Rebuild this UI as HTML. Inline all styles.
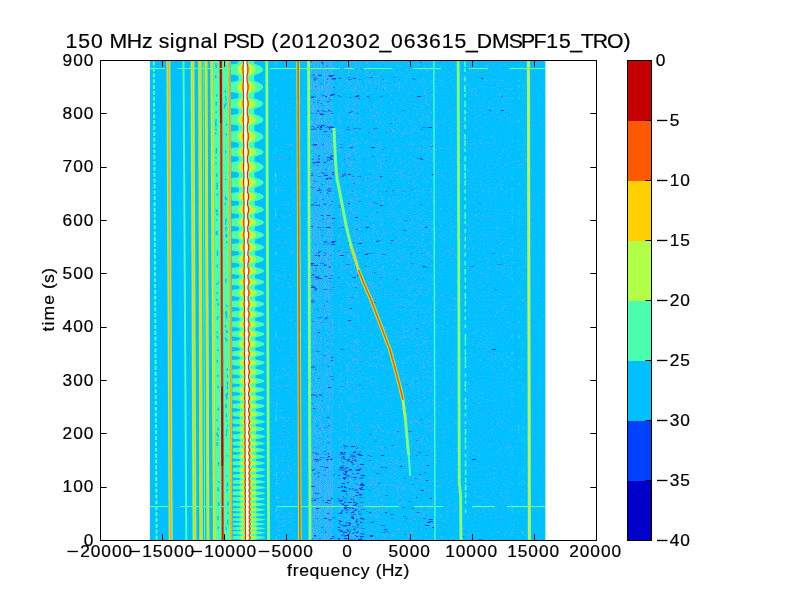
<!DOCTYPE html>
<html><head><meta charset="utf-8"><style>
html,body{margin:0;padding:0;background:#fff;}
svg{display:block;will-change:transform;}
text{font-family:"Liberation Sans",sans-serif;fill:#000;stroke:#000;stroke-width:0.22px;}
</style></head><body>
<svg width="800" height="600" viewBox="0 0 800 600">
<rect width="800" height="600" fill="#fff"/>
<defs><clipPath id="c"><rect x="150" y="61" width="395.6" height="479"/></clipPath></defs>
<g clip-path="url(#c)">
<rect x="150" y="61" width="395.6" height="479" fill="#00c0ff"/>
<path fill="#5cacf6" d="M313 61h2v1h-2zM320 61h2v1h-2zM326 61h1v1h-1zM330 61h2v1h-2zM346 61h1v1h-1zM350 61h1v1h-1zM353 61h1v1h-1zM355 61h1v1h-1zM382 61h1v1h-1zM391 61h2v1h-2zM404 61h1v1h-1zM423 61h1v1h-1zM426 61h1v1h-1zM311 62h2v1h-2zM314 62h2v1h-2zM317 62h2v1h-2zM324 62h2v1h-2zM329 62h1v1h-1zM332 62h1v1h-1zM347 62h2v1h-2zM352 62h1v1h-1zM354 62h2v1h-2zM367 62h2v1h-2zM382 62h1v1h-1zM387 62h1v1h-1zM390 62h1v1h-1zM407 62h1v1h-1zM417 62h2v1h-2zM423 62h1v1h-1zM427 62h2v1h-2zM311 63h1v1h-1zM314 63h2v1h-2zM318 63h1v1h-1zM320 63h1v1h-1zM324 63h1v1h-1zM326 63h1v1h-1zM329 63h1v1h-1zM331 63h1v1h-1zM347 63h2v1h-2zM350 63h1v1h-1zM366 63h2v1h-2zM373 63h1v1h-1zM376 63h1v1h-1zM378 63h1v1h-1zM384 63h1v1h-1zM396 63h1v1h-1zM408 63h1v1h-1zM311 64h1v1h-1zM313 64h1v1h-1zM318 64h1v1h-1zM320 64h1v1h-1zM324 64h2v1h-2zM327 64h1v1h-1zM329 64h2v1h-2zM342 64h1v1h-1zM347 64h1v1h-1zM355 64h1v1h-1zM359 64h2v1h-2zM371 64h1v1h-1zM379 64h1v1h-1zM417 64h2v1h-2zM311 65h1v1h-1zM314 65h1v1h-1zM316 65h2v1h-2zM320 65h2v1h-2zM324 65h2v1h-2zM327 65h1v1h-1zM330 65h2v1h-2zM340 65h1v1h-1zM356 65h1v1h-1zM359 65h1v1h-1zM370 65h1v1h-1zM385 65h1v1h-1zM396 65h1v1h-1zM400 65h1v1h-1zM402 65h1v1h-1zM405 65h1v1h-1zM415 65h2v1h-2zM427 65h1v1h-1zM313 66h1v1h-1zM317 66h1v1h-1zM320 66h1v1h-1zM324 66h1v1h-1zM326 66h1v1h-1zM329 66h1v1h-1zM331 66h2v1h-2zM334 66h1v1h-1zM339 66h2v1h-2zM347 66h2v1h-2zM351 66h1v1h-1zM354 66h1v1h-1zM356 66h1v1h-1zM359 66h1v1h-1zM367 66h2v1h-2zM377 66h1v1h-1zM388 66h1v1h-1zM424 66h1v1h-1zM313 67h1v1h-1zM315 67h1v1h-1zM317 67h1v1h-1zM320 67h1v1h-1zM325 67h2v1h-2zM329 67h2v1h-2zM332 67h2v1h-2zM351 67h1v1h-1zM357 67h1v1h-1zM369 67h1v1h-1zM374 67h1v1h-1zM311 68h1v1h-1zM316 68h1v1h-1zM318 68h2v1h-2zM321 68h2v1h-2zM325 68h1v1h-1zM327 68h2v1h-2zM331 68h1v1h-1zM338 68h2v1h-2zM341 68h2v1h-2zM350 68h2v1h-2zM359 68h1v1h-1zM407 68h1v1h-1zM311 69h2v1h-2zM314 69h1v1h-1zM317 69h2v1h-2zM323 69h2v1h-2zM326 69h1v1h-1zM330 69h2v1h-2zM345 69h1v1h-1zM351 69h1v1h-1zM359 69h1v1h-1zM392 69h2v1h-2zM419 69h1v1h-1zM426 69h1v1h-1zM311 70h1v1h-1zM315 70h1v1h-1zM318 70h1v1h-1zM320 70h2v1h-2zM323 70h1v1h-1zM326 70h2v1h-2zM329 70h2v1h-2zM332 70h1v1h-1zM339 70h1v1h-1zM354 70h1v1h-1zM358 70h1v1h-1zM365 70h2v1h-2zM368 70h1v1h-1zM407 70h1v1h-1zM425 70h1v1h-1zM428 70h1v1h-1zM311 71h1v1h-1zM313 71h1v1h-1zM315 71h2v1h-2zM318 71h1v1h-1zM321 71h1v1h-1zM324 71h1v1h-1zM326 71h2v1h-2zM329 71h1v1h-1zM331 71h1v1h-1zM339 71h1v1h-1zM341 71h1v1h-1zM348 71h2v1h-2zM352 71h1v1h-1zM354 71h1v1h-1zM359 71h2v1h-2zM380 71h1v1h-1zM383 71h2v1h-2zM393 71h2v1h-2zM399 71h1v1h-1zM411 71h1v1h-1zM416 71h1v1h-1zM426 71h2v1h-2zM311 72h1v1h-1zM313 72h2v1h-2zM318 72h1v1h-1zM324 72h1v1h-1zM328 72h2v1h-2zM331 72h2v1h-2zM338 72h1v1h-1zM348 72h2v1h-2zM356 72h2v1h-2zM366 72h2v1h-2zM371 72h2v1h-2zM379 72h2v1h-2zM387 72h1v1h-1zM400 72h2v1h-2zM412 72h1v1h-1zM427 72h1v1h-1zM311 73h2v1h-2zM315 73h2v1h-2zM319 73h1v1h-1zM321 73h1v1h-1zM323 73h2v1h-2zM327 73h1v1h-1zM331 73h2v1h-2zM341 73h2v1h-2zM346 73h1v1h-1zM354 73h1v1h-1zM371 73h1v1h-1zM396 73h1v1h-1zM404 73h1v1h-1zM315 74h2v1h-2zM323 74h2v1h-2zM326 74h2v1h-2zM329 74h1v1h-1zM331 74h2v1h-2zM348 74h1v1h-1zM365 74h2v1h-2zM378 74h1v1h-1zM408 74h2v1h-2zM315 75h2v1h-2zM323 75h2v1h-2zM326 75h1v1h-1zM328 75h1v1h-1zM341 75h2v1h-2zM351 75h1v1h-1zM353 75h1v1h-1zM358 75h1v1h-1zM366 75h1v1h-1zM369 75h1v1h-1zM399 75h1v1h-1zM403 75h1v1h-1zM318 76h2v1h-2zM321 76h2v1h-2zM324 76h1v1h-1zM327 76h1v1h-1zM345 76h1v1h-1zM347 76h1v1h-1zM358 76h1v1h-1zM363 76h1v1h-1zM369 76h1v1h-1zM373 76h2v1h-2zM376 76h2v1h-2zM423 76h1v1h-1zM312 77h1v1h-1zM317 77h1v1h-1zM324 77h1v1h-1zM326 77h1v1h-1zM328 77h2v1h-2zM331 77h1v1h-1zM344 77h1v1h-1zM357 77h2v1h-2zM377 77h1v1h-1zM405 77h1v1h-1zM319 78h2v1h-2zM322 78h2v1h-2zM326 78h1v1h-1zM374 78h1v1h-1zM397 78h2v1h-2zM422 78h1v1h-1zM311 79h2v1h-2zM317 79h1v1h-1zM319 79h1v1h-1zM324 79h2v1h-2zM330 79h1v1h-1zM339 79h1v1h-1zM345 79h1v1h-1zM355 79h1v1h-1zM366 79h1v1h-1zM368 79h1v1h-1zM379 79h2v1h-2zM386 79h1v1h-1zM404 79h1v1h-1zM407 79h1v1h-1zM410 79h1v1h-1zM419 79h1v1h-1zM423 79h2v1h-2zM311 80h1v1h-1zM313 80h2v1h-2zM316 80h2v1h-2zM320 80h1v1h-1zM324 80h1v1h-1zM327 80h2v1h-2zM330 80h2v1h-2zM338 80h1v1h-1zM346 80h2v1h-2zM351 80h2v1h-2zM357 80h2v1h-2zM369 80h1v1h-1zM378 80h2v1h-2zM384 80h2v1h-2zM397 80h1v1h-1zM404 80h2v1h-2zM417 80h1v1h-1zM429 80h1v1h-1zM311 81h1v1h-1zM313 81h1v1h-1zM315 81h1v1h-1zM317 81h1v1h-1zM321 81h1v1h-1zM324 81h1v1h-1zM326 81h1v1h-1zM328 81h1v1h-1zM330 81h1v1h-1zM332 81h2v1h-2zM342 81h1v1h-1zM346 81h2v1h-2zM354 81h2v1h-2zM360 81h1v1h-1zM365 81h1v1h-1zM369 81h2v1h-2zM374 81h2v1h-2zM382 81h2v1h-2zM386 81h2v1h-2zM419 81h2v1h-2zM424 81h2v1h-2zM311 82h1v1h-1zM315 82h2v1h-2zM318 82h1v1h-1zM324 82h2v1h-2zM329 82h1v1h-1zM350 82h1v1h-1zM369 82h1v1h-1zM377 82h1v1h-1zM400 82h1v1h-1zM421 82h2v1h-2zM313 83h2v1h-2zM316 83h1v1h-1zM318 83h1v1h-1zM320 83h1v1h-1zM322 83h1v1h-1zM324 83h1v1h-1zM328 83h2v1h-2zM332 83h1v1h-1zM339 83h1v1h-1zM347 83h1v1h-1zM349 83h1v1h-1zM351 83h2v1h-2zM358 83h2v1h-2zM366 83h1v1h-1zM369 83h2v1h-2zM375 83h2v1h-2zM378 83h2v1h-2zM397 83h2v1h-2zM410 83h1v1h-1zM311 84h1v1h-1zM313 84h1v1h-1zM315 84h2v1h-2zM324 84h1v1h-1zM327 84h2v1h-2zM340 84h2v1h-2zM347 84h1v1h-1zM357 84h2v1h-2zM370 84h1v1h-1zM375 84h1v1h-1zM392 84h1v1h-1zM395 84h1v1h-1zM399 84h1v1h-1zM401 84h2v1h-2zM405 84h2v1h-2zM412 84h2v1h-2zM418 84h1v1h-1zM427 84h1v1h-1zM311 85h1v1h-1zM313 85h1v1h-1zM315 85h2v1h-2zM318 85h1v1h-1zM320 85h1v1h-1zM324 85h1v1h-1zM326 85h2v1h-2zM331 85h2v1h-2zM348 85h2v1h-2zM355 85h1v1h-1zM357 85h1v1h-1zM365 85h1v1h-1zM383 85h1v1h-1zM385 85h2v1h-2zM395 85h2v1h-2zM422 85h1v1h-1zM311 86h1v1h-1zM313 86h2v1h-2zM317 86h1v1h-1zM319 86h1v1h-1zM321 86h2v1h-2zM324 86h2v1h-2zM327 86h2v1h-2zM331 86h2v1h-2zM340 86h1v1h-1zM354 86h1v1h-1zM357 86h1v1h-1zM359 86h1v1h-1zM361 86h2v1h-2zM374 86h1v1h-1zM381 86h1v1h-1zM399 86h2v1h-2zM407 86h1v1h-1zM415 86h1v1h-1zM311 87h1v1h-1zM313 87h1v1h-1zM316 87h1v1h-1zM318 87h2v1h-2zM321 87h2v1h-2zM324 87h1v1h-1zM326 87h1v1h-1zM328 87h1v1h-1zM330 87h2v1h-2zM338 87h1v1h-1zM347 87h1v1h-1zM351 87h2v1h-2zM355 87h1v1h-1zM359 87h1v1h-1zM366 87h2v1h-2zM373 87h1v1h-1zM375 87h1v1h-1zM379 87h1v1h-1zM382 87h1v1h-1zM384 87h2v1h-2zM398 87h2v1h-2zM402 87h1v1h-1zM423 87h1v1h-1zM311 88h1v1h-1zM313 88h2v1h-2zM316 88h1v1h-1zM318 88h2v1h-2zM321 88h2v1h-2zM324 88h1v1h-1zM327 88h1v1h-1zM329 88h1v1h-1zM332 88h1v1h-1zM340 88h1v1h-1zM354 88h2v1h-2zM357 88h1v1h-1zM365 88h1v1h-1zM372 88h1v1h-1zM376 88h2v1h-2zM384 88h2v1h-2zM414 88h2v1h-2zM425 88h1v1h-1zM427 88h1v1h-1zM311 89h2v1h-2zM315 89h2v1h-2zM318 89h2v1h-2zM321 89h2v1h-2zM324 89h1v1h-1zM326 89h2v1h-2zM329 89h1v1h-1zM331 89h1v1h-1zM338 89h1v1h-1zM340 89h1v1h-1zM349 89h2v1h-2zM354 89h1v1h-1zM357 89h2v1h-2zM366 89h1v1h-1zM373 89h1v1h-1zM378 89h1v1h-1zM383 89h2v1h-2zM398 89h2v1h-2zM404 89h2v1h-2zM429 89h1v1h-1zM314 90h1v1h-1zM318 90h1v1h-1zM320 90h2v1h-2zM326 90h1v1h-1zM328 90h1v1h-1zM331 90h1v1h-1zM341 90h1v1h-1zM343 90h2v1h-2zM346 90h1v1h-1zM350 90h1v1h-1zM353 90h1v1h-1zM358 90h1v1h-1zM364 90h1v1h-1zM425 90h1v1h-1zM313 91h1v1h-1zM315 91h1v1h-1zM317 91h1v1h-1zM319 91h1v1h-1zM321 91h1v1h-1zM324 91h1v1h-1zM326 91h2v1h-2zM329 91h2v1h-2zM352 91h1v1h-1zM354 91h1v1h-1zM359 91h1v1h-1zM378 91h2v1h-2zM391 91h2v1h-2zM409 91h2v1h-2zM424 91h2v1h-2zM313 92h2v1h-2zM317 92h2v1h-2zM322 92h2v1h-2zM326 92h1v1h-1zM330 92h1v1h-1zM347 92h1v1h-1zM368 92h2v1h-2zM384 92h1v1h-1zM311 93h1v1h-1zM313 93h1v1h-1zM317 93h1v1h-1zM319 93h1v1h-1zM323 93h1v1h-1zM325 93h2v1h-2zM328 93h1v1h-1zM330 93h1v1h-1zM339 93h1v1h-1zM341 93h1v1h-1zM353 93h2v1h-2zM356 93h1v1h-1zM366 93h2v1h-2zM371 93h1v1h-1zM401 93h1v1h-1zM408 93h2v1h-2zM424 93h2v1h-2zM312 94h1v1h-1zM316 94h1v1h-1zM319 94h1v1h-1zM324 94h2v1h-2zM329 94h1v1h-1zM338 94h1v1h-1zM340 94h1v1h-1zM407 94h2v1h-2zM424 94h2v1h-2zM429 94h1v1h-1zM317 95h2v1h-2zM326 95h1v1h-1zM328 95h1v1h-1zM341 95h1v1h-1zM353 95h1v1h-1zM360 95h1v1h-1zM390 95h2v1h-2zM427 95h1v1h-1zM313 96h2v1h-2zM318 96h2v1h-2zM328 96h2v1h-2zM331 96h1v1h-1zM425 96h2v1h-2zM316 97h1v1h-1zM320 97h1v1h-1zM323 97h2v1h-2zM327 97h1v1h-1zM331 97h2v1h-2zM357 97h1v1h-1zM375 97h1v1h-1zM398 97h1v1h-1zM422 97h1v1h-1zM312 98h2v1h-2zM315 98h2v1h-2zM320 98h2v1h-2zM324 98h2v1h-2zM327 98h1v1h-1zM330 98h2v1h-2zM349 98h1v1h-1zM413 98h1v1h-1zM311 99h1v1h-1zM313 99h1v1h-1zM315 99h2v1h-2zM318 99h2v1h-2zM321 99h2v1h-2zM324 99h1v1h-1zM327 99h1v1h-1zM339 99h2v1h-2zM348 99h1v1h-1zM352 99h1v1h-1zM356 99h1v1h-1zM358 99h1v1h-1zM397 99h1v1h-1zM402 99h2v1h-2zM405 99h1v1h-1zM411 99h1v1h-1zM415 99h1v1h-1zM421 99h1v1h-1zM426 99h1v1h-1zM321 100h1v1h-1zM327 100h1v1h-1zM339 100h1v1h-1zM354 100h2v1h-2zM357 100h1v1h-1zM366 100h1v1h-1zM380 100h1v1h-1zM411 100h1v1h-1zM425 100h1v1h-1zM312 101h1v1h-1zM314 101h1v1h-1zM316 101h1v1h-1zM319 101h1v1h-1zM321 101h1v1h-1zM324 101h1v1h-1zM328 101h2v1h-2zM331 101h1v1h-1zM342 101h1v1h-1zM345 101h2v1h-2zM352 101h2v1h-2zM356 101h1v1h-1zM362 101h1v1h-1zM379 101h1v1h-1zM391 101h1v1h-1zM395 101h2v1h-2zM311 102h2v1h-2zM314 102h1v1h-1zM316 102h1v1h-1zM320 102h1v1h-1zM324 102h1v1h-1zM326 102h1v1h-1zM331 102h1v1h-1zM349 102h1v1h-1zM357 102h1v1h-1zM374 102h1v1h-1zM377 102h1v1h-1zM381 102h1v1h-1zM391 102h1v1h-1zM404 102h2v1h-2zM425 102h1v1h-1zM311 103h2v1h-2zM314 103h1v1h-1zM316 103h1v1h-1zM319 103h2v1h-2zM324 103h1v1h-1zM326 103h1v1h-1zM329 103h2v1h-2zM348 103h2v1h-2zM354 103h2v1h-2zM363 103h1v1h-1zM375 103h1v1h-1zM391 103h1v1h-1zM410 103h1v1h-1zM425 103h2v1h-2zM311 104h1v1h-1zM313 104h1v1h-1zM318 104h2v1h-2zM321 104h2v1h-2zM324 104h2v1h-2zM327 104h1v1h-1zM331 104h2v1h-2zM347 104h2v1h-2zM352 104h1v1h-1zM354 104h1v1h-1zM364 104h1v1h-1zM367 104h1v1h-1zM374 104h1v1h-1zM401 104h1v1h-1zM415 104h2v1h-2zM428 104h2v1h-2zM312 105h1v1h-1zM314 105h1v1h-1zM316 105h1v1h-1zM318 105h1v1h-1zM326 105h1v1h-1zM328 105h2v1h-2zM332 105h1v1h-1zM338 105h1v1h-1zM354 105h2v1h-2zM373 105h2v1h-2zM381 105h2v1h-2zM393 105h2v1h-2zM421 105h2v1h-2zM427 105h2v1h-2zM312 106h2v1h-2zM315 106h1v1h-1zM317 106h1v1h-1zM320 106h1v1h-1zM324 106h1v1h-1zM327 106h1v1h-1zM339 106h1v1h-1zM345 106h1v1h-1zM393 106h1v1h-1zM312 107h2v1h-2zM316 107h1v1h-1zM319 107h1v1h-1zM324 107h1v1h-1zM327 107h2v1h-2zM330 107h1v1h-1zM347 107h1v1h-1zM374 107h2v1h-2zM377 107h1v1h-1zM311 108h1v1h-1zM313 108h2v1h-2zM316 108h1v1h-1zM320 108h2v1h-2zM325 108h1v1h-1zM329 108h1v1h-1zM331 108h2v1h-2zM338 108h1v1h-1zM347 108h2v1h-2zM352 108h2v1h-2zM365 108h1v1h-1zM401 108h1v1h-1zM413 108h2v1h-2zM420 108h1v1h-1zM311 109h2v1h-2zM314 109h1v1h-1zM316 109h2v1h-2zM320 109h2v1h-2zM324 109h2v1h-2zM327 109h1v1h-1zM329 109h1v1h-1zM331 109h1v1h-1zM353 109h1v1h-1zM370 109h2v1h-2zM374 109h1v1h-1zM394 109h1v1h-1zM312 110h2v1h-2zM315 110h1v1h-1zM318 110h2v1h-2zM325 110h2v1h-2zM332 110h1v1h-1zM341 110h1v1h-1zM353 110h1v1h-1zM355 110h2v1h-2zM358 110h2v1h-2zM366 110h1v1h-1zM372 110h1v1h-1zM395 110h1v1h-1zM428 110h2v1h-2zM312 111h2v1h-2zM315 111h1v1h-1zM341 111h1v1h-1zM346 111h2v1h-2zM408 111h1v1h-1zM420 111h1v1h-1zM312 112h1v1h-1zM314 112h1v1h-1zM316 112h1v1h-1zM318 112h1v1h-1zM320 112h1v1h-1zM324 112h1v1h-1zM326 112h1v1h-1zM328 112h1v1h-1zM330 112h2v1h-2zM339 112h1v1h-1zM342 112h1v1h-1zM376 112h2v1h-2zM379 112h1v1h-1zM384 112h2v1h-2zM402 112h1v1h-1zM407 112h1v1h-1zM427 112h1v1h-1zM318 113h1v1h-1zM320 113h1v1h-1zM322 113h2v1h-2zM327 113h1v1h-1zM329 113h1v1h-1zM339 113h1v1h-1zM351 113h2v1h-2zM392 113h2v1h-2zM402 113h1v1h-1zM311 114h1v1h-1zM315 114h1v1h-1zM317 114h1v1h-1zM325 114h2v1h-2zM329 114h1v1h-1zM331 114h2v1h-2zM340 114h1v1h-1zM345 114h1v1h-1zM349 114h1v1h-1zM351 114h2v1h-2zM356 114h1v1h-1zM377 114h2v1h-2zM416 114h2v1h-2zM421 114h1v1h-1zM423 114h1v1h-1zM311 115h1v1h-1zM313 115h1v1h-1zM315 115h1v1h-1zM317 115h1v1h-1zM319 115h1v1h-1zM321 115h2v1h-2zM324 115h1v1h-1zM326 115h1v1h-1zM329 115h1v1h-1zM331 115h1v1h-1zM338 115h1v1h-1zM351 115h1v1h-1zM353 115h1v1h-1zM358 115h2v1h-2zM364 115h1v1h-1zM372 115h1v1h-1zM374 115h2v1h-2zM383 115h1v1h-1zM389 115h1v1h-1zM396 115h1v1h-1zM405 115h1v1h-1zM413 115h1v1h-1zM426 115h1v1h-1zM312 116h1v1h-1zM314 116h1v1h-1zM318 116h1v1h-1zM320 116h2v1h-2zM325 116h1v1h-1zM329 116h1v1h-1zM331 116h1v1h-1zM344 116h1v1h-1zM353 116h1v1h-1zM355 116h2v1h-2zM375 116h1v1h-1zM395 116h1v1h-1zM399 116h2v1h-2zM426 116h2v1h-2zM429 116h1v1h-1zM313 117h1v1h-1zM316 117h1v1h-1zM318 117h1v1h-1zM320 117h2v1h-2zM324 117h2v1h-2zM327 117h1v1h-1zM330 117h1v1h-1zM332 117h1v1h-1zM338 117h1v1h-1zM348 117h1v1h-1zM350 117h1v1h-1zM352 117h1v1h-1zM366 117h2v1h-2zM372 117h2v1h-2zM428 117h1v1h-1zM312 118h1v1h-1zM316 118h2v1h-2zM319 118h1v1h-1zM323 118h2v1h-2zM326 118h1v1h-1zM328 118h1v1h-1zM332 118h2v1h-2zM338 118h1v1h-1zM348 118h1v1h-1zM350 118h1v1h-1zM352 118h1v1h-1zM355 118h1v1h-1zM363 118h1v1h-1zM369 118h2v1h-2zM373 118h2v1h-2zM388 118h1v1h-1zM392 118h2v1h-2zM403 118h1v1h-1zM421 118h2v1h-2zM319 119h1v1h-1zM324 119h2v1h-2zM338 119h1v1h-1zM359 119h1v1h-1zM399 119h1v1h-1zM311 120h1v1h-1zM315 120h1v1h-1zM317 120h1v1h-1zM319 120h1v1h-1zM321 120h1v1h-1zM324 120h1v1h-1zM326 120h1v1h-1zM328 120h1v1h-1zM330 120h1v1h-1zM332 120h1v1h-1zM340 120h2v1h-2zM347 120h1v1h-1zM354 120h1v1h-1zM359 120h1v1h-1zM376 120h1v1h-1zM399 120h2v1h-2zM409 120h2v1h-2zM418 120h2v1h-2zM421 120h1v1h-1zM426 120h1v1h-1zM311 121h1v1h-1zM313 121h1v1h-1zM316 121h1v1h-1zM318 121h2v1h-2zM321 121h2v1h-2zM325 121h2v1h-2zM329 121h1v1h-1zM331 121h1v1h-1zM338 121h1v1h-1zM352 121h1v1h-1zM358 121h1v1h-1zM375 121h2v1h-2zM381 121h1v1h-1zM392 121h2v1h-2zM396 121h2v1h-2zM411 121h2v1h-2zM428 121h1v1h-1zM311 122h2v1h-2zM314 122h1v1h-1zM316 122h2v1h-2zM319 122h1v1h-1zM321 122h2v1h-2zM324 122h1v1h-1zM326 122h1v1h-1zM330 122h1v1h-1zM339 122h1v1h-1zM346 122h2v1h-2zM350 122h2v1h-2zM354 122h1v1h-1zM356 122h1v1h-1zM359 122h2v1h-2zM378 122h2v1h-2zM383 122h2v1h-2zM388 122h1v1h-1zM394 122h1v1h-1zM421 122h2v1h-2zM311 123h2v1h-2zM315 123h2v1h-2zM318 123h1v1h-1zM321 123h1v1h-1zM324 123h1v1h-1zM327 123h1v1h-1zM329 123h1v1h-1zM331 123h1v1h-1zM340 123h1v1h-1zM347 123h1v1h-1zM358 123h1v1h-1zM370 123h1v1h-1zM379 123h2v1h-2zM409 123h2v1h-2zM418 123h1v1h-1zM311 124h1v1h-1zM314 124h2v1h-2zM318 124h1v1h-1zM327 124h1v1h-1zM329 124h2v1h-2zM332 124h2v1h-2zM340 124h1v1h-1zM349 124h1v1h-1zM351 124h1v1h-1zM356 124h1v1h-1zM363 124h2v1h-2zM403 124h1v1h-1zM421 124h2v1h-2zM311 125h1v1h-1zM313 125h2v1h-2zM326 125h1v1h-1zM328 125h1v1h-1zM331 125h1v1h-1zM354 125h2v1h-2zM358 125h1v1h-1zM382 125h2v1h-2zM396 125h2v1h-2zM405 125h1v1h-1zM413 125h1v1h-1zM316 126h1v1h-1zM325 126h1v1h-1zM339 126h1v1h-1zM359 126h1v1h-1zM377 126h1v1h-1zM312 127h2v1h-2zM350 127h1v1h-1zM368 127h1v1h-1zM393 127h1v1h-1zM416 127h1v1h-1zM317 128h1v1h-1zM319 128h1v1h-1zM323 128h1v1h-1zM325 128h1v1h-1zM327 128h1v1h-1zM331 128h2v1h-2zM336 128h1v1h-1zM351 128h2v1h-2zM365 128h1v1h-1zM397 128h2v1h-2zM405 128h1v1h-1zM429 128h1v1h-1zM314 129h1v1h-1zM316 129h2v1h-2zM325 129h1v1h-1zM332 129h2v1h-2zM342 129h2v1h-2zM377 129h1v1h-1zM385 129h1v1h-1zM390 129h2v1h-2zM413 129h1v1h-1zM415 129h1v1h-1zM312 130h1v1h-1zM314 130h1v1h-1zM316 130h2v1h-2zM319 130h1v1h-1zM324 130h1v1h-1zM326 130h1v1h-1zM328 130h1v1h-1zM330 130h1v1h-1zM332 130h2v1h-2zM338 130h2v1h-2zM341 130h1v1h-1zM355 130h2v1h-2zM370 130h1v1h-1zM375 130h1v1h-1zM392 130h2v1h-2zM399 130h1v1h-1zM412 130h1v1h-1zM414 130h1v1h-1zM419 130h1v1h-1zM311 131h2v1h-2zM314 131h2v1h-2zM318 131h1v1h-1zM320 131h2v1h-2zM346 131h1v1h-1zM351 131h2v1h-2zM392 131h2v1h-2zM404 131h2v1h-2zM412 131h1v1h-1zM312 132h2v1h-2zM315 132h1v1h-1zM318 132h1v1h-1zM324 132h1v1h-1zM326 132h1v1h-1zM328 132h1v1h-1zM332 132h1v1h-1zM340 132h1v1h-1zM351 132h1v1h-1zM371 132h1v1h-1zM373 132h1v1h-1zM384 132h1v1h-1zM407 132h1v1h-1zM410 132h2v1h-2zM311 133h1v1h-1zM314 133h1v1h-1zM318 133h1v1h-1zM320 133h1v1h-1zM325 133h1v1h-1zM327 133h1v1h-1zM329 133h2v1h-2zM338 133h1v1h-1zM340 133h1v1h-1zM343 133h1v1h-1zM351 133h1v1h-1zM353 133h2v1h-2zM366 133h1v1h-1zM386 133h1v1h-1zM396 133h1v1h-1zM400 133h1v1h-1zM402 133h2v1h-2zM406 133h2v1h-2zM412 133h1v1h-1zM422 133h1v1h-1zM427 133h1v1h-1zM312 134h1v1h-1zM331 134h1v1h-1zM342 134h1v1h-1zM357 134h1v1h-1zM374 134h1v1h-1zM403 134h1v1h-1zM426 134h1v1h-1zM314 135h1v1h-1zM316 135h1v1h-1zM318 135h1v1h-1zM320 135h2v1h-2zM324 135h1v1h-1zM328 135h1v1h-1zM331 135h1v1h-1zM415 135h2v1h-2zM311 136h2v1h-2zM314 136h1v1h-1zM317 136h2v1h-2zM321 136h1v1h-1zM323 136h1v1h-1zM325 136h1v1h-1zM327 136h1v1h-1zM329 136h1v1h-1zM331 136h1v1h-1zM341 136h1v1h-1zM347 136h1v1h-1zM355 136h2v1h-2zM373 136h2v1h-2zM393 136h1v1h-1zM400 136h1v1h-1zM402 136h1v1h-1zM315 137h1v1h-1zM320 137h2v1h-2zM325 137h1v1h-1zM381 137h1v1h-1zM311 138h1v1h-1zM313 138h1v1h-1zM317 138h1v1h-1zM319 138h1v1h-1zM321 138h1v1h-1zM324 138h1v1h-1zM326 138h2v1h-2zM329 138h1v1h-1zM332 138h1v1h-1zM342 138h1v1h-1zM352 138h2v1h-2zM392 138h1v1h-1zM419 138h1v1h-1zM313 139h1v1h-1zM316 139h1v1h-1zM318 139h2v1h-2zM327 139h1v1h-1zM331 139h1v1h-1zM338 139h2v1h-2zM341 139h1v1h-1zM352 139h1v1h-1zM407 139h1v1h-1zM319 140h2v1h-2zM325 140h1v1h-1zM329 140h2v1h-2zM332 140h1v1h-1zM386 140h1v1h-1zM311 141h2v1h-2zM315 141h2v1h-2zM319 141h1v1h-1zM321 141h1v1h-1zM323 141h2v1h-2zM326 141h1v1h-1zM329 141h1v1h-1zM332 141h1v1h-1zM338 141h2v1h-2zM351 141h2v1h-2zM355 141h1v1h-1zM367 141h1v1h-1zM374 141h1v1h-1zM379 141h2v1h-2zM396 141h1v1h-1zM410 141h2v1h-2zM422 141h1v1h-1zM425 141h2v1h-2zM314 142h1v1h-1zM316 142h2v1h-2zM324 142h2v1h-2zM327 142h1v1h-1zM331 142h1v1h-1zM357 142h1v1h-1zM364 142h1v1h-1zM366 142h1v1h-1zM369 142h2v1h-2zM382 142h1v1h-1zM407 142h1v1h-1zM422 142h1v1h-1zM427 142h1v1h-1zM311 143h2v1h-2zM314 143h1v1h-1zM316 143h2v1h-2zM319 143h2v1h-2zM324 143h2v1h-2zM327 143h1v1h-1zM329 143h1v1h-1zM331 143h1v1h-1zM339 143h1v1h-1zM346 143h2v1h-2zM354 143h2v1h-2zM357 143h1v1h-1zM360 143h1v1h-1zM366 143h1v1h-1zM373 143h1v1h-1zM379 143h1v1h-1zM388 143h1v1h-1zM396 143h1v1h-1zM401 143h1v1h-1zM409 143h1v1h-1zM412 143h1v1h-1zM426 143h1v1h-1zM312 144h1v1h-1zM318 144h1v1h-1zM320 144h1v1h-1zM325 144h1v1h-1zM327 144h1v1h-1zM329 144h1v1h-1zM331 144h2v1h-2zM350 144h2v1h-2zM353 144h1v1h-1zM355 144h1v1h-1zM376 144h2v1h-2zM408 144h2v1h-2zM412 144h2v1h-2zM417 144h1v1h-1zM311 145h1v1h-1zM318 145h2v1h-2zM324 145h1v1h-1zM326 145h2v1h-2zM329 145h1v1h-1zM331 145h2v1h-2zM349 145h1v1h-1zM351 145h1v1h-1zM373 145h2v1h-2zM378 145h1v1h-1zM380 145h1v1h-1zM403 145h1v1h-1zM411 145h1v1h-1zM414 145h1v1h-1zM423 145h1v1h-1zM312 146h1v1h-1zM315 146h2v1h-2zM318 146h1v1h-1zM321 146h1v1h-1zM326 146h1v1h-1zM328 146h1v1h-1zM330 146h2v1h-2zM350 146h2v1h-2zM353 146h1v1h-1zM311 147h2v1h-2zM314 147h1v1h-1zM317 147h1v1h-1zM319 147h1v1h-1zM321 147h1v1h-1zM324 147h1v1h-1zM327 147h2v1h-2zM330 147h1v1h-1zM332 147h1v1h-1zM348 147h1v1h-1zM380 147h1v1h-1zM382 147h1v1h-1zM396 147h1v1h-1zM409 147h1v1h-1zM419 147h2v1h-2zM427 147h2v1h-2zM311 148h2v1h-2zM314 148h1v1h-1zM316 148h1v1h-1zM318 148h1v1h-1zM320 148h1v1h-1zM324 148h1v1h-1zM326 148h2v1h-2zM329 148h2v1h-2zM332 148h1v1h-1zM339 148h2v1h-2zM344 148h2v1h-2zM353 148h1v1h-1zM356 148h1v1h-1zM358 148h1v1h-1zM365 148h1v1h-1zM375 148h2v1h-2zM381 148h1v1h-1zM396 148h1v1h-1zM398 148h1v1h-1zM404 148h1v1h-1zM408 148h1v1h-1zM416 148h1v1h-1zM418 148h1v1h-1zM427 148h1v1h-1zM429 148h1v1h-1zM311 149h1v1h-1zM314 149h2v1h-2zM318 149h2v1h-2zM322 149h1v1h-1zM324 149h1v1h-1zM326 149h2v1h-2zM330 149h1v1h-1zM339 149h1v1h-1zM348 149h1v1h-1zM354 149h1v1h-1zM382 149h1v1h-1zM395 149h2v1h-2zM407 149h1v1h-1zM423 149h1v1h-1zM312 150h1v1h-1zM314 150h2v1h-2zM317 150h1v1h-1zM319 150h1v1h-1zM321 150h2v1h-2zM324 150h1v1h-1zM328 150h1v1h-1zM330 150h2v1h-2zM335 150h1v1h-1zM338 150h2v1h-2zM341 150h1v1h-1zM353 150h1v1h-1zM355 150h1v1h-1zM358 150h1v1h-1zM363 150h1v1h-1zM365 150h2v1h-2zM368 150h1v1h-1zM373 150h1v1h-1zM377 150h1v1h-1zM379 150h1v1h-1zM385 150h1v1h-1zM390 150h1v1h-1zM410 150h2v1h-2zM417 150h2v1h-2zM424 150h1v1h-1zM428 150h1v1h-1zM314 151h1v1h-1zM316 151h1v1h-1zM318 151h1v1h-1zM321 151h1v1h-1zM324 151h2v1h-2zM327 151h1v1h-1zM329 151h2v1h-2zM332 151h1v1h-1zM339 151h1v1h-1zM347 151h1v1h-1zM350 151h1v1h-1zM353 151h1v1h-1zM376 151h1v1h-1zM381 151h1v1h-1zM388 151h1v1h-1zM397 151h2v1h-2zM401 151h1v1h-1zM423 151h1v1h-1zM425 151h1v1h-1zM312 152h2v1h-2zM316 152h2v1h-2zM319 152h1v1h-1zM321 152h1v1h-1zM326 152h1v1h-1zM329 152h1v1h-1zM331 152h1v1h-1zM340 152h1v1h-1zM344 152h2v1h-2zM348 152h1v1h-1zM350 152h2v1h-2zM355 152h2v1h-2zM358 152h1v1h-1zM368 152h1v1h-1zM423 152h1v1h-1zM318 153h1v1h-1zM321 153h1v1h-1zM329 153h1v1h-1zM355 153h1v1h-1zM413 153h1v1h-1zM416 153h1v1h-1zM311 154h2v1h-2zM314 154h1v1h-1zM317 154h1v1h-1zM321 154h2v1h-2zM325 154h1v1h-1zM327 154h1v1h-1zM329 154h1v1h-1zM332 154h2v1h-2zM347 154h1v1h-1zM349 154h2v1h-2zM355 154h1v1h-1zM363 154h1v1h-1zM384 154h1v1h-1zM387 154h2v1h-2zM409 154h1v1h-1zM421 154h1v1h-1zM427 154h1v1h-1zM311 155h2v1h-2zM314 155h1v1h-1zM317 155h1v1h-1zM319 155h1v1h-1zM324 155h1v1h-1zM326 155h2v1h-2zM330 155h1v1h-1zM332 155h1v1h-1zM342 155h1v1h-1zM345 155h2v1h-2zM348 155h2v1h-2zM359 155h2v1h-2zM364 155h1v1h-1zM368 155h1v1h-1zM382 155h2v1h-2zM385 155h1v1h-1zM404 155h1v1h-1zM418 155h1v1h-1zM428 155h1v1h-1zM311 156h1v1h-1zM321 156h2v1h-2zM327 156h2v1h-2zM346 156h2v1h-2zM358 156h2v1h-2zM367 156h2v1h-2zM410 156h1v1h-1zM311 157h2v1h-2zM315 157h2v1h-2zM319 157h2v1h-2zM324 157h2v1h-2zM332 157h1v1h-1zM347 157h1v1h-1zM349 157h2v1h-2zM353 157h1v1h-1zM356 157h1v1h-1zM384 157h1v1h-1zM400 157h1v1h-1zM408 157h1v1h-1zM315 158h2v1h-2zM323 158h2v1h-2zM328 158h1v1h-1zM356 158h1v1h-1zM373 158h1v1h-1zM378 158h1v1h-1zM386 158h1v1h-1zM413 158h1v1h-1zM318 159h1v1h-1zM320 159h1v1h-1zM328 159h1v1h-1zM346 159h2v1h-2zM376 159h1v1h-1zM379 159h1v1h-1zM383 159h2v1h-2zM392 159h1v1h-1zM399 159h2v1h-2zM414 159h1v1h-1zM426 159h2v1h-2zM311 160h1v1h-1zM313 160h1v1h-1zM315 160h1v1h-1zM317 160h1v1h-1zM320 160h1v1h-1zM325 160h1v1h-1zM331 160h2v1h-2zM377 160h2v1h-2zM380 160h1v1h-1zM392 160h1v1h-1zM415 160h2v1h-2zM428 160h1v1h-1zM311 161h1v1h-1zM313 161h1v1h-1zM315 161h1v1h-1zM317 161h1v1h-1zM320 161h2v1h-2zM324 161h1v1h-1zM328 161h1v1h-1zM330 161h1v1h-1zM332 161h1v1h-1zM340 161h1v1h-1zM346 161h1v1h-1zM348 161h1v1h-1zM351 161h2v1h-2zM356 161h1v1h-1zM360 161h1v1h-1zM366 161h1v1h-1zM379 161h2v1h-2zM402 161h1v1h-1zM408 161h2v1h-2zM415 161h1v1h-1zM425 161h1v1h-1zM328 162h2v1h-2zM347 162h2v1h-2zM350 162h2v1h-2zM353 162h2v1h-2zM358 162h2v1h-2zM400 162h2v1h-2zM417 162h1v1h-1zM311 163h1v1h-1zM313 163h2v1h-2zM318 163h2v1h-2zM321 163h2v1h-2zM329 163h2v1h-2zM342 163h2v1h-2zM346 163h1v1h-1zM350 163h1v1h-1zM367 163h2v1h-2zM380 163h2v1h-2zM383 163h1v1h-1zM391 163h1v1h-1zM401 163h1v1h-1zM319 164h2v1h-2zM326 164h1v1h-1zM332 164h1v1h-1zM342 164h2v1h-2zM351 164h1v1h-1zM389 164h1v1h-1zM414 164h1v1h-1zM311 165h1v1h-1zM316 165h1v1h-1zM321 165h2v1h-2zM325 165h2v1h-2zM328 165h2v1h-2zM332 165h2v1h-2zM349 165h2v1h-2zM353 165h2v1h-2zM358 165h1v1h-1zM366 165h1v1h-1zM378 165h1v1h-1zM385 165h2v1h-2zM410 165h1v1h-1zM415 165h1v1h-1zM420 165h1v1h-1zM422 165h1v1h-1zM314 166h2v1h-2zM319 166h1v1h-1zM321 166h1v1h-1zM325 166h2v1h-2zM330 166h1v1h-1zM340 166h2v1h-2zM349 166h2v1h-2zM355 166h1v1h-1zM358 166h1v1h-1zM380 166h1v1h-1zM396 166h1v1h-1zM404 166h2v1h-2zM429 166h1v1h-1zM312 167h2v1h-2zM316 167h2v1h-2zM320 167h2v1h-2zM324 167h2v1h-2zM328 167h2v1h-2zM331 167h2v1h-2zM380 167h2v1h-2zM391 167h1v1h-1zM395 167h1v1h-1zM412 167h1v1h-1zM421 167h1v1h-1zM423 167h1v1h-1zM311 168h1v1h-1zM313 168h1v1h-1zM315 168h2v1h-2zM318 168h1v1h-1zM320 168h2v1h-2zM326 168h1v1h-1zM328 168h2v1h-2zM331 168h1v1h-1zM335 168h1v1h-1zM338 168h1v1h-1zM347 168h1v1h-1zM350 168h1v1h-1zM352 168h2v1h-2zM356 168h1v1h-1zM359 168h2v1h-2zM378 168h1v1h-1zM380 168h2v1h-2zM422 168h1v1h-1zM427 168h2v1h-2zM311 169h1v1h-1zM313 169h1v1h-1zM319 169h1v1h-1zM323 169h1v1h-1zM325 169h1v1h-1zM328 169h2v1h-2zM331 169h1v1h-1zM339 169h1v1h-1zM346 169h1v1h-1zM348 169h1v1h-1zM353 169h1v1h-1zM360 169h1v1h-1zM365 169h1v1h-1zM394 169h1v1h-1zM396 169h1v1h-1zM399 169h1v1h-1zM405 169h1v1h-1zM414 169h1v1h-1zM311 170h2v1h-2zM314 170h1v1h-1zM317 170h2v1h-2zM320 170h1v1h-1zM326 170h1v1h-1zM331 170h2v1h-2zM358 170h1v1h-1zM367 170h2v1h-2zM372 170h2v1h-2zM399 170h1v1h-1zM416 170h2v1h-2zM314 171h2v1h-2zM318 171h2v1h-2zM321 171h1v1h-1zM323 171h2v1h-2zM328 171h1v1h-1zM332 171h2v1h-2zM341 171h1v1h-1zM348 171h1v1h-1zM351 171h1v1h-1zM360 171h1v1h-1zM369 171h1v1h-1zM377 171h1v1h-1zM379 171h1v1h-1zM382 171h1v1h-1zM400 171h2v1h-2zM409 171h1v1h-1zM311 172h2v1h-2zM314 172h2v1h-2zM317 172h2v1h-2zM325 172h1v1h-1zM328 172h1v1h-1zM330 172h1v1h-1zM340 172h2v1h-2zM347 172h2v1h-2zM353 172h1v1h-1zM359 172h1v1h-1zM376 172h2v1h-2zM388 172h2v1h-2zM397 172h2v1h-2zM400 172h2v1h-2zM428 172h1v1h-1zM315 173h2v1h-2zM321 173h2v1h-2zM331 173h1v1h-1zM347 173h1v1h-1zM351 173h1v1h-1zM353 173h1v1h-1zM355 173h2v1h-2zM372 173h1v1h-1zM375 173h1v1h-1zM381 173h2v1h-2zM385 173h1v1h-1zM394 173h2v1h-2zM408 173h2v1h-2zM418 173h2v1h-2zM311 174h1v1h-1zM313 174h2v1h-2zM318 174h1v1h-1zM320 174h2v1h-2zM324 174h1v1h-1zM326 174h1v1h-1zM328 174h1v1h-1zM330 174h1v1h-1zM338 174h2v1h-2zM356 174h1v1h-1zM358 174h1v1h-1zM372 174h1v1h-1zM375 174h1v1h-1zM400 174h2v1h-2zM403 174h1v1h-1zM413 174h1v1h-1zM416 174h2v1h-2zM426 174h1v1h-1zM318 175h2v1h-2zM321 175h2v1h-2zM329 175h2v1h-2zM332 175h1v1h-1zM340 175h1v1h-1zM356 175h2v1h-2zM403 175h2v1h-2zM313 176h1v1h-1zM315 176h1v1h-1zM325 176h1v1h-1zM327 176h1v1h-1zM329 176h1v1h-1zM332 176h1v1h-1zM350 176h1v1h-1zM365 176h2v1h-2zM369 176h2v1h-2zM378 176h1v1h-1zM391 176h1v1h-1zM395 176h1v1h-1zM402 176h1v1h-1zM406 176h1v1h-1zM409 176h2v1h-2zM421 176h1v1h-1zM311 177h2v1h-2zM314 177h2v1h-2zM317 177h1v1h-1zM319 177h1v1h-1zM321 177h2v1h-2zM324 177h1v1h-1zM326 177h1v1h-1zM328 177h1v1h-1zM331 177h2v1h-2zM341 177h1v1h-1zM348 177h1v1h-1zM350 177h1v1h-1zM352 177h1v1h-1zM356 177h1v1h-1zM358 177h1v1h-1zM365 177h1v1h-1zM373 177h1v1h-1zM376 177h1v1h-1zM380 177h1v1h-1zM400 177h2v1h-2zM416 177h1v1h-1zM312 178h2v1h-2zM315 178h1v1h-1zM317 178h1v1h-1zM319 178h2v1h-2zM324 178h1v1h-1zM344 178h1v1h-1zM371 178h1v1h-1zM377 178h2v1h-2zM397 178h1v1h-1zM424 178h2v1h-2zM312 179h2v1h-2zM318 179h1v1h-1zM324 179h1v1h-1zM328 179h2v1h-2zM350 179h2v1h-2zM358 179h1v1h-1zM398 179h1v1h-1zM408 179h1v1h-1zM311 180h2v1h-2zM315 180h1v1h-1zM319 180h2v1h-2zM327 180h1v1h-1zM329 180h2v1h-2zM332 180h1v1h-1zM339 180h2v1h-2zM365 180h2v1h-2zM368 180h2v1h-2zM380 180h1v1h-1zM382 180h1v1h-1zM413 180h2v1h-2zM313 181h1v1h-1zM317 181h1v1h-1zM319 181h2v1h-2zM324 181h1v1h-1zM327 181h1v1h-1zM329 181h2v1h-2zM332 181h1v1h-1zM340 181h1v1h-1zM344 181h2v1h-2zM347 181h1v1h-1zM352 181h1v1h-1zM355 181h2v1h-2zM359 181h2v1h-2zM365 181h1v1h-1zM375 181h1v1h-1zM377 181h2v1h-2zM410 181h1v1h-1zM422 181h1v1h-1zM426 181h2v1h-2zM311 182h2v1h-2zM314 182h2v1h-2zM327 182h1v1h-1zM331 182h1v1h-1zM339 182h1v1h-1zM347 182h2v1h-2zM350 182h1v1h-1zM352 182h2v1h-2zM355 182h1v1h-1zM357 182h1v1h-1zM375 182h2v1h-2zM413 182h2v1h-2zM422 182h1v1h-1zM426 182h1v1h-1zM311 183h2v1h-2zM316 183h2v1h-2zM319 183h1v1h-1zM323 183h2v1h-2zM328 183h1v1h-1zM330 183h1v1h-1zM332 183h1v1h-1zM339 183h1v1h-1zM358 183h2v1h-2zM371 183h1v1h-1zM408 183h2v1h-2zM412 183h1v1h-1zM311 184h1v1h-1zM314 184h2v1h-2zM318 184h2v1h-2zM323 184h1v1h-1zM325 184h1v1h-1zM327 184h1v1h-1zM329 184h1v1h-1zM342 184h1v1h-1zM364 184h1v1h-1zM369 184h1v1h-1zM381 184h1v1h-1zM394 184h2v1h-2zM417 184h1v1h-1zM311 185h1v1h-1zM315 185h2v1h-2zM318 185h2v1h-2zM324 185h2v1h-2zM327 185h1v1h-1zM329 185h2v1h-2zM332 185h1v1h-1zM339 185h1v1h-1zM354 185h1v1h-1zM358 185h1v1h-1zM366 185h1v1h-1zM407 185h1v1h-1zM414 185h2v1h-2zM312 186h1v1h-1zM314 186h2v1h-2zM317 186h1v1h-1zM320 186h1v1h-1zM324 186h2v1h-2zM327 186h1v1h-1zM329 186h2v1h-2zM332 186h2v1h-2zM339 186h1v1h-1zM341 186h2v1h-2zM350 186h1v1h-1zM354 186h1v1h-1zM359 186h1v1h-1zM368 186h2v1h-2zM373 186h1v1h-1zM413 186h2v1h-2zM317 187h1v1h-1zM322 187h2v1h-2zM327 187h1v1h-1zM331 187h1v1h-1zM376 187h1v1h-1zM386 187h1v1h-1zM311 188h1v1h-1zM316 188h1v1h-1zM323 188h1v1h-1zM325 188h2v1h-2zM328 188h1v1h-1zM330 188h2v1h-2zM341 188h1v1h-1zM350 188h1v1h-1zM353 188h1v1h-1zM358 188h1v1h-1zM367 188h1v1h-1zM371 188h1v1h-1zM382 188h1v1h-1zM384 188h1v1h-1zM396 188h1v1h-1zM405 188h2v1h-2zM311 189h1v1h-1zM313 189h1v1h-1zM315 189h2v1h-2zM318 189h1v1h-1zM324 189h1v1h-1zM332 189h2v1h-2zM343 189h1v1h-1zM347 189h1v1h-1zM366 189h1v1h-1zM368 189h2v1h-2zM375 189h2v1h-2zM384 189h2v1h-2zM313 190h1v1h-1zM315 190h1v1h-1zM324 190h1v1h-1zM340 190h1v1h-1zM343 190h1v1h-1zM349 190h1v1h-1zM354 190h2v1h-2zM398 190h2v1h-2zM402 190h1v1h-1zM404 190h1v1h-1zM415 190h1v1h-1zM422 190h2v1h-2zM311 191h1v1h-1zM313 191h1v1h-1zM315 191h1v1h-1zM317 191h1v1h-1zM319 191h2v1h-2zM324 191h1v1h-1zM327 191h1v1h-1zM329 191h1v1h-1zM331 191h2v1h-2zM340 191h2v1h-2zM346 191h1v1h-1zM349 191h1v1h-1zM355 191h1v1h-1zM358 191h1v1h-1zM375 191h1v1h-1zM396 191h2v1h-2zM413 191h2v1h-2zM418 191h2v1h-2zM312 192h1v1h-1zM315 192h2v1h-2zM318 192h1v1h-1zM324 192h2v1h-2zM327 192h2v1h-2zM330 192h1v1h-1zM332 192h2v1h-2zM338 192h2v1h-2zM347 192h1v1h-1zM349 192h1v1h-1zM351 192h2v1h-2zM354 192h1v1h-1zM358 192h1v1h-1zM391 192h1v1h-1zM397 192h1v1h-1zM402 192h2v1h-2zM408 192h1v1h-1zM311 193h1v1h-1zM313 193h2v1h-2zM316 193h2v1h-2zM320 193h1v1h-1zM324 193h2v1h-2zM330 193h1v1h-1zM332 193h2v1h-2zM339 193h1v1h-1zM346 193h1v1h-1zM348 193h1v1h-1zM354 193h2v1h-2zM372 193h2v1h-2zM375 193h1v1h-1zM381 193h1v1h-1zM390 193h1v1h-1zM395 193h2v1h-2zM406 193h1v1h-1zM316 194h1v1h-1zM319 194h1v1h-1zM324 194h1v1h-1zM354 194h1v1h-1zM356 194h1v1h-1zM367 194h1v1h-1zM416 194h2v1h-2zM312 195h2v1h-2zM318 195h1v1h-1zM321 195h1v1h-1zM324 195h2v1h-2zM364 195h2v1h-2zM367 195h1v1h-1zM370 195h2v1h-2zM374 195h1v1h-1zM380 195h1v1h-1zM411 195h2v1h-2zM311 196h1v1h-1zM314 196h1v1h-1zM317 196h2v1h-2zM320 196h2v1h-2zM323 196h1v1h-1zM327 196h1v1h-1zM331 196h2v1h-2zM334 196h1v1h-1zM338 196h2v1h-2zM349 196h2v1h-2zM356 196h2v1h-2zM366 196h2v1h-2zM382 196h2v1h-2zM395 196h1v1h-1zM426 196h1v1h-1zM311 197h1v1h-1zM313 197h1v1h-1zM315 197h1v1h-1zM319 197h2v1h-2zM325 197h1v1h-1zM327 197h1v1h-1zM331 197h1v1h-1zM340 197h1v1h-1zM348 197h1v1h-1zM374 197h2v1h-2zM392 197h2v1h-2zM311 198h1v1h-1zM313 198h1v1h-1zM318 198h1v1h-1zM320 198h2v1h-2zM324 198h1v1h-1zM327 198h2v1h-2zM331 198h2v1h-2zM341 198h1v1h-1zM352 198h2v1h-2zM356 198h2v1h-2zM359 198h1v1h-1zM382 198h1v1h-1zM388 198h2v1h-2zM404 198h1v1h-1zM407 198h1v1h-1zM312 199h1v1h-1zM318 199h2v1h-2zM321 199h2v1h-2zM325 199h1v1h-1zM327 199h2v1h-2zM331 199h1v1h-1zM349 199h2v1h-2zM355 199h1v1h-1zM358 199h1v1h-1zM374 199h1v1h-1zM381 199h2v1h-2zM389 199h1v1h-1zM393 199h1v1h-1zM403 199h2v1h-2zM417 199h2v1h-2zM321 200h1v1h-1zM329 200h2v1h-2zM339 200h2v1h-2zM350 200h2v1h-2zM353 200h1v1h-1zM373 200h1v1h-1zM393 200h1v1h-1zM397 200h2v1h-2zM412 200h1v1h-1zM422 200h1v1h-1zM311 201h2v1h-2zM314 201h1v1h-1zM316 201h2v1h-2zM321 201h1v1h-1zM324 201h2v1h-2zM329 201h2v1h-2zM334 201h1v1h-1zM341 201h1v1h-1zM346 201h2v1h-2zM353 201h1v1h-1zM359 201h1v1h-1zM378 201h1v1h-1zM383 201h1v1h-1zM389 201h1v1h-1zM399 201h1v1h-1zM312 202h1v1h-1zM318 202h1v1h-1zM320 202h2v1h-2zM323 202h1v1h-1zM325 202h2v1h-2zM329 202h1v1h-1zM331 202h1v1h-1zM339 202h1v1h-1zM341 202h1v1h-1zM348 202h2v1h-2zM351 202h1v1h-1zM356 202h2v1h-2zM365 202h1v1h-1zM369 202h2v1h-2zM382 202h1v1h-1zM395 202h1v1h-1zM397 202h1v1h-1zM409 202h1v1h-1zM412 202h1v1h-1zM311 203h1v1h-1zM313 203h1v1h-1zM318 203h2v1h-2zM321 203h1v1h-1zM330 203h1v1h-1zM332 203h1v1h-1zM338 203h1v1h-1zM341 203h2v1h-2zM351 203h2v1h-2zM359 203h1v1h-1zM370 203h1v1h-1zM381 203h2v1h-2zM391 203h1v1h-1zM396 203h1v1h-1zM403 203h1v1h-1zM411 203h2v1h-2zM317 204h1v1h-1zM319 204h2v1h-2zM324 204h2v1h-2zM328 204h1v1h-1zM330 204h1v1h-1zM332 204h1v1h-1zM338 204h1v1h-1zM340 204h2v1h-2zM350 204h2v1h-2zM368 204h1v1h-1zM370 204h2v1h-2zM374 204h1v1h-1zM382 204h2v1h-2zM390 204h2v1h-2zM417 204h2v1h-2zM428 204h2v1h-2zM321 205h1v1h-1zM327 205h1v1h-1zM332 205h1v1h-1zM354 205h1v1h-1zM357 205h1v1h-1zM359 205h2v1h-2zM371 205h1v1h-1zM390 205h1v1h-1zM409 205h1v1h-1zM312 206h1v1h-1zM314 206h2v1h-2zM317 206h1v1h-1zM320 206h1v1h-1zM324 206h2v1h-2zM327 206h1v1h-1zM331 206h1v1h-1zM340 206h1v1h-1zM350 206h1v1h-1zM367 206h1v1h-1zM369 206h2v1h-2zM382 206h1v1h-1zM393 206h1v1h-1zM314 207h1v1h-1zM317 207h1v1h-1zM323 207h2v1h-2zM331 207h2v1h-2zM349 207h1v1h-1zM359 207h1v1h-1zM392 207h2v1h-2zM410 207h2v1h-2zM423 207h1v1h-1zM312 208h1v1h-1zM315 208h2v1h-2zM319 208h1v1h-1zM326 208h1v1h-1zM350 208h2v1h-2zM311 209h1v1h-1zM315 209h1v1h-1zM321 209h1v1h-1zM325 209h2v1h-2zM329 209h1v1h-1zM331 209h1v1h-1zM334 209h1v1h-1zM339 209h2v1h-2zM349 209h1v1h-1zM351 209h1v1h-1zM354 209h1v1h-1zM356 209h2v1h-2zM359 209h1v1h-1zM365 209h1v1h-1zM380 209h2v1h-2zM403 209h1v1h-1zM425 209h1v1h-1zM311 210h1v1h-1zM313 210h1v1h-1zM315 210h1v1h-1zM317 210h1v1h-1zM319 210h2v1h-2zM324 210h1v1h-1zM326 210h1v1h-1zM328 210h1v1h-1zM330 210h1v1h-1zM332 210h2v1h-2zM338 210h1v1h-1zM340 210h1v1h-1zM346 210h1v1h-1zM350 210h2v1h-2zM367 210h1v1h-1zM378 210h2v1h-2zM388 210h2v1h-2zM391 210h2v1h-2zM401 210h2v1h-2zM418 210h2v1h-2zM315 211h2v1h-2zM318 211h1v1h-1zM324 211h2v1h-2zM327 211h1v1h-1zM329 211h2v1h-2zM344 211h1v1h-1zM347 211h1v1h-1zM353 211h1v1h-1zM373 211h2v1h-2zM312 212h2v1h-2zM318 212h1v1h-1zM321 212h1v1h-1zM323 212h1v1h-1zM325 212h2v1h-2zM352 212h2v1h-2zM356 212h1v1h-1zM358 212h1v1h-1zM403 212h1v1h-1zM311 213h1v1h-1zM314 213h1v1h-1zM316 213h1v1h-1zM318 213h1v1h-1zM320 213h2v1h-2zM325 213h1v1h-1zM327 213h1v1h-1zM329 213h2v1h-2zM332 213h1v1h-1zM340 213h1v1h-1zM353 213h2v1h-2zM372 213h2v1h-2zM380 213h2v1h-2zM392 213h2v1h-2zM404 213h1v1h-1zM407 213h1v1h-1zM413 213h2v1h-2zM419 213h2v1h-2zM423 213h1v1h-1zM313 214h1v1h-1zM315 214h1v1h-1zM317 214h1v1h-1zM319 214h1v1h-1zM324 214h2v1h-2zM328 214h2v1h-2zM331 214h1v1h-1zM339 214h2v1h-2zM346 214h1v1h-1zM350 214h1v1h-1zM355 214h1v1h-1zM372 214h1v1h-1zM385 214h1v1h-1zM390 214h2v1h-2zM408 214h2v1h-2zM311 215h2v1h-2zM315 215h1v1h-1zM318 215h2v1h-2zM324 215h1v1h-1zM332 215h1v1h-1zM338 215h1v1h-1zM340 215h1v1h-1zM349 215h1v1h-1zM370 215h1v1h-1zM398 215h1v1h-1zM417 215h1v1h-1zM311 216h2v1h-2zM314 216h1v1h-1zM319 216h1v1h-1zM321 216h1v1h-1zM324 216h1v1h-1zM326 216h2v1h-2zM329 216h1v1h-1zM332 216h2v1h-2zM341 216h1v1h-1zM343 216h1v1h-1zM354 216h1v1h-1zM358 216h1v1h-1zM369 216h1v1h-1zM376 216h1v1h-1zM380 216h1v1h-1zM386 216h2v1h-2zM392 216h2v1h-2zM403 216h1v1h-1zM410 216h1v1h-1zM418 216h1v1h-1zM311 217h1v1h-1zM313 217h1v1h-1zM315 217h1v1h-1zM317 217h2v1h-2zM320 217h2v1h-2zM324 217h2v1h-2zM329 217h1v1h-1zM331 217h1v1h-1zM339 217h1v1h-1zM344 217h1v1h-1zM346 217h1v1h-1zM349 217h1v1h-1zM353 217h1v1h-1zM370 217h1v1h-1zM375 217h1v1h-1zM379 217h1v1h-1zM389 217h1v1h-1zM395 217h2v1h-2zM411 217h2v1h-2zM421 217h2v1h-2zM313 218h2v1h-2zM316 218h2v1h-2zM319 218h1v1h-1zM324 218h1v1h-1zM329 218h1v1h-1zM345 218h1v1h-1zM354 218h1v1h-1zM356 218h1v1h-1zM358 218h1v1h-1zM364 218h1v1h-1zM366 218h1v1h-1zM374 218h1v1h-1zM399 218h2v1h-2zM418 218h1v1h-1zM424 218h1v1h-1zM311 219h1v1h-1zM317 219h1v1h-1zM319 219h1v1h-1zM321 219h1v1h-1zM323 219h1v1h-1zM325 219h2v1h-2zM328 219h2v1h-2zM331 219h1v1h-1zM339 219h2v1h-2zM343 219h1v1h-1zM345 219h1v1h-1zM348 219h1v1h-1zM357 219h1v1h-1zM370 219h1v1h-1zM372 219h2v1h-2zM376 219h2v1h-2zM379 219h1v1h-1zM382 219h2v1h-2zM394 219h1v1h-1zM411 219h2v1h-2zM416 219h1v1h-1zM420 219h2v1h-2zM311 220h1v1h-1zM313 220h2v1h-2zM316 220h2v1h-2zM321 220h1v1h-1zM323 220h2v1h-2zM327 220h2v1h-2zM330 220h1v1h-1zM332 220h1v1h-1zM341 220h2v1h-2zM350 220h1v1h-1zM358 220h1v1h-1zM380 220h2v1h-2zM391 220h1v1h-1zM400 220h2v1h-2zM427 220h1v1h-1zM312 221h1v1h-1zM314 221h2v1h-2zM317 221h2v1h-2zM325 221h2v1h-2zM328 221h2v1h-2zM331 221h2v1h-2zM338 221h1v1h-1zM340 221h1v1h-1zM347 221h1v1h-1zM351 221h1v1h-1zM356 221h2v1h-2zM359 221h1v1h-1zM396 221h1v1h-1zM398 221h2v1h-2zM411 221h1v1h-1zM413 221h1v1h-1zM425 221h1v1h-1zM427 221h1v1h-1zM311 222h1v1h-1zM313 222h1v1h-1zM317 222h1v1h-1zM320 222h1v1h-1zM324 222h1v1h-1zM326 222h2v1h-2zM329 222h1v1h-1zM332 222h1v1h-1zM338 222h1v1h-1zM341 222h2v1h-2zM355 222h2v1h-2zM364 222h2v1h-2zM396 222h1v1h-1zM411 222h1v1h-1zM311 223h1v1h-1zM315 223h2v1h-2zM318 223h1v1h-1zM320 223h2v1h-2zM323 223h1v1h-1zM325 223h1v1h-1zM329 223h1v1h-1zM331 223h1v1h-1zM341 223h1v1h-1zM347 223h2v1h-2zM358 223h1v1h-1zM381 223h2v1h-2zM404 223h2v1h-2zM410 223h1v1h-1zM413 223h1v1h-1zM416 223h1v1h-1zM426 223h1v1h-1zM312 224h1v1h-1zM314 224h1v1h-1zM316 224h2v1h-2zM320 224h1v1h-1zM324 224h1v1h-1zM330 224h1v1h-1zM332 224h1v1h-1zM343 224h1v1h-1zM349 224h1v1h-1zM352 224h2v1h-2zM357 224h1v1h-1zM359 224h2v1h-2zM364 224h1v1h-1zM367 224h1v1h-1zM380 224h2v1h-2zM420 224h1v1h-1zM426 224h1v1h-1zM311 225h1v1h-1zM314 225h1v1h-1zM316 225h2v1h-2zM319 225h1v1h-1zM321 225h2v1h-2zM324 225h1v1h-1zM326 225h1v1h-1zM328 225h2v1h-2zM332 225h1v1h-1zM338 225h2v1h-2zM344 225h1v1h-1zM354 225h1v1h-1zM356 225h1v1h-1zM367 225h1v1h-1zM373 225h2v1h-2zM379 225h1v1h-1zM382 225h1v1h-1zM387 225h1v1h-1zM393 225h1v1h-1zM409 225h1v1h-1zM421 225h2v1h-2zM315 226h2v1h-2zM319 226h2v1h-2zM325 226h1v1h-1zM327 226h1v1h-1zM331 226h1v1h-1zM340 226h2v1h-2zM348 226h1v1h-1zM351 226h1v1h-1zM356 226h1v1h-1zM358 226h1v1h-1zM373 226h2v1h-2zM399 226h2v1h-2zM407 226h2v1h-2zM420 226h2v1h-2zM428 226h1v1h-1zM311 227h1v1h-1zM313 227h1v1h-1zM317 227h1v1h-1zM331 227h1v1h-1zM335 227h1v1h-1zM357 227h1v1h-1zM371 227h1v1h-1zM395 227h2v1h-2zM399 227h1v1h-1zM406 227h2v1h-2zM412 227h1v1h-1zM423 227h1v1h-1zM313 228h1v1h-1zM315 228h2v1h-2zM320 228h1v1h-1zM325 228h2v1h-2zM329 228h2v1h-2zM332 228h1v1h-1zM348 228h1v1h-1zM354 228h1v1h-1zM359 228h2v1h-2zM373 228h2v1h-2zM385 228h1v1h-1zM417 228h2v1h-2zM425 228h2v1h-2zM429 228h1v1h-1zM311 229h1v1h-1zM313 229h1v1h-1zM315 229h2v1h-2zM318 229h1v1h-1zM320 229h2v1h-2zM325 229h1v1h-1zM327 229h2v1h-2zM330 229h1v1h-1zM332 229h1v1h-1zM343 229h2v1h-2zM359 229h2v1h-2zM373 229h2v1h-2zM383 229h1v1h-1zM389 229h1v1h-1zM407 229h1v1h-1zM411 229h1v1h-1zM425 229h1v1h-1zM313 230h1v1h-1zM319 230h1v1h-1zM328 230h2v1h-2zM331 230h1v1h-1zM359 230h1v1h-1zM368 230h1v1h-1zM386 230h1v1h-1zM410 230h1v1h-1zM420 230h1v1h-1zM425 230h1v1h-1zM311 231h1v1h-1zM313 231h1v1h-1zM315 231h2v1h-2zM318 231h2v1h-2zM321 231h1v1h-1zM324 231h1v1h-1zM326 231h1v1h-1zM328 231h2v1h-2zM331 231h2v1h-2zM353 231h2v1h-2zM374 231h1v1h-1zM377 231h2v1h-2zM389 231h1v1h-1zM393 231h1v1h-1zM409 231h1v1h-1zM416 231h2v1h-2zM422 231h2v1h-2zM311 232h1v1h-1zM313 232h1v1h-1zM315 232h1v1h-1zM319 232h1v1h-1zM325 232h1v1h-1zM327 232h1v1h-1zM329 232h1v1h-1zM331 232h1v1h-1zM353 232h2v1h-2zM373 232h1v1h-1zM376 232h1v1h-1zM383 232h2v1h-2zM386 232h2v1h-2zM397 232h2v1h-2zM426 232h1v1h-1zM428 232h2v1h-2zM311 233h1v1h-1zM313 233h2v1h-2zM327 233h1v1h-1zM329 233h1v1h-1zM341 233h1v1h-1zM357 233h2v1h-2zM372 233h1v1h-1zM376 233h2v1h-2zM381 233h1v1h-1zM384 233h1v1h-1zM389 233h2v1h-2zM407 233h1v1h-1zM409 233h2v1h-2zM422 233h1v1h-1zM311 234h1v1h-1zM313 234h1v1h-1zM315 234h2v1h-2zM318 234h2v1h-2zM321 234h1v1h-1zM324 234h1v1h-1zM326 234h2v1h-2zM329 234h1v1h-1zM331 234h2v1h-2zM356 234h1v1h-1zM364 234h1v1h-1zM378 234h1v1h-1zM383 234h1v1h-1zM395 234h2v1h-2zM408 234h1v1h-1zM422 234h2v1h-2zM311 235h1v1h-1zM314 235h1v1h-1zM316 235h1v1h-1zM319 235h1v1h-1zM321 235h1v1h-1zM325 235h1v1h-1zM327 235h1v1h-1zM329 235h1v1h-1zM332 235h2v1h-2zM338 235h2v1h-2zM341 235h1v1h-1zM351 235h1v1h-1zM353 235h2v1h-2zM356 235h2v1h-2zM361 235h1v1h-1zM364 235h1v1h-1zM367 235h2v1h-2zM392 235h1v1h-1zM399 235h1v1h-1zM422 235h1v1h-1zM312 236h1v1h-1zM314 236h1v1h-1zM316 236h2v1h-2zM319 236h2v1h-2zM325 236h1v1h-1zM328 236h1v1h-1zM331 236h1v1h-1zM338 236h2v1h-2zM346 236h1v1h-1zM349 236h2v1h-2zM352 236h1v1h-1zM354 236h1v1h-1zM367 236h1v1h-1zM369 236h1v1h-1zM378 236h1v1h-1zM381 236h1v1h-1zM405 236h1v1h-1zM419 236h1v1h-1zM312 237h1v1h-1zM319 237h1v1h-1zM323 237h1v1h-1zM326 237h1v1h-1zM331 237h1v1h-1zM340 237h1v1h-1zM344 237h1v1h-1zM347 237h2v1h-2zM362 237h1v1h-1zM311 238h1v1h-1zM313 238h2v1h-2zM316 238h2v1h-2zM319 238h2v1h-2zM322 238h1v1h-1zM324 238h2v1h-2zM327 238h2v1h-2zM330 238h2v1h-2zM348 238h1v1h-1zM355 238h1v1h-1zM358 238h2v1h-2zM365 238h1v1h-1zM368 238h1v1h-1zM374 238h1v1h-1zM379 238h2v1h-2zM384 238h1v1h-1zM399 238h1v1h-1zM403 238h1v1h-1zM406 238h1v1h-1zM415 238h2v1h-2zM311 239h1v1h-1zM314 239h1v1h-1zM316 239h2v1h-2zM321 239h1v1h-1zM324 239h1v1h-1zM328 239h1v1h-1zM330 239h2v1h-2zM338 239h1v1h-1zM349 239h1v1h-1zM351 239h1v1h-1zM358 239h2v1h-2zM406 239h2v1h-2zM411 239h1v1h-1zM422 239h2v1h-2zM311 240h1v1h-1zM314 240h1v1h-1zM318 240h2v1h-2zM328 240h1v1h-1zM332 240h1v1h-1zM340 240h1v1h-1zM346 240h1v1h-1zM355 240h1v1h-1zM358 240h1v1h-1zM365 240h1v1h-1zM373 240h2v1h-2zM395 240h2v1h-2zM404 240h1v1h-1zM311 241h1v1h-1zM314 241h1v1h-1zM316 241h1v1h-1zM318 241h1v1h-1zM320 241h2v1h-2zM329 241h2v1h-2zM338 241h1v1h-1zM354 241h1v1h-1zM356 241h1v1h-1zM359 241h2v1h-2zM362 241h1v1h-1zM364 241h1v1h-1zM367 241h1v1h-1zM370 241h1v1h-1zM384 241h1v1h-1zM390 241h1v1h-1zM394 241h2v1h-2zM400 241h1v1h-1zM406 241h1v1h-1zM410 241h2v1h-2zM417 241h2v1h-2zM311 242h2v1h-2zM320 242h2v1h-2zM323 242h1v1h-1zM327 242h1v1h-1zM339 242h1v1h-1zM373 242h1v1h-1zM382 242h1v1h-1zM400 242h1v1h-1zM315 243h2v1h-2zM318 243h1v1h-1zM321 243h1v1h-1zM323 243h1v1h-1zM331 243h2v1h-2zM338 243h1v1h-1zM341 243h1v1h-1zM380 243h2v1h-2zM383 243h2v1h-2zM398 243h2v1h-2zM415 243h1v1h-1zM421 243h1v1h-1zM313 244h1v1h-1zM328 244h2v1h-2zM352 244h1v1h-1zM355 244h1v1h-1zM362 244h2v1h-2zM367 244h2v1h-2zM420 244h1v1h-1zM425 244h1v1h-1zM311 245h1v1h-1zM313 245h1v1h-1zM317 245h2v1h-2zM352 245h1v1h-1zM392 245h1v1h-1zM409 245h1v1h-1zM414 245h1v1h-1zM417 245h2v1h-2zM421 245h1v1h-1zM424 245h2v1h-2zM314 246h1v1h-1zM317 246h2v1h-2zM320 246h1v1h-1zM324 246h2v1h-2zM327 246h1v1h-1zM329 246h1v1h-1zM331 246h1v1h-1zM349 246h1v1h-1zM380 246h1v1h-1zM399 246h1v1h-1zM311 247h1v1h-1zM315 247h2v1h-2zM328 247h1v1h-1zM332 247h2v1h-2zM370 247h1v1h-1zM311 248h2v1h-2zM314 248h1v1h-1zM316 248h2v1h-2zM319 248h1v1h-1zM321 248h2v1h-2zM324 248h1v1h-1zM327 248h1v1h-1zM329 248h2v1h-2zM332 248h1v1h-1zM341 248h2v1h-2zM351 248h1v1h-1zM356 248h2v1h-2zM362 248h2v1h-2zM376 248h1v1h-1zM405 248h1v1h-1zM312 249h2v1h-2zM315 249h1v1h-1zM317 249h1v1h-1zM325 249h1v1h-1zM327 249h1v1h-1zM338 249h2v1h-2zM341 249h2v1h-2zM346 249h1v1h-1zM350 249h2v1h-2zM359 249h1v1h-1zM376 249h1v1h-1zM379 249h2v1h-2zM384 249h1v1h-1zM395 249h1v1h-1zM403 249h2v1h-2zM423 249h2v1h-2zM312 250h1v1h-1zM315 250h2v1h-2zM319 250h1v1h-1zM324 250h1v1h-1zM327 250h2v1h-2zM330 250h1v1h-1zM332 250h1v1h-1zM346 250h2v1h-2zM356 250h2v1h-2zM367 250h1v1h-1zM371 250h2v1h-2zM382 250h1v1h-1zM398 250h2v1h-2zM424 250h1v1h-1zM312 251h2v1h-2zM315 251h2v1h-2zM324 251h1v1h-1zM326 251h1v1h-1zM328 251h1v1h-1zM330 251h2v1h-2zM347 251h1v1h-1zM350 251h1v1h-1zM352 251h1v1h-1zM357 251h1v1h-1zM366 251h1v1h-1zM368 251h1v1h-1zM380 251h1v1h-1zM386 251h1v1h-1zM390 251h1v1h-1zM397 251h1v1h-1zM419 251h2v1h-2zM423 251h1v1h-1zM428 251h2v1h-2zM311 252h1v1h-1zM313 252h1v1h-1zM315 252h1v1h-1zM317 252h1v1h-1zM319 252h1v1h-1zM321 252h1v1h-1zM326 252h1v1h-1zM328 252h1v1h-1zM330 252h1v1h-1zM332 252h2v1h-2zM340 252h1v1h-1zM377 252h1v1h-1zM382 252h1v1h-1zM384 252h1v1h-1zM399 252h1v1h-1zM404 252h1v1h-1zM411 252h1v1h-1zM426 252h2v1h-2zM312 253h1v1h-1zM320 253h1v1h-1zM322 253h2v1h-2zM329 253h2v1h-2zM332 253h1v1h-1zM336 253h2v1h-2zM339 253h2v1h-2zM346 253h2v1h-2zM350 253h1v1h-1zM377 253h1v1h-1zM393 253h1v1h-1zM408 253h1v1h-1zM427 253h2v1h-2zM311 254h2v1h-2zM314 254h1v1h-1zM316 254h2v1h-2zM319 254h2v1h-2zM324 254h2v1h-2zM327 254h1v1h-1zM329 254h1v1h-1zM332 254h1v1h-1zM338 254h1v1h-1zM340 254h2v1h-2zM349 254h2v1h-2zM353 254h1v1h-1zM356 254h1v1h-1zM371 254h1v1h-1zM380 254h1v1h-1zM391 254h1v1h-1zM413 254h2v1h-2zM428 254h1v1h-1zM321 255h1v1h-1zM327 255h2v1h-2zM338 255h1v1h-1zM347 255h2v1h-2zM354 255h1v1h-1zM373 255h1v1h-1zM378 255h1v1h-1zM382 255h2v1h-2zM398 255h1v1h-1zM405 255h2v1h-2zM423 255h1v1h-1zM311 256h1v1h-1zM313 256h2v1h-2zM316 256h2v1h-2zM321 256h2v1h-2zM324 256h1v1h-1zM326 256h2v1h-2zM330 256h1v1h-1zM332 256h1v1h-1zM338 256h2v1h-2zM341 256h1v1h-1zM348 256h2v1h-2zM356 256h1v1h-1zM358 256h1v1h-1zM365 256h1v1h-1zM379 256h1v1h-1zM387 256h1v1h-1zM404 256h1v1h-1zM414 256h1v1h-1zM419 256h1v1h-1zM312 257h1v1h-1zM316 257h1v1h-1zM318 257h1v1h-1zM320 257h2v1h-2zM325 257h2v1h-2zM329 257h1v1h-1zM340 257h1v1h-1zM347 257h1v1h-1zM349 257h1v1h-1zM352 257h1v1h-1zM356 257h2v1h-2zM361 257h1v1h-1zM376 257h1v1h-1zM378 257h2v1h-2zM384 257h2v1h-2zM391 257h2v1h-2zM402 257h1v1h-1zM407 257h1v1h-1zM418 257h1v1h-1zM311 258h2v1h-2zM314 258h1v1h-1zM316 258h1v1h-1zM318 258h1v1h-1zM320 258h2v1h-2zM324 258h1v1h-1zM327 258h1v1h-1zM331 258h1v1h-1zM336 258h1v1h-1zM341 258h1v1h-1zM347 258h1v1h-1zM350 258h1v1h-1zM352 258h2v1h-2zM359 258h1v1h-1zM373 258h2v1h-2zM401 258h2v1h-2zM422 258h2v1h-2zM313 259h1v1h-1zM315 259h1v1h-1zM317 259h1v1h-1zM320 259h1v1h-1zM323 259h2v1h-2zM326 259h2v1h-2zM329 259h1v1h-1zM331 259h1v1h-1zM348 259h1v1h-1zM351 259h1v1h-1zM365 259h1v1h-1zM393 259h1v1h-1zM396 259h2v1h-2zM400 259h2v1h-2zM408 259h2v1h-2zM412 259h1v1h-1zM311 260h1v1h-1zM313 260h1v1h-1zM316 260h1v1h-1zM318 260h1v1h-1zM322 260h1v1h-1zM326 260h1v1h-1zM328 260h1v1h-1zM330 260h1v1h-1zM332 260h2v1h-2zM340 260h2v1h-2zM357 260h1v1h-1zM369 260h2v1h-2zM378 260h2v1h-2zM388 260h1v1h-1zM390 260h1v1h-1zM398 260h1v1h-1zM312 261h1v1h-1zM314 261h2v1h-2zM317 261h1v1h-1zM319 261h1v1h-1zM321 261h1v1h-1zM324 261h1v1h-1zM326 261h2v1h-2zM329 261h1v1h-1zM331 261h1v1h-1zM338 261h1v1h-1zM347 261h1v1h-1zM350 261h1v1h-1zM352 261h1v1h-1zM354 261h2v1h-2zM358 261h2v1h-2zM369 261h1v1h-1zM386 261h1v1h-1zM396 261h1v1h-1zM398 261h2v1h-2zM403 261h1v1h-1zM409 261h1v1h-1zM425 261h1v1h-1zM428 261h2v1h-2zM313 262h1v1h-1zM316 262h2v1h-2zM319 262h2v1h-2zM326 262h1v1h-1zM328 262h2v1h-2zM351 262h1v1h-1zM315 263h1v1h-1zM325 263h1v1h-1zM327 263h1v1h-1zM329 263h1v1h-1zM341 263h2v1h-2zM346 263h1v1h-1zM349 263h1v1h-1zM366 263h2v1h-2zM375 263h1v1h-1zM378 263h1v1h-1zM408 263h2v1h-2zM413 263h1v1h-1zM419 263h2v1h-2zM315 264h1v1h-1zM318 264h2v1h-2zM329 264h2v1h-2zM352 264h1v1h-1zM357 264h1v1h-1zM392 264h2v1h-2zM425 264h2v1h-2zM329 265h1v1h-1zM331 265h1v1h-1zM341 265h2v1h-2zM349 265h1v1h-1zM354 265h1v1h-1zM357 265h1v1h-1zM376 265h1v1h-1zM383 265h2v1h-2zM392 265h1v1h-1zM396 265h2v1h-2zM415 265h2v1h-2zM311 266h2v1h-2zM314 266h2v1h-2zM317 266h1v1h-1zM319 266h2v1h-2zM324 266h1v1h-1zM326 266h2v1h-2zM329 266h1v1h-1zM331 266h1v1h-1zM336 266h1v1h-1zM346 266h2v1h-2zM349 266h1v1h-1zM351 266h1v1h-1zM354 266h1v1h-1zM356 266h2v1h-2zM365 266h1v1h-1zM367 266h1v1h-1zM374 266h2v1h-2zM382 266h2v1h-2zM387 266h1v1h-1zM401 266h1v1h-1zM409 266h1v1h-1zM415 266h2v1h-2zM311 267h1v1h-1zM313 267h1v1h-1zM315 267h1v1h-1zM317 267h2v1h-2zM320 267h2v1h-2zM323 267h1v1h-1zM325 267h2v1h-2zM331 267h1v1h-1zM341 267h1v1h-1zM343 267h1v1h-1zM345 267h2v1h-2zM350 267h1v1h-1zM353 267h1v1h-1zM366 267h1v1h-1zM371 267h1v1h-1zM380 267h1v1h-1zM383 267h1v1h-1zM395 267h1v1h-1zM398 267h1v1h-1zM405 267h2v1h-2zM417 267h1v1h-1zM312 268h1v1h-1zM314 268h1v1h-1zM316 268h2v1h-2zM319 268h1v1h-1zM321 268h1v1h-1zM324 268h1v1h-1zM327 268h1v1h-1zM329 268h2v1h-2zM332 268h1v1h-1zM341 268h1v1h-1zM344 268h2v1h-2zM354 268h1v1h-1zM399 268h1v1h-1zM407 268h2v1h-2zM413 268h1v1h-1zM311 269h1v1h-1zM314 269h2v1h-2zM317 269h2v1h-2zM320 269h1v1h-1zM324 269h1v1h-1zM327 269h1v1h-1zM329 269h1v1h-1zM331 269h1v1h-1zM339 269h1v1h-1zM341 269h2v1h-2zM346 269h1v1h-1zM359 269h1v1h-1zM366 269h2v1h-2zM371 269h1v1h-1zM377 269h1v1h-1zM379 269h2v1h-2zM382 269h1v1h-1zM417 269h2v1h-2zM426 269h1v1h-1zM311 270h1v1h-1zM319 270h1v1h-1zM324 270h1v1h-1zM326 270h1v1h-1zM328 270h1v1h-1zM330 270h1v1h-1zM349 270h1v1h-1zM357 270h1v1h-1zM369 270h2v1h-2zM311 271h2v1h-2zM318 271h2v1h-2zM324 271h1v1h-1zM326 271h1v1h-1zM328 271h1v1h-1zM331 271h1v1h-1zM339 271h1v1h-1zM350 271h2v1h-2zM359 271h1v1h-1zM365 271h2v1h-2zM374 271h1v1h-1zM383 271h2v1h-2zM395 271h1v1h-1zM410 271h1v1h-1zM412 271h1v1h-1zM419 271h1v1h-1zM313 272h2v1h-2zM317 272h1v1h-1zM320 272h1v1h-1zM324 272h1v1h-1zM326 272h1v1h-1zM328 272h2v1h-2zM331 272h2v1h-2zM351 272h2v1h-2zM356 272h1v1h-1zM359 272h2v1h-2zM371 272h1v1h-1zM381 272h1v1h-1zM411 272h1v1h-1zM423 272h1v1h-1zM312 273h1v1h-1zM314 273h2v1h-2zM317 273h1v1h-1zM320 273h2v1h-2zM324 273h1v1h-1zM326 273h2v1h-2zM332 273h2v1h-2zM342 273h1v1h-1zM356 273h1v1h-1zM368 273h2v1h-2zM371 273h1v1h-1zM382 273h1v1h-1zM384 273h2v1h-2zM389 273h1v1h-1zM311 274h1v1h-1zM313 274h2v1h-2zM316 274h2v1h-2zM319 274h1v1h-1zM321 274h1v1h-1zM324 274h1v1h-1zM326 274h2v1h-2zM329 274h2v1h-2zM332 274h2v1h-2zM339 274h1v1h-1zM346 274h1v1h-1zM351 274h2v1h-2zM354 274h1v1h-1zM359 274h2v1h-2zM367 274h1v1h-1zM370 274h1v1h-1zM378 274h2v1h-2zM383 274h1v1h-1zM390 274h1v1h-1zM395 274h1v1h-1zM398 274h1v1h-1zM406 274h1v1h-1zM410 274h2v1h-2zM415 274h2v1h-2zM418 274h1v1h-1zM422 274h2v1h-2zM316 275h1v1h-1zM327 275h1v1h-1zM372 275h1v1h-1zM375 275h1v1h-1zM403 275h1v1h-1zM311 276h2v1h-2zM316 276h1v1h-1zM321 276h2v1h-2zM328 276h1v1h-1zM331 276h1v1h-1zM380 276h2v1h-2zM384 276h1v1h-1zM399 276h1v1h-1zM425 276h1v1h-1zM313 277h1v1h-1zM320 277h2v1h-2zM324 277h1v1h-1zM326 277h1v1h-1zM328 277h1v1h-1zM332 277h1v1h-1zM341 277h1v1h-1zM347 277h1v1h-1zM349 277h2v1h-2zM360 277h1v1h-1zM367 277h1v1h-1zM390 277h1v1h-1zM403 277h1v1h-1zM421 277h1v1h-1zM315 278h2v1h-2zM324 278h2v1h-2zM327 278h1v1h-1zM335 278h1v1h-1zM341 278h1v1h-1zM343 278h1v1h-1zM345 278h1v1h-1zM352 278h1v1h-1zM361 278h1v1h-1zM368 278h1v1h-1zM370 278h1v1h-1zM376 278h1v1h-1zM402 278h1v1h-1zM405 278h1v1h-1zM413 278h1v1h-1zM311 279h2v1h-2zM314 279h1v1h-1zM319 279h1v1h-1zM321 279h1v1h-1zM324 279h1v1h-1zM326 279h1v1h-1zM328 279h1v1h-1zM330 279h2v1h-2zM356 279h1v1h-1zM361 279h1v1h-1zM395 279h1v1h-1zM402 279h1v1h-1zM405 279h1v1h-1zM414 279h2v1h-2zM314 280h2v1h-2zM317 280h1v1h-1zM320 280h2v1h-2zM324 280h1v1h-1zM329 280h1v1h-1zM331 280h2v1h-2zM339 280h1v1h-1zM367 280h1v1h-1zM393 280h1v1h-1zM400 280h1v1h-1zM409 280h2v1h-2zM311 281h1v1h-1zM315 281h2v1h-2zM326 281h1v1h-1zM340 281h1v1h-1zM370 281h1v1h-1zM386 281h1v1h-1zM405 281h2v1h-2zM312 282h1v1h-1zM314 282h1v1h-1zM316 282h2v1h-2zM320 282h1v1h-1zM322 282h1v1h-1zM324 282h2v1h-2zM328 282h1v1h-1zM337 282h1v1h-1zM345 282h2v1h-2zM358 282h2v1h-2zM368 282h2v1h-2zM380 282h2v1h-2zM399 282h1v1h-1zM413 282h1v1h-1zM311 283h1v1h-1zM314 283h1v1h-1zM316 283h2v1h-2zM321 283h1v1h-1zM324 283h1v1h-1zM326 283h1v1h-1zM329 283h1v1h-1zM331 283h1v1h-1zM339 283h1v1h-1zM347 283h2v1h-2zM352 283h2v1h-2zM370 283h1v1h-1zM373 283h1v1h-1zM428 283h1v1h-1zM311 284h1v1h-1zM315 284h2v1h-2zM321 284h1v1h-1zM323 284h2v1h-2zM326 284h1v1h-1zM328 284h1v1h-1zM349 284h2v1h-2zM352 284h2v1h-2zM356 284h1v1h-1zM364 284h1v1h-1zM368 284h1v1h-1zM370 284h2v1h-2zM376 284h1v1h-1zM395 284h1v1h-1zM405 284h1v1h-1zM417 284h2v1h-2zM421 284h2v1h-2zM316 285h1v1h-1zM318 285h1v1h-1zM320 285h1v1h-1zM323 285h2v1h-2zM326 285h1v1h-1zM328 285h1v1h-1zM331 285h1v1h-1zM339 285h2v1h-2zM347 285h2v1h-2zM353 285h1v1h-1zM355 285h2v1h-2zM374 285h2v1h-2zM381 285h1v1h-1zM393 285h1v1h-1zM395 285h1v1h-1zM402 285h1v1h-1zM404 285h1v1h-1zM411 285h2v1h-2zM421 285h1v1h-1zM311 286h1v1h-1zM313 286h1v1h-1zM315 286h1v1h-1zM319 286h1v1h-1zM324 286h2v1h-2zM327 286h1v1h-1zM330 286h1v1h-1zM332 286h1v1h-1zM350 286h1v1h-1zM354 286h1v1h-1zM357 286h2v1h-2zM371 286h2v1h-2zM375 286h1v1h-1zM383 286h1v1h-1zM407 286h2v1h-2zM316 287h1v1h-1zM318 287h1v1h-1zM320 287h2v1h-2zM325 287h2v1h-2zM328 287h1v1h-1zM331 287h1v1h-1zM337 287h2v1h-2zM366 287h1v1h-1zM369 287h1v1h-1zM372 287h2v1h-2zM382 287h1v1h-1zM401 287h1v1h-1zM409 287h2v1h-2zM412 287h1v1h-1zM415 287h2v1h-2zM420 287h2v1h-2zM311 288h2v1h-2zM320 288h1v1h-1zM323 288h1v1h-1zM328 288h2v1h-2zM331 288h1v1h-1zM334 288h2v1h-2zM366 288h1v1h-1zM377 288h2v1h-2zM394 288h1v1h-1zM411 288h1v1h-1zM425 288h1v1h-1zM428 288h2v1h-2zM311 289h2v1h-2zM318 289h2v1h-2zM384 289h2v1h-2zM408 289h2v1h-2zM420 289h1v1h-1zM311 290h2v1h-2zM316 290h1v1h-1zM318 290h1v1h-1zM321 290h1v1h-1zM324 290h2v1h-2zM327 290h2v1h-2zM330 290h1v1h-1zM348 290h2v1h-2zM369 290h1v1h-1zM416 290h1v1h-1zM311 291h1v1h-1zM314 291h2v1h-2zM318 291h1v1h-1zM324 291h1v1h-1zM326 291h1v1h-1zM331 291h1v1h-1zM340 291h2v1h-2zM346 291h1v1h-1zM357 291h1v1h-1zM373 291h2v1h-2zM385 291h1v1h-1zM408 291h2v1h-2zM418 291h1v1h-1zM420 291h1v1h-1zM427 291h2v1h-2zM314 292h1v1h-1zM317 292h1v1h-1zM320 292h1v1h-1zM327 292h2v1h-2zM338 292h1v1h-1zM351 292h2v1h-2zM356 292h2v1h-2zM393 292h1v1h-1zM404 292h1v1h-1zM418 292h2v1h-2zM426 292h2v1h-2zM311 293h1v1h-1zM317 293h2v1h-2zM321 293h1v1h-1zM323 293h1v1h-1zM326 293h1v1h-1zM328 293h1v1h-1zM338 293h1v1h-1zM348 293h1v1h-1zM355 293h2v1h-2zM374 293h2v1h-2zM385 293h1v1h-1zM396 293h2v1h-2zM311 294h2v1h-2zM315 294h1v1h-1zM320 294h2v1h-2zM325 294h1v1h-1zM328 294h1v1h-1zM330 294h1v1h-1zM332 294h2v1h-2zM351 294h1v1h-1zM373 294h2v1h-2zM385 294h2v1h-2zM389 294h2v1h-2zM401 294h2v1h-2zM408 294h2v1h-2zM413 294h2v1h-2zM418 294h2v1h-2zM423 294h1v1h-1zM312 295h2v1h-2zM317 295h1v1h-1zM319 295h2v1h-2zM322 295h1v1h-1zM325 295h1v1h-1zM327 295h2v1h-2zM330 295h1v1h-1zM338 295h1v1h-1zM357 295h2v1h-2zM370 295h1v1h-1zM377 295h2v1h-2zM396 295h1v1h-1zM408 295h1v1h-1zM411 295h1v1h-1zM415 295h2v1h-2zM426 295h1v1h-1zM312 296h1v1h-1zM314 296h1v1h-1zM321 296h1v1h-1zM326 296h1v1h-1zM328 296h1v1h-1zM330 296h1v1h-1zM343 296h1v1h-1zM346 296h1v1h-1zM348 296h1v1h-1zM351 296h1v1h-1zM355 296h2v1h-2zM366 296h1v1h-1zM397 296h1v1h-1zM311 297h1v1h-1zM314 297h1v1h-1zM316 297h2v1h-2zM324 297h2v1h-2zM328 297h2v1h-2zM384 297h1v1h-1zM416 297h1v1h-1zM311 298h1v1h-1zM314 298h2v1h-2zM317 298h1v1h-1zM319 298h2v1h-2zM323 298h2v1h-2zM326 298h1v1h-1zM328 298h2v1h-2zM347 298h1v1h-1zM350 298h1v1h-1zM373 298h1v1h-1zM375 298h1v1h-1zM377 298h2v1h-2zM414 298h1v1h-1zM311 299h1v1h-1zM316 299h2v1h-2zM320 299h1v1h-1zM325 299h1v1h-1zM328 299h1v1h-1zM330 299h1v1h-1zM349 299h2v1h-2zM352 299h1v1h-1zM370 299h1v1h-1zM390 299h1v1h-1zM400 299h1v1h-1zM317 300h1v1h-1zM319 300h2v1h-2zM329 300h1v1h-1zM332 300h1v1h-1zM341 300h1v1h-1zM353 300h1v1h-1zM355 300h1v1h-1zM359 300h2v1h-2zM390 300h1v1h-1zM399 300h1v1h-1zM401 300h1v1h-1zM414 300h2v1h-2zM421 300h1v1h-1zM346 301h1v1h-1zM351 301h2v1h-2zM358 301h1v1h-1zM405 301h2v1h-2zM408 301h1v1h-1zM312 302h2v1h-2zM315 302h1v1h-1zM325 302h2v1h-2zM349 302h1v1h-1zM369 302h2v1h-2zM401 302h2v1h-2zM410 302h1v1h-1zM412 302h1v1h-1zM311 303h1v1h-1zM317 303h1v1h-1zM320 303h1v1h-1zM324 303h1v1h-1zM326 303h2v1h-2zM348 303h2v1h-2zM357 303h1v1h-1zM366 303h1v1h-1zM372 303h2v1h-2zM394 303h1v1h-1zM313 304h2v1h-2zM319 304h1v1h-1zM321 304h2v1h-2zM325 304h1v1h-1zM328 304h1v1h-1zM339 304h2v1h-2zM373 304h2v1h-2zM399 304h2v1h-2zM402 304h1v1h-1zM409 304h2v1h-2zM311 305h1v1h-1zM314 305h1v1h-1zM318 305h1v1h-1zM320 305h1v1h-1zM324 305h2v1h-2zM327 305h1v1h-1zM329 305h2v1h-2zM332 305h2v1h-2zM341 305h1v1h-1zM369 305h1v1h-1zM378 305h1v1h-1zM395 305h2v1h-2zM403 305h1v1h-1zM405 305h1v1h-1zM408 305h1v1h-1zM413 305h2v1h-2zM423 305h2v1h-2zM311 306h1v1h-1zM319 306h1v1h-1zM321 306h2v1h-2zM326 306h2v1h-2zM329 306h1v1h-1zM341 306h2v1h-2zM377 306h1v1h-1zM381 306h1v1h-1zM312 307h2v1h-2zM320 307h1v1h-1zM324 307h1v1h-1zM326 307h1v1h-1zM330 307h1v1h-1zM367 307h2v1h-2zM406 307h1v1h-1zM315 308h1v1h-1zM326 308h1v1h-1zM332 308h1v1h-1zM338 308h1v1h-1zM376 308h1v1h-1zM416 308h2v1h-2zM311 309h1v1h-1zM313 309h2v1h-2zM320 309h2v1h-2zM326 309h2v1h-2zM329 309h1v1h-1zM331 309h1v1h-1zM341 309h2v1h-2zM393 309h2v1h-2zM396 309h2v1h-2zM404 309h2v1h-2zM426 309h2v1h-2zM312 310h1v1h-1zM316 310h1v1h-1zM320 310h1v1h-1zM324 310h2v1h-2zM328 310h2v1h-2zM331 310h1v1h-1zM351 310h1v1h-1zM356 310h2v1h-2zM365 310h1v1h-1zM386 310h1v1h-1zM400 310h1v1h-1zM413 310h2v1h-2zM417 310h1v1h-1zM421 310h2v1h-2zM313 311h1v1h-1zM324 311h1v1h-1zM345 311h2v1h-2zM384 311h1v1h-1zM388 311h1v1h-1zM393 311h1v1h-1zM311 312h1v1h-1zM315 312h1v1h-1zM318 312h1v1h-1zM320 312h1v1h-1zM325 312h1v1h-1zM332 312h1v1h-1zM344 312h2v1h-2zM347 312h1v1h-1zM352 312h1v1h-1zM402 312h1v1h-1zM411 312h1v1h-1zM420 312h1v1h-1zM423 312h2v1h-2zM428 312h1v1h-1zM311 313h1v1h-1zM321 313h2v1h-2zM327 313h1v1h-1zM329 313h2v1h-2zM350 313h2v1h-2zM357 313h1v1h-1zM365 313h2v1h-2zM371 313h2v1h-2zM380 313h1v1h-1zM383 313h1v1h-1zM313 314h1v1h-1zM315 314h1v1h-1zM319 314h1v1h-1zM321 314h2v1h-2zM324 314h1v1h-1zM328 314h2v1h-2zM346 314h1v1h-1zM349 314h1v1h-1zM355 314h1v1h-1zM370 314h1v1h-1zM410 314h1v1h-1zM314 315h1v1h-1zM317 315h1v1h-1zM319 315h1v1h-1zM325 315h2v1h-2zM328 315h1v1h-1zM353 315h2v1h-2zM358 315h2v1h-2zM406 315h2v1h-2zM312 316h1v1h-1zM319 316h1v1h-1zM325 316h1v1h-1zM328 316h1v1h-1zM338 316h2v1h-2zM341 316h1v1h-1zM356 316h2v1h-2zM374 316h2v1h-2zM411 316h1v1h-1zM414 316h2v1h-2zM426 316h1v1h-1zM311 317h1v1h-1zM331 317h1v1h-1zM358 317h1v1h-1zM381 317h1v1h-1zM413 317h1v1h-1zM416 317h1v1h-1zM420 317h1v1h-1zM426 317h1v1h-1zM315 318h1v1h-1zM406 318h1v1h-1zM313 319h2v1h-2zM316 319h1v1h-1zM321 319h2v1h-2zM331 319h1v1h-1zM357 319h1v1h-1zM386 319h1v1h-1zM398 319h2v1h-2zM424 319h1v1h-1zM313 320h1v1h-1zM316 320h2v1h-2zM319 320h2v1h-2zM322 320h1v1h-1zM329 320h1v1h-1zM331 320h2v1h-2zM338 320h1v1h-1zM344 320h1v1h-1zM371 320h1v1h-1zM382 320h1v1h-1zM312 321h1v1h-1zM316 321h1v1h-1zM320 321h2v1h-2zM325 321h1v1h-1zM328 321h1v1h-1zM331 321h1v1h-1zM348 321h1v1h-1zM353 321h1v1h-1zM358 321h2v1h-2zM369 321h2v1h-2zM395 321h1v1h-1zM413 321h2v1h-2zM419 321h1v1h-1zM427 321h1v1h-1zM315 322h1v1h-1zM318 322h2v1h-2zM332 322h2v1h-2zM339 322h2v1h-2zM347 322h1v1h-1zM393 322h2v1h-2zM403 322h1v1h-1zM422 322h1v1h-1zM424 322h2v1h-2zM311 323h1v1h-1zM313 323h2v1h-2zM317 323h2v1h-2zM321 323h2v1h-2zM324 323h1v1h-1zM326 323h2v1h-2zM329 323h2v1h-2zM332 323h1v1h-1zM346 323h1v1h-1zM422 323h2v1h-2zM311 324h1v1h-1zM319 324h1v1h-1zM399 324h1v1h-1zM312 325h1v1h-1zM315 325h1v1h-1zM317 325h2v1h-2zM322 325h1v1h-1zM325 325h2v1h-2zM328 325h1v1h-1zM331 325h1v1h-1zM338 325h1v1h-1zM341 325h1v1h-1zM348 325h1v1h-1zM359 325h1v1h-1zM366 325h1v1h-1zM375 325h2v1h-2zM401 325h1v1h-1zM403 325h1v1h-1zM410 325h1v1h-1zM417 325h2v1h-2zM428 325h2v1h-2zM314 326h1v1h-1zM316 326h1v1h-1zM319 326h2v1h-2zM324 326h1v1h-1zM327 326h2v1h-2zM330 326h1v1h-1zM332 326h1v1h-1zM351 326h1v1h-1zM362 326h2v1h-2zM371 326h1v1h-1zM377 326h1v1h-1zM403 326h1v1h-1zM410 326h1v1h-1zM413 326h2v1h-2zM313 327h1v1h-1zM315 327h2v1h-2zM319 327h2v1h-2zM325 327h2v1h-2zM329 327h1v1h-1zM332 327h2v1h-2zM347 327h2v1h-2zM350 327h1v1h-1zM364 327h1v1h-1zM368 327h1v1h-1zM384 327h2v1h-2zM403 327h1v1h-1zM406 327h2v1h-2zM314 328h1v1h-1zM317 328h2v1h-2zM321 328h1v1h-1zM325 328h2v1h-2zM331 328h2v1h-2zM339 328h1v1h-1zM344 328h1v1h-1zM352 328h2v1h-2zM378 328h1v1h-1zM382 328h2v1h-2zM403 328h1v1h-1zM421 328h1v1h-1zM313 329h2v1h-2zM326 329h1v1h-1zM328 329h2v1h-2zM331 329h1v1h-1zM339 329h1v1h-1zM356 329h1v1h-1zM362 329h2v1h-2zM384 329h2v1h-2zM408 329h1v1h-1zM421 329h1v1h-1zM311 330h2v1h-2zM314 330h1v1h-1zM329 330h1v1h-1zM331 330h1v1h-1zM339 330h2v1h-2zM370 330h1v1h-1zM407 330h2v1h-2zM415 330h1v1h-1zM311 331h2v1h-2zM315 331h1v1h-1zM333 331h2v1h-2zM354 331h1v1h-1zM381 331h1v1h-1zM399 331h1v1h-1zM406 331h2v1h-2zM313 332h1v1h-1zM316 332h1v1h-1zM324 332h1v1h-1zM327 332h1v1h-1zM331 332h1v1h-1zM339 332h2v1h-2zM349 332h1v1h-1zM403 332h2v1h-2zM413 332h1v1h-1zM416 332h1v1h-1zM420 332h1v1h-1zM314 333h1v1h-1zM318 333h1v1h-1zM327 333h1v1h-1zM332 333h1v1h-1zM334 333h1v1h-1zM386 333h2v1h-2zM391 333h2v1h-2zM394 333h2v1h-2zM412 333h1v1h-1zM420 333h1v1h-1zM312 334h2v1h-2zM316 334h1v1h-1zM318 334h2v1h-2zM328 334h2v1h-2zM370 334h1v1h-1zM412 334h1v1h-1zM419 334h1v1h-1zM425 334h1v1h-1zM315 335h2v1h-2zM320 335h1v1h-1zM328 335h1v1h-1zM344 335h2v1h-2zM356 335h1v1h-1zM371 335h1v1h-1zM402 335h2v1h-2zM311 336h2v1h-2zM314 336h2v1h-2zM329 336h1v1h-1zM341 336h1v1h-1zM365 336h1v1h-1zM375 336h1v1h-1zM404 336h2v1h-2zM408 336h2v1h-2zM415 336h1v1h-1zM421 336h2v1h-2zM314 337h2v1h-2zM317 337h2v1h-2zM320 337h2v1h-2zM324 337h1v1h-1zM332 337h2v1h-2zM339 337h1v1h-1zM366 337h1v1h-1zM391 337h1v1h-1zM396 337h1v1h-1zM403 337h2v1h-2zM412 337h2v1h-2zM420 337h1v1h-1zM424 337h1v1h-1zM427 337h2v1h-2zM313 338h2v1h-2zM320 338h1v1h-1zM324 338h1v1h-1zM327 338h1v1h-1zM329 338h1v1h-1zM332 338h1v1h-1zM350 338h1v1h-1zM358 338h1v1h-1zM372 338h1v1h-1zM381 338h1v1h-1zM400 338h2v1h-2zM413 338h1v1h-1zM320 339h2v1h-2zM324 339h1v1h-1zM347 339h1v1h-1zM355 339h1v1h-1zM401 339h1v1h-1zM416 339h1v1h-1zM311 340h2v1h-2zM314 340h1v1h-1zM316 340h1v1h-1zM325 340h1v1h-1zM329 340h1v1h-1zM354 340h2v1h-2zM384 340h1v1h-1zM390 340h1v1h-1zM392 340h2v1h-2zM399 340h1v1h-1zM405 340h2v1h-2zM426 340h1v1h-1zM313 341h1v1h-1zM315 341h1v1h-1zM326 341h1v1h-1zM331 341h1v1h-1zM345 341h1v1h-1zM350 341h1v1h-1zM355 341h2v1h-2zM359 341h2v1h-2zM366 341h1v1h-1zM399 341h1v1h-1zM423 341h2v1h-2zM426 341h2v1h-2zM312 342h1v1h-1zM314 342h2v1h-2zM319 342h1v1h-1zM321 342h1v1h-1zM326 342h2v1h-2zM331 342h2v1h-2zM339 342h1v1h-1zM354 342h2v1h-2zM357 342h2v1h-2zM395 342h2v1h-2zM425 342h2v1h-2zM313 343h2v1h-2zM316 343h2v1h-2zM319 343h1v1h-1zM321 343h1v1h-1zM327 343h2v1h-2zM330 343h2v1h-2zM341 343h1v1h-1zM346 343h1v1h-1zM356 343h1v1h-1zM371 343h2v1h-2zM384 343h2v1h-2zM402 343h2v1h-2zM312 344h1v1h-1zM316 344h1v1h-1zM320 344h1v1h-1zM325 344h2v1h-2zM328 344h1v1h-1zM331 344h2v1h-2zM346 344h2v1h-2zM357 344h2v1h-2zM362 344h2v1h-2zM404 344h1v1h-1zM406 344h1v1h-1zM418 344h2v1h-2zM421 344h1v1h-1zM313 345h1v1h-1zM318 345h1v1h-1zM324 345h1v1h-1zM332 345h1v1h-1zM350 345h1v1h-1zM369 345h2v1h-2zM409 345h1v1h-1zM416 345h2v1h-2zM311 346h1v1h-1zM313 346h2v1h-2zM320 346h1v1h-1zM325 346h1v1h-1zM345 346h1v1h-1zM347 346h1v1h-1zM351 346h1v1h-1zM353 346h2v1h-2zM378 346h1v1h-1zM394 346h2v1h-2zM412 346h1v1h-1zM415 346h1v1h-1zM427 346h1v1h-1zM311 347h2v1h-2zM317 347h1v1h-1zM319 347h2v1h-2zM360 347h1v1h-1zM313 348h2v1h-2zM324 348h1v1h-1zM353 348h1v1h-1zM365 348h2v1h-2zM384 348h1v1h-1zM409 348h1v1h-1zM418 348h2v1h-2zM319 349h2v1h-2zM327 349h2v1h-2zM336 349h2v1h-2zM351 349h1v1h-1zM376 349h1v1h-1zM426 349h2v1h-2zM311 350h1v1h-1zM314 350h1v1h-1zM317 350h1v1h-1zM319 350h1v1h-1zM321 350h1v1h-1zM325 350h1v1h-1zM327 350h1v1h-1zM329 350h1v1h-1zM331 350h1v1h-1zM338 350h2v1h-2zM352 350h1v1h-1zM354 350h2v1h-2zM357 350h1v1h-1zM373 350h2v1h-2zM376 350h1v1h-1zM401 350h2v1h-2zM416 350h2v1h-2zM420 350h1v1h-1zM425 350h2v1h-2zM328 351h2v1h-2zM332 351h1v1h-1zM345 351h1v1h-1zM357 351h2v1h-2zM380 351h2v1h-2zM391 351h1v1h-1zM315 352h2v1h-2zM320 352h1v1h-1zM324 352h2v1h-2zM327 352h1v1h-1zM332 352h2v1h-2zM382 352h2v1h-2zM417 352h2v1h-2zM428 352h1v1h-1zM314 353h2v1h-2zM319 353h1v1h-1zM325 353h1v1h-1zM331 353h1v1h-1zM340 353h2v1h-2zM359 353h2v1h-2zM429 353h1v1h-1zM311 354h2v1h-2zM314 354h2v1h-2zM326 354h1v1h-1zM330 354h1v1h-1zM340 354h1v1h-1zM348 354h1v1h-1zM358 354h1v1h-1zM362 354h1v1h-1zM371 354h1v1h-1zM381 354h2v1h-2zM395 354h1v1h-1zM421 354h2v1h-2zM428 354h2v1h-2zM311 355h1v1h-1zM316 355h2v1h-2zM326 355h1v1h-1zM328 355h1v1h-1zM331 355h1v1h-1zM349 355h2v1h-2zM358 355h1v1h-1zM377 355h1v1h-1zM393 355h1v1h-1zM413 355h2v1h-2zM425 355h1v1h-1zM311 356h1v1h-1zM316 356h1v1h-1zM318 356h1v1h-1zM320 356h2v1h-2zM328 356h1v1h-1zM330 356h2v1h-2zM341 356h1v1h-1zM347 356h1v1h-1zM350 356h2v1h-2zM359 356h2v1h-2zM374 356h1v1h-1zM376 356h2v1h-2zM408 356h2v1h-2zM416 356h1v1h-1zM312 357h1v1h-1zM316 357h2v1h-2zM319 357h2v1h-2zM324 357h2v1h-2zM327 357h2v1h-2zM338 357h2v1h-2zM354 357h1v1h-1zM368 357h1v1h-1zM373 357h2v1h-2zM377 357h1v1h-1zM380 357h1v1h-1zM399 357h1v1h-1zM405 357h2v1h-2zM409 357h1v1h-1zM415 357h1v1h-1zM420 357h1v1h-1zM424 357h2v1h-2zM313 358h2v1h-2zM318 358h1v1h-1zM324 358h1v1h-1zM326 358h1v1h-1zM328 358h1v1h-1zM330 358h1v1h-1zM332 358h2v1h-2zM351 358h2v1h-2zM354 358h1v1h-1zM356 358h2v1h-2zM362 358h1v1h-1zM369 358h2v1h-2zM374 358h1v1h-1zM380 358h2v1h-2zM391 358h1v1h-1zM407 358h1v1h-1zM410 358h1v1h-1zM420 358h1v1h-1zM311 359h1v1h-1zM313 359h1v1h-1zM320 359h1v1h-1zM325 359h1v1h-1zM330 359h1v1h-1zM341 359h1v1h-1zM353 359h2v1h-2zM356 359h1v1h-1zM359 359h1v1h-1zM385 359h1v1h-1zM401 359h1v1h-1zM415 359h1v1h-1zM311 360h2v1h-2zM316 360h2v1h-2zM320 360h1v1h-1zM325 360h2v1h-2zM338 360h2v1h-2zM352 360h2v1h-2zM357 360h1v1h-1zM401 360h1v1h-1zM427 360h2v1h-2zM314 361h1v1h-1zM324 361h1v1h-1zM326 361h1v1h-1zM328 361h1v1h-1zM330 361h1v1h-1zM338 361h1v1h-1zM357 361h1v1h-1zM366 361h2v1h-2zM390 361h1v1h-1zM394 361h2v1h-2zM397 361h2v1h-2zM404 361h1v1h-1zM420 361h1v1h-1zM423 361h1v1h-1zM428 361h1v1h-1zM312 362h1v1h-1zM314 362h1v1h-1zM316 362h1v1h-1zM319 362h1v1h-1zM325 362h2v1h-2zM354 362h1v1h-1zM357 362h1v1h-1zM392 362h1v1h-1zM403 362h1v1h-1zM427 362h2v1h-2zM312 363h1v1h-1zM314 363h1v1h-1zM317 363h2v1h-2zM320 363h1v1h-1zM322 363h1v1h-1zM325 363h1v1h-1zM332 363h2v1h-2zM349 363h1v1h-1zM357 363h2v1h-2zM369 363h1v1h-1zM401 363h2v1h-2zM406 363h1v1h-1zM422 363h2v1h-2zM329 364h1v1h-1zM332 364h2v1h-2zM348 364h1v1h-1zM357 364h1v1h-1zM365 364h1v1h-1zM379 364h2v1h-2zM388 364h1v1h-1zM311 365h1v1h-1zM318 365h1v1h-1zM324 365h1v1h-1zM329 365h2v1h-2zM340 365h1v1h-1zM346 365h2v1h-2zM350 365h1v1h-1zM370 365h2v1h-2zM375 365h2v1h-2zM383 365h1v1h-1zM385 365h1v1h-1zM403 365h1v1h-1zM408 365h1v1h-1zM413 365h1v1h-1zM421 365h1v1h-1zM428 365h2v1h-2zM318 366h1v1h-1zM320 366h1v1h-1zM346 366h2v1h-2zM365 366h1v1h-1zM368 366h2v1h-2zM372 366h1v1h-1zM376 366h1v1h-1zM382 366h2v1h-2zM423 366h2v1h-2zM318 367h1v1h-1zM324 367h1v1h-1zM347 367h1v1h-1zM376 367h1v1h-1zM423 367h2v1h-2zM317 368h1v1h-1zM325 368h1v1h-1zM329 368h2v1h-2zM340 368h1v1h-1zM346 368h1v1h-1zM359 368h2v1h-2zM376 368h1v1h-1zM402 368h1v1h-1zM412 368h1v1h-1zM426 368h1v1h-1zM314 369h1v1h-1zM316 369h2v1h-2zM320 369h1v1h-1zM326 369h2v1h-2zM329 369h1v1h-1zM347 369h2v1h-2zM353 369h1v1h-1zM356 369h2v1h-2zM385 369h1v1h-1zM399 369h1v1h-1zM407 369h1v1h-1zM422 369h1v1h-1zM311 370h2v1h-2zM314 370h1v1h-1zM316 370h1v1h-1zM350 370h1v1h-1zM355 370h1v1h-1zM420 370h1v1h-1zM312 371h2v1h-2zM315 371h1v1h-1zM317 371h2v1h-2zM320 371h2v1h-2zM326 371h1v1h-1zM328 371h1v1h-1zM330 371h1v1h-1zM348 371h1v1h-1zM352 371h1v1h-1zM401 371h2v1h-2zM420 371h2v1h-2zM427 371h2v1h-2zM312 372h2v1h-2zM321 372h1v1h-1zM326 372h2v1h-2zM330 372h1v1h-1zM346 372h1v1h-1zM358 372h1v1h-1zM416 372h1v1h-1zM424 372h1v1h-1zM317 373h2v1h-2zM321 373h1v1h-1zM325 373h2v1h-2zM328 373h1v1h-1zM331 373h1v1h-1zM340 373h2v1h-2zM352 373h2v1h-2zM384 373h1v1h-1zM401 373h2v1h-2zM418 373h1v1h-1zM313 374h1v1h-1zM316 374h1v1h-1zM318 374h2v1h-2zM321 374h1v1h-1zM323 374h1v1h-1zM326 374h2v1h-2zM331 374h1v1h-1zM340 374h2v1h-2zM347 374h1v1h-1zM359 374h2v1h-2zM391 374h2v1h-2zM401 374h1v1h-1zM404 374h1v1h-1zM422 374h1v1h-1zM426 374h1v1h-1zM312 375h1v1h-1zM325 375h1v1h-1zM327 375h1v1h-1zM331 375h1v1h-1zM346 375h1v1h-1zM383 375h2v1h-2zM311 376h1v1h-1zM314 376h1v1h-1zM316 376h1v1h-1zM350 376h1v1h-1zM352 376h2v1h-2zM363 376h1v1h-1zM370 376h1v1h-1zM373 376h2v1h-2zM412 376h1v1h-1zM423 376h1v1h-1zM426 376h1v1h-1zM313 377h1v1h-1zM316 377h1v1h-1zM318 377h1v1h-1zM321 377h2v1h-2zM324 377h1v1h-1zM326 377h1v1h-1zM331 377h1v1h-1zM360 377h1v1h-1zM370 377h2v1h-2zM386 377h1v1h-1zM402 377h2v1h-2zM405 377h1v1h-1zM413 377h2v1h-2zM416 377h1v1h-1zM428 377h2v1h-2zM312 378h1v1h-1zM324 378h1v1h-1zM328 378h1v1h-1zM330 378h2v1h-2zM338 378h1v1h-1zM340 378h1v1h-1zM355 378h1v1h-1zM365 378h1v1h-1zM388 378h2v1h-2zM404 378h1v1h-1zM406 378h1v1h-1zM414 378h1v1h-1zM416 378h2v1h-2zM427 378h2v1h-2zM315 379h2v1h-2zM319 379h1v1h-1zM323 379h1v1h-1zM326 379h1v1h-1zM330 379h1v1h-1zM340 379h2v1h-2zM347 379h1v1h-1zM351 379h1v1h-1zM355 379h1v1h-1zM365 379h1v1h-1zM367 379h1v1h-1zM401 379h1v1h-1zM311 380h1v1h-1zM316 380h2v1h-2zM319 380h1v1h-1zM321 380h2v1h-2zM330 380h1v1h-1zM332 380h1v1h-1zM379 380h1v1h-1zM402 380h2v1h-2zM410 380h2v1h-2zM428 380h1v1h-1zM314 381h1v1h-1zM324 381h2v1h-2zM329 381h1v1h-1zM346 381h2v1h-2zM351 381h1v1h-1zM370 381h2v1h-2zM375 381h1v1h-1zM394 381h1v1h-1zM312 382h2v1h-2zM316 382h1v1h-1zM318 382h2v1h-2zM322 382h2v1h-2zM329 382h1v1h-1zM332 382h2v1h-2zM347 382h2v1h-2zM350 382h1v1h-1zM352 382h1v1h-1zM355 382h1v1h-1zM361 382h1v1h-1zM377 382h1v1h-1zM395 382h2v1h-2zM411 382h2v1h-2zM311 383h1v1h-1zM318 383h1v1h-1zM322 383h1v1h-1zM325 383h1v1h-1zM329 383h1v1h-1zM331 383h1v1h-1zM341 383h2v1h-2zM353 383h1v1h-1zM368 383h1v1h-1zM401 383h1v1h-1zM412 383h1v1h-1zM417 383h1v1h-1zM419 383h1v1h-1zM423 383h1v1h-1zM429 383h1v1h-1zM311 384h2v1h-2zM315 384h1v1h-1zM325 384h1v1h-1zM327 384h1v1h-1zM330 384h1v1h-1zM338 384h1v1h-1zM347 384h2v1h-2zM392 384h1v1h-1zM409 384h2v1h-2zM414 384h1v1h-1zM313 385h1v1h-1zM315 385h1v1h-1zM317 385h1v1h-1zM321 385h1v1h-1zM323 385h1v1h-1zM326 385h2v1h-2zM329 385h1v1h-1zM331 385h2v1h-2zM342 385h2v1h-2zM353 385h2v1h-2zM372 385h1v1h-1zM381 385h1v1h-1zM383 385h2v1h-2zM409 385h1v1h-1zM419 385h1v1h-1zM311 386h2v1h-2zM314 386h2v1h-2zM317 386h2v1h-2zM320 386h1v1h-1zM327 386h1v1h-1zM329 386h2v1h-2zM346 386h2v1h-2zM359 386h2v1h-2zM365 386h2v1h-2zM371 386h1v1h-1zM393 386h1v1h-1zM412 386h2v1h-2zM424 386h1v1h-1zM313 387h1v1h-1zM321 387h1v1h-1zM326 387h1v1h-1zM343 387h1v1h-1zM348 387h1v1h-1zM357 387h1v1h-1zM366 387h1v1h-1zM376 387h1v1h-1zM400 387h1v1h-1zM416 387h1v1h-1zM314 388h1v1h-1zM316 388h1v1h-1zM320 388h2v1h-2zM324 388h1v1h-1zM330 388h1v1h-1zM332 388h1v1h-1zM341 388h1v1h-1zM351 388h1v1h-1zM353 388h1v1h-1zM376 388h2v1h-2zM404 388h1v1h-1zM407 388h1v1h-1zM419 388h1v1h-1zM313 389h1v1h-1zM316 389h1v1h-1zM318 389h2v1h-2zM326 389h1v1h-1zM329 389h2v1h-2zM340 389h2v1h-2zM349 389h1v1h-1zM357 389h1v1h-1zM386 389h1v1h-1zM423 389h2v1h-2zM314 390h2v1h-2zM317 390h1v1h-1zM319 390h1v1h-1zM321 390h1v1h-1zM325 390h1v1h-1zM327 390h2v1h-2zM331 390h2v1h-2zM340 390h1v1h-1zM351 390h1v1h-1zM361 390h2v1h-2zM384 390h2v1h-2zM419 390h1v1h-1zM311 391h1v1h-1zM313 391h1v1h-1zM315 391h2v1h-2zM319 391h2v1h-2zM325 391h1v1h-1zM327 391h1v1h-1zM329 391h1v1h-1zM331 391h2v1h-2zM340 391h2v1h-2zM345 391h1v1h-1zM354 391h2v1h-2zM357 391h2v1h-2zM374 391h1v1h-1zM390 391h1v1h-1zM392 391h2v1h-2zM398 391h1v1h-1zM418 391h1v1h-1zM423 391h1v1h-1zM427 391h1v1h-1zM429 391h2v1h-2zM311 392h1v1h-1zM317 392h1v1h-1zM319 392h2v1h-2zM332 392h1v1h-1zM357 392h1v1h-1zM370 392h1v1h-1zM376 392h1v1h-1zM378 392h2v1h-2zM413 392h1v1h-1zM424 392h1v1h-1zM312 393h1v1h-1zM314 393h1v1h-1zM318 393h2v1h-2zM325 393h1v1h-1zM327 393h2v1h-2zM331 393h2v1h-2zM356 393h1v1h-1zM405 393h1v1h-1zM408 393h2v1h-2zM321 394h1v1h-1zM324 394h1v1h-1zM338 394h1v1h-1zM350 394h1v1h-1zM393 394h1v1h-1zM419 394h1v1h-1zM423 394h2v1h-2zM324 395h1v1h-1zM326 395h1v1h-1zM328 395h1v1h-1zM332 395h1v1h-1zM353 395h1v1h-1zM358 395h1v1h-1zM366 395h2v1h-2zM377 395h1v1h-1zM388 395h1v1h-1zM410 395h1v1h-1zM423 395h1v1h-1zM313 396h2v1h-2zM319 396h1v1h-1zM326 396h2v1h-2zM329 396h2v1h-2zM332 396h1v1h-1zM336 396h2v1h-2zM358 396h1v1h-1zM390 396h2v1h-2zM411 396h1v1h-1zM314 397h1v1h-1zM318 397h1v1h-1zM320 397h1v1h-1zM326 397h1v1h-1zM341 397h1v1h-1zM348 397h1v1h-1zM351 397h2v1h-2zM358 397h1v1h-1zM378 397h2v1h-2zM386 397h2v1h-2zM402 397h1v1h-1zM424 397h2v1h-2zM315 398h1v1h-1zM317 398h1v1h-1zM320 398h2v1h-2zM329 398h2v1h-2zM346 398h2v1h-2zM355 398h1v1h-1zM359 398h1v1h-1zM421 398h1v1h-1zM314 399h2v1h-2zM321 399h1v1h-1zM324 399h1v1h-1zM326 399h1v1h-1zM329 399h1v1h-1zM331 399h2v1h-2zM357 399h1v1h-1zM417 399h1v1h-1zM311 400h1v1h-1zM313 400h1v1h-1zM316 400h1v1h-1zM324 400h1v1h-1zM328 400h1v1h-1zM330 400h1v1h-1zM353 400h1v1h-1zM359 400h1v1h-1zM408 400h1v1h-1zM414 400h1v1h-1zM418 400h2v1h-2zM421 400h1v1h-1zM427 400h2v1h-2zM311 401h1v1h-1zM313 401h1v1h-1zM317 401h2v1h-2zM320 401h2v1h-2zM324 401h1v1h-1zM326 401h1v1h-1zM331 401h1v1h-1zM341 401h2v1h-2zM351 401h2v1h-2zM356 401h1v1h-1zM408 401h1v1h-1zM413 401h2v1h-2zM425 401h2v1h-2zM314 402h1v1h-1zM319 402h1v1h-1zM329 402h1v1h-1zM349 402h1v1h-1zM351 402h1v1h-1zM363 402h1v1h-1zM371 402h1v1h-1zM385 402h1v1h-1zM401 402h1v1h-1zM315 403h2v1h-2zM321 403h2v1h-2zM326 403h1v1h-1zM413 403h1v1h-1zM316 404h1v1h-1zM318 404h2v1h-2zM338 404h2v1h-2zM341 404h1v1h-1zM347 404h1v1h-1zM386 404h2v1h-2zM411 404h1v1h-1zM425 404h1v1h-1zM429 404h2v1h-2zM311 405h1v1h-1zM315 405h1v1h-1zM318 405h2v1h-2zM327 405h2v1h-2zM341 405h1v1h-1zM360 405h1v1h-1zM401 405h1v1h-1zM421 405h1v1h-1zM311 406h2v1h-2zM315 406h1v1h-1zM317 406h2v1h-2zM320 406h1v1h-1zM326 406h2v1h-2zM329 406h1v1h-1zM332 406h1v1h-1zM339 406h1v1h-1zM353 406h1v1h-1zM356 406h1v1h-1zM371 406h1v1h-1zM384 406h1v1h-1zM391 406h1v1h-1zM409 406h1v1h-1zM421 406h1v1h-1zM312 407h1v1h-1zM315 407h1v1h-1zM317 407h1v1h-1zM320 407h2v1h-2zM324 407h1v1h-1zM326 407h1v1h-1zM328 407h2v1h-2zM331 407h2v1h-2zM338 407h2v1h-2zM367 407h2v1h-2zM402 407h1v1h-1zM404 407h1v1h-1zM427 407h1v1h-1zM318 408h2v1h-2zM321 408h2v1h-2zM326 408h1v1h-1zM328 408h2v1h-2zM341 408h1v1h-1zM397 408h1v1h-1zM401 408h2v1h-2zM411 408h1v1h-1zM419 408h1v1h-1zM422 408h1v1h-1zM313 409h1v1h-1zM322 409h1v1h-1zM328 409h1v1h-1zM331 409h2v1h-2zM354 409h1v1h-1zM402 409h1v1h-1zM410 409h1v1h-1zM427 409h2v1h-2zM318 410h1v1h-1zM321 410h2v1h-2zM324 410h2v1h-2zM327 410h2v1h-2zM345 410h1v1h-1zM360 410h1v1h-1zM366 410h2v1h-2zM376 410h2v1h-2zM393 410h1v1h-1zM317 411h2v1h-2zM330 411h1v1h-1zM345 411h2v1h-2zM355 411h2v1h-2zM374 411h1v1h-1zM380 411h1v1h-1zM420 411h2v1h-2zM311 412h2v1h-2zM321 412h2v1h-2zM324 412h1v1h-1zM328 412h1v1h-1zM341 412h1v1h-1zM355 412h1v1h-1zM366 412h1v1h-1zM374 412h1v1h-1zM385 412h2v1h-2zM404 412h1v1h-1zM408 412h1v1h-1zM319 413h1v1h-1zM321 413h1v1h-1zM347 413h1v1h-1zM380 413h1v1h-1zM311 414h2v1h-2zM315 414h1v1h-1zM318 414h1v1h-1zM321 414h1v1h-1zM325 414h1v1h-1zM328 414h1v1h-1zM331 414h1v1h-1zM346 414h1v1h-1zM348 414h2v1h-2zM351 414h1v1h-1zM379 414h2v1h-2zM382 414h1v1h-1zM392 414h1v1h-1zM404 414h2v1h-2zM407 414h1v1h-1zM424 414h1v1h-1zM323 415h2v1h-2zM331 415h1v1h-1zM311 416h1v1h-1zM314 416h2v1h-2zM319 416h2v1h-2zM326 416h1v1h-1zM331 416h1v1h-1zM340 416h1v1h-1zM348 416h1v1h-1zM355 416h2v1h-2zM391 416h1v1h-1zM395 416h2v1h-2zM412 416h2v1h-2zM417 416h1v1h-1zM314 417h2v1h-2zM317 417h2v1h-2zM320 417h1v1h-1zM332 417h2v1h-2zM349 417h1v1h-1zM419 417h1v1h-1zM423 417h1v1h-1zM316 418h1v1h-1zM318 418h1v1h-1zM324 418h1v1h-1zM327 418h1v1h-1zM332 418h1v1h-1zM339 418h1v1h-1zM406 418h2v1h-2zM314 419h2v1h-2zM317 419h1v1h-1zM319 419h1v1h-1zM321 419h1v1h-1zM330 419h1v1h-1zM338 419h1v1h-1zM347 419h2v1h-2zM375 419h1v1h-1zM380 419h1v1h-1zM426 419h1v1h-1zM314 420h2v1h-2zM319 420h1v1h-1zM328 420h2v1h-2zM347 420h2v1h-2zM363 420h1v1h-1zM393 420h1v1h-1zM402 420h2v1h-2zM410 420h1v1h-1zM413 420h2v1h-2zM416 420h1v1h-1zM428 420h2v1h-2zM313 421h1v1h-1zM315 421h1v1h-1zM317 421h1v1h-1zM321 421h1v1h-1zM328 421h1v1h-1zM330 421h2v1h-2zM339 421h2v1h-2zM350 421h2v1h-2zM367 421h2v1h-2zM375 421h1v1h-1zM410 421h1v1h-1zM415 421h2v1h-2zM427 421h2v1h-2zM315 422h1v1h-1zM320 422h1v1h-1zM325 422h1v1h-1zM329 422h1v1h-1zM331 422h1v1h-1zM376 422h1v1h-1zM386 422h1v1h-1zM410 422h2v1h-2zM418 422h2v1h-2zM424 422h2v1h-2zM313 423h1v1h-1zM319 423h2v1h-2zM329 423h1v1h-1zM331 423h2v1h-2zM357 423h1v1h-1zM359 423h1v1h-1zM411 423h2v1h-2zM426 423h1v1h-1zM313 424h1v1h-1zM319 424h2v1h-2zM322 424h2v1h-2zM326 424h2v1h-2zM330 424h1v1h-1zM339 424h1v1h-1zM346 424h2v1h-2zM352 424h1v1h-1zM356 424h2v1h-2zM376 424h1v1h-1zM382 424h1v1h-1zM403 424h1v1h-1zM420 424h2v1h-2zM312 425h2v1h-2zM320 425h1v1h-1zM324 425h1v1h-1zM329 425h1v1h-1zM332 425h1v1h-1zM346 425h2v1h-2zM352 425h2v1h-2zM369 425h2v1h-2zM373 425h2v1h-2zM388 425h1v1h-1zM395 425h1v1h-1zM397 425h1v1h-1zM411 425h1v1h-1zM418 425h1v1h-1zM424 425h1v1h-1zM314 426h1v1h-1zM318 426h1v1h-1zM320 426h1v1h-1zM325 426h1v1h-1zM331 426h1v1h-1zM356 426h2v1h-2zM377 426h2v1h-2zM402 426h2v1h-2zM422 426h1v1h-1zM427 426h2v1h-2zM311 427h1v1h-1zM314 427h2v1h-2zM319 427h1v1h-1zM321 427h2v1h-2zM332 427h1v1h-1zM358 427h1v1h-1zM372 427h1v1h-1zM378 427h2v1h-2zM425 427h2v1h-2zM428 427h1v1h-1zM312 428h2v1h-2zM316 428h1v1h-1zM319 428h1v1h-1zM321 428h2v1h-2zM325 428h1v1h-1zM327 428h2v1h-2zM330 428h1v1h-1zM332 428h1v1h-1zM346 428h1v1h-1zM349 428h1v1h-1zM353 428h1v1h-1zM357 428h1v1h-1zM359 428h1v1h-1zM378 428h1v1h-1zM380 428h1v1h-1zM384 428h1v1h-1zM395 428h1v1h-1zM397 428h1v1h-1zM401 428h2v1h-2zM405 428h1v1h-1zM407 428h1v1h-1zM315 429h2v1h-2zM321 429h2v1h-2zM324 429h1v1h-1zM329 429h1v1h-1zM331 429h2v1h-2zM343 429h1v1h-1zM346 429h2v1h-2zM354 429h2v1h-2zM311 430h1v1h-1zM314 430h2v1h-2zM317 430h1v1h-1zM319 430h1v1h-1zM323 430h2v1h-2zM326 430h1v1h-1zM330 430h1v1h-1zM356 430h1v1h-1zM359 430h2v1h-2zM376 430h1v1h-1zM381 430h1v1h-1zM386 430h2v1h-2zM397 430h2v1h-2zM410 430h2v1h-2zM428 430h1v1h-1zM311 431h1v1h-1zM314 431h2v1h-2zM320 431h2v1h-2zM324 431h2v1h-2zM330 431h1v1h-1zM332 431h2v1h-2zM339 431h1v1h-1zM354 431h1v1h-1zM357 431h2v1h-2zM366 431h1v1h-1zM375 431h2v1h-2zM382 431h2v1h-2zM394 431h2v1h-2zM406 431h1v1h-1zM416 431h1v1h-1zM429 431h1v1h-1zM313 432h1v1h-1zM315 432h1v1h-1zM317 432h2v1h-2zM320 432h1v1h-1zM328 432h2v1h-2zM331 432h2v1h-2zM356 432h1v1h-1zM387 432h1v1h-1zM389 432h2v1h-2zM393 432h1v1h-1zM413 432h2v1h-2zM416 432h1v1h-1zM312 433h1v1h-1zM315 433h2v1h-2zM318 433h2v1h-2zM324 433h1v1h-1zM326 433h1v1h-1zM328 433h1v1h-1zM347 433h1v1h-1zM366 433h1v1h-1zM373 433h1v1h-1zM394 433h2v1h-2zM410 433h2v1h-2zM311 434h2v1h-2zM315 434h2v1h-2zM320 434h1v1h-1zM330 434h1v1h-1zM381 434h1v1h-1zM424 434h1v1h-1zM316 435h2v1h-2zM320 435h1v1h-1zM398 435h2v1h-2zM402 435h1v1h-1zM410 435h1v1h-1zM423 435h1v1h-1zM321 436h2v1h-2zM326 436h1v1h-1zM331 436h1v1h-1zM359 436h2v1h-2zM372 436h1v1h-1zM374 436h1v1h-1zM382 436h2v1h-2zM386 436h1v1h-1zM401 436h2v1h-2zM418 436h1v1h-1zM423 436h1v1h-1zM311 437h2v1h-2zM314 437h1v1h-1zM318 437h1v1h-1zM324 437h1v1h-1zM327 437h1v1h-1zM329 437h2v1h-2zM338 437h2v1h-2zM341 437h1v1h-1zM347 437h2v1h-2zM374 437h2v1h-2zM396 437h2v1h-2zM399 437h1v1h-1zM410 437h2v1h-2zM417 437h1v1h-1zM426 437h1v1h-1zM317 438h1v1h-1zM324 438h1v1h-1zM327 438h2v1h-2zM347 438h1v1h-1zM356 438h2v1h-2zM403 438h1v1h-1zM410 438h1v1h-1zM422 438h2v1h-2zM311 439h1v1h-1zM314 439h2v1h-2zM318 439h2v1h-2zM326 439h2v1h-2zM329 439h2v1h-2zM332 439h1v1h-1zM338 439h1v1h-1zM340 439h2v1h-2zM348 439h1v1h-1zM358 439h1v1h-1zM365 439h2v1h-2zM381 439h2v1h-2zM410 439h1v1h-1zM420 439h1v1h-1zM426 439h2v1h-2zM314 440h1v1h-1zM316 440h2v1h-2zM321 440h2v1h-2zM324 440h2v1h-2zM328 440h1v1h-1zM331 440h1v1h-1zM342 440h1v1h-1zM346 440h1v1h-1zM348 440h1v1h-1zM352 440h1v1h-1zM357 440h1v1h-1zM378 440h1v1h-1zM386 440h1v1h-1zM392 440h1v1h-1zM402 440h1v1h-1zM414 440h1v1h-1zM421 440h1v1h-1zM311 441h1v1h-1zM316 441h2v1h-2zM320 441h2v1h-2zM325 441h1v1h-1zM327 441h1v1h-1zM329 441h2v1h-2zM346 441h2v1h-2zM357 441h1v1h-1zM367 441h1v1h-1zM371 441h1v1h-1zM384 441h1v1h-1zM417 441h2v1h-2zM420 441h2v1h-2zM311 442h2v1h-2zM315 442h1v1h-1zM318 442h2v1h-2zM324 442h2v1h-2zM341 442h2v1h-2zM356 442h1v1h-1zM358 442h1v1h-1zM388 442h1v1h-1zM397 442h1v1h-1zM414 442h1v1h-1zM419 442h1v1h-1zM316 443h1v1h-1zM319 443h1v1h-1zM327 443h1v1h-1zM330 443h2v1h-2zM346 443h1v1h-1zM353 443h2v1h-2zM367 443h1v1h-1zM377 443h1v1h-1zM412 443h1v1h-1zM424 443h2v1h-2zM313 444h1v1h-1zM315 444h2v1h-2zM318 444h1v1h-1zM323 444h1v1h-1zM332 444h1v1h-1zM340 444h2v1h-2zM348 444h1v1h-1zM351 444h2v1h-2zM363 444h1v1h-1zM398 444h1v1h-1zM414 444h1v1h-1zM417 444h1v1h-1zM421 444h1v1h-1zM312 445h1v1h-1zM316 445h1v1h-1zM320 445h1v1h-1zM325 445h1v1h-1zM327 445h2v1h-2zM330 445h1v1h-1zM339 445h1v1h-1zM344 445h2v1h-2zM359 445h1v1h-1zM365 445h2v1h-2zM411 445h1v1h-1zM422 445h1v1h-1zM311 446h2v1h-2zM315 446h2v1h-2zM318 446h1v1h-1zM321 446h1v1h-1zM323 446h2v1h-2zM329 446h2v1h-2zM375 446h2v1h-2zM381 446h2v1h-2zM393 446h2v1h-2zM409 446h2v1h-2zM415 446h1v1h-1zM429 446h2v1h-2zM321 447h1v1h-1zM330 447h1v1h-1zM378 447h1v1h-1zM380 447h1v1h-1zM382 447h1v1h-1zM407 447h1v1h-1zM311 448h1v1h-1zM314 448h1v1h-1zM320 448h1v1h-1zM322 448h1v1h-1zM324 448h1v1h-1zM327 448h2v1h-2zM332 448h2v1h-2zM339 448h2v1h-2zM342 448h1v1h-1zM351 448h1v1h-1zM353 448h1v1h-1zM382 448h1v1h-1zM407 448h2v1h-2zM421 448h1v1h-1zM427 448h2v1h-2zM312 449h1v1h-1zM314 449h1v1h-1zM316 449h1v1h-1zM319 449h1v1h-1zM322 449h2v1h-2zM330 449h1v1h-1zM353 449h2v1h-2zM356 449h1v1h-1zM358 449h1v1h-1zM369 449h1v1h-1zM381 449h2v1h-2zM397 449h1v1h-1zM416 449h2v1h-2zM311 450h1v1h-1zM313 450h1v1h-1zM315 450h1v1h-1zM317 450h1v1h-1zM319 450h1v1h-1zM324 450h1v1h-1zM326 450h1v1h-1zM328 450h1v1h-1zM330 450h2v1h-2zM341 450h1v1h-1zM346 450h1v1h-1zM359 450h1v1h-1zM371 450h2v1h-2zM389 450h1v1h-1zM400 450h2v1h-2zM408 450h1v1h-1zM418 450h1v1h-1zM311 451h2v1h-2zM314 451h1v1h-1zM316 451h2v1h-2zM319 451h1v1h-1zM321 451h1v1h-1zM327 451h1v1h-1zM329 451h2v1h-2zM339 451h1v1h-1zM341 451h1v1h-1zM345 451h2v1h-2zM367 451h2v1h-2zM389 451h1v1h-1zM392 451h1v1h-1zM404 451h1v1h-1zM311 452h1v1h-1zM315 452h1v1h-1zM318 452h1v1h-1zM320 452h1v1h-1zM326 452h1v1h-1zM328 452h1v1h-1zM330 452h2v1h-2zM335 452h1v1h-1zM347 452h1v1h-1zM376 452h1v1h-1zM382 452h1v1h-1zM386 452h1v1h-1zM390 452h1v1h-1zM402 452h2v1h-2zM414 452h2v1h-2zM312 453h1v1h-1zM319 453h2v1h-2zM325 453h1v1h-1zM330 453h1v1h-1zM339 453h1v1h-1zM393 453h1v1h-1zM311 454h1v1h-1zM313 454h2v1h-2zM321 454h1v1h-1zM323 454h1v1h-1zM329 454h2v1h-2zM334 454h1v1h-1zM347 454h1v1h-1zM374 454h1v1h-1zM383 454h1v1h-1zM409 454h2v1h-2zM311 455h1v1h-1zM313 455h2v1h-2zM316 455h1v1h-1zM318 455h2v1h-2zM321 455h2v1h-2zM324 455h2v1h-2zM327 455h2v1h-2zM330 455h1v1h-1zM338 455h1v1h-1zM347 455h1v1h-1zM357 455h1v1h-1zM365 455h1v1h-1zM393 455h1v1h-1zM401 455h1v1h-1zM312 456h1v1h-1zM315 456h1v1h-1zM317 456h1v1h-1zM319 456h1v1h-1zM321 456h2v1h-2zM325 456h2v1h-2zM332 456h1v1h-1zM340 456h1v1h-1zM346 456h1v1h-1zM348 456h1v1h-1zM350 456h1v1h-1zM358 456h1v1h-1zM365 456h1v1h-1zM418 456h1v1h-1zM425 456h1v1h-1zM312 457h1v1h-1zM315 457h1v1h-1zM317 457h1v1h-1zM328 457h1v1h-1zM330 457h2v1h-2zM358 457h1v1h-1zM363 457h2v1h-2zM368 457h1v1h-1zM371 457h1v1h-1zM311 458h2v1h-2zM314 458h1v1h-1zM316 458h2v1h-2zM319 458h2v1h-2zM324 458h1v1h-1zM326 458h1v1h-1zM328 458h2v1h-2zM331 458h1v1h-1zM339 458h2v1h-2zM349 458h2v1h-2zM354 458h2v1h-2zM372 458h1v1h-1zM377 458h1v1h-1zM383 458h1v1h-1zM386 458h2v1h-2zM391 458h1v1h-1zM393 458h1v1h-1zM397 458h2v1h-2zM403 458h1v1h-1zM419 458h2v1h-2zM311 459h2v1h-2zM337 459h2v1h-2zM351 459h1v1h-1zM358 459h1v1h-1zM389 459h1v1h-1zM426 459h1v1h-1zM428 459h2v1h-2zM311 460h1v1h-1zM313 460h1v1h-1zM315 460h1v1h-1zM317 460h1v1h-1zM319 460h1v1h-1zM321 460h1v1h-1zM325 460h2v1h-2zM328 460h2v1h-2zM331 460h1v1h-1zM341 460h1v1h-1zM360 460h2v1h-2zM372 460h1v1h-1zM377 460h1v1h-1zM390 460h2v1h-2zM395 460h2v1h-2zM410 460h2v1h-2zM311 461h1v1h-1zM322 461h2v1h-2zM325 461h1v1h-1zM329 461h2v1h-2zM332 461h1v1h-1zM340 461h1v1h-1zM353 461h1v1h-1zM362 461h1v1h-1zM370 461h1v1h-1zM383 461h2v1h-2zM392 461h1v1h-1zM394 461h1v1h-1zM398 461h1v1h-1zM429 461h2v1h-2zM311 462h1v1h-1zM313 462h2v1h-2zM316 462h2v1h-2zM319 462h1v1h-1zM321 462h1v1h-1zM323 462h1v1h-1zM325 462h1v1h-1zM327 462h1v1h-1zM329 462h1v1h-1zM331 462h2v1h-2zM339 462h1v1h-1zM345 462h1v1h-1zM348 462h2v1h-2zM357 462h1v1h-1zM359 462h2v1h-2zM365 462h1v1h-1zM367 462h1v1h-1zM377 462h1v1h-1zM397 462h1v1h-1zM406 462h1v1h-1zM426 462h1v1h-1zM311 463h2v1h-2zM314 463h1v1h-1zM316 463h1v1h-1zM319 463h2v1h-2zM324 463h1v1h-1zM326 463h1v1h-1zM328 463h1v1h-1zM330 463h1v1h-1zM332 463h1v1h-1zM339 463h2v1h-2zM349 463h1v1h-1zM352 463h1v1h-1zM354 463h2v1h-2zM358 463h1v1h-1zM364 463h1v1h-1zM380 463h1v1h-1zM382 463h2v1h-2zM389 463h2v1h-2zM396 463h2v1h-2zM401 463h2v1h-2zM404 463h2v1h-2zM408 463h1v1h-1zM412 463h1v1h-1zM415 463h1v1h-1zM423 463h1v1h-1zM311 464h2v1h-2zM314 464h1v1h-1zM316 464h1v1h-1zM318 464h2v1h-2zM321 464h1v1h-1zM323 464h1v1h-1zM325 464h1v1h-1zM327 464h1v1h-1zM329 464h2v1h-2zM332 464h2v1h-2zM338 464h1v1h-1zM340 464h1v1h-1zM344 464h1v1h-1zM349 464h1v1h-1zM370 464h2v1h-2zM375 464h2v1h-2zM381 464h1v1h-1zM385 464h2v1h-2zM388 464h1v1h-1zM392 464h1v1h-1zM397 464h1v1h-1zM399 464h2v1h-2zM403 464h1v1h-1zM415 464h1v1h-1zM422 464h2v1h-2zM427 464h2v1h-2zM311 465h1v1h-1zM313 465h1v1h-1zM315 465h1v1h-1zM317 465h2v1h-2zM320 465h1v1h-1zM322 465h2v1h-2zM325 465h2v1h-2zM328 465h2v1h-2zM331 465h2v1h-2zM338 465h1v1h-1zM340 465h1v1h-1zM346 465h1v1h-1zM348 465h1v1h-1zM354 465h2v1h-2zM358 465h1v1h-1zM365 465h2v1h-2zM375 465h2v1h-2zM393 465h1v1h-1zM411 465h1v1h-1zM312 466h2v1h-2zM318 466h1v1h-1zM325 466h1v1h-1zM327 466h1v1h-1zM329 466h1v1h-1zM331 466h2v1h-2zM347 466h1v1h-1zM350 466h1v1h-1zM354 466h1v1h-1zM356 466h1v1h-1zM360 466h1v1h-1zM368 466h1v1h-1zM372 466h1v1h-1zM379 466h2v1h-2zM382 466h1v1h-1zM406 466h1v1h-1zM314 467h1v1h-1zM316 467h2v1h-2zM319 467h1v1h-1zM329 467h2v1h-2zM338 467h1v1h-1zM351 467h1v1h-1zM355 467h1v1h-1zM359 467h1v1h-1zM367 467h1v1h-1zM374 467h2v1h-2zM377 467h1v1h-1zM394 467h2v1h-2zM409 467h1v1h-1zM418 467h1v1h-1zM311 468h1v1h-1zM313 468h1v1h-1zM315 468h1v1h-1zM317 468h1v1h-1zM319 468h1v1h-1zM321 468h2v1h-2zM324 468h2v1h-2zM327 468h1v1h-1zM329 468h1v1h-1zM331 468h2v1h-2zM339 468h1v1h-1zM349 468h2v1h-2zM352 468h1v1h-1zM358 468h1v1h-1zM368 468h1v1h-1zM372 468h2v1h-2zM389 468h1v1h-1zM392 468h1v1h-1zM406 468h1v1h-1zM420 468h1v1h-1zM311 469h1v1h-1zM317 469h1v1h-1zM319 469h1v1h-1zM321 469h1v1h-1zM324 469h1v1h-1zM326 469h2v1h-2zM329 469h2v1h-2zM332 469h1v1h-1zM336 469h1v1h-1zM347 469h1v1h-1zM355 469h1v1h-1zM374 469h1v1h-1zM381 469h1v1h-1zM394 469h2v1h-2zM420 469h1v1h-1zM314 470h2v1h-2zM320 470h1v1h-1zM326 470h2v1h-2zM329 470h1v1h-1zM331 470h1v1h-1zM339 470h2v1h-2zM354 470h1v1h-1zM369 470h1v1h-1zM396 470h1v1h-1zM403 470h1v1h-1zM405 470h1v1h-1zM426 470h2v1h-2zM311 471h1v1h-1zM313 471h2v1h-2zM316 471h1v1h-1zM319 471h1v1h-1zM321 471h2v1h-2zM324 471h1v1h-1zM326 471h2v1h-2zM331 471h1v1h-1zM341 471h2v1h-2zM354 471h1v1h-1zM357 471h1v1h-1zM359 471h1v1h-1zM383 471h1v1h-1zM388 471h2v1h-2zM391 471h1v1h-1zM394 471h1v1h-1zM398 471h1v1h-1zM402 471h1v1h-1zM404 471h1v1h-1zM407 471h1v1h-1zM417 471h1v1h-1zM311 472h1v1h-1zM313 472h1v1h-1zM315 472h2v1h-2zM321 472h1v1h-1zM323 472h2v1h-2zM326 472h1v1h-1zM329 472h2v1h-2zM332 472h2v1h-2zM348 472h2v1h-2zM351 472h2v1h-2zM358 472h1v1h-1zM362 472h1v1h-1zM371 472h1v1h-1zM382 472h1v1h-1zM311 473h1v1h-1zM313 473h1v1h-1zM317 473h1v1h-1zM319 473h1v1h-1zM321 473h1v1h-1zM324 473h1v1h-1zM327 473h1v1h-1zM329 473h2v1h-2zM332 473h1v1h-1zM340 473h2v1h-2zM350 473h1v1h-1zM395 473h1v1h-1zM420 473h1v1h-1zM311 474h2v1h-2zM314 474h1v1h-1zM316 474h1v1h-1zM318 474h1v1h-1zM320 474h1v1h-1zM324 474h1v1h-1zM326 474h2v1h-2zM329 474h1v1h-1zM331 474h1v1h-1zM339 474h1v1h-1zM349 474h1v1h-1zM359 474h1v1h-1zM365 474h2v1h-2zM370 474h1v1h-1zM374 474h1v1h-1zM379 474h2v1h-2zM384 474h2v1h-2zM388 474h1v1h-1zM394 474h2v1h-2zM399 474h1v1h-1zM408 474h2v1h-2zM429 474h1v1h-1zM311 475h1v1h-1zM314 475h1v1h-1zM316 475h2v1h-2zM320 475h1v1h-1zM327 475h2v1h-2zM353 475h1v1h-1zM355 475h1v1h-1zM357 475h2v1h-2zM376 475h1v1h-1zM393 475h1v1h-1zM311 476h1v1h-1zM313 476h1v1h-1zM315 476h2v1h-2zM320 476h2v1h-2zM324 476h1v1h-1zM326 476h1v1h-1zM330 476h1v1h-1zM332 476h1v1h-1zM338 476h2v1h-2zM344 476h1v1h-1zM351 476h1v1h-1zM354 476h1v1h-1zM356 476h1v1h-1zM378 476h1v1h-1zM385 476h1v1h-1zM390 476h1v1h-1zM413 476h2v1h-2zM420 476h2v1h-2zM311 477h1v1h-1zM313 477h1v1h-1zM315 477h1v1h-1zM317 477h2v1h-2zM320 477h1v1h-1zM322 477h1v1h-1zM324 477h2v1h-2zM327 477h2v1h-2zM330 477h2v1h-2zM338 477h1v1h-1zM340 477h2v1h-2zM358 477h1v1h-1zM368 477h1v1h-1zM371 477h2v1h-2zM377 477h1v1h-1zM382 477h1v1h-1zM391 477h1v1h-1zM393 477h1v1h-1zM419 477h2v1h-2zM311 478h1v1h-1zM313 478h1v1h-1zM315 478h1v1h-1zM317 478h1v1h-1zM319 478h1v1h-1zM321 478h1v1h-1zM324 478h2v1h-2zM327 478h1v1h-1zM329 478h1v1h-1zM331 478h1v1h-1zM346 478h1v1h-1zM349 478h2v1h-2zM353 478h1v1h-1zM355 478h1v1h-1zM357 478h1v1h-1zM359 478h1v1h-1zM368 478h1v1h-1zM370 478h2v1h-2zM376 478h2v1h-2zM393 478h1v1h-1zM395 478h1v1h-1zM407 478h2v1h-2zM413 478h1v1h-1zM423 478h1v1h-1zM311 479h1v1h-1zM313 479h1v1h-1zM317 479h2v1h-2zM320 479h2v1h-2zM324 479h2v1h-2zM330 479h1v1h-1zM332 479h2v1h-2zM340 479h2v1h-2zM349 479h2v1h-2zM374 479h1v1h-1zM404 479h1v1h-1zM311 480h2v1h-2zM315 480h2v1h-2zM318 480h1v1h-1zM320 480h1v1h-1zM324 480h1v1h-1zM327 480h1v1h-1zM330 480h1v1h-1zM332 480h1v1h-1zM338 480h2v1h-2zM347 480h1v1h-1zM350 480h2v1h-2zM356 480h1v1h-1zM364 480h1v1h-1zM371 480h1v1h-1zM376 480h2v1h-2zM396 480h2v1h-2zM416 480h1v1h-1zM420 480h1v1h-1zM311 481h1v1h-1zM314 481h1v1h-1zM316 481h1v1h-1zM318 481h2v1h-2zM321 481h1v1h-1zM323 481h1v1h-1zM325 481h2v1h-2zM328 481h1v1h-1zM330 481h2v1h-2zM341 481h2v1h-2zM356 481h1v1h-1zM368 481h1v1h-1zM371 481h1v1h-1zM373 481h1v1h-1zM378 481h1v1h-1zM386 481h2v1h-2zM399 481h2v1h-2zM311 482h1v1h-1zM313 482h2v1h-2zM316 482h2v1h-2zM319 482h2v1h-2zM323 482h1v1h-1zM327 482h1v1h-1zM329 482h1v1h-1zM331 482h1v1h-1zM339 482h1v1h-1zM350 482h2v1h-2zM355 482h2v1h-2zM358 482h1v1h-1zM372 482h1v1h-1zM375 482h2v1h-2zM410 482h2v1h-2zM311 483h1v1h-1zM313 483h1v1h-1zM316 483h2v1h-2zM319 483h2v1h-2zM325 483h2v1h-2zM328 483h1v1h-1zM330 483h1v1h-1zM332 483h1v1h-1zM338 483h1v1h-1zM347 483h1v1h-1zM349 483h1v1h-1zM358 483h2v1h-2zM370 483h1v1h-1zM401 483h1v1h-1zM311 484h2v1h-2zM314 484h1v1h-1zM316 484h1v1h-1zM318 484h1v1h-1zM320 484h1v1h-1zM322 484h2v1h-2zM325 484h1v1h-1zM327 484h1v1h-1zM329 484h1v1h-1zM331 484h1v1h-1zM334 484h1v1h-1zM338 484h1v1h-1zM341 484h1v1h-1zM346 484h1v1h-1zM350 484h1v1h-1zM358 484h1v1h-1zM367 484h2v1h-2zM370 484h2v1h-2zM373 484h1v1h-1zM375 484h2v1h-2zM379 484h2v1h-2zM382 484h1v1h-1zM384 484h1v1h-1zM388 484h1v1h-1zM390 484h1v1h-1zM399 484h2v1h-2zM418 484h1v1h-1zM311 485h1v1h-1zM313 485h1v1h-1zM315 485h2v1h-2zM318 485h1v1h-1zM320 485h2v1h-2zM324 485h1v1h-1zM326 485h2v1h-2zM329 485h2v1h-2zM332 485h2v1h-2zM338 485h1v1h-1zM348 485h1v1h-1zM353 485h1v1h-1zM357 485h1v1h-1zM366 485h1v1h-1zM369 485h2v1h-2zM373 485h1v1h-1zM375 485h1v1h-1zM378 485h1v1h-1zM382 485h1v1h-1zM384 485h2v1h-2zM392 485h1v1h-1zM394 485h1v1h-1zM412 485h1v1h-1zM416 485h1v1h-1zM316 486h2v1h-2zM319 486h2v1h-2zM324 486h2v1h-2zM327 486h1v1h-1zM330 486h1v1h-1zM332 486h2v1h-2zM338 486h1v1h-1zM355 486h2v1h-2zM358 486h2v1h-2zM393 486h1v1h-1zM395 486h2v1h-2zM399 486h1v1h-1zM405 486h1v1h-1zM408 486h1v1h-1zM416 486h1v1h-1zM423 486h2v1h-2zM311 487h1v1h-1zM313 487h1v1h-1zM315 487h1v1h-1zM317 487h1v1h-1zM319 487h1v1h-1zM321 487h2v1h-2zM324 487h2v1h-2zM327 487h2v1h-2zM330 487h1v1h-1zM332 487h1v1h-1zM341 487h2v1h-2zM349 487h2v1h-2zM352 487h1v1h-1zM354 487h1v1h-1zM357 487h2v1h-2zM368 487h1v1h-1zM374 487h1v1h-1zM384 487h1v1h-1zM390 487h1v1h-1zM397 487h2v1h-2zM402 487h2v1h-2zM416 487h1v1h-1zM311 488h2v1h-2zM314 488h2v1h-2zM317 488h1v1h-1zM319 488h1v1h-1zM321 488h1v1h-1zM324 488h2v1h-2zM327 488h2v1h-2zM330 488h1v1h-1zM332 488h2v1h-2zM342 488h1v1h-1zM356 488h1v1h-1zM376 488h2v1h-2zM397 488h1v1h-1zM400 488h1v1h-1zM402 488h2v1h-2zM412 488h1v1h-1zM422 488h1v1h-1zM311 489h1v1h-1zM315 489h1v1h-1zM317 489h1v1h-1zM319 489h2v1h-2zM328 489h2v1h-2zM331 489h1v1h-1zM341 489h1v1h-1zM350 489h1v1h-1zM379 489h1v1h-1zM397 489h2v1h-2zM404 489h2v1h-2zM424 489h1v1h-1zM311 490h2v1h-2zM315 490h2v1h-2zM318 490h1v1h-1zM320 490h2v1h-2zM324 490h2v1h-2zM327 490h1v1h-1zM329 490h2v1h-2zM332 490h2v1h-2zM337 490h1v1h-1zM339 490h2v1h-2zM347 490h1v1h-1zM359 490h2v1h-2zM373 490h2v1h-2zM377 490h1v1h-1zM396 490h1v1h-1zM402 490h1v1h-1zM412 490h1v1h-1zM426 490h1v1h-1zM429 490h2v1h-2zM311 491h2v1h-2zM314 491h2v1h-2zM317 491h2v1h-2zM320 491h2v1h-2zM324 491h1v1h-1zM326 491h1v1h-1zM328 491h2v1h-2zM331 491h2v1h-2zM350 491h1v1h-1zM353 491h2v1h-2zM356 491h1v1h-1zM359 491h1v1h-1zM361 491h2v1h-2zM366 491h1v1h-1zM372 491h1v1h-1zM377 491h1v1h-1zM380 491h1v1h-1zM382 491h2v1h-2zM391 491h1v1h-1zM393 491h1v1h-1zM397 491h2v1h-2zM400 491h1v1h-1zM411 491h1v1h-1zM414 491h2v1h-2zM428 491h1v1h-1zM311 492h2v1h-2zM314 492h1v1h-1zM317 492h1v1h-1zM319 492h1v1h-1zM321 492h1v1h-1zM325 492h1v1h-1zM327 492h1v1h-1zM329 492h1v1h-1zM331 492h1v1h-1zM338 492h1v1h-1zM346 492h2v1h-2zM349 492h1v1h-1zM365 492h2v1h-2zM378 492h2v1h-2zM384 492h1v1h-1zM418 492h1v1h-1zM420 492h1v1h-1zM311 493h2v1h-2zM321 493h2v1h-2zM324 493h1v1h-1zM328 493h1v1h-1zM330 493h1v1h-1zM347 493h2v1h-2zM351 493h2v1h-2zM355 493h2v1h-2zM312 494h1v1h-1zM314 494h1v1h-1zM317 494h1v1h-1zM319 494h2v1h-2zM325 494h2v1h-2zM328 494h2v1h-2zM331 494h2v1h-2zM341 494h2v1h-2zM353 494h1v1h-1zM357 494h1v1h-1zM383 494h2v1h-2zM395 494h1v1h-1zM399 494h1v1h-1zM403 494h1v1h-1zM406 494h1v1h-1zM408 494h1v1h-1zM311 495h2v1h-2zM314 495h1v1h-1zM316 495h1v1h-1zM318 495h2v1h-2zM321 495h1v1h-1zM323 495h1v1h-1zM325 495h2v1h-2zM328 495h1v1h-1zM330 495h2v1h-2zM349 495h2v1h-2zM352 495h2v1h-2zM360 495h1v1h-1zM365 495h1v1h-1zM375 495h2v1h-2zM378 495h2v1h-2zM423 495h1v1h-1zM311 496h2v1h-2zM314 496h1v1h-1zM316 496h1v1h-1zM318 496h1v1h-1zM320 496h1v1h-1zM324 496h2v1h-2zM327 496h1v1h-1zM329 496h1v1h-1zM346 496h1v1h-1zM358 496h2v1h-2zM372 496h1v1h-1zM375 496h2v1h-2zM383 496h2v1h-2zM392 496h1v1h-1zM398 496h1v1h-1zM400 496h1v1h-1zM413 496h2v1h-2zM311 497h2v1h-2zM314 497h2v1h-2zM317 497h1v1h-1zM319 497h1v1h-1zM321 497h1v1h-1zM324 497h1v1h-1zM329 497h1v1h-1zM331 497h2v1h-2zM351 497h2v1h-2zM354 497h2v1h-2zM366 497h1v1h-1zM321 498h2v1h-2zM324 498h1v1h-1zM326 498h1v1h-1zM328 498h2v1h-2zM339 498h1v1h-1zM355 498h1v1h-1zM359 498h1v1h-1zM367 498h1v1h-1zM369 498h1v1h-1zM396 498h2v1h-2zM401 498h1v1h-1zM311 499h2v1h-2zM314 499h1v1h-1zM316 499h2v1h-2zM320 499h1v1h-1zM324 499h2v1h-2zM327 499h1v1h-1zM329 499h1v1h-1zM331 499h2v1h-2zM341 499h1v1h-1zM348 499h1v1h-1zM352 499h2v1h-2zM361 499h1v1h-1zM366 499h1v1h-1zM369 499h1v1h-1zM381 499h2v1h-2zM386 499h1v1h-1zM418 499h1v1h-1zM317 500h1v1h-1zM319 500h1v1h-1zM325 500h1v1h-1zM332 500h1v1h-1zM351 500h1v1h-1zM380 500h2v1h-2zM386 500h1v1h-1zM311 501h1v1h-1zM313 501h1v1h-1zM315 501h2v1h-2zM318 501h1v1h-1zM320 501h1v1h-1zM324 501h1v1h-1zM326 501h2v1h-2zM329 501h2v1h-2zM332 501h2v1h-2zM340 501h1v1h-1zM343 501h1v1h-1zM347 501h1v1h-1zM350 501h1v1h-1zM352 501h2v1h-2zM361 501h1v1h-1zM375 501h2v1h-2zM385 501h1v1h-1zM392 501h2v1h-2zM396 501h2v1h-2zM403 501h2v1h-2zM406 501h1v1h-1zM315 502h2v1h-2zM319 502h2v1h-2zM323 502h1v1h-1zM331 502h2v1h-2zM357 502h1v1h-1zM369 502h2v1h-2zM384 502h1v1h-1zM403 502h1v1h-1zM429 502h1v1h-1zM313 503h2v1h-2zM316 503h1v1h-1zM318 503h1v1h-1zM320 503h1v1h-1zM324 503h1v1h-1zM326 503h1v1h-1zM332 503h2v1h-2zM338 503h1v1h-1zM346 503h1v1h-1zM351 503h2v1h-2zM365 503h1v1h-1zM368 503h1v1h-1zM371 503h1v1h-1zM377 503h1v1h-1zM398 503h1v1h-1zM400 503h2v1h-2zM417 503h1v1h-1zM311 504h2v1h-2zM314 504h1v1h-1zM316 504h1v1h-1zM318 504h2v1h-2zM321 504h1v1h-1zM324 504h1v1h-1zM326 504h1v1h-1zM328 504h2v1h-2zM331 504h2v1h-2zM338 504h1v1h-1zM340 504h1v1h-1zM351 504h1v1h-1zM359 504h2v1h-2zM362 504h2v1h-2zM366 504h1v1h-1zM369 504h1v1h-1zM371 504h1v1h-1zM375 504h1v1h-1zM377 504h2v1h-2zM381 504h2v1h-2zM399 504h1v1h-1zM421 504h1v1h-1zM311 505h1v1h-1zM313 505h2v1h-2zM316 505h2v1h-2zM319 505h1v1h-1zM321 505h1v1h-1zM324 505h1v1h-1zM326 505h2v1h-2zM329 505h1v1h-1zM331 505h1v1h-1zM338 505h2v1h-2zM341 505h1v1h-1zM349 505h2v1h-2zM379 505h1v1h-1zM383 505h1v1h-1zM385 505h1v1h-1zM398 505h1v1h-1zM403 505h1v1h-1zM311 506h1v1h-1zM313 506h1v1h-1zM315 506h1v1h-1zM317 506h2v1h-2zM320 506h1v1h-1zM323 506h1v1h-1zM325 506h1v1h-1zM327 506h1v1h-1zM329 506h2v1h-2zM332 506h2v1h-2zM338 506h1v1h-1zM347 506h1v1h-1zM349 506h1v1h-1zM354 506h1v1h-1zM357 506h1v1h-1zM361 506h2v1h-2zM366 506h1v1h-1zM374 506h2v1h-2zM380 506h1v1h-1zM383 506h2v1h-2zM389 506h1v1h-1zM395 506h2v1h-2zM415 506h1v1h-1zM422 506h2v1h-2zM425 506h2v1h-2zM311 507h1v1h-1zM313 507h1v1h-1zM315 507h2v1h-2zM318 507h2v1h-2zM321 507h1v1h-1zM323 507h1v1h-1zM325 507h1v1h-1zM327 507h2v1h-2zM330 507h1v1h-1zM332 507h1v1h-1zM341 507h2v1h-2zM353 507h2v1h-2zM356 507h2v1h-2zM359 507h2v1h-2zM365 507h1v1h-1zM372 507h2v1h-2zM375 507h2v1h-2zM386 507h2v1h-2zM398 507h2v1h-2zM406 507h1v1h-1zM412 507h1v1h-1zM416 507h1v1h-1zM311 508h1v1h-1zM313 508h2v1h-2zM320 508h2v1h-2zM325 508h1v1h-1zM327 508h2v1h-2zM330 508h1v1h-1zM332 508h1v1h-1zM340 508h1v1h-1zM348 508h1v1h-1zM355 508h1v1h-1zM359 508h1v1h-1zM385 508h1v1h-1zM409 508h1v1h-1zM421 508h2v1h-2zM428 508h2v1h-2zM311 509h1v1h-1zM313 509h2v1h-2zM318 509h2v1h-2zM321 509h2v1h-2zM324 509h1v1h-1zM326 509h2v1h-2zM329 509h1v1h-1zM331 509h1v1h-1zM339 509h2v1h-2zM351 509h2v1h-2zM378 509h1v1h-1zM380 509h1v1h-1zM382 509h1v1h-1zM400 509h1v1h-1zM412 509h1v1h-1zM419 509h1v1h-1zM313 510h2v1h-2zM316 510h1v1h-1zM318 510h1v1h-1zM320 510h1v1h-1zM325 510h2v1h-2zM330 510h1v1h-1zM339 510h1v1h-1zM349 510h1v1h-1zM362 510h1v1h-1zM365 510h1v1h-1zM369 510h1v1h-1zM372 510h1v1h-1zM378 510h2v1h-2zM385 510h1v1h-1zM397 510h1v1h-1zM311 511h2v1h-2zM314 511h2v1h-2zM317 511h1v1h-1zM319 511h2v1h-2zM323 511h1v1h-1zM325 511h2v1h-2zM328 511h1v1h-1zM330 511h1v1h-1zM332 511h2v1h-2zM338 511h2v1h-2zM345 511h1v1h-1zM349 511h1v1h-1zM351 511h1v1h-1zM355 511h2v1h-2zM374 511h2v1h-2zM381 511h2v1h-2zM385 511h1v1h-1zM412 511h1v1h-1zM418 511h1v1h-1zM420 511h2v1h-2zM425 511h1v1h-1zM428 511h1v1h-1zM313 512h1v1h-1zM315 512h1v1h-1zM319 512h1v1h-1zM321 512h2v1h-2zM324 512h1v1h-1zM327 512h1v1h-1zM329 512h1v1h-1zM331 512h1v1h-1zM340 512h1v1h-1zM342 512h2v1h-2zM356 512h2v1h-2zM359 512h1v1h-1zM376 512h1v1h-1zM423 512h2v1h-2zM427 512h1v1h-1zM311 513h2v1h-2zM314 513h1v1h-1zM316 513h1v1h-1zM318 513h2v1h-2zM324 513h2v1h-2zM331 513h2v1h-2zM354 513h2v1h-2zM357 513h1v1h-1zM311 514h2v1h-2zM314 514h1v1h-1zM316 514h2v1h-2zM319 514h1v1h-1zM321 514h2v1h-2zM324 514h2v1h-2zM327 514h1v1h-1zM329 514h1v1h-1zM331 514h2v1h-2zM345 514h1v1h-1zM357 514h1v1h-1zM359 514h1v1h-1zM369 514h1v1h-1zM373 514h1v1h-1zM377 514h2v1h-2zM405 514h1v1h-1zM411 514h2v1h-2zM414 514h2v1h-2zM417 514h2v1h-2zM422 514h1v1h-1zM311 515h1v1h-1zM313 515h1v1h-1zM315 515h1v1h-1zM317 515h2v1h-2zM320 515h1v1h-1zM324 515h1v1h-1zM326 515h2v1h-2zM329 515h1v1h-1zM331 515h1v1h-1zM341 515h1v1h-1zM345 515h2v1h-2zM349 515h1v1h-1zM357 515h1v1h-1zM364 515h1v1h-1zM367 515h1v1h-1zM370 515h2v1h-2zM374 515h2v1h-2zM377 515h2v1h-2zM399 515h2v1h-2zM411 515h1v1h-1zM418 515h2v1h-2zM423 515h1v1h-1zM311 516h2v1h-2zM314 516h1v1h-1zM316 516h1v1h-1zM318 516h1v1h-1zM320 516h1v1h-1zM324 516h1v1h-1zM326 516h1v1h-1zM328 516h2v1h-2zM331 516h2v1h-2zM338 516h1v1h-1zM346 516h1v1h-1zM349 516h1v1h-1zM352 516h1v1h-1zM354 516h2v1h-2zM359 516h1v1h-1zM365 516h1v1h-1zM376 516h2v1h-2zM382 516h1v1h-1zM392 516h1v1h-1zM395 516h1v1h-1zM422 516h1v1h-1zM428 516h2v1h-2zM313 517h2v1h-2zM316 517h1v1h-1zM318 517h2v1h-2zM321 517h2v1h-2zM326 517h2v1h-2zM329 517h2v1h-2zM347 517h2v1h-2zM358 517h1v1h-1zM375 517h2v1h-2zM379 517h1v1h-1zM391 517h1v1h-1zM422 517h1v1h-1zM311 518h1v1h-1zM313 518h1v1h-1zM320 518h1v1h-1zM328 518h1v1h-1zM330 518h1v1h-1zM339 518h1v1h-1zM347 518h2v1h-2zM355 518h1v1h-1zM357 518h1v1h-1zM376 518h1v1h-1zM382 518h1v1h-1zM386 518h1v1h-1zM398 518h1v1h-1zM414 518h1v1h-1zM427 518h1v1h-1zM311 519h2v1h-2zM314 519h1v1h-1zM316 519h1v1h-1zM318 519h2v1h-2zM324 519h1v1h-1zM326 519h1v1h-1zM339 519h1v1h-1zM341 519h1v1h-1zM345 519h1v1h-1zM348 519h1v1h-1zM351 519h1v1h-1zM414 519h2v1h-2zM311 520h1v1h-1zM315 520h2v1h-2zM318 520h1v1h-1zM321 520h1v1h-1zM324 520h1v1h-1zM326 520h1v1h-1zM329 520h2v1h-2zM339 520h1v1h-1zM344 520h1v1h-1zM352 520h2v1h-2zM358 520h1v1h-1zM365 520h2v1h-2zM370 520h1v1h-1zM409 520h2v1h-2zM311 521h1v1h-1zM314 521h1v1h-1zM316 521h1v1h-1zM320 521h2v1h-2zM324 521h2v1h-2zM327 521h1v1h-1zM332 521h1v1h-1zM347 521h2v1h-2zM352 521h2v1h-2zM396 521h1v1h-1zM410 521h2v1h-2zM427 521h1v1h-1zM311 522h1v1h-1zM315 522h2v1h-2zM318 522h1v1h-1zM320 522h1v1h-1zM328 522h2v1h-2zM331 522h2v1h-2zM338 522h1v1h-1zM352 522h1v1h-1zM379 522h1v1h-1zM383 522h2v1h-2zM397 522h1v1h-1zM413 522h1v1h-1zM311 523h1v1h-1zM313 523h1v1h-1zM317 523h1v1h-1zM319 523h1v1h-1zM321 523h1v1h-1zM324 523h2v1h-2zM327 523h1v1h-1zM329 523h1v1h-1zM331 523h1v1h-1zM341 523h1v1h-1zM346 523h2v1h-2zM353 523h1v1h-1zM358 523h1v1h-1zM375 523h1v1h-1zM379 523h1v1h-1zM381 523h1v1h-1zM388 523h1v1h-1zM399 523h2v1h-2zM416 523h2v1h-2zM311 524h2v1h-2zM314 524h1v1h-1zM316 524h1v1h-1zM318 524h1v1h-1zM320 524h1v1h-1zM322 524h2v1h-2zM325 524h1v1h-1zM327 524h1v1h-1zM329 524h1v1h-1zM331 524h2v1h-2zM341 524h1v1h-1zM346 524h1v1h-1zM353 524h2v1h-2zM360 524h1v1h-1zM421 524h2v1h-2zM312 525h1v1h-1zM315 525h2v1h-2zM319 525h1v1h-1zM325 525h2v1h-2zM328 525h2v1h-2zM331 525h1v1h-1zM351 525h1v1h-1zM355 525h1v1h-1zM366 525h2v1h-2zM402 525h1v1h-1zM311 526h1v1h-1zM313 526h1v1h-1zM315 526h1v1h-1zM317 526h1v1h-1zM319 526h1v1h-1zM321 526h1v1h-1zM324 526h2v1h-2zM327 526h2v1h-2zM330 526h1v1h-1zM332 526h2v1h-2zM339 526h1v1h-1zM347 526h2v1h-2zM350 526h1v1h-1zM371 526h2v1h-2zM377 526h2v1h-2zM380 526h1v1h-1zM386 526h1v1h-1zM425 526h2v1h-2zM313 527h2v1h-2zM316 527h2v1h-2zM329 527h1v1h-1zM369 527h1v1h-1zM401 527h1v1h-1zM406 527h2v1h-2zM312 528h2v1h-2zM315 528h1v1h-1zM318 528h1v1h-1zM320 528h2v1h-2zM324 528h1v1h-1zM327 528h1v1h-1zM329 528h1v1h-1zM332 528h1v1h-1zM338 528h2v1h-2zM346 528h1v1h-1zM348 528h1v1h-1zM352 528h1v1h-1zM358 528h1v1h-1zM366 528h2v1h-2zM372 528h1v1h-1zM380 528h1v1h-1zM384 528h1v1h-1zM398 528h2v1h-2zM412 528h1v1h-1zM414 528h1v1h-1zM420 528h1v1h-1zM311 529h1v1h-1zM313 529h2v1h-2zM316 529h1v1h-1zM318 529h2v1h-2zM324 529h1v1h-1zM326 529h1v1h-1zM328 529h1v1h-1zM330 529h2v1h-2zM342 529h1v1h-1zM344 529h2v1h-2zM350 529h1v1h-1zM358 529h1v1h-1zM371 529h1v1h-1zM375 529h1v1h-1zM398 529h2v1h-2zM411 529h2v1h-2zM416 529h1v1h-1zM421 529h1v1h-1zM425 529h1v1h-1zM312 530h2v1h-2zM317 530h2v1h-2zM320 530h1v1h-1zM324 530h2v1h-2zM329 530h1v1h-1zM339 530h1v1h-1zM341 530h1v1h-1zM359 530h2v1h-2zM386 530h1v1h-1zM396 530h2v1h-2zM311 531h1v1h-1zM313 531h1v1h-1zM315 531h2v1h-2zM327 531h1v1h-1zM329 531h1v1h-1zM331 531h1v1h-1zM352 531h2v1h-2zM357 531h1v1h-1zM359 531h2v1h-2zM311 532h2v1h-2zM314 532h1v1h-1zM316 532h2v1h-2zM319 532h1v1h-1zM321 532h1v1h-1zM325 532h1v1h-1zM327 532h2v1h-2zM330 532h1v1h-1zM338 532h1v1h-1zM341 532h1v1h-1zM351 532h1v1h-1zM369 532h2v1h-2zM377 532h1v1h-1zM393 532h1v1h-1zM411 532h2v1h-2zM312 533h1v1h-1zM314 533h1v1h-1zM316 533h2v1h-2zM319 533h1v1h-1zM321 533h1v1h-1zM324 533h1v1h-1zM326 533h1v1h-1zM328 533h1v1h-1zM331 533h2v1h-2zM341 533h1v1h-1zM355 533h1v1h-1zM382 533h2v1h-2zM394 533h2v1h-2zM397 533h1v1h-1zM402 533h2v1h-2zM407 533h1v1h-1zM410 533h2v1h-2zM414 533h1v1h-1zM426 533h1v1h-1zM311 534h2v1h-2zM314 534h1v1h-1zM316 534h2v1h-2zM320 534h1v1h-1zM322 534h2v1h-2zM325 534h1v1h-1zM327 534h1v1h-1zM329 534h1v1h-1zM331 534h1v1h-1zM346 534h1v1h-1zM349 534h2v1h-2zM354 534h1v1h-1zM358 534h1v1h-1zM376 534h1v1h-1zM386 534h2v1h-2zM391 534h1v1h-1zM393 534h1v1h-1zM402 534h1v1h-1zM425 534h1v1h-1zM312 535h1v1h-1zM317 535h1v1h-1zM320 535h1v1h-1zM324 535h2v1h-2zM327 535h1v1h-1zM330 535h2v1h-2zM338 535h2v1h-2zM350 535h1v1h-1zM352 535h2v1h-2zM357 535h1v1h-1zM382 535h1v1h-1zM384 535h1v1h-1zM392 535h2v1h-2zM408 535h1v1h-1zM416 535h1v1h-1zM425 535h2v1h-2zM312 536h2v1h-2zM315 536h1v1h-1zM319 536h1v1h-1zM321 536h2v1h-2zM324 536h2v1h-2zM327 536h1v1h-1zM330 536h1v1h-1zM340 536h1v1h-1zM353 536h2v1h-2zM376 536h1v1h-1zM384 536h2v1h-2zM390 536h2v1h-2zM393 536h2v1h-2zM408 536h1v1h-1zM416 536h2v1h-2zM420 536h1v1h-1zM311 537h2v1h-2zM314 537h1v1h-1zM317 537h2v1h-2zM320 537h2v1h-2zM324 537h2v1h-2zM328 537h2v1h-2zM331 537h2v1h-2zM338 537h2v1h-2zM341 537h1v1h-1zM346 537h1v1h-1zM352 537h1v1h-1zM355 537h1v1h-1zM366 537h1v1h-1zM372 537h2v1h-2zM382 537h1v1h-1zM385 537h1v1h-1zM412 537h2v1h-2zM419 537h2v1h-2zM314 538h1v1h-1zM318 538h1v1h-1zM324 538h2v1h-2zM328 538h1v1h-1zM355 538h1v1h-1zM357 538h1v1h-1zM359 538h1v1h-1zM367 538h1v1h-1zM372 538h1v1h-1zM381 538h1v1h-1zM314 539h1v1h-1zM316 539h2v1h-2zM321 539h2v1h-2zM324 539h1v1h-1zM326 539h2v1h-2zM332 539h2v1h-2zM341 539h1v1h-1zM343 539h1v1h-1zM347 539h2v1h-2zM367 539h1v1h-1zM369 539h1v1h-1zM371 539h1v1h-1zM376 539h1v1h-1zM385 539h2v1h-2zM404 539h2v1h-2zM424 539h2v1h-2zM293 65h1v1h-1zM294 77h1v1h-1zM290 84h1v1h-1zM271 87h1v1h-1zM273 88h1v1h-1zM291 94h1v1h-1zM275 98h1v1h-1zM291 101h1v1h-1zM283 104h1v1h-1zM277 106h1v1h-1zM279 106h1v1h-1zM291 120h1v1h-1zM276 123h1v1h-1zM288 124h1v1h-1zM275 125h1v1h-1zM275 126h1v1h-1zM290 139h1v1h-1zM278 144h1v1h-1zM280 150h1v1h-1zM277 168h1v1h-1zM283 169h1v1h-1zM272 176h1v1h-1zM279 178h1v1h-1zM285 182h1v1h-1zM294 190h1v1h-1zM289 196h1v1h-1zM284 202h1v1h-1zM287 204h1v1h-1zM291 209h1v1h-1zM294 209h1v1h-1zM276 217h1v1h-1zM279 226h1v1h-1zM294 226h1v1h-1zM275 229h1v1h-1zM283 230h1v1h-1zM274 231h1v1h-1zM292 234h1v1h-1zM288 235h1v1h-1zM291 235h1v1h-1zM283 242h1v1h-1zM286 242h1v1h-1zM285 244h1v1h-1zM273 245h1v1h-1zM282 247h1v1h-1zM292 247h1v1h-1zM278 249h1v1h-1zM290 252h1v1h-1zM284 256h1v1h-1zM281 262h1v1h-1zM275 268h1v1h-1zM281 270h1v1h-1zM290 274h1v1h-1zM284 275h1v1h-1zM290 276h1v1h-1zM289 279h1v1h-1zM288 283h1v1h-1zM283 287h1v1h-1zM284 291h1v1h-1zM274 301h1v1h-1zM280 303h1v1h-1zM285 305h1v1h-1zM294 309h1v1h-1zM274 311h1v1h-1zM279 314h1v1h-1zM290 318h1v1h-1zM295 323h1v1h-1zM282 326h1v1h-1zM293 328h1v1h-1zM290 329h1v1h-1zM275 333h1v1h-1zM280 336h1v1h-1zM279 339h1v1h-1zM293 341h1v1h-1zM277 347h1v1h-1zM276 348h1v1h-1zM293 353h1v1h-1zM286 357h1v1h-1zM282 359h1v1h-1zM280 362h1v1h-1zM284 364h1v1h-1zM282 367h1v1h-1zM295 375h1v1h-1zM281 377h1v1h-1zM283 379h1v1h-1zM278 391h1v1h-1zM278 397h1v1h-1zM277 398h1v1h-1zM295 399h1v1h-1zM271 401h1v1h-1zM277 403h1v1h-1zM293 403h1v1h-1zM278 404h1v1h-1zM274 405h1v1h-1zM273 406h1v1h-1zM282 417h1v1h-1zM291 417h1v1h-1zM282 418h1v1h-1zM293 421h1v1h-1zM286 425h1v1h-1zM283 435h1v1h-1zM274 437h1v1h-1zM287 444h1v1h-1zM295 446h1v1h-1zM288 450h1v1h-1zM288 456h1v1h-1zM293 457h1v1h-1zM288 469h1v1h-1zM271 471h1v1h-1zM290 471h1v1h-1zM293 474h1v1h-1zM282 475h1v1h-1zM283 477h1v1h-1zM284 484h1v1h-1zM291 501h1v1h-1zM282 507h1v1h-1zM288 513h1v1h-1zM292 536h1v1h-1zM284 537h1v1h-1zM284 78h1v1h-1zM283 78h1v1h-1zM282 79h1v1h-1zM290 76h2v1h-2zM282 110h1v1h-1zM289 111h2v1h-2zM276 128h2v1h-2zM276 126h2v1h-2zM290 145h2v1h-2zM287 144h2v1h-2zM290 144h2v1h-2zM278 158h2v1h-2zM276 159h1v1h-1zM279 159h1v1h-1zM281 159h2v1h-2zM281 159h1v1h-1zM283 158h2v1h-2zM284 175h2v1h-2zM284 176h2v1h-2zM290 174h2v1h-2zM288 174h1v1h-1zM291 174h1v1h-1zM278 189h2v1h-2zM276 188h1v1h-1zM278 190h1v1h-1zM282 189h1v1h-1zM281 190h2v1h-2zM283 189h1v1h-1zM277 203h1v1h-1zM281 204h2v1h-2zM288 204h1v1h-1zM287 202h2v1h-2zM284 216h2v1h-2zM282 215h1v1h-1zM283 217h2v1h-2zM289 215h2v1h-2zM289 214h1v1h-1zM277 228h2v1h-2zM279 227h1v1h-1zM277 229h2v1h-2zM289 227h2v1h-2zM287 228h2v1h-2zM279 241h1v1h-1zM277 242h1v1h-1zM284 241h1v1h-1zM283 242h2v1h-2zM283 242h1v1h-1zM276 252h1v1h-1zM290 254h2v1h-2zM291 252h2v1h-2zM291 254h1v1h-1zM278 264h1v1h-1zM277 265h2v1h-2zM282 266h1v1h-1zM284 266h2v1h-2zM279 275h1v1h-1zM279 276h2v1h-2zM281 277h1v1h-1zM283 276h1v1h-1zM284 276h2v1h-2zM289 275h1v1h-1zM289 275h1v1h-1zM278 287h1v1h-1zM278 286h1v1h-1zM281 285h2v1h-2zM290 287h2v1h-2zM290 287h1v1h-1zM288 286h2v1h-2zM278 299h1v1h-1zM278 298h1v1h-1zM282 299h2v1h-2zM290 298h1v1h-1zM288 299h1v1h-1zM276 309h1v1h-1zM276 309h1v1h-1zM290 308h1v1h-1zM289 309h2v1h-2zM277 320h1v1h-1zM279 319h2v1h-2zM291 319h1v1h-1zM290 320h2v1h-2zM289 319h1v1h-1zM278 338h1v1h-1zM276 337h1v1h-1zM276 337h2v1h-2zM283 339h1v1h-1zM284 338h2v1h-2zM283 339h1v1h-1zM291 337h2v1h-2zM278 349h2v1h-2zM279 349h2v1h-2zM278 350h1v1h-1zM283 349h1v1h-1zM281 358h1v1h-1zM291 356h2v1h-2zM288 359h1v1h-1zM277 366h2v1h-2zM277 368h2v1h-2zM284 368h1v1h-1zM282 368h2v1h-2zM282 368h2v1h-2zM288 367h2v1h-2zM288 365h1v1h-1zM277 377h2v1h-2zM278 376h1v1h-1zM284 375h2v1h-2zM290 377h2v1h-2zM288 377h1v1h-1zM287 375h2v1h-2zM276 385h1v1h-1zM279 386h2v1h-2zM277 385h2v1h-2zM284 385h2v1h-2zM287 386h1v1h-1zM290 384h1v1h-1zM287 385h2v1h-2zM279 394h1v1h-1zM287 393h1v1h-1zM289 394h2v1h-2zM276 401h2v1h-2zM279 410h2v1h-2zM282 410h1v1h-1zM279 416h2v1h-2zM279 418h2v1h-2zM283 417h2v1h-2zM284 417h1v1h-1zM288 418h2v1h-2zM288 417h1v1h-1zM283 426h1v1h-1zM283 423h1v1h-1zM283 425h2v1h-2zM277 432h2v1h-2zM277 432h2v1h-2zM281 433h2v1h-2zM287 431h1v1h-1zM288 432h2v1h-2zM279 441h2v1h-2zM284 440h1v1h-1zM287 439h2v1h-2zM277 446h1v1h-1zM279 447h2v1h-2zM277 446h1v1h-1zM282 446h1v1h-1zM282 447h1v1h-1zM287 446h2v1h-2zM279 453h1v1h-1zM276 452h1v1h-1zM283 452h2v1h-2zM282 454h2v1h-2zM282 454h1v1h-1zM290 453h1v1h-1zM290 454h1v1h-1zM288 453h1v1h-1zM281 460h1v1h-1zM282 460h2v1h-2zM281 458h2v1h-2zM277 467h1v1h-1zM276 465h1v1h-1zM276 467h2v1h-2zM282 466h1v1h-1zM288 465h1v1h-1zM287 466h2v1h-2zM290 467h2v1h-2zM276 472h1v1h-1zM278 472h1v1h-1zM282 472h2v1h-2zM283 473h2v1h-2zM287 472h2v1h-2zM287 473h2v1h-2zM276 480h2v1h-2zM279 478h1v1h-1zM277 478h2v1h-2zM283 479h2v1h-2zM290 477h2v1h-2zM277 483h1v1h-1zM277 484h1v1h-1zM276 483h2v1h-2zM276 490h2v1h-2zM279 491h2v1h-2zM279 491h2v1h-2zM283 489h1v1h-1zM278 497h2v1h-2zM276 497h2v1h-2zM283 497h1v1h-1zM283 495h1v1h-1zM290 496h2v1h-2zM291 495h2v1h-2zM278 502h1v1h-1zM281 502h1v1h-1zM282 503h1v1h-1zM283 501h2v1h-2zM287 502h2v1h-2zM282 506h1v1h-1zM283 506h2v1h-2zM282 506h1v1h-1zM277 513h2v1h-2zM279 510h2v1h-2zM282 512h1v1h-1zM290 513h2v1h-2zM288 512h1v1h-1zM278 515h1v1h-1zM277 517h2v1h-2zM281 517h1v1h-1zM283 516h2v1h-2zM284 518h1v1h-1zM288 516h2v1h-2zM291 516h1v1h-1zM279 522h2v1h-2zM283 523h1v1h-1zM282 521h1v1h-1zM283 520h2v1h-2zM288 521h2v1h-2zM289 522h2v1h-2zM277 526h1v1h-1zM277 526h1v1h-1zM278 527h1v1h-1zM282 525h2v1h-2zM284 525h1v1h-1zM284 526h1v1h-1zM279 530h1v1h-1zM277 529h2v1h-2zM277 531h1v1h-1zM281 531h1v1h-1zM288 529h1v1h-1zM290 529h1v1h-1zM289 530h2v1h-2zM279 535h1v1h-1zM278 535h2v1h-2zM278 534h2v1h-2zM281 534h1v1h-1zM290 536h1v1h-1zM279 540h2v1h-2zM276 539h1v1h-1z"/>
<path fill="#48b2f8" d="M435 61h2v1h-2zM444 61h1v1h-1zM464 61h1v1h-1zM471 61h1v1h-1zM475 61h1v1h-1zM503 61h1v1h-1zM505 61h1v1h-1zM454 62h1v1h-1zM444 63h2v1h-2zM491 63h2v1h-2zM495 63h1v1h-1zM500 63h1v1h-1zM506 63h1v1h-1zM433 64h1v1h-1zM464 64h1v1h-1zM487 64h1v1h-1zM493 64h2v1h-2zM500 64h2v1h-2zM504 64h2v1h-2zM433 65h2v1h-2zM438 65h1v1h-1zM440 65h1v1h-1zM442 65h2v1h-2zM460 65h1v1h-1zM485 65h2v1h-2zM488 65h1v1h-1zM431 66h2v1h-2zM455 66h2v1h-2zM464 66h1v1h-1zM473 66h1v1h-1zM485 66h2v1h-2zM509 66h1v1h-1zM451 67h1v1h-1zM469 67h1v1h-1zM457 68h1v1h-1zM472 68h1v1h-1zM487 68h1v1h-1zM499 68h1v1h-1zM437 69h1v1h-1zM453 69h2v1h-2zM464 69h1v1h-1zM486 69h1v1h-1zM490 69h1v1h-1zM499 69h1v1h-1zM507 69h1v1h-1zM509 69h1v1h-1zM526 69h1v1h-1zM433 70h1v1h-1zM470 70h2v1h-2zM477 70h1v1h-1zM479 70h1v1h-1zM490 70h1v1h-1zM502 70h1v1h-1zM434 71h1v1h-1zM445 71h1v1h-1zM448 71h1v1h-1zM463 71h2v1h-2zM475 71h2v1h-2zM478 71h1v1h-1zM434 72h2v1h-2zM442 72h2v1h-2zM448 72h2v1h-2zM467 72h1v1h-1zM471 72h2v1h-2zM489 72h2v1h-2zM438 73h1v1h-1zM467 73h1v1h-1zM510 73h2v1h-2zM518 73h1v1h-1zM526 73h2v1h-2zM441 74h1v1h-1zM433 75h2v1h-2zM444 75h1v1h-1zM452 75h1v1h-1zM463 75h1v1h-1zM474 75h1v1h-1zM502 75h1v1h-1zM508 75h1v1h-1zM524 75h1v1h-1zM439 76h1v1h-1zM497 76h1v1h-1zM472 77h2v1h-2zM487 77h1v1h-1zM499 77h1v1h-1zM517 77h1v1h-1zM465 78h2v1h-2zM484 78h2v1h-2zM509 78h1v1h-1zM530 78h1v1h-1zM435 79h2v1h-2zM443 79h1v1h-1zM446 79h1v1h-1zM461 79h2v1h-2zM466 79h1v1h-1zM502 79h1v1h-1zM506 79h1v1h-1zM432 80h1v1h-1zM439 80h2v1h-2zM457 80h2v1h-2zM473 80h1v1h-1zM484 80h1v1h-1zM486 80h2v1h-2zM490 80h1v1h-1zM494 80h1v1h-1zM498 80h1v1h-1zM500 80h1v1h-1zM503 80h1v1h-1zM526 80h1v1h-1zM442 81h2v1h-2zM484 81h2v1h-2zM501 81h1v1h-1zM503 81h1v1h-1zM431 82h1v1h-1zM464 82h2v1h-2zM431 83h2v1h-2zM439 83h1v1h-1zM442 83h1v1h-1zM451 83h2v1h-2zM498 83h1v1h-1zM502 83h1v1h-1zM504 83h2v1h-2zM434 84h1v1h-1zM466 84h1v1h-1zM469 84h2v1h-2zM508 84h1v1h-1zM543 84h1v1h-1zM441 85h1v1h-1zM450 85h1v1h-1zM452 85h1v1h-1zM467 85h2v1h-2zM479 85h1v1h-1zM481 85h1v1h-1zM515 85h1v1h-1zM434 86h1v1h-1zM447 86h1v1h-1zM453 86h1v1h-1zM469 86h1v1h-1zM481 86h2v1h-2zM485 86h2v1h-2zM499 86h1v1h-1zM510 86h1v1h-1zM444 87h1v1h-1zM453 87h1v1h-1zM465 87h1v1h-1zM477 87h2v1h-2zM490 87h2v1h-2zM493 87h2v1h-2zM455 88h1v1h-1zM465 88h1v1h-1zM471 88h2v1h-2zM474 88h2v1h-2zM504 88h2v1h-2zM507 88h2v1h-2zM511 88h2v1h-2zM524 88h1v1h-1zM527 88h2v1h-2zM536 88h1v1h-1zM431 89h1v1h-1zM440 89h2v1h-2zM490 89h1v1h-1zM497 89h2v1h-2zM510 89h2v1h-2zM447 90h1v1h-1zM457 90h2v1h-2zM460 90h1v1h-1zM472 90h1v1h-1zM437 91h2v1h-2zM443 91h1v1h-1zM448 91h1v1h-1zM470 91h2v1h-2zM475 91h2v1h-2zM501 91h1v1h-1zM443 92h1v1h-1zM492 92h1v1h-1zM521 92h1v1h-1zM544 92h1v1h-1zM440 93h1v1h-1zM470 93h1v1h-1zM499 93h2v1h-2zM513 93h2v1h-2zM527 93h1v1h-1zM479 94h1v1h-1zM483 94h1v1h-1zM498 94h2v1h-2zM432 95h1v1h-1zM471 95h2v1h-2zM475 95h2v1h-2zM500 95h1v1h-1zM430 96h1v1h-1zM443 97h1v1h-1zM507 97h1v1h-1zM431 98h1v1h-1zM436 98h1v1h-1zM438 98h1v1h-1zM471 98h1v1h-1zM478 98h2v1h-2zM484 98h2v1h-2zM495 98h2v1h-2zM502 98h1v1h-1zM504 98h2v1h-2zM469 99h1v1h-1zM474 99h1v1h-1zM501 99h2v1h-2zM433 101h1v1h-1zM444 101h2v1h-2zM458 101h1v1h-1zM481 101h2v1h-2zM489 101h2v1h-2zM494 101h1v1h-1zM499 101h1v1h-1zM502 101h2v1h-2zM441 102h1v1h-1zM467 102h1v1h-1zM483 102h1v1h-1zM488 102h1v1h-1zM453 103h2v1h-2zM489 103h1v1h-1zM503 103h2v1h-2zM508 103h1v1h-1zM510 103h2v1h-2zM432 104h1v1h-1zM473 104h2v1h-2zM480 104h1v1h-1zM513 104h1v1h-1zM530 104h1v1h-1zM476 105h1v1h-1zM479 105h1v1h-1zM433 106h2v1h-2zM468 106h1v1h-1zM472 106h1v1h-1zM481 106h2v1h-2zM436 107h2v1h-2zM446 107h1v1h-1zM449 107h1v1h-1zM488 107h2v1h-2zM499 107h1v1h-1zM453 108h1v1h-1zM474 108h1v1h-1zM492 108h2v1h-2zM503 108h1v1h-1zM508 108h1v1h-1zM452 109h2v1h-2zM474 109h2v1h-2zM481 109h2v1h-2zM503 109h1v1h-1zM448 110h2v1h-2zM459 110h1v1h-1zM470 110h2v1h-2zM449 111h1v1h-1zM484 111h1v1h-1zM504 111h2v1h-2zM514 111h1v1h-1zM430 112h2v1h-2zM464 112h1v1h-1zM466 112h2v1h-2zM484 112h2v1h-2zM492 112h1v1h-1zM496 112h2v1h-2zM511 112h2v1h-2zM522 112h1v1h-1zM448 113h1v1h-1zM520 113h1v1h-1zM440 114h1v1h-1zM451 114h1v1h-1zM469 114h1v1h-1zM491 114h1v1h-1zM438 115h1v1h-1zM444 115h1v1h-1zM465 115h1v1h-1zM479 115h2v1h-2zM504 115h1v1h-1zM525 115h1v1h-1zM458 116h1v1h-1zM478 116h1v1h-1zM493 116h2v1h-2zM507 116h1v1h-1zM515 116h1v1h-1zM521 116h1v1h-1zM448 117h2v1h-2zM475 117h2v1h-2zM497 117h1v1h-1zM502 117h1v1h-1zM507 117h1v1h-1zM509 117h2v1h-2zM441 118h1v1h-1zM474 118h1v1h-1zM484 118h2v1h-2zM488 118h1v1h-1zM506 118h2v1h-2zM443 119h2v1h-2zM458 119h2v1h-2zM495 119h1v1h-1zM510 119h1v1h-1zM445 120h1v1h-1zM469 120h1v1h-1zM474 120h1v1h-1zM476 120h2v1h-2zM500 120h1v1h-1zM517 120h2v1h-2zM432 121h1v1h-1zM438 121h1v1h-1zM440 121h1v1h-1zM497 121h1v1h-1zM510 121h1v1h-1zM515 121h2v1h-2zM524 121h1v1h-1zM443 122h1v1h-1zM453 122h2v1h-2zM460 122h2v1h-2zM463 122h1v1h-1zM485 122h2v1h-2zM499 122h1v1h-1zM501 122h1v1h-1zM433 123h2v1h-2zM443 123h1v1h-1zM464 123h2v1h-2zM507 123h1v1h-1zM538 123h2v1h-2zM432 124h2v1h-2zM436 124h2v1h-2zM444 124h1v1h-1zM450 124h1v1h-1zM477 124h1v1h-1zM486 124h1v1h-1zM498 124h1v1h-1zM507 124h1v1h-1zM515 125h1v1h-1zM532 125h2v1h-2zM459 126h2v1h-2zM502 126h1v1h-1zM434 127h2v1h-2zM480 127h1v1h-1zM483 127h1v1h-1zM448 128h2v1h-2zM456 128h1v1h-1zM459 128h1v1h-1zM475 128h1v1h-1zM491 128h1v1h-1zM434 129h1v1h-1zM476 129h2v1h-2zM442 130h2v1h-2zM460 130h1v1h-1zM469 130h1v1h-1zM494 130h2v1h-2zM502 130h1v1h-1zM450 131h1v1h-1zM482 131h1v1h-1zM489 131h1v1h-1zM437 132h1v1h-1zM462 132h2v1h-2zM487 132h1v1h-1zM495 132h1v1h-1zM439 133h1v1h-1zM430 134h2v1h-2zM443 134h1v1h-1zM464 134h2v1h-2zM493 134h1v1h-1zM503 134h2v1h-2zM436 135h1v1h-1zM467 135h2v1h-2zM497 135h1v1h-1zM433 136h1v1h-1zM442 136h1v1h-1zM462 136h1v1h-1zM479 136h1v1h-1zM483 136h1v1h-1zM491 136h2v1h-2zM505 136h1v1h-1zM501 137h1v1h-1zM526 137h1v1h-1zM461 139h2v1h-2zM465 139h1v1h-1zM464 140h1v1h-1zM470 140h1v1h-1zM479 140h2v1h-2zM494 140h2v1h-2zM499 140h1v1h-1zM432 141h1v1h-1zM443 141h1v1h-1zM463 141h2v1h-2zM466 141h2v1h-2zM495 141h1v1h-1zM527 141h2v1h-2zM434 142h2v1h-2zM479 142h2v1h-2zM486 142h1v1h-1zM432 143h1v1h-1zM435 143h1v1h-1zM466 143h2v1h-2zM472 143h2v1h-2zM480 143h2v1h-2zM484 143h1v1h-1zM488 143h1v1h-1zM493 143h1v1h-1zM500 143h1v1h-1zM430 144h2v1h-2zM461 144h1v1h-1zM471 144h1v1h-1zM481 144h1v1h-1zM504 144h1v1h-1zM526 144h1v1h-1zM430 145h2v1h-2zM457 145h1v1h-1zM466 145h1v1h-1zM477 145h1v1h-1zM489 145h2v1h-2zM493 145h1v1h-1zM490 146h1v1h-1zM509 146h2v1h-2zM515 146h1v1h-1zM432 147h2v1h-2zM447 147h2v1h-2zM462 147h2v1h-2zM470 147h1v1h-1zM477 147h2v1h-2zM432 148h2v1h-2zM439 148h2v1h-2zM442 148h2v1h-2zM449 148h1v1h-1zM453 148h2v1h-2zM475 148h1v1h-1zM484 148h1v1h-1zM491 148h1v1h-1zM435 149h2v1h-2zM447 149h1v1h-1zM473 149h2v1h-2zM483 149h2v1h-2zM501 149h2v1h-2zM529 149h1v1h-1zM431 150h1v1h-1zM435 150h1v1h-1zM470 150h1v1h-1zM477 150h1v1h-1zM496 150h1v1h-1zM439 151h1v1h-1zM458 151h1v1h-1zM467 151h1v1h-1zM475 151h1v1h-1zM490 151h1v1h-1zM502 151h2v1h-2zM511 151h1v1h-1zM431 152h1v1h-1zM434 152h1v1h-1zM483 152h1v1h-1zM491 152h1v1h-1zM507 152h1v1h-1zM456 153h1v1h-1zM478 153h1v1h-1zM540 153h1v1h-1zM433 154h2v1h-2zM507 154h1v1h-1zM509 154h1v1h-1zM520 154h1v1h-1zM524 154h2v1h-2zM438 155h1v1h-1zM441 155h1v1h-1zM474 155h2v1h-2zM508 155h1v1h-1zM528 155h2v1h-2zM453 156h2v1h-2zM475 156h1v1h-1zM495 156h2v1h-2zM431 157h2v1h-2zM451 157h2v1h-2zM465 157h1v1h-1zM482 157h1v1h-1zM499 157h2v1h-2zM434 158h1v1h-1zM466 158h1v1h-1zM474 158h1v1h-1zM485 158h1v1h-1zM498 158h2v1h-2zM456 159h2v1h-2zM510 159h1v1h-1zM525 159h2v1h-2zM431 160h2v1h-2zM438 160h1v1h-1zM475 160h1v1h-1zM490 160h2v1h-2zM517 160h1v1h-1zM519 160h1v1h-1zM432 161h1v1h-1zM443 161h2v1h-2zM452 161h1v1h-1zM463 161h2v1h-2zM471 161h2v1h-2zM497 161h1v1h-1zM506 161h2v1h-2zM512 161h1v1h-1zM517 161h2v1h-2zM523 161h1v1h-1zM526 161h1v1h-1zM456 162h1v1h-1zM466 162h2v1h-2zM479 162h2v1h-2zM506 163h2v1h-2zM522 163h2v1h-2zM449 164h1v1h-1zM463 164h1v1h-1zM483 164h1v1h-1zM520 164h2v1h-2zM437 165h1v1h-1zM440 165h1v1h-1zM452 165h2v1h-2zM463 165h2v1h-2zM486 165h2v1h-2zM492 165h1v1h-1zM504 165h2v1h-2zM507 165h1v1h-1zM435 166h1v1h-1zM444 166h1v1h-1zM449 166h1v1h-1zM473 166h1v1h-1zM479 166h1v1h-1zM487 166h1v1h-1zM433 167h2v1h-2zM481 167h1v1h-1zM494 167h1v1h-1zM501 167h2v1h-2zM517 167h1v1h-1zM434 168h1v1h-1zM455 168h1v1h-1zM483 168h1v1h-1zM486 168h1v1h-1zM446 169h1v1h-1zM451 169h2v1h-2zM464 169h1v1h-1zM467 169h1v1h-1zM476 169h1v1h-1zM500 169h1v1h-1zM466 170h2v1h-2zM482 170h2v1h-2zM430 171h1v1h-1zM437 171h2v1h-2zM452 171h1v1h-1zM490 171h1v1h-1zM506 171h2v1h-2zM437 172h1v1h-1zM460 172h1v1h-1zM469 172h1v1h-1zM485 172h2v1h-2zM488 172h1v1h-1zM503 172h1v1h-1zM437 173h1v1h-1zM461 173h1v1h-1zM501 173h1v1h-1zM442 174h1v1h-1zM449 174h2v1h-2zM461 174h1v1h-1zM470 174h2v1h-2zM480 174h1v1h-1zM534 174h1v1h-1zM434 175h2v1h-2zM441 175h2v1h-2zM489 175h2v1h-2zM433 176h1v1h-1zM441 176h1v1h-1zM455 176h2v1h-2zM472 176h2v1h-2zM499 176h1v1h-1zM431 177h2v1h-2zM438 177h1v1h-1zM444 177h1v1h-1zM469 177h2v1h-2zM485 177h1v1h-1zM487 177h2v1h-2zM496 177h1v1h-1zM498 177h1v1h-1zM511 177h2v1h-2zM444 178h1v1h-1zM505 179h1v1h-1zM447 180h2v1h-2zM460 180h2v1h-2zM472 180h1v1h-1zM489 180h1v1h-1zM494 180h1v1h-1zM501 180h2v1h-2zM467 181h1v1h-1zM480 181h2v1h-2zM495 181h1v1h-1zM500 181h1v1h-1zM523 181h1v1h-1zM441 182h1v1h-1zM455 182h1v1h-1zM480 182h1v1h-1zM499 182h2v1h-2zM469 183h2v1h-2zM467 184h2v1h-2zM472 184h1v1h-1zM476 184h1v1h-1zM480 184h1v1h-1zM493 184h1v1h-1zM499 184h2v1h-2zM502 184h2v1h-2zM516 184h1v1h-1zM519 184h2v1h-2zM447 185h1v1h-1zM481 185h1v1h-1zM485 185h2v1h-2zM499 185h2v1h-2zM506 185h1v1h-1zM519 185h1v1h-1zM437 186h2v1h-2zM443 186h1v1h-1zM445 186h1v1h-1zM458 186h1v1h-1zM482 186h1v1h-1zM496 186h2v1h-2zM504 186h1v1h-1zM470 187h2v1h-2zM430 188h2v1h-2zM488 188h2v1h-2zM501 188h2v1h-2zM437 189h2v1h-2zM453 189h1v1h-1zM470 189h2v1h-2zM476 189h2v1h-2zM497 189h1v1h-1zM501 189h2v1h-2zM447 190h2v1h-2zM456 190h1v1h-1zM483 190h1v1h-1zM521 190h1v1h-1zM431 191h1v1h-1zM445 191h1v1h-1zM457 191h2v1h-2zM463 191h2v1h-2zM474 191h2v1h-2zM482 191h2v1h-2zM488 191h2v1h-2zM493 191h1v1h-1zM495 191h1v1h-1zM505 191h2v1h-2zM517 191h1v1h-1zM430 192h1v1h-1zM432 192h2v1h-2zM444 192h1v1h-1zM448 192h2v1h-2zM497 192h1v1h-1zM503 192h1v1h-1zM506 192h1v1h-1zM526 192h2v1h-2zM430 193h1v1h-1zM440 193h2v1h-2zM446 193h2v1h-2zM488 193h1v1h-1zM494 193h2v1h-2zM504 193h1v1h-1zM476 194h1v1h-1zM474 195h2v1h-2zM487 195h2v1h-2zM431 197h2v1h-2zM484 197h1v1h-1zM492 197h1v1h-1zM496 197h1v1h-1zM537 197h2v1h-2zM439 198h1v1h-1zM441 198h1v1h-1zM472 198h1v1h-1zM474 198h1v1h-1zM479 198h1v1h-1zM487 198h1v1h-1zM492 198h1v1h-1zM495 198h1v1h-1zM503 198h1v1h-1zM506 198h1v1h-1zM467 199h2v1h-2zM481 199h1v1h-1zM502 199h1v1h-1zM511 199h1v1h-1zM430 200h1v1h-1zM442 200h1v1h-1zM481 200h1v1h-1zM510 200h1v1h-1zM526 200h1v1h-1zM432 201h2v1h-2zM472 201h1v1h-1zM524 201h1v1h-1zM534 201h2v1h-2zM448 202h1v1h-1zM466 202h2v1h-2zM475 202h1v1h-1zM495 202h1v1h-1zM440 203h1v1h-1zM469 203h2v1h-2zM473 203h1v1h-1zM484 203h2v1h-2zM443 204h1v1h-1zM465 204h2v1h-2zM515 204h1v1h-1zM485 206h1v1h-1zM495 206h1v1h-1zM517 206h1v1h-1zM533 206h2v1h-2zM482 207h1v1h-1zM440 208h1v1h-1zM451 208h1v1h-1zM455 208h1v1h-1zM484 208h2v1h-2zM431 209h1v1h-1zM440 209h2v1h-2zM454 209h1v1h-1zM475 209h2v1h-2zM489 209h1v1h-1zM495 209h1v1h-1zM512 209h1v1h-1zM478 210h1v1h-1zM488 210h1v1h-1zM499 210h1v1h-1zM503 210h1v1h-1zM510 210h1v1h-1zM514 210h2v1h-2zM518 210h2v1h-2zM430 211h2v1h-2zM507 211h1v1h-1zM434 212h1v1h-1zM443 213h1v1h-1zM448 213h2v1h-2zM471 213h1v1h-1zM479 213h1v1h-1zM495 213h1v1h-1zM431 214h1v1h-1zM436 214h1v1h-1zM450 214h2v1h-2zM468 214h1v1h-1zM475 214h2v1h-2zM505 214h2v1h-2zM439 215h1v1h-1zM451 215h1v1h-1zM461 215h2v1h-2zM467 215h1v1h-1zM472 215h1v1h-1zM475 215h2v1h-2zM482 215h2v1h-2zM510 215h1v1h-1zM435 216h1v1h-1zM438 216h1v1h-1zM468 216h1v1h-1zM483 216h2v1h-2zM486 216h1v1h-1zM489 216h2v1h-2zM497 216h1v1h-1zM512 216h1v1h-1zM516 216h1v1h-1zM529 216h2v1h-2zM439 217h1v1h-1zM476 217h2v1h-2zM493 217h1v1h-1zM531 217h2v1h-2zM470 218h1v1h-1zM482 218h1v1h-1zM495 218h2v1h-2zM521 218h1v1h-1zM445 219h1v1h-1zM450 219h2v1h-2zM455 219h1v1h-1zM457 219h1v1h-1zM480 219h2v1h-2zM492 219h2v1h-2zM507 219h2v1h-2zM525 219h1v1h-1zM430 220h1v1h-1zM456 220h1v1h-1zM469 220h2v1h-2zM473 220h1v1h-1zM499 220h1v1h-1zM431 221h2v1h-2zM443 221h2v1h-2zM473 221h1v1h-1zM521 221h1v1h-1zM439 222h2v1h-2zM465 222h1v1h-1zM475 222h1v1h-1zM496 222h1v1h-1zM432 223h1v1h-1zM450 223h2v1h-2zM479 223h1v1h-1zM510 223h1v1h-1zM530 223h1v1h-1zM431 224h1v1h-1zM448 224h1v1h-1zM467 224h2v1h-2zM479 224h1v1h-1zM483 224h2v1h-2zM506 224h1v1h-1zM521 224h1v1h-1zM440 225h2v1h-2zM451 225h2v1h-2zM465 225h2v1h-2zM468 225h2v1h-2zM482 225h1v1h-1zM515 225h1v1h-1zM440 226h2v1h-2zM449 226h1v1h-1zM454 226h1v1h-1zM472 226h1v1h-1zM475 226h1v1h-1zM453 227h1v1h-1zM487 227h1v1h-1zM489 227h1v1h-1zM497 227h2v1h-2zM504 227h1v1h-1zM508 227h1v1h-1zM431 228h2v1h-2zM478 228h1v1h-1zM496 228h2v1h-2zM524 228h1v1h-1zM431 229h2v1h-2zM463 229h2v1h-2zM497 229h1v1h-1zM499 229h1v1h-1zM504 229h2v1h-2zM473 230h1v1h-1zM489 230h1v1h-1zM431 231h1v1h-1zM452 231h2v1h-2zM468 231h1v1h-1zM481 231h1v1h-1zM490 231h2v1h-2zM502 231h1v1h-1zM541 231h1v1h-1zM435 232h1v1h-1zM432 233h1v1h-1zM441 233h1v1h-1zM481 233h1v1h-1zM496 233h1v1h-1zM430 234h1v1h-1zM434 234h2v1h-2zM438 234h1v1h-1zM462 234h1v1h-1zM464 234h2v1h-2zM470 234h1v1h-1zM474 234h2v1h-2zM483 234h2v1h-2zM493 234h1v1h-1zM526 234h1v1h-1zM440 235h1v1h-1zM443 235h2v1h-2zM446 235h1v1h-1zM456 235h1v1h-1zM486 235h1v1h-1zM497 235h1v1h-1zM535 235h1v1h-1zM445 236h1v1h-1zM477 236h1v1h-1zM481 236h1v1h-1zM527 236h2v1h-2zM440 237h2v1h-2zM469 237h1v1h-1zM495 237h2v1h-2zM435 238h1v1h-1zM453 238h1v1h-1zM469 238h1v1h-1zM471 238h2v1h-2zM489 238h2v1h-2zM499 238h2v1h-2zM506 238h1v1h-1zM509 238h1v1h-1zM511 238h2v1h-2zM518 238h1v1h-1zM520 238h2v1h-2zM435 239h1v1h-1zM441 239h1v1h-1zM443 239h1v1h-1zM455 239h1v1h-1zM465 239h1v1h-1zM470 239h1v1h-1zM475 239h1v1h-1zM480 239h2v1h-2zM493 239h1v1h-1zM430 240h1v1h-1zM434 240h2v1h-2zM440 240h1v1h-1zM494 240h1v1h-1zM499 240h2v1h-2zM518 240h1v1h-1zM443 241h1v1h-1zM447 241h1v1h-1zM467 241h1v1h-1zM493 241h1v1h-1zM503 241h1v1h-1zM518 241h2v1h-2zM465 242h2v1h-2zM501 242h2v1h-2zM505 242h1v1h-1zM430 243h1v1h-1zM467 243h1v1h-1zM480 243h1v1h-1zM484 243h1v1h-1zM511 243h1v1h-1zM442 244h1v1h-1zM446 244h1v1h-1zM483 244h2v1h-2zM500 244h2v1h-2zM508 244h2v1h-2zM520 244h1v1h-1zM523 244h1v1h-1zM481 245h1v1h-1zM446 246h1v1h-1zM449 246h2v1h-2zM476 246h1v1h-1zM489 246h1v1h-1zM500 246h1v1h-1zM433 247h1v1h-1zM450 247h1v1h-1zM473 247h1v1h-1zM452 248h2v1h-2zM467 248h1v1h-1zM469 248h1v1h-1zM472 248h2v1h-2zM478 248h2v1h-2zM492 248h1v1h-1zM507 248h1v1h-1zM510 248h1v1h-1zM467 249h2v1h-2zM473 249h1v1h-1zM496 249h1v1h-1zM444 250h1v1h-1zM448 250h2v1h-2zM492 250h2v1h-2zM439 251h1v1h-1zM445 251h2v1h-2zM449 251h2v1h-2zM465 251h2v1h-2zM484 251h1v1h-1zM501 251h1v1h-1zM509 251h1v1h-1zM439 252h1v1h-1zM444 252h1v1h-1zM476 252h1v1h-1zM503 252h1v1h-1zM443 253h1v1h-1zM450 253h2v1h-2zM463 253h1v1h-1zM479 253h1v1h-1zM503 253h1v1h-1zM512 253h1v1h-1zM519 253h1v1h-1zM526 253h1v1h-1zM434 254h2v1h-2zM438 254h1v1h-1zM443 254h1v1h-1zM455 254h1v1h-1zM496 254h1v1h-1zM507 254h1v1h-1zM516 254h1v1h-1zM430 255h2v1h-2zM448 255h1v1h-1zM465 255h1v1h-1zM502 255h1v1h-1zM505 255h1v1h-1zM507 255h2v1h-2zM510 255h1v1h-1zM519 255h1v1h-1zM535 255h1v1h-1zM430 256h1v1h-1zM432 256h1v1h-1zM440 256h2v1h-2zM459 256h1v1h-1zM464 256h1v1h-1zM485 256h1v1h-1zM502 256h2v1h-2zM537 256h1v1h-1zM431 257h1v1h-1zM438 257h1v1h-1zM448 257h1v1h-1zM453 257h1v1h-1zM458 257h1v1h-1zM479 257h1v1h-1zM499 257h1v1h-1zM525 257h2v1h-2zM431 258h2v1h-2zM453 258h2v1h-2zM468 258h1v1h-1zM485 258h1v1h-1zM496 258h1v1h-1zM509 258h1v1h-1zM443 259h1v1h-1zM476 259h1v1h-1zM479 259h2v1h-2zM487 259h2v1h-2zM525 259h1v1h-1zM451 260h2v1h-2zM488 260h1v1h-1zM498 260h2v1h-2zM505 260h1v1h-1zM437 261h2v1h-2zM449 261h1v1h-1zM489 261h1v1h-1zM505 261h1v1h-1zM511 261h1v1h-1zM471 262h1v1h-1zM473 262h2v1h-2zM486 262h2v1h-2zM506 262h1v1h-1zM515 262h2v1h-2zM522 262h1v1h-1zM482 263h1v1h-1zM439 264h1v1h-1zM442 264h2v1h-2zM504 264h2v1h-2zM430 265h2v1h-2zM440 265h2v1h-2zM463 265h1v1h-1zM471 265h2v1h-2zM489 265h2v1h-2zM499 265h2v1h-2zM524 265h2v1h-2zM439 266h1v1h-1zM477 266h2v1h-2zM492 266h1v1h-1zM496 266h2v1h-2zM500 266h2v1h-2zM504 266h1v1h-1zM525 266h1v1h-1zM443 267h2v1h-2zM461 267h1v1h-1zM487 267h2v1h-2zM507 267h1v1h-1zM511 267h1v1h-1zM518 267h1v1h-1zM434 268h2v1h-2zM442 268h2v1h-2zM468 268h1v1h-1zM473 268h2v1h-2zM481 268h2v1h-2zM489 268h1v1h-1zM498 268h1v1h-1zM521 268h1v1h-1zM473 269h1v1h-1zM489 269h2v1h-2zM496 269h1v1h-1zM498 269h1v1h-1zM501 269h1v1h-1zM510 269h1v1h-1zM444 271h1v1h-1zM449 271h1v1h-1zM495 271h1v1h-1zM501 271h1v1h-1zM511 271h2v1h-2zM450 272h1v1h-1zM480 272h2v1h-2zM503 272h2v1h-2zM434 273h1v1h-1zM437 273h2v1h-2zM440 273h1v1h-1zM469 273h1v1h-1zM483 273h1v1h-1zM486 273h1v1h-1zM501 273h2v1h-2zM522 273h1v1h-1zM431 274h1v1h-1zM441 274h2v1h-2zM459 274h2v1h-2zM474 274h1v1h-1zM480 274h2v1h-2zM519 274h1v1h-1zM471 275h2v1h-2zM487 275h2v1h-2zM505 275h2v1h-2zM509 275h1v1h-1zM481 276h1v1h-1zM486 276h2v1h-2zM500 276h1v1h-1zM508 276h1v1h-1zM518 276h2v1h-2zM430 277h2v1h-2zM453 277h1v1h-1zM462 277h1v1h-1zM515 277h1v1h-1zM449 278h1v1h-1zM452 278h1v1h-1zM464 278h1v1h-1zM468 278h2v1h-2zM471 278h1v1h-1zM493 278h1v1h-1zM508 278h2v1h-2zM432 279h1v1h-1zM434 279h1v1h-1zM470 279h2v1h-2zM482 279h1v1h-1zM504 279h1v1h-1zM512 279h1v1h-1zM431 280h2v1h-2zM448 280h1v1h-1zM455 281h2v1h-2zM478 281h2v1h-2zM487 281h2v1h-2zM503 281h1v1h-1zM450 282h2v1h-2zM458 282h1v1h-1zM479 282h2v1h-2zM432 283h2v1h-2zM471 283h1v1h-1zM498 283h1v1h-1zM504 283h1v1h-1zM430 284h1v1h-1zM434 284h2v1h-2zM442 284h1v1h-1zM475 284h2v1h-2zM483 284h1v1h-1zM461 285h1v1h-1zM467 285h2v1h-2zM472 285h1v1h-1zM493 285h2v1h-2zM451 286h1v1h-1zM478 286h1v1h-1zM481 286h1v1h-1zM490 286h1v1h-1zM502 286h1v1h-1zM506 286h1v1h-1zM516 286h1v1h-1zM434 287h1v1h-1zM436 287h1v1h-1zM463 287h1v1h-1zM466 287h1v1h-1zM469 287h1v1h-1zM479 287h1v1h-1zM440 288h1v1h-1zM469 288h1v1h-1zM473 288h2v1h-2zM487 288h1v1h-1zM489 288h1v1h-1zM496 288h2v1h-2zM489 289h1v1h-1zM474 290h1v1h-1zM508 290h1v1h-1zM520 290h1v1h-1zM524 290h1v1h-1zM441 291h1v1h-1zM488 291h1v1h-1zM485 292h1v1h-1zM435 293h1v1h-1zM447 293h2v1h-2zM479 293h1v1h-1zM488 293h2v1h-2zM496 293h1v1h-1zM500 293h1v1h-1zM504 293h1v1h-1zM513 293h1v1h-1zM441 294h2v1h-2zM451 294h1v1h-1zM471 294h1v1h-1zM483 294h1v1h-1zM493 294h1v1h-1zM499 294h2v1h-2zM507 294h1v1h-1zM516 294h2v1h-2zM544 294h2v1h-2zM435 295h2v1h-2zM441 295h2v1h-2zM452 295h1v1h-1zM463 295h1v1h-1zM470 295h1v1h-1zM481 295h1v1h-1zM495 295h1v1h-1zM501 295h1v1h-1zM509 295h1v1h-1zM523 295h1v1h-1zM433 296h2v1h-2zM440 296h2v1h-2zM457 296h1v1h-1zM465 296h1v1h-1zM472 296h1v1h-1zM478 296h1v1h-1zM485 296h1v1h-1zM512 296h1v1h-1zM436 297h1v1h-1zM443 297h1v1h-1zM450 297h1v1h-1zM465 297h2v1h-2zM474 297h1v1h-1zM478 297h2v1h-2zM489 297h1v1h-1zM515 297h1v1h-1zM524 297h1v1h-1zM432 298h2v1h-2zM439 298h1v1h-1zM450 298h1v1h-1zM454 298h2v1h-2zM474 298h1v1h-1zM504 298h1v1h-1zM508 298h1v1h-1zM523 298h2v1h-2zM444 299h1v1h-1zM453 299h2v1h-2zM489 299h2v1h-2zM494 299h2v1h-2zM509 299h1v1h-1zM520 299h1v1h-1zM538 299h2v1h-2zM432 300h1v1h-1zM434 300h2v1h-2zM457 300h2v1h-2zM461 300h2v1h-2zM476 300h1v1h-1zM482 300h1v1h-1zM489 300h1v1h-1zM510 300h2v1h-2zM522 300h2v1h-2zM526 300h1v1h-1zM457 301h1v1h-1zM451 302h2v1h-2zM525 302h2v1h-2zM436 303h2v1h-2zM443 303h2v1h-2zM479 303h1v1h-1zM502 303h1v1h-1zM505 303h2v1h-2zM431 304h1v1h-1zM438 304h1v1h-1zM450 304h2v1h-2zM488 304h2v1h-2zM435 305h1v1h-1zM443 305h1v1h-1zM446 305h1v1h-1zM448 305h1v1h-1zM463 305h1v1h-1zM476 305h1v1h-1zM480 305h1v1h-1zM492 305h1v1h-1zM505 305h2v1h-2zM511 305h1v1h-1zM516 305h2v1h-2zM523 305h2v1h-2zM454 306h1v1h-1zM469 306h2v1h-2zM487 306h2v1h-2zM492 306h1v1h-1zM497 306h1v1h-1zM503 306h2v1h-2zM506 306h1v1h-1zM430 307h2v1h-2zM473 307h1v1h-1zM526 307h1v1h-1zM430 308h1v1h-1zM448 308h1v1h-1zM502 308h2v1h-2zM431 309h1v1h-1zM435 309h2v1h-2zM440 309h1v1h-1zM446 309h2v1h-2zM450 309h2v1h-2zM454 309h2v1h-2zM468 309h2v1h-2zM476 309h1v1h-1zM496 309h1v1h-1zM503 309h1v1h-1zM443 310h2v1h-2zM497 310h1v1h-1zM452 311h1v1h-1zM529 311h1v1h-1zM430 312h1v1h-1zM450 312h1v1h-1zM458 312h1v1h-1zM489 312h1v1h-1zM496 312h2v1h-2zM440 313h1v1h-1zM496 313h1v1h-1zM500 313h1v1h-1zM512 313h2v1h-2zM432 314h1v1h-1zM442 314h1v1h-1zM445 314h2v1h-2zM448 314h1v1h-1zM465 314h1v1h-1zM468 314h2v1h-2zM435 315h1v1h-1zM447 315h2v1h-2zM476 315h2v1h-2zM484 315h1v1h-1zM489 315h2v1h-2zM495 315h1v1h-1zM506 315h1v1h-1zM512 315h1v1h-1zM520 315h1v1h-1zM525 315h1v1h-1zM457 316h1v1h-1zM474 316h2v1h-2zM486 316h1v1h-1zM494 316h2v1h-2zM498 316h2v1h-2zM505 316h1v1h-1zM542 316h2v1h-2zM430 317h1v1h-1zM470 317h1v1h-1zM508 318h1v1h-1zM430 320h1v1h-1zM501 320h1v1h-1zM431 321h2v1h-2zM454 321h2v1h-2zM478 321h1v1h-1zM483 321h2v1h-2zM486 321h1v1h-1zM500 321h1v1h-1zM509 321h2v1h-2zM518 321h2v1h-2zM526 321h1v1h-1zM448 322h1v1h-1zM465 322h1v1h-1zM494 322h1v1h-1zM502 322h1v1h-1zM507 322h2v1h-2zM514 322h2v1h-2zM430 323h1v1h-1zM446 323h2v1h-2zM452 323h1v1h-1zM483 323h1v1h-1zM511 323h1v1h-1zM485 324h1v1h-1zM436 325h2v1h-2zM458 325h1v1h-1zM461 325h2v1h-2zM493 325h1v1h-1zM499 325h1v1h-1zM533 325h2v1h-2zM442 326h2v1h-2zM451 326h1v1h-1zM475 326h2v1h-2zM497 326h1v1h-1zM502 326h1v1h-1zM507 326h1v1h-1zM509 326h1v1h-1zM521 326h1v1h-1zM435 327h1v1h-1zM439 327h1v1h-1zM453 327h2v1h-2zM467 327h1v1h-1zM489 327h1v1h-1zM500 327h1v1h-1zM507 327h1v1h-1zM509 327h1v1h-1zM515 327h1v1h-1zM540 327h1v1h-1zM431 328h1v1h-1zM443 328h1v1h-1zM460 328h1v1h-1zM463 328h1v1h-1zM466 328h1v1h-1zM471 328h1v1h-1zM484 328h1v1h-1zM491 328h1v1h-1zM509 328h2v1h-2zM476 329h2v1h-2zM483 329h1v1h-1zM495 329h2v1h-2zM431 330h1v1h-1zM442 330h2v1h-2zM450 330h1v1h-1zM469 330h1v1h-1zM486 330h2v1h-2zM446 331h2v1h-2zM475 331h2v1h-2zM463 332h1v1h-1zM472 332h2v1h-2zM482 332h2v1h-2zM490 332h2v1h-2zM498 332h2v1h-2zM504 332h2v1h-2zM517 332h1v1h-1zM526 332h2v1h-2zM470 333h1v1h-1zM484 333h1v1h-1zM491 333h1v1h-1zM494 333h2v1h-2zM511 333h2v1h-2zM524 333h2v1h-2zM476 334h1v1h-1zM501 334h1v1h-1zM437 335h2v1h-2zM453 335h1v1h-1zM499 335h1v1h-1zM480 336h2v1h-2zM437 337h1v1h-1zM440 337h1v1h-1zM457 337h1v1h-1zM468 337h1v1h-1zM494 337h1v1h-1zM503 337h1v1h-1zM511 337h2v1h-2zM439 338h1v1h-1zM443 338h1v1h-1zM449 338h1v1h-1zM467 338h1v1h-1zM470 338h1v1h-1zM485 338h2v1h-2zM497 338h1v1h-1zM510 338h1v1h-1zM473 339h1v1h-1zM433 340h1v1h-1zM466 340h1v1h-1zM487 340h1v1h-1zM496 340h1v1h-1zM437 341h1v1h-1zM446 341h2v1h-2zM458 341h2v1h-2zM472 341h2v1h-2zM489 341h2v1h-2zM497 341h1v1h-1zM530 341h2v1h-2zM430 342h1v1h-1zM455 342h1v1h-1zM457 342h2v1h-2zM478 342h2v1h-2zM481 342h1v1h-1zM484 342h2v1h-2zM432 343h1v1h-1zM469 343h1v1h-1zM507 343h1v1h-1zM472 344h1v1h-1zM484 344h2v1h-2zM488 344h2v1h-2zM496 344h1v1h-1zM500 344h1v1h-1zM441 345h1v1h-1zM478 345h2v1h-2zM483 345h1v1h-1zM502 345h2v1h-2zM454 346h2v1h-2zM477 346h1v1h-1zM486 346h2v1h-2zM490 346h1v1h-1zM517 346h1v1h-1zM447 347h1v1h-1zM508 347h1v1h-1zM442 348h1v1h-1zM456 349h2v1h-2zM471 349h1v1h-1zM524 349h1v1h-1zM437 350h1v1h-1zM447 350h1v1h-1zM470 350h1v1h-1zM481 350h1v1h-1zM485 350h2v1h-2zM470 352h1v1h-1zM485 352h2v1h-2zM495 352h1v1h-1zM438 353h1v1h-1zM443 353h2v1h-2zM468 353h1v1h-1zM500 353h1v1h-1zM506 353h1v1h-1zM511 353h1v1h-1zM513 353h1v1h-1zM434 354h1v1h-1zM438 354h1v1h-1zM452 354h2v1h-2zM465 354h1v1h-1zM473 354h1v1h-1zM488 354h1v1h-1zM498 354h2v1h-2zM502 354h2v1h-2zM474 355h2v1h-2zM491 355h2v1h-2zM439 356h2v1h-2zM471 356h1v1h-1zM494 356h2v1h-2zM501 356h1v1h-1zM430 357h2v1h-2zM434 357h1v1h-1zM455 357h2v1h-2zM466 357h1v1h-1zM490 357h2v1h-2zM507 357h2v1h-2zM514 357h2v1h-2zM437 358h1v1h-1zM453 358h1v1h-1zM488 358h2v1h-2zM495 358h1v1h-1zM500 358h1v1h-1zM510 358h1v1h-1zM430 359h1v1h-1zM456 359h1v1h-1zM461 359h1v1h-1zM487 359h1v1h-1zM494 359h1v1h-1zM501 359h1v1h-1zM503 359h1v1h-1zM512 359h1v1h-1zM514 359h2v1h-2zM433 360h1v1h-1zM452 360h1v1h-1zM462 360h1v1h-1zM477 360h1v1h-1zM480 360h2v1h-2zM492 360h1v1h-1zM498 360h1v1h-1zM433 361h1v1h-1zM451 361h1v1h-1zM469 361h2v1h-2zM490 361h1v1h-1zM498 361h2v1h-2zM533 361h1v1h-1zM489 362h1v1h-1zM505 362h1v1h-1zM445 363h2v1h-2zM459 363h1v1h-1zM479 363h1v1h-1zM504 363h1v1h-1zM457 364h1v1h-1zM475 364h1v1h-1zM438 365h2v1h-2zM442 365h2v1h-2zM452 365h1v1h-1zM462 365h2v1h-2zM487 365h1v1h-1zM503 365h2v1h-2zM506 365h1v1h-1zM431 366h1v1h-1zM434 366h2v1h-2zM450 366h1v1h-1zM453 366h1v1h-1zM458 366h1v1h-1zM465 366h1v1h-1zM468 366h2v1h-2zM497 366h2v1h-2zM505 366h2v1h-2zM452 367h2v1h-2zM459 367h1v1h-1zM483 367h2v1h-2zM446 368h1v1h-1zM459 368h1v1h-1zM486 368h1v1h-1zM494 368h1v1h-1zM432 369h2v1h-2zM453 369h2v1h-2zM457 369h2v1h-2zM480 369h1v1h-1zM492 369h1v1h-1zM512 369h1v1h-1zM437 370h1v1h-1zM464 370h1v1h-1zM494 370h2v1h-2zM528 370h1v1h-1zM446 371h1v1h-1zM461 371h1v1h-1zM466 371h1v1h-1zM515 372h2v1h-2zM463 373h1v1h-1zM470 373h1v1h-1zM503 373h1v1h-1zM513 373h1v1h-1zM520 373h1v1h-1zM446 374h1v1h-1zM454 374h1v1h-1zM457 374h1v1h-1zM459 374h2v1h-2zM483 374h1v1h-1zM499 374h1v1h-1zM502 374h2v1h-2zM507 374h2v1h-2zM472 375h1v1h-1zM439 376h1v1h-1zM442 376h1v1h-1zM463 376h2v1h-2zM477 376h2v1h-2zM482 376h1v1h-1zM494 376h1v1h-1zM520 376h2v1h-2zM431 377h2v1h-2zM453 377h2v1h-2zM476 377h1v1h-1zM490 377h1v1h-1zM492 377h1v1h-1zM506 377h1v1h-1zM511 377h2v1h-2zM540 377h1v1h-1zM431 378h1v1h-1zM451 378h1v1h-1zM465 378h2v1h-2zM472 378h2v1h-2zM494 378h1v1h-1zM497 378h1v1h-1zM502 378h1v1h-1zM517 378h1v1h-1zM482 379h1v1h-1zM508 379h1v1h-1zM486 380h2v1h-2zM453 382h2v1h-2zM467 382h2v1h-2zM511 382h1v1h-1zM530 382h1v1h-1zM444 383h2v1h-2zM475 383h2v1h-2zM495 383h1v1h-1zM506 383h2v1h-2zM439 384h1v1h-1zM453 384h1v1h-1zM464 384h1v1h-1zM469 384h2v1h-2zM479 384h2v1h-2zM489 384h2v1h-2zM433 385h2v1h-2zM437 385h1v1h-1zM449 385h2v1h-2zM461 385h1v1h-1zM464 385h1v1h-1zM507 385h1v1h-1zM512 385h1v1h-1zM535 385h1v1h-1zM537 385h2v1h-2zM464 386h1v1h-1zM496 386h1v1h-1zM507 386h2v1h-2zM510 386h2v1h-2zM514 386h2v1h-2zM504 387h1v1h-1zM431 388h1v1h-1zM438 388h1v1h-1zM451 388h2v1h-2zM469 388h1v1h-1zM476 388h2v1h-2zM484 388h1v1h-1zM488 388h1v1h-1zM491 388h2v1h-2zM468 389h2v1h-2zM522 389h2v1h-2zM539 389h1v1h-1zM431 390h2v1h-2zM436 390h1v1h-1zM450 390h1v1h-1zM454 390h2v1h-2zM470 390h2v1h-2zM476 390h1v1h-1zM443 391h1v1h-1zM449 391h2v1h-2zM466 391h2v1h-2zM507 391h1v1h-1zM537 391h2v1h-2zM445 392h1v1h-1zM450 392h2v1h-2zM468 392h1v1h-1zM471 392h2v1h-2zM482 392h1v1h-1zM502 392h1v1h-1zM509 392h1v1h-1zM511 392h2v1h-2zM435 393h1v1h-1zM452 393h1v1h-1zM480 393h2v1h-2zM484 393h1v1h-1zM492 393h1v1h-1zM495 393h1v1h-1zM432 394h1v1h-1zM435 394h2v1h-2zM464 395h1v1h-1zM477 395h1v1h-1zM479 395h1v1h-1zM492 395h1v1h-1zM494 395h1v1h-1zM505 395h1v1h-1zM513 395h1v1h-1zM538 395h1v1h-1zM468 396h2v1h-2zM472 396h2v1h-2zM530 396h2v1h-2zM479 397h1v1h-1zM464 398h2v1h-2zM483 398h1v1h-1zM495 398h2v1h-2zM509 398h1v1h-1zM446 399h2v1h-2zM467 399h2v1h-2zM474 399h1v1h-1zM482 399h2v1h-2zM486 399h2v1h-2zM502 399h1v1h-1zM504 399h2v1h-2zM432 400h2v1h-2zM455 400h1v1h-1zM463 400h1v1h-1zM469 400h1v1h-1zM476 400h1v1h-1zM480 400h1v1h-1zM490 400h1v1h-1zM493 400h2v1h-2zM454 401h1v1h-1zM501 401h2v1h-2zM433 402h1v1h-1zM436 402h1v1h-1zM441 402h2v1h-2zM479 402h2v1h-2zM505 402h1v1h-1zM478 403h2v1h-2zM486 403h1v1h-1zM497 403h1v1h-1zM511 403h2v1h-2zM520 403h1v1h-1zM432 404h2v1h-2zM465 404h1v1h-1zM467 404h1v1h-1zM501 404h1v1h-1zM525 404h1v1h-1zM438 405h2v1h-2zM466 405h1v1h-1zM474 405h1v1h-1zM511 405h2v1h-2zM436 406h2v1h-2zM451 406h1v1h-1zM476 406h2v1h-2zM481 406h2v1h-2zM486 406h1v1h-1zM489 406h1v1h-1zM495 406h1v1h-1zM507 406h2v1h-2zM513 406h2v1h-2zM502 407h1v1h-1zM511 407h1v1h-1zM443 408h1v1h-1zM475 408h2v1h-2zM478 408h1v1h-1zM494 408h1v1h-1zM445 409h2v1h-2zM456 409h1v1h-1zM469 409h1v1h-1zM494 409h1v1h-1zM489 410h2v1h-2zM511 410h1v1h-1zM475 411h1v1h-1zM503 411h2v1h-2zM435 412h1v1h-1zM439 412h1v1h-1zM446 412h1v1h-1zM454 412h1v1h-1zM458 412h1v1h-1zM471 412h1v1h-1zM476 412h2v1h-2zM481 412h2v1h-2zM487 412h1v1h-1zM494 412h1v1h-1zM498 412h2v1h-2zM508 412h2v1h-2zM513 412h1v1h-1zM485 413h1v1h-1zM433 414h1v1h-1zM477 414h1v1h-1zM481 414h2v1h-2zM432 415h1v1h-1zM463 415h1v1h-1zM493 415h1v1h-1zM430 416h2v1h-2zM470 416h1v1h-1zM479 416h1v1h-1zM509 416h2v1h-2zM526 416h1v1h-1zM467 417h1v1h-1zM441 418h2v1h-2zM505 418h1v1h-1zM476 419h1v1h-1zM481 419h1v1h-1zM499 419h2v1h-2zM431 420h2v1h-2zM441 420h1v1h-1zM454 420h1v1h-1zM469 420h1v1h-1zM457 421h2v1h-2zM462 421h1v1h-1zM465 421h1v1h-1zM477 421h1v1h-1zM492 421h2v1h-2zM502 421h2v1h-2zM508 421h2v1h-2zM445 422h1v1h-1zM456 422h2v1h-2zM472 422h2v1h-2zM500 422h2v1h-2zM435 423h2v1h-2zM454 423h2v1h-2zM477 423h1v1h-1zM491 423h1v1h-1zM497 423h2v1h-2zM504 423h1v1h-1zM538 423h1v1h-1zM432 424h2v1h-2zM469 424h1v1h-1zM496 424h1v1h-1zM431 425h1v1h-1zM447 425h2v1h-2zM452 425h2v1h-2zM463 425h2v1h-2zM471 425h1v1h-1zM498 425h2v1h-2zM509 425h1v1h-1zM516 425h2v1h-2zM464 426h2v1h-2zM477 426h1v1h-1zM499 426h1v1h-1zM435 427h1v1h-1zM446 427h1v1h-1zM449 427h1v1h-1zM479 427h1v1h-1zM507 427h1v1h-1zM524 427h1v1h-1zM432 428h1v1h-1zM483 428h2v1h-2zM486 428h1v1h-1zM501 428h1v1h-1zM503 428h2v1h-2zM432 429h1v1h-1zM448 429h1v1h-1zM453 429h1v1h-1zM466 429h1v1h-1zM490 429h2v1h-2zM493 429h1v1h-1zM516 429h2v1h-2zM430 430h2v1h-2zM445 430h1v1h-1zM457 430h2v1h-2zM479 430h2v1h-2zM490 430h1v1h-1zM508 430h1v1h-1zM515 430h1v1h-1zM518 430h1v1h-1zM431 431h2v1h-2zM434 431h1v1h-1zM442 431h2v1h-2zM468 431h2v1h-2zM490 431h1v1h-1zM509 431h1v1h-1zM440 432h1v1h-1zM444 432h1v1h-1zM480 432h1v1h-1zM492 432h1v1h-1zM518 432h2v1h-2zM442 433h1v1h-1zM444 433h1v1h-1zM490 433h1v1h-1zM495 433h1v1h-1zM534 433h1v1h-1zM439 434h1v1h-1zM488 434h1v1h-1zM491 434h2v1h-2zM448 435h1v1h-1zM484 435h2v1h-2zM431 436h1v1h-1zM441 436h1v1h-1zM444 436h2v1h-2zM472 436h1v1h-1zM507 436h2v1h-2zM513 436h1v1h-1zM434 437h2v1h-2zM477 437h1v1h-1zM436 438h1v1h-1zM443 438h1v1h-1zM463 438h2v1h-2zM487 438h1v1h-1zM433 439h1v1h-1zM439 439h1v1h-1zM441 439h2v1h-2zM473 439h1v1h-1zM478 439h2v1h-2zM481 439h1v1h-1zM527 439h1v1h-1zM475 440h1v1h-1zM480 440h1v1h-1zM486 440h1v1h-1zM496 440h1v1h-1zM501 440h2v1h-2zM431 441h1v1h-1zM439 441h1v1h-1zM453 441h2v1h-2zM463 441h1v1h-1zM502 441h1v1h-1zM515 441h1v1h-1zM470 442h2v1h-2zM478 442h1v1h-1zM484 442h2v1h-2zM465 443h1v1h-1zM488 443h1v1h-1zM495 443h1v1h-1zM452 444h1v1h-1zM465 444h1v1h-1zM478 444h1v1h-1zM481 444h1v1h-1zM490 444h2v1h-2zM500 444h1v1h-1zM506 444h2v1h-2zM443 445h2v1h-2zM467 445h2v1h-2zM476 445h1v1h-1zM484 445h1v1h-1zM488 445h1v1h-1zM491 445h1v1h-1zM515 445h2v1h-2zM436 446h2v1h-2zM441 446h1v1h-1zM469 446h1v1h-1zM497 446h1v1h-1zM508 446h2v1h-2zM511 446h1v1h-1zM516 446h2v1h-2zM534 446h1v1h-1zM432 447h1v1h-1zM469 447h1v1h-1zM506 447h2v1h-2zM509 447h2v1h-2zM431 448h1v1h-1zM453 448h1v1h-1zM456 448h1v1h-1zM462 448h1v1h-1zM468 448h1v1h-1zM486 448h1v1h-1zM501 448h1v1h-1zM508 448h1v1h-1zM524 448h1v1h-1zM534 448h2v1h-2zM430 449h1v1h-1zM463 449h1v1h-1zM485 449h1v1h-1zM498 449h1v1h-1zM501 449h1v1h-1zM510 449h1v1h-1zM512 449h2v1h-2zM432 450h1v1h-1zM469 450h1v1h-1zM477 450h1v1h-1zM498 450h2v1h-2zM430 451h2v1h-2zM449 451h2v1h-2zM457 451h1v1h-1zM460 451h2v1h-2zM467 451h2v1h-2zM470 451h1v1h-1zM494 451h1v1h-1zM447 452h1v1h-1zM468 452h1v1h-1zM473 452h2v1h-2zM488 452h1v1h-1zM508 452h1v1h-1zM511 452h1v1h-1zM524 452h1v1h-1zM472 453h2v1h-2zM478 453h1v1h-1zM496 453h1v1h-1zM500 453h1v1h-1zM522 453h1v1h-1zM463 454h1v1h-1zM487 454h2v1h-2zM508 454h1v1h-1zM435 455h1v1h-1zM446 455h1v1h-1zM459 455h2v1h-2zM478 455h2v1h-2zM490 455h1v1h-1zM499 455h1v1h-1zM506 455h1v1h-1zM510 455h1v1h-1zM512 455h1v1h-1zM444 456h2v1h-2zM533 456h1v1h-1zM431 458h1v1h-1zM442 458h1v1h-1zM455 458h1v1h-1zM466 458h2v1h-2zM483 458h2v1h-2zM486 458h1v1h-1zM499 458h1v1h-1zM501 458h1v1h-1zM507 458h1v1h-1zM524 458h2v1h-2zM540 458h1v1h-1zM437 459h1v1h-1zM452 459h1v1h-1zM493 459h1v1h-1zM511 459h1v1h-1zM434 460h2v1h-2zM470 460h1v1h-1zM509 460h1v1h-1zM544 460h1v1h-1zM482 461h1v1h-1zM433 462h1v1h-1zM435 462h2v1h-2zM449 462h2v1h-2zM460 462h2v1h-2zM474 462h1v1h-1zM502 462h2v1h-2zM508 462h1v1h-1zM516 462h1v1h-1zM526 462h2v1h-2zM437 463h1v1h-1zM442 463h1v1h-1zM447 463h1v1h-1zM475 463h1v1h-1zM477 463h1v1h-1zM480 463h1v1h-1zM501 463h1v1h-1zM510 463h1v1h-1zM456 464h1v1h-1zM463 464h2v1h-2zM468 464h1v1h-1zM476 464h1v1h-1zM491 464h1v1h-1zM494 464h1v1h-1zM498 464h2v1h-2zM510 464h1v1h-1zM514 464h1v1h-1zM525 464h1v1h-1zM431 465h1v1h-1zM435 465h1v1h-1zM461 465h1v1h-1zM469 465h2v1h-2zM488 465h2v1h-2zM500 465h1v1h-1zM521 465h1v1h-1zM433 466h2v1h-2zM439 466h1v1h-1zM471 466h2v1h-2zM478 466h2v1h-2zM489 466h1v1h-1zM505 466h2v1h-2zM493 467h2v1h-2zM499 467h1v1h-1zM503 467h2v1h-2zM442 468h1v1h-1zM448 468h1v1h-1zM454 468h2v1h-2zM467 468h2v1h-2zM477 468h1v1h-1zM481 468h1v1h-1zM493 468h1v1h-1zM495 468h2v1h-2zM504 468h1v1h-1zM533 468h1v1h-1zM442 469h1v1h-1zM447 469h1v1h-1zM456 469h1v1h-1zM471 469h1v1h-1zM478 469h1v1h-1zM485 469h1v1h-1zM502 469h1v1h-1zM518 469h1v1h-1zM540 469h1v1h-1zM476 470h1v1h-1zM497 470h1v1h-1zM541 470h1v1h-1zM444 471h1v1h-1zM462 471h1v1h-1zM525 471h1v1h-1zM435 472h1v1h-1zM452 472h1v1h-1zM466 472h2v1h-2zM493 472h1v1h-1zM503 472h1v1h-1zM506 472h1v1h-1zM445 473h2v1h-2zM494 473h1v1h-1zM509 473h1v1h-1zM440 474h1v1h-1zM447 474h1v1h-1zM465 474h2v1h-2zM474 474h2v1h-2zM482 474h1v1h-1zM487 474h2v1h-2zM494 474h1v1h-1zM496 474h1v1h-1zM503 474h1v1h-1zM441 475h1v1h-1zM486 475h2v1h-2zM501 475h1v1h-1zM452 476h1v1h-1zM461 476h1v1h-1zM504 476h1v1h-1zM446 477h1v1h-1zM450 477h1v1h-1zM457 477h2v1h-2zM465 477h1v1h-1zM487 477h1v1h-1zM493 477h1v1h-1zM518 477h2v1h-2zM431 478h1v1h-1zM446 478h1v1h-1zM458 478h2v1h-2zM471 478h1v1h-1zM490 478h1v1h-1zM494 478h2v1h-2zM506 478h2v1h-2zM511 478h1v1h-1zM514 478h1v1h-1zM432 480h1v1h-1zM451 480h1v1h-1zM453 480h1v1h-1zM506 480h1v1h-1zM534 480h1v1h-1zM431 481h1v1h-1zM437 481h2v1h-2zM450 481h1v1h-1zM452 481h1v1h-1zM470 481h1v1h-1zM479 481h1v1h-1zM484 481h1v1h-1zM496 481h1v1h-1zM530 481h1v1h-1zM442 482h2v1h-2zM448 482h2v1h-2zM463 482h1v1h-1zM466 482h1v1h-1zM477 482h1v1h-1zM484 482h2v1h-2zM489 482h1v1h-1zM491 482h1v1h-1zM525 482h1v1h-1zM431 483h1v1h-1zM456 483h2v1h-2zM473 483h2v1h-2zM494 483h1v1h-1zM503 483h2v1h-2zM519 483h2v1h-2zM430 484h1v1h-1zM465 484h1v1h-1zM514 484h1v1h-1zM522 484h1v1h-1zM527 484h1v1h-1zM433 485h1v1h-1zM438 485h2v1h-2zM456 485h1v1h-1zM478 485h1v1h-1zM491 485h2v1h-2zM506 485h2v1h-2zM437 486h2v1h-2zM441 486h1v1h-1zM467 486h1v1h-1zM476 486h1v1h-1zM496 486h1v1h-1zM466 487h1v1h-1zM508 487h2v1h-2zM453 488h2v1h-2zM464 488h2v1h-2zM473 488h2v1h-2zM483 488h1v1h-1zM496 488h1v1h-1zM518 488h1v1h-1zM454 490h1v1h-1zM466 490h1v1h-1zM471 490h1v1h-1zM493 490h1v1h-1zM524 490h2v1h-2zM453 491h2v1h-2zM456 491h2v1h-2zM474 491h2v1h-2zM481 491h1v1h-1zM507 491h2v1h-2zM526 491h1v1h-1zM474 492h1v1h-1zM500 492h2v1h-2zM509 492h1v1h-1zM523 492h1v1h-1zM544 492h1v1h-1zM459 493h2v1h-2zM493 493h2v1h-2zM503 493h2v1h-2zM432 494h2v1h-2zM449 494h1v1h-1zM466 494h1v1h-1zM475 494h1v1h-1zM482 494h1v1h-1zM434 495h1v1h-1zM465 495h1v1h-1zM467 495h2v1h-2zM484 495h2v1h-2zM490 495h2v1h-2zM500 495h2v1h-2zM506 495h2v1h-2zM517 495h1v1h-1zM524 495h1v1h-1zM444 496h1v1h-1zM446 496h2v1h-2zM451 496h1v1h-1zM464 496h1v1h-1zM477 496h2v1h-2zM482 496h1v1h-1zM501 496h1v1h-1zM503 496h2v1h-2zM435 497h2v1h-2zM475 497h1v1h-1zM479 497h2v1h-2zM507 497h1v1h-1zM433 498h2v1h-2zM455 498h1v1h-1zM478 498h1v1h-1zM494 498h2v1h-2zM508 498h1v1h-1zM431 499h2v1h-2zM438 499h2v1h-2zM484 499h2v1h-2zM506 499h2v1h-2zM435 500h1v1h-1zM440 500h1v1h-1zM465 500h2v1h-2zM496 500h1v1h-1zM510 500h1v1h-1zM432 501h1v1h-1zM448 501h2v1h-2zM485 501h1v1h-1zM505 501h2v1h-2zM457 502h1v1h-1zM469 502h1v1h-1zM471 502h1v1h-1zM486 502h2v1h-2zM495 502h1v1h-1zM505 502h1v1h-1zM513 502h2v1h-2zM432 503h1v1h-1zM461 503h1v1h-1zM467 503h1v1h-1zM471 503h1v1h-1zM488 503h1v1h-1zM499 503h1v1h-1zM524 503h1v1h-1zM441 504h1v1h-1zM448 504h2v1h-2zM454 504h1v1h-1zM460 504h2v1h-2zM508 504h2v1h-2zM517 504h1v1h-1zM452 505h2v1h-2zM466 505h1v1h-1zM476 505h1v1h-1zM478 505h1v1h-1zM511 505h2v1h-2zM431 506h1v1h-1zM439 506h1v1h-1zM441 506h1v1h-1zM449 506h1v1h-1zM480 506h2v1h-2zM489 506h1v1h-1zM497 506h2v1h-2zM502 506h1v1h-1zM526 506h1v1h-1zM446 507h2v1h-2zM449 507h1v1h-1zM456 507h2v1h-2zM462 507h1v1h-1zM472 507h2v1h-2zM481 507h1v1h-1zM493 507h2v1h-2zM511 507h1v1h-1zM513 507h1v1h-1zM524 507h2v1h-2zM431 508h1v1h-1zM455 508h2v1h-2zM461 508h2v1h-2zM471 508h1v1h-1zM482 508h2v1h-2zM495 508h2v1h-2zM508 508h1v1h-1zM440 509h1v1h-1zM446 509h1v1h-1zM454 509h1v1h-1zM456 509h1v1h-1zM493 509h1v1h-1zM496 509h1v1h-1zM478 510h2v1h-2zM502 510h1v1h-1zM537 510h2v1h-2zM440 511h1v1h-1zM446 511h2v1h-2zM454 511h2v1h-2zM482 511h2v1h-2zM447 512h2v1h-2zM466 512h1v1h-1zM470 512h1v1h-1zM480 512h1v1h-1zM501 512h1v1h-1zM518 512h1v1h-1zM460 513h1v1h-1zM476 513h1v1h-1zM490 513h2v1h-2zM434 514h1v1h-1zM439 514h2v1h-2zM446 514h2v1h-2zM458 514h1v1h-1zM475 514h1v1h-1zM485 514h2v1h-2zM495 514h2v1h-2zM521 514h1v1h-1zM525 514h1v1h-1zM437 515h1v1h-1zM441 515h1v1h-1zM459 515h1v1h-1zM461 515h1v1h-1zM466 515h1v1h-1zM469 515h1v1h-1zM474 515h2v1h-2zM500 515h1v1h-1zM510 515h1v1h-1zM439 516h2v1h-2zM467 516h2v1h-2zM496 516h1v1h-1zM499 516h1v1h-1zM463 517h1v1h-1zM501 517h2v1h-2zM433 518h1v1h-1zM439 518h2v1h-2zM445 518h1v1h-1zM474 518h1v1h-1zM494 518h1v1h-1zM500 518h1v1h-1zM502 518h1v1h-1zM507 518h1v1h-1zM449 519h1v1h-1zM462 519h1v1h-1zM475 519h1v1h-1zM497 519h1v1h-1zM514 519h1v1h-1zM433 520h2v1h-2zM442 520h2v1h-2zM503 520h1v1h-1zM513 520h2v1h-2zM527 520h1v1h-1zM443 522h1v1h-1zM470 522h1v1h-1zM503 522h1v1h-1zM524 522h1v1h-1zM495 523h2v1h-2zM499 523h1v1h-1zM431 524h2v1h-2zM437 524h2v1h-2zM476 524h1v1h-1zM513 524h2v1h-2zM432 525h2v1h-2zM438 525h1v1h-1zM441 525h1v1h-1zM479 525h1v1h-1zM431 526h1v1h-1zM442 526h1v1h-1zM449 526h1v1h-1zM470 526h1v1h-1zM472 526h2v1h-2zM508 526h1v1h-1zM451 527h1v1h-1zM434 528h1v1h-1zM439 528h2v1h-2zM462 528h2v1h-2zM477 528h1v1h-1zM483 528h1v1h-1zM479 529h1v1h-1zM512 529h2v1h-2zM439 530h1v1h-1zM459 530h2v1h-2zM486 530h1v1h-1zM525 530h1v1h-1zM467 531h2v1h-2zM496 531h1v1h-1zM498 531h1v1h-1zM505 531h1v1h-1zM527 531h2v1h-2zM449 532h1v1h-1zM498 532h2v1h-2zM505 532h2v1h-2zM520 532h2v1h-2zM433 533h1v1h-1zM491 533h2v1h-2zM509 533h2v1h-2zM440 534h1v1h-1zM451 534h1v1h-1zM463 534h2v1h-2zM468 534h2v1h-2zM504 534h2v1h-2zM538 534h1v1h-1zM433 535h2v1h-2zM442 535h1v1h-1zM461 535h1v1h-1zM469 535h1v1h-1zM505 535h1v1h-1zM525 535h1v1h-1zM433 536h2v1h-2zM441 536h2v1h-2zM445 536h1v1h-1zM452 536h2v1h-2zM478 536h1v1h-1zM481 536h1v1h-1zM488 536h2v1h-2zM497 536h1v1h-1zM440 537h2v1h-2zM451 537h2v1h-2zM454 537h1v1h-1zM485 537h1v1h-1zM501 537h1v1h-1zM450 538h1v1h-1zM454 538h1v1h-1zM482 538h1v1h-1zM431 539h2v1h-2zM446 539h1v1h-1z"/>
<path fill="#2e74f4" d="M310 62h1v1h-1zM338 61h1v1h-1zM322 63h2v1h-2zM420 62h2v1h-2zM312 75h2v1h-2zM313 74h2v1h-2zM328 75h3v1h-3zM314 77h2v1h-2zM348 77h2v1h-2zM369 77h4v1h-4zM393 77h2v1h-2zM314 78h4v1h-4zM313 79h4v1h-4zM332 79h4v1h-4zM346 78h1v1h-1zM412 78h2v1h-2zM348 79h4v1h-4zM359 79h2v1h-2zM382 79h2v1h-2zM330 95h4v1h-4zM322 95h3v1h-3zM339 96h3v1h-3zM380 96h3v1h-3zM501 96h2v1h-2zM311 96h3v1h-3zM329 99h2v1h-2zM321 110h3v1h-3zM402 110h3v1h-3zM317 111h3v1h-3zM316 110h3v1h-3zM323 111h4v1h-4zM351 111h2v1h-2zM311 113h2v1h-2zM315 113h2v1h-2zM331 113h2v1h-2zM356 113h2v1h-2zM319 113h4v1h-4zM317 125h3v1h-3zM311 126h3v1h-3zM329 126h4v1h-4zM328 127h4v1h-4zM319 128h2v1h-2zM325 127h2v1h-2zM347 127h2v1h-2zM422 127h4v1h-4zM313 128h3v1h-3zM314 129h3v1h-3zM329 129h1v1h-1zM355 128h2v1h-2zM358 128h3v1h-3zM374 128h4v1h-4zM346 129h4v1h-4zM374 129h1v1h-1zM421 129h2v1h-2zM330 131h4v1h-4zM322 144h2v1h-2zM340 144h2v1h-2zM313 145h4v1h-4zM312 144h4v1h-4zM431 146h2v1h-2zM340 147h3v1h-3zM318 156h2v1h-2zM318 155h2v1h-2zM332 155h2v1h-2zM318 158h2v1h-2zM318 159h2v1h-2zM348 158h2v1h-2zM417 158h2v1h-2zM344 159h1v1h-1zM354 159h1v1h-1zM420 159h4v1h-4zM327 160h3v1h-3zM327 159h3v1h-3zM386 160h1v1h-1zM326 161h1v1h-1zM313 163h2v1h-2zM316 161h4v1h-4zM321 172h3v1h-3zM322 173h3v1h-3zM311 173h3v1h-3zM324 173h2v1h-2zM342 174h4v1h-4zM370 174h1v1h-1zM342 175h4v1h-4zM318 176h3v1h-3zM341 176h3v1h-3zM352 176h2v1h-2zM358 176h3v1h-3zM325 179h3v1h-3zM329 177h2v1h-2zM311 187h3v1h-3zM319 189h1v1h-1zM327 189h3v1h-3zM328 188h3v1h-3zM412 189h1v1h-1zM327 190h4v1h-4zM328 191h4v1h-4zM352 191h1v1h-1zM327 193h2v1h-2zM314 202h2v1h-2zM373 202h2v1h-2zM324 203h2v1h-2zM324 204h2v1h-2zM375 203h3v1h-3zM479 203h2v1h-2zM311 204h4v1h-4zM420 204h2v1h-2zM311 205h3v1h-3zM319 204h1v1h-1zM330 205h1v1h-1zM331 204h1v1h-1zM338 205h4v1h-4zM366 216h1v1h-1zM319 227h2v1h-2zM323 227h1v1h-1zM341 227h3v1h-3zM339 228h1v1h-1zM356 229h2v1h-2zM321 230h1v1h-1zM320 229h1v1h-1zM403 230h4v1h-4zM378 240h2v1h-2zM324 241h4v1h-4zM323 242h4v1h-4zM353 242h2v1h-2zM327 243h3v1h-3zM390 243h2v1h-2zM315 244h1v1h-1zM324 244h1v1h-1zM318 251h4v1h-4zM324 252h1v1h-1zM359 252h1v1h-1zM317 253h2v1h-2zM318 252h2v1h-2zM353 253h2v1h-2zM357 253h1v1h-1zM367 253h3v1h-3zM371 253h2v1h-2zM422 253h1v1h-1zM492 253h3v1h-3zM382 254h4v1h-4zM318 256h2v1h-2zM330 255h1v1h-1zM320 263h4v1h-4zM311 264h2v1h-2zM311 263h2v1h-2zM324 264h2v1h-2zM346 264h4v1h-4zM498 264h4v1h-4zM470 266h4v1h-4zM328 267h2v1h-2zM329 266h2v1h-2zM355 267h2v1h-2zM423 267h1v1h-1zM425 267h3v1h-3zM311 275h3v1h-3zM312 274h3v1h-3zM331 275h2v1h-2zM311 277h1v1h-1zM315 276h4v1h-4zM338 277h2v1h-2zM380 277h2v1h-2zM313 278h1v1h-1zM329 278h3v1h-3zM423 278h1v1h-1zM316 279h2v1h-2zM311 285h2v1h-2zM339 286h1v1h-1zM312 286h4v1h-4zM355 287h2v1h-2zM314 289h3v1h-3zM314 290h3v1h-3zM323 289h4v1h-4zM329 289h2v1h-2zM495 289h2v1h-2zM351 297h2v1h-2zM311 300h4v1h-4zM311 301h3v1h-3zM311 302h3v1h-3zM326 301h2v1h-2zM318 317h4v1h-4zM326 317h2v1h-2zM416 328h2v1h-2zM340 349h4v1h-4zM316 351h4v1h-4zM311 367h4v1h-4zM311 366h4v1h-4zM330 376h4v1h-4zM318 378h2v1h-2zM406 384h2v1h-2zM359 385h2v1h-2zM341 386h2v1h-2zM311 394h4v1h-4zM310 395h4v1h-4zM314 395h3v1h-3zM319 395h3v1h-3zM319 394h3v1h-3zM316 396h2v1h-2zM312 403h1v1h-1zM421 419h1v1h-1zM325 427h2v1h-2zM397 431h2v1h-2zM408 431h4v1h-4zM319 438h1v1h-1zM405 439h3v1h-3zM416 440h2v1h-2zM374 441h3v1h-3zM327 442h3v1h-3zM344 446h4v1h-4zM343 445h4v1h-4zM314 447h1v1h-1zM384 447h1v1h-1zM344 448h1v1h-1zM344 447h1v1h-1zM357 447h1v1h-1zM324 451h2v1h-2zM354 451h2v1h-2zM359 451h2v1h-2zM313 453h1v1h-1zM418 452h3v1h-3zM315 453h1v1h-1zM315 452h1v1h-1zM328 454h1v1h-1zM358 453h1v1h-1zM359 452h1v1h-1zM316 454h3v1h-3zM315 453h3v1h-3zM325 454h2v1h-2zM339 454h3v1h-3zM350 454h3v1h-3zM351 455h4v1h-4zM350 456h4v1h-4zM368 455h2v1h-2zM416 455h2v1h-2zM425 455h3v1h-3zM327 457h2v1h-2zM320 457h4v1h-4zM338 457h1v1h-1zM341 457h3v1h-3zM342 456h3v1h-3zM350 457h1v1h-1zM342 457h2v1h-2zM331 458h2v1h-2zM344 459h3v1h-3zM354 459h2v1h-2zM400 459h1v1h-1zM348 461h2v1h-2zM315 461h3v1h-3zM316 460h3v1h-3zM327 461h1v1h-1zM327 460h1v1h-1zM348 461h4v1h-4zM356 461h1v1h-1zM342 462h2v1h-2zM352 464h2v1h-2zM352 463h2v1h-2zM342 465h2v1h-2zM320 466h3v1h-3zM358 466h1v1h-1zM339 468h4v1h-4zM344 468h4v1h-4zM345 467h4v1h-4zM312 470h2v1h-2zM338 469h2v1h-2zM341 469h4v1h-4zM340 470h4v1h-4zM359 468h3v1h-3zM311 469h1v1h-1zM324 470h1v1h-1zM325 469h1v1h-1zM345 470h4v1h-4zM344 471h4v1h-4zM355 469h4v1h-4zM318 472h2v1h-2zM317 473h2v1h-2zM424 472h2v1h-2zM314 474h1v1h-1zM344 474h1v1h-1zM376 473h4v1h-4zM343 473h3v1h-3zM355 474h1v1h-1zM324 475h2v1h-2zM317 477h1v1h-1zM346 476h4v1h-4zM346 475h4v1h-4zM344 478h3v1h-3zM351 477h1v1h-1zM360 477h4v1h-4zM359 478h4v1h-4zM415 478h2v1h-2zM354 479h2v1h-2zM357 484h1v1h-1zM378 483h2v1h-2zM359 485h4v1h-4zM468 484h2v1h-2zM341 487h2v1h-2zM430 486h1v1h-1zM360 488h2v1h-2zM346 488h1v1h-1zM346 487h1v1h-1zM349 488h2v1h-2zM349 489h2v1h-2zM353 489h1v1h-1zM341 491h3v1h-3zM354 490h4v1h-4zM353 489h4v1h-4zM369 490h1v1h-1zM315 492h1v1h-1zM347 493h1v1h-1zM359 495h3v1h-3zM385 495h3v1h-3zM353 496h2v1h-2zM359 497h4v1h-4zM311 498h2v1h-2zM315 498h4v1h-4zM343 498h4v1h-4zM351 498h2v1h-2zM350 499h2v1h-2zM338 499h2v1h-2zM337 498h2v1h-2zM314 499h2v1h-2zM338 501h4v1h-4zM353 499h1v1h-1zM408 501h3v1h-3zM360 502h4v1h-4zM328 503h2v1h-2zM340 503h4v1h-4zM344 506h1v1h-1zM347 506h3v1h-3zM402 507h3v1h-3zM351 507h2v1h-2zM411 508h3v1h-3zM345 509h4v1h-4zM345 510h4v1h-4zM361 509h4v1h-4zM341 511h2v1h-2zM341 512h2v1h-2zM358 512h1v1h-1zM366 511h2v1h-2zM352 511h3v1h-3zM416 512h4v1h-4zM340 512h2v1h-2zM359 513h2v1h-2zM359 514h2v1h-2zM351 514h1v1h-1zM352 515h1v1h-1zM390 514h4v1h-4zM403 516h3v1h-3zM332 517h4v1h-4zM351 516h3v1h-3zM360 517h1v1h-1zM316 518h2v1h-2zM352 517h2v1h-2zM361 519h4v1h-4zM391 518h3v1h-3zM423 518h3v1h-3zM328 519h4v1h-4zM357 519h1v1h-1zM356 519h1v1h-1zM330 521h1v1h-1zM329 520h1v1h-1zM338 520h3v1h-3zM373 521h1v1h-1zM346 522h4v1h-4zM346 523h4v1h-4zM355 522h2v1h-2zM370 522h4v1h-4zM349 524h2v1h-2zM340 525h2v1h-2zM341 524h2v1h-2zM343 526h4v1h-4zM357 525h2v1h-2zM381 525h4v1h-4zM352 526h2v1h-2zM321 527h2v1h-2zM355 527h1v1h-1zM355 526h1v1h-1zM358 527h1v1h-1zM357 526h1v1h-1zM361 528h4v1h-4zM426 528h1v1h-1zM338 529h3v1h-3zM338 530h3v1h-3zM348 530h1v1h-1zM354 528h2v1h-2zM346 530h3v1h-3zM350 530h1v1h-1zM349 529h1v1h-1zM325 531h1v1h-1zM325 532h1v1h-1zM340 530h3v1h-3zM347 531h4v1h-4zM377 531h1v1h-1zM385 531h4v1h-4zM465 531h1v1h-1zM353 532h2v1h-2zM357 531h2v1h-2zM382 532h3v1h-3zM349 532h1v1h-1zM352 533h2v1h-2zM342 534h2v1h-2zM361 534h4v1h-4zM360 533h4v1h-4zM314 536h2v1h-2zM333 537h2v1h-2zM344 536h2v1h-2zM344 535h2v1h-2zM463 536h2v1h-2zM360 537h2v1h-2zM312 538h1v1h-1zM311 539h1v1h-1zM338 539h2v1h-2zM361 537h1v1h-1zM350 539h3v1h-3zM354 539h2v1h-2zM479 539h4v1h-4zM368 132h2v1h-2zM328 425h2v1h-2zM390 130h1v1h-1zM412 484h2v1h-2zM327 340h1v1h-1zM313 127h1v1h-1zM319 539h2v1h-2zM353 183h2v1h-2zM314 80h2v1h-2zM370 72h1v1h-1zM369 98h1v1h-1zM317 227h2v1h-2zM383 89h1v1h-1zM399 79h1v1h-1zM314 96h2v1h-2zM320 83h2v1h-2zM315 270h1v1h-1zM359 201h2v1h-2zM422 68h1v1h-1zM318 276h1v1h-1zM404 414h2v1h-2zM314 525h1v1h-1zM313 180h1v1h-1zM327 65h1v1h-1zM333 474h2v1h-2zM374 302h2v1h-2zM317 102h2v1h-2zM324 410h1v1h-1zM396 279h2v1h-2zM321 322h1v1h-1zM387 187h1v1h-1zM338 250h2v1h-2zM376 88h1v1h-1zM392 140h1v1h-1zM325 222h1v1h-1zM358 98h2v1h-2zM327 70h1v1h-1zM323 64h1v1h-1zM324 305h1v1h-1zM311 475h1v1h-1zM371 147h1v1h-1zM421 146h1v1h-1zM373 351h1v1h-1zM315 268h2v1h-2zM353 128h2v1h-2zM316 334h1v1h-1zM344 173h2v1h-2zM393 235h1v1h-1zM392 445h2v1h-2zM386 132h1v1h-1zM322 199h2v1h-2zM392 190h2v1h-2zM326 82h1v1h-1zM404 534h2v1h-2zM326 101h2v1h-2zM319 428h2v1h-2zM332 287h2v1h-2zM391 181h1v1h-1zM358 89h1v1h-1zM322 219h2v1h-2zM322 400h1v1h-1zM314 309h1v1h-1zM328 278h2v1h-2zM376 212h1v1h-1zM372 156h2v1h-2zM357 267h2v1h-2zM319 278h1v1h-1zM325 169h2v1h-2zM322 235h1v1h-1zM390 123h2v1h-2zM339 207h2v1h-2zM326 66h1v1h-1zM330 155h2v1h-2zM320 497h2v1h-2zM403 191h1v1h-1zM328 259h1v1h-1zM320 103h2v1h-2zM350 275h1v1h-1zM328 136h1v1h-1zM330 281h1v1h-1zM369 460h2v1h-2zM317 165h2v1h-2zM327 192h1v1h-1zM374 272h2v1h-2zM405 220h2v1h-2zM333 87h2v1h-2zM320 268h1v1h-1zM327 436h1v1h-1zM332 223h1v1h-1zM311 218h1v1h-1zM312 263h1v1h-1zM314 181h2v1h-2zM330 111h2v1h-2zM361 231h1v1h-1zM328 101h2v1h-2zM322 94h1v1h-1zM311 275h1v1h-1zM315 86h2v1h-2zM331 201h2v1h-2zM384 147h1v1h-1zM318 100h2v1h-2zM312 321h2v1h-2zM369 101h1v1h-1zM411 263h2v1h-2zM321 113h2v1h-2zM322 105h1v1h-1zM357 221h1v1h-1zM330 267h1v1h-1zM315 369h2v1h-2zM318 148h1v1h-1zM322 184h2v1h-2zM314 123h1v1h-1zM329 86h1v1h-1zM313 102h2v1h-2zM331 188h1v1h-1zM365 266h2v1h-2zM395 194h1v1h-1zM370 456h2v1h-2zM382 149h2v1h-2zM330 228h1v1h-1zM277 158h1v1h-1zM282 158h1v1h-1zM289 158h1v1h-1zM278 216h1v1h-1zM283 241h1v1h-1zM288 276h1v1h-1z"/>
<path fill="#1238ec" d="M311 61h1v1h-1zM321 62h2v1h-2zM318 75h4v1h-4zM330 75h4v1h-4zM329 76h3v1h-3zM332 78h4v1h-4zM339 78h2v1h-2zM353 78h3v1h-3zM481 78h2v1h-2zM327 79h1v1h-1zM414 79h1v1h-1zM331 94h4v1h-4zM330 95h2v1h-2zM338 95h1v1h-1zM357 95h2v1h-2zM325 96h2v1h-2zM355 96h4v1h-4zM367 96h2v1h-2zM417 96h4v1h-4zM311 97h3v1h-3zM350 97h1v1h-1zM328 110h2v1h-2zM489 110h2v1h-2zM501 110h3v1h-3zM349 112h2v1h-2zM320 114h4v1h-4zM321 125h4v1h-4zM320 126h2v1h-2zM327 126h1v1h-1zM317 127h2v1h-2zM320 127h2v1h-2zM328 127h1v1h-1zM330 127h4v1h-4zM428 127h4v1h-4zM329 128h1v1h-1zM311 129h2v1h-2zM320 129h2v1h-2zM324 131h3v1h-3zM314 144h3v1h-3zM350 147h3v1h-3zM371 147h4v1h-4zM331 156h2v1h-2zM327 157h4v1h-4zM330 158h2v1h-2zM420 158h2v1h-2zM312 159h1v1h-1zM331 159h2v1h-2zM313 162h2v1h-2zM316 162h4v1h-4zM324 162h2v1h-2zM332 172h2v1h-2zM332 174h2v1h-2zM348 174h3v1h-3zM432 174h3v1h-3zM311 175h2v1h-2zM324 175h4v1h-4zM380 176h2v1h-2zM326 178h3v1h-3zM330 178h2v1h-2zM319 188h1v1h-1zM317 190h4v1h-4zM386 191h1v1h-1zM320 192h1v1h-1zM348 203h2v1h-2zM316 205h2v1h-2zM319 205h1v1h-1zM380 205h3v1h-3zM321 215h2v1h-2zM327 215h3v1h-3zM355 217h3v1h-3zM332 218h3v1h-3zM311 226h2v1h-2zM326 227h4v1h-4zM366 227h3v1h-3zM425 227h2v1h-2zM391 240h2v1h-2zM332 241h4v1h-4zM376 241h2v1h-2zM331 242h3v1h-3zM348 243h4v1h-4zM358 243h4v1h-4zM331 244h4v1h-4zM347 252h1v1h-1zM325 253h1v1h-1zM411 253h1v1h-1zM365 254h3v1h-3zM315 255h2v1h-2zM318 255h2v1h-2zM324 255h1v1h-1zM340 255h4v1h-4zM311 263h3v1h-3zM311 265h2v1h-2zM314 265h4v1h-4zM324 265h2v1h-2zM423 266h2v1h-2zM357 275h4v1h-4zM325 276h2v1h-2zM315 277h4v1h-4zM352 277h4v1h-4zM318 278h4v1h-4zM311 287h4v1h-4zM315 288h2v1h-2zM365 289h2v1h-2zM350 308h2v1h-2zM317 309h1v1h-1zM325 318h2v1h-2zM348 320h3v1h-3zM318 332h2v1h-2zM492 349h4v1h-4zM324 355h1v1h-1zM331 357h2v1h-2zM331 360h2v1h-2zM328 366h1v1h-1zM332 379h1v1h-1zM328 387h3v1h-3zM313 408h2v1h-2zM327 417h2v1h-2zM317 425h1v1h-1zM370 434h1v1h-1zM351 446h4v1h-4zM356 448h1v1h-1zM313 452h1v1h-1zM340 452h3v1h-3zM344 452h2v1h-2zM353 452h3v1h-3zM328 453h1v1h-1zM341 453h2v1h-2zM343 454h2v1h-2zM357 454h4v1h-4zM359 455h4v1h-4zM381 455h3v1h-3zM328 456h2v1h-2zM343 456h1v1h-1zM353 456h2v1h-2zM355 457h1v1h-1zM343 458h2v1h-2zM352 458h1v1h-1zM314 459h4v1h-4zM319 459h2v1h-2zM326 459h3v1h-3zM330 459h2v1h-2zM341 459h1v1h-1zM348 459h2v1h-2zM472 459h4v1h-4zM347 460h2v1h-2zM352 460h1v1h-1zM354 460h2v1h-2zM351 462h2v1h-2zM360 464h4v1h-4zM427 465h2v1h-2zM341 466h1v1h-1zM400 466h2v1h-2zM325 467h3v1h-3zM340 467h4v1h-4zM381 467h2v1h-2zM385 467h2v1h-2zM313 469h2v1h-2zM349 469h3v1h-3zM358 469h3v1h-3zM312 470h1v1h-1zM350 470h1v1h-1zM356 470h4v1h-4zM345 471h2v1h-2zM345 472h2v1h-2zM315 473h1v1h-1zM343 473h1v1h-1zM352 473h1v1h-1zM357 473h2v1h-2zM344 474h3v1h-3zM419 474h2v1h-2zM338 475h2v1h-2zM361 475h4v1h-4zM318 476h1v1h-1zM343 477h3v1h-3zM353 477h4v1h-4zM339 478h1v1h-1zM343 478h2v1h-2zM404 478h1v1h-1zM344 479h1v1h-1zM426 480h2v1h-2zM347 482h2v1h-2zM342 483h3v1h-3zM356 483h1v1h-1zM361 483h2v1h-2zM360 484h4v1h-4zM361 485h4v1h-4zM311 486h4v1h-4zM341 486h2v1h-2zM344 486h1v1h-1zM338 487h2v1h-2zM344 487h2v1h-2zM361 487h2v1h-2zM352 488h1v1h-1zM359 488h2v1h-2zM360 489h4v1h-4zM342 490h3v1h-3zM421 490h3v1h-3zM344 491h3v1h-3zM356 492h3v1h-3zM315 493h1v1h-1zM317 493h2v1h-2zM346 494h1v1h-1zM359 494h3v1h-3zM356 495h2v1h-2zM343 496h1v1h-1zM416 497h1v1h-1zM331 498h2v1h-2zM430 498h2v1h-2zM311 500h2v1h-2zM314 500h2v1h-2zM323 500h1v1h-1zM327 500h4v1h-4zM339 500h4v1h-4zM353 500h1v1h-1zM325 502h3v1h-3zM344 502h2v1h-2zM348 502h4v1h-4zM353 502h3v1h-3zM356 503h2v1h-2zM342 504h2v1h-2zM355 504h2v1h-2zM344 505h4v1h-4zM353 505h3v1h-3zM352 506h1v1h-1zM344 507h2v1h-2zM347 507h3v1h-3zM316 508h3v1h-3zM344 508h3v1h-3zM350 508h1v1h-1zM352 508h2v1h-2zM355 509h2v1h-2zM342 510h1v1h-1zM354 510h2v1h-2zM358 511h1v1h-1zM346 512h1v1h-1zM351 512h3v1h-3zM369 512h2v1h-2zM385 512h2v1h-2zM327 513h2v1h-2zM338 513h1v1h-1zM340 513h2v1h-2zM353 514h1v1h-1zM355 514h1v1h-1zM351 517h3v1h-3zM324 518h3v1h-3zM352 518h2v1h-2zM360 518h4v1h-4zM406 518h1v1h-1zM429 519h4v1h-4zM356 520h1v1h-1zM339 521h3v1h-3zM356 521h2v1h-2zM429 521h4v1h-4zM360 522h2v1h-2zM427 522h3v1h-3zM339 523h1v1h-1zM349 523h2v1h-2zM357 524h2v1h-2zM343 525h4v1h-4zM348 525h2v1h-2zM425 525h4v1h-4zM338 527h2v1h-2zM432 527h2v1h-2zM347 529h1v1h-1zM353 529h2v1h-2zM384 529h3v1h-3zM340 531h3v1h-3zM343 532h4v1h-4zM356 532h2v1h-2zM349 533h1v1h-1zM314 535h2v1h-2zM342 535h1v1h-1zM345 535h4v1h-4zM355 535h1v1h-1zM370 535h3v1h-3zM332 536h2v1h-2zM356 536h2v1h-2zM360 536h4v1h-4zM370 536h3v1h-3zM330 538h3v1h-3zM338 538h2v1h-2zM344 538h4v1h-4zM361 538h1v1h-1zM358 539h4v1h-4z"/>
<rect x="152.80" y="61.50" width="2.0" height="4.3" rx="0.8" fill="#49ffad"/>
<rect x="153.35" y="62.30" width="0.9" height="2.7" fill="#b1ff46" opacity="0.5"/>
<rect x="152.84" y="67.35" width="2.0" height="4.3" rx="0.8" fill="#49ffad"/>
<rect x="153.39" y="68.15" width="0.9" height="2.7" fill="#b1ff46" opacity="0.5"/>
<rect x="152.87" y="73.20" width="2.0" height="4.3" rx="0.8" fill="#49ffad"/>
<rect x="153.42" y="74.00" width="0.9" height="2.7" fill="#b1ff46" opacity="0.5"/>
<rect x="152.91" y="79.05" width="2.0" height="4.3" rx="0.8" fill="#49ffad"/>
<rect x="153.46" y="79.85" width="0.9" height="2.7" fill="#b1ff46" opacity="0.5"/>
<rect x="152.94" y="84.90" width="2.0" height="4.3" rx="0.8" fill="#49ffad"/>
<rect x="153.49" y="85.70" width="0.9" height="2.7" fill="#b1ff46" opacity="0.5"/>
<rect x="152.97" y="90.75" width="2.0" height="4.3" rx="0.8" fill="#49ffad"/>
<rect x="153.52" y="91.55" width="0.9" height="2.7" fill="#b1ff46" opacity="0.5"/>
<rect x="153.01" y="96.60" width="2.0" height="4.3" rx="0.8" fill="#49ffad"/>
<rect x="153.56" y="97.40" width="0.9" height="2.7" fill="#b1ff46" opacity="0.5"/>
<rect x="153.04" y="102.45" width="2.0" height="4.3" rx="0.8" fill="#49ffad"/>
<rect x="153.59" y="103.25" width="0.9" height="2.7" fill="#b1ff46" opacity="0.5"/>
<rect x="153.08" y="108.30" width="2.0" height="4.3" rx="0.8" fill="#49ffad"/>
<rect x="153.63" y="109.10" width="0.9" height="2.7" fill="#b1ff46" opacity="0.5"/>
<rect x="153.11" y="114.15" width="2.0" height="4.3" rx="0.8" fill="#49ffad"/>
<rect x="153.66" y="114.95" width="0.9" height="2.7" fill="#b1ff46" opacity="0.5"/>
<rect x="153.14" y="120.00" width="2.0" height="4.3" rx="0.8" fill="#49ffad"/>
<rect x="153.69" y="120.80" width="0.9" height="2.7" fill="#b1ff46" opacity="0.5"/>
<rect x="153.18" y="125.85" width="2.0" height="4.3" rx="0.8" fill="#49ffad"/>
<rect x="153.73" y="126.65" width="0.9" height="2.7" fill="#b1ff46" opacity="0.5"/>
<rect x="153.21" y="131.70" width="2.0" height="4.3" rx="0.8" fill="#49ffad"/>
<rect x="153.76" y="132.50" width="0.9" height="2.7" fill="#b1ff46" opacity="0.5"/>
<rect x="153.25" y="137.55" width="2.0" height="4.3" rx="0.8" fill="#49ffad"/>
<rect x="153.80" y="138.35" width="0.9" height="2.7" fill="#b1ff46" opacity="0.5"/>
<rect x="153.28" y="143.40" width="2.0" height="4.3" rx="0.8" fill="#49ffad"/>
<rect x="153.83" y="144.20" width="0.9" height="2.7" fill="#b1ff46" opacity="0.5"/>
<rect x="153.32" y="149.25" width="2.0" height="4.3" rx="0.8" fill="#49ffad"/>
<rect x="153.87" y="150.05" width="0.9" height="2.7" fill="#b1ff46" opacity="0.5"/>
<rect x="153.35" y="155.10" width="2.0" height="4.3" rx="0.8" fill="#49ffad"/>
<rect x="153.90" y="155.90" width="0.9" height="2.7" fill="#b1ff46" opacity="0.5"/>
<rect x="153.38" y="160.95" width="2.0" height="4.3" rx="0.8" fill="#49ffad"/>
<rect x="153.93" y="161.75" width="0.9" height="2.7" fill="#b1ff46" opacity="0.5"/>
<rect x="153.42" y="166.80" width="2.0" height="4.3" rx="0.8" fill="#49ffad"/>
<rect x="153.97" y="167.60" width="0.9" height="2.7" fill="#b1ff46" opacity="0.5"/>
<rect x="153.45" y="172.65" width="2.0" height="4.3" rx="0.8" fill="#49ffad"/>
<rect x="154.00" y="173.45" width="0.9" height="2.7" fill="#b1ff46" opacity="0.5"/>
<rect x="153.49" y="178.50" width="2.0" height="4.3" rx="0.8" fill="#49ffad"/>
<rect x="154.04" y="179.30" width="0.9" height="2.7" fill="#b1ff46" opacity="0.5"/>
<rect x="153.52" y="184.35" width="2.0" height="4.3" rx="0.8" fill="#49ffad"/>
<rect x="154.07" y="185.15" width="0.9" height="2.7" fill="#b1ff46" opacity="0.5"/>
<rect x="153.56" y="190.20" width="2.0" height="4.3" rx="0.8" fill="#49ffad"/>
<rect x="154.11" y="191.00" width="0.9" height="2.7" fill="#b1ff46" opacity="0.5"/>
<rect x="153.59" y="196.05" width="2.0" height="4.3" rx="0.8" fill="#49ffad"/>
<rect x="154.14" y="196.85" width="0.9" height="2.7" fill="#b1ff46" opacity="0.5"/>
<rect x="153.62" y="201.90" width="2.0" height="4.3" rx="0.8" fill="#49ffad"/>
<rect x="154.17" y="202.70" width="0.9" height="2.7" fill="#b1ff46" opacity="0.5"/>
<rect x="153.66" y="207.75" width="2.0" height="4.3" rx="0.8" fill="#49ffad"/>
<rect x="154.21" y="208.55" width="0.9" height="2.7" fill="#b1ff46" opacity="0.5"/>
<rect x="153.69" y="213.60" width="2.0" height="4.3" rx="0.8" fill="#49ffad"/>
<rect x="154.24" y="214.40" width="0.9" height="2.7" fill="#b1ff46" opacity="0.5"/>
<rect x="153.73" y="219.45" width="2.0" height="4.3" rx="0.8" fill="#49ffad"/>
<rect x="154.28" y="220.25" width="0.9" height="2.7" fill="#b1ff46" opacity="0.5"/>
<rect x="153.76" y="225.30" width="2.0" height="4.3" rx="0.8" fill="#49ffad"/>
<rect x="154.31" y="226.10" width="0.9" height="2.7" fill="#b1ff46" opacity="0.5"/>
<rect x="153.79" y="231.15" width="2.0" height="4.3" rx="0.8" fill="#49ffad"/>
<rect x="154.34" y="231.95" width="0.9" height="2.7" fill="#b1ff46" opacity="0.5"/>
<rect x="153.83" y="237.00" width="2.0" height="4.3" rx="0.8" fill="#49ffad"/>
<rect x="154.38" y="237.80" width="0.9" height="2.7" fill="#b1ff46" opacity="0.5"/>
<rect x="153.86" y="242.85" width="2.0" height="4.3" rx="0.8" fill="#49ffad"/>
<rect x="154.41" y="243.65" width="0.9" height="2.7" fill="#b1ff46" opacity="0.5"/>
<rect x="153.90" y="248.70" width="2.0" height="4.3" rx="0.8" fill="#49ffad"/>
<rect x="154.45" y="249.50" width="0.9" height="2.7" fill="#b1ff46" opacity="0.5"/>
<rect x="153.93" y="254.55" width="2.0" height="4.3" rx="0.8" fill="#49ffad"/>
<rect x="154.48" y="255.35" width="0.9" height="2.7" fill="#b1ff46" opacity="0.5"/>
<rect x="153.97" y="260.40" width="2.0" height="4.3" rx="0.8" fill="#49ffad"/>
<rect x="154.52" y="261.20" width="0.9" height="2.7" fill="#b1ff46" opacity="0.5"/>
<rect x="154.00" y="266.25" width="2.0" height="4.3" rx="0.8" fill="#49ffad"/>
<rect x="154.55" y="267.05" width="0.9" height="2.7" fill="#b1ff46" opacity="0.5"/>
<rect x="154.03" y="272.10" width="2.0" height="4.3" rx="0.8" fill="#49ffad"/>
<rect x="154.58" y="272.90" width="0.9" height="2.7" fill="#b1ff46" opacity="0.5"/>
<rect x="154.07" y="277.95" width="2.0" height="4.3" rx="0.8" fill="#49ffad"/>
<rect x="154.62" y="278.75" width="0.9" height="2.7" fill="#b1ff46" opacity="0.5"/>
<rect x="154.10" y="283.80" width="2.0" height="4.3" rx="0.8" fill="#49ffad"/>
<rect x="154.65" y="284.60" width="0.9" height="2.7" fill="#b1ff46" opacity="0.5"/>
<rect x="154.14" y="289.65" width="2.0" height="4.3" rx="0.8" fill="#49ffad"/>
<rect x="154.69" y="290.45" width="0.9" height="2.7" fill="#b1ff46" opacity="0.5"/>
<rect x="154.17" y="295.50" width="2.0" height="4.3" rx="0.8" fill="#49ffad"/>
<rect x="154.72" y="296.30" width="0.9" height="2.7" fill="#b1ff46" opacity="0.5"/>
<rect x="154.20" y="301.35" width="2.0" height="4.3" rx="0.8" fill="#49ffad"/>
<rect x="154.75" y="302.15" width="0.9" height="2.7" fill="#b1ff46" opacity="0.5"/>
<rect x="154.24" y="307.20" width="2.0" height="4.3" rx="0.8" fill="#49ffad"/>
<rect x="154.79" y="308.00" width="0.9" height="2.7" fill="#b1ff46" opacity="0.5"/>
<rect x="154.27" y="313.05" width="2.0" height="4.3" rx="0.8" fill="#49ffad"/>
<rect x="154.82" y="313.85" width="0.9" height="2.7" fill="#b1ff46" opacity="0.5"/>
<rect x="154.31" y="318.90" width="2.0" height="4.3" rx="0.8" fill="#49ffad"/>
<rect x="154.86" y="319.70" width="0.9" height="2.7" fill="#b1ff46" opacity="0.5"/>
<rect x="154.34" y="324.75" width="2.0" height="4.3" rx="0.8" fill="#49ffad"/>
<rect x="154.89" y="325.55" width="0.9" height="2.7" fill="#b1ff46" opacity="0.5"/>
<rect x="154.38" y="330.60" width="2.0" height="4.3" rx="0.8" fill="#49ffad"/>
<rect x="154.93" y="331.40" width="0.9" height="2.7" fill="#b1ff46" opacity="0.5"/>
<rect x="154.41" y="336.45" width="2.0" height="4.3" rx="0.8" fill="#49ffad"/>
<rect x="154.96" y="337.25" width="0.9" height="2.7" fill="#b1ff46" opacity="0.5"/>
<rect x="154.44" y="342.30" width="2.0" height="4.3" rx="0.8" fill="#49ffad"/>
<rect x="154.99" y="343.10" width="0.9" height="2.7" fill="#b1ff46" opacity="0.5"/>
<rect x="154.48" y="348.15" width="2.0" height="4.3" rx="0.8" fill="#49ffad"/>
<rect x="155.03" y="348.95" width="0.9" height="2.7" fill="#b1ff46" opacity="0.5"/>
<rect x="154.51" y="354.00" width="2.0" height="4.3" rx="0.8" fill="#49ffad"/>
<rect x="155.06" y="354.80" width="0.9" height="2.7" fill="#b1ff46" opacity="0.5"/>
<rect x="154.55" y="359.85" width="2.0" height="4.3" rx="0.8" fill="#49ffad"/>
<rect x="155.10" y="360.65" width="0.9" height="2.7" fill="#b1ff46" opacity="0.5"/>
<rect x="154.58" y="365.70" width="2.0" height="4.3" rx="0.8" fill="#49ffad"/>
<rect x="155.13" y="366.50" width="0.9" height="2.7" fill="#b1ff46" opacity="0.5"/>
<rect x="154.62" y="371.55" width="2.0" height="4.3" rx="0.8" fill="#49ffad"/>
<rect x="155.17" y="372.35" width="0.9" height="2.7" fill="#b1ff46" opacity="0.5"/>
<rect x="154.65" y="377.40" width="2.0" height="4.3" rx="0.8" fill="#49ffad"/>
<rect x="155.20" y="378.20" width="0.9" height="2.7" fill="#b1ff46" opacity="0.5"/>
<rect x="154.68" y="383.25" width="2.0" height="4.3" rx="0.8" fill="#49ffad"/>
<rect x="155.23" y="384.05" width="0.9" height="2.7" fill="#b1ff46" opacity="0.5"/>
<rect x="154.72" y="389.10" width="2.0" height="4.3" rx="0.8" fill="#49ffad"/>
<rect x="155.27" y="389.90" width="0.9" height="2.7" fill="#b1ff46" opacity="0.5"/>
<rect x="154.75" y="394.95" width="2.0" height="4.3" rx="0.8" fill="#49ffad"/>
<rect x="155.30" y="395.75" width="0.9" height="2.7" fill="#b1ff46" opacity="0.5"/>
<rect x="154.79" y="400.80" width="2.0" height="4.3" rx="0.8" fill="#49ffad"/>
<rect x="155.34" y="401.60" width="0.9" height="2.7" fill="#b1ff46" opacity="0.5"/>
<rect x="154.82" y="406.65" width="2.0" height="4.3" rx="0.8" fill="#49ffad"/>
<rect x="155.37" y="407.45" width="0.9" height="2.7" fill="#b1ff46" opacity="0.5"/>
<rect x="154.85" y="412.50" width="2.0" height="4.3" rx="0.8" fill="#49ffad"/>
<rect x="155.40" y="413.30" width="0.9" height="2.7" fill="#b1ff46" opacity="0.5"/>
<rect x="154.89" y="418.35" width="2.0" height="4.3" rx="0.8" fill="#49ffad"/>
<rect x="155.44" y="419.15" width="0.9" height="2.7" fill="#b1ff46" opacity="0.5"/>
<rect x="154.92" y="424.20" width="2.0" height="4.3" rx="0.8" fill="#49ffad"/>
<rect x="155.47" y="425.00" width="0.9" height="2.7" fill="#b1ff46" opacity="0.5"/>
<rect x="154.96" y="430.05" width="2.0" height="4.3" rx="0.8" fill="#49ffad"/>
<rect x="155.51" y="430.85" width="0.9" height="2.7" fill="#b1ff46" opacity="0.5"/>
<rect x="154.99" y="435.90" width="2.0" height="4.3" rx="0.8" fill="#49ffad"/>
<rect x="155.54" y="436.70" width="0.9" height="2.7" fill="#b1ff46" opacity="0.5"/>
<rect x="155.03" y="441.75" width="2.0" height="4.3" rx="0.8" fill="#49ffad"/>
<rect x="155.58" y="442.55" width="0.9" height="2.7" fill="#b1ff46" opacity="0.5"/>
<rect x="155.06" y="447.60" width="2.0" height="4.3" rx="0.8" fill="#49ffad"/>
<rect x="155.61" y="448.40" width="0.9" height="2.7" fill="#b1ff46" opacity="0.5"/>
<rect x="155.09" y="453.45" width="2.0" height="4.3" rx="0.8" fill="#49ffad"/>
<rect x="155.64" y="454.25" width="0.9" height="2.7" fill="#b1ff46" opacity="0.5"/>
<rect x="155.13" y="459.30" width="2.0" height="4.3" rx="0.8" fill="#49ffad"/>
<rect x="155.68" y="460.10" width="0.9" height="2.7" fill="#b1ff46" opacity="0.5"/>
<rect x="155.16" y="465.15" width="2.0" height="4.3" rx="0.8" fill="#49ffad"/>
<rect x="155.71" y="465.95" width="0.9" height="2.7" fill="#b1ff46" opacity="0.5"/>
<rect x="155.20" y="471.00" width="2.0" height="4.3" rx="0.8" fill="#49ffad"/>
<rect x="155.75" y="471.80" width="0.9" height="2.7" fill="#b1ff46" opacity="0.5"/>
<rect x="155.23" y="476.85" width="2.0" height="4.3" rx="0.8" fill="#49ffad"/>
<rect x="155.78" y="477.65" width="0.9" height="2.7" fill="#b1ff46" opacity="0.5"/>
<rect x="155.27" y="482.70" width="2.0" height="4.3" rx="0.8" fill="#49ffad"/>
<rect x="155.82" y="483.50" width="0.9" height="2.7" fill="#b1ff46" opacity="0.5"/>
<rect x="155.30" y="488.55" width="2.0" height="4.3" rx="0.8" fill="#49ffad"/>
<rect x="155.85" y="489.35" width="0.9" height="2.7" fill="#b1ff46" opacity="0.5"/>
<rect x="155.33" y="494.40" width="2.0" height="4.3" rx="0.8" fill="#49ffad"/>
<rect x="155.88" y="495.20" width="0.9" height="2.7" fill="#b1ff46" opacity="0.5"/>
<rect x="155.37" y="500.25" width="2.0" height="4.3" rx="0.8" fill="#49ffad"/>
<rect x="155.92" y="501.05" width="0.9" height="2.7" fill="#b1ff46" opacity="0.5"/>
<rect x="155.40" y="506.10" width="2.0" height="4.3" rx="0.8" fill="#49ffad"/>
<rect x="155.95" y="506.90" width="0.9" height="2.7" fill="#b1ff46" opacity="0.5"/>
<rect x="155.44" y="511.95" width="2.0" height="4.3" rx="0.8" fill="#49ffad"/>
<rect x="155.99" y="512.75" width="0.9" height="2.7" fill="#b1ff46" opacity="0.5"/>
<rect x="155.47" y="517.80" width="2.0" height="4.3" rx="0.8" fill="#49ffad"/>
<rect x="156.02" y="518.60" width="0.9" height="2.7" fill="#b1ff46" opacity="0.5"/>
<rect x="155.50" y="523.65" width="2.0" height="4.3" rx="0.8" fill="#49ffad"/>
<rect x="156.05" y="524.45" width="0.9" height="2.7" fill="#b1ff46" opacity="0.5"/>
<rect x="155.54" y="529.50" width="2.0" height="4.3" rx="0.8" fill="#49ffad"/>
<rect x="156.09" y="530.30" width="0.9" height="2.7" fill="#b1ff46" opacity="0.5"/>
<rect x="155.57" y="535.35" width="2.0" height="4.3" rx="0.8" fill="#49ffad"/>
<rect x="156.12" y="536.15" width="0.9" height="2.7" fill="#b1ff46" opacity="0.5"/>
<rect x="155.61" y="541.20" width="2.0" height="4.3" rx="0.8" fill="#49ffad"/>
<rect x="156.16" y="542.00" width="0.9" height="2.7" fill="#b1ff46" opacity="0.5"/>
<rect x="155.64" y="547.05" width="2.0" height="4.3" rx="0.8" fill="#49ffad"/>
<rect x="156.19" y="547.85" width="0.9" height="2.7" fill="#b1ff46" opacity="0.5"/>
<polygon points="166.30,61 170.50,61 172.80,540 168.60,540" fill="#49ffad"/>
<polygon points="166.85,61 169.95,61 172.25,540 169.15,540" fill="#b1ff46"/>
<polygon points="167.40,61 169.40,61 171.70,540 169.70,540" fill="#ffa828"/>
<polygon points="182.50,61 184.50,61 187.30,540 185.30,540" fill="#49ffad"/>
<polygon points="190.50,61 194.50,61 196.50,540 192.50,540" fill="#49ffad"/>
<polygon points="191.12,61 193.88,61 195.88,540 193.12,540" fill="#b1ff46"/>
<polygon points="191.75,61 193.25,61 195.25,540 193.75,540" fill="#ffc400"/>
<polygon points="198.20,61 201.60,61 202.80,540 199.40,540" fill="#49ffad"/>
<polygon points="198.53,61 201.28,61 202.47,540 199.72,540" fill="#b1ff46"/>
<polygon points="198.85,61 200.95,61 202.15,540 200.05,540" fill="#ffd000"/>
<polygon points="202.70,61 203.70,61 205.10,540 204.10,540" fill="#49ffad"/>
<polygon points="204.50,61 207.50,61 209.50,540 206.50,540" fill="#49ffad"/>
<polygon points="204.82,61 207.18,61 209.18,540 206.82,540" fill="#b1ff46"/>
<polygon points="205.15,61 206.85,61 208.85,540 207.15,540" fill="#ffd000"/>
<polygon points="210.30,61 213.50,61 216.10,540 212.90,540" fill="#49ffad"/>
<polygon points="210.70,61 213.10,61 215.70,540 213.30,540" fill="#b1ff46"/>
<polygon points="211.10,61 212.70,61 215.30,540 213.70,540" fill="#ffd000"/>
<polygon points="213.6,61 219.8,61 221.7,540 215.8,540" fill="#49ffad"/>
<polygon points="222.0,61 228.6,61 230.6,540 224.0,540" fill="#49ffad"/>
<rect x="216.6" y="264.5" width="1.3" height="3.0" fill="#00c0ff"/>
<rect x="225.0" y="178.6" width="1.3" height="1.6" fill="#00c0ff"/>
<rect x="215.6" y="111.1" width="1.3" height="2.0" fill="#00c0ff"/>
<rect x="225.8" y="330.1" width="1.3" height="2.7" fill="#00c0ff"/>
<rect x="215.4" y="162.3" width="1.3" height="2.0" fill="#00c0ff"/>
<rect x="225.1" y="405.8" width="1.3" height="2.2" fill="#00c0ff"/>
<rect x="216.2" y="298.7" width="1.3" height="2.3" fill="#00c0ff"/>
<rect x="226.5" y="330.3" width="1.3" height="2.7" fill="#00c0ff"/>
<rect x="215.6" y="101.8" width="1.3" height="3.9" fill="#00c0ff"/>
<rect x="226.8" y="382.5" width="1.3" height="1.8" fill="#00c0ff"/>
<rect x="216.4" y="212.6" width="1.3" height="3.2" fill="#00c0ff"/>
<rect x="225.9" y="394.8" width="1.3" height="3.4" fill="#00c0ff"/>
<rect x="216.5" y="442.2" width="1.3" height="3.9" fill="#00c0ff"/>
<rect x="226.2" y="419.8" width="1.3" height="1.6" fill="#00c0ff"/>
<rect x="215.6" y="150.5" width="1.3" height="3.4" fill="#00c0ff"/>
<rect x="225.2" y="311.4" width="1.3" height="3.3" fill="#00c0ff"/>
<rect x="216.7" y="317.6" width="1.3" height="2.2" fill="#00c0ff"/>
<rect x="225.6" y="314.9" width="1.3" height="1.7" fill="#00c0ff"/>
<rect x="217.6" y="385.5" width="1.3" height="3.3" fill="#00c0ff"/>
<rect x="225.8" y="123.5" width="1.3" height="2.3" fill="#00c0ff"/>
<rect x="216.6" y="193.2" width="1.3" height="2.7" fill="#00c0ff"/>
<rect x="225.0" y="337.3" width="1.3" height="3.0" fill="#00c0ff"/>
<rect x="215.6" y="209.7" width="1.3" height="2.4" fill="#00c0ff"/>
<rect x="226.8" y="374.5" width="1.3" height="3.0" fill="#00c0ff"/>
<rect x="215.3" y="63.0" width="1.3" height="3.8" fill="#00c0ff"/>
<rect x="225.9" y="315.4" width="1.3" height="3.3" fill="#00c0ff"/>
<rect x="215.9" y="148.0" width="1.3" height="3.2" fill="#00c0ff"/>
<rect x="226.8" y="455.1" width="1.3" height="1.5" fill="#00c0ff"/>
<rect x="215.8" y="232.2" width="1.3" height="3.1" fill="#00c0ff"/>
<rect x="227.2" y="522.1" width="1.3" height="2.7" fill="#00c0ff"/>
<rect x="215.4" y="128.6" width="1.3" height="2.0" fill="#00c0ff"/>
<rect x="225.5" y="403.8" width="1.3" height="3.1" fill="#00c0ff"/>
<rect x="217.4" y="434.2" width="1.3" height="3.1" fill="#00c0ff"/>
<rect x="227.2" y="519.4" width="1.3" height="2.7" fill="#00c0ff"/>
<rect x="218.0" y="461.9" width="1.3" height="3.5" fill="#00c0ff"/>
<rect x="226.8" y="392.2" width="1.3" height="3.2" fill="#00c0ff"/>
<rect x="217.3" y="281.5" width="1.3" height="2.3" fill="#00c0ff"/>
<rect x="226.2" y="474.9" width="1.3" height="1.7" fill="#00c0ff"/>
<rect x="216.8" y="253.1" width="1.3" height="3.0" fill="#00c0ff"/>
<rect x="226.2" y="304.9" width="1.3" height="2.3" fill="#00c0ff"/>
<rect x="216.1" y="173.2" width="1.3" height="3.7" fill="#00c0ff"/>
<rect x="226.6" y="489.0" width="1.3" height="2.5" fill="#00c0ff"/>
<rect x="217.6" y="526.5" width="1.3" height="2.4" fill="#00c0ff"/>
<rect x="226.6" y="386.2" width="1.3" height="3.2" fill="#00c0ff"/>
<rect x="216.2" y="94.2" width="1.3" height="2.5" fill="#00c0ff"/>
<rect x="224.8" y="196.0" width="1.3" height="3.6" fill="#00c0ff"/>
<rect x="216.3" y="283.5" width="1.3" height="1.8" fill="#00c0ff"/>
<rect x="226.8" y="381.6" width="1.3" height="3.7" fill="#00c0ff"/>
<rect x="217.1" y="439.1" width="1.3" height="1.5" fill="#00c0ff"/>
<rect x="226.6" y="368.3" width="1.3" height="2.4" fill="#00c0ff"/>
<rect x="216.7" y="335.7" width="1.3" height="3.2" fill="#00c0ff"/>
<rect x="225.6" y="527.1" width="1.3" height="3.1" fill="#00c0ff"/>
<rect x="217.1" y="374.7" width="1.3" height="2.1" fill="#00c0ff"/>
<rect x="227.4" y="501.2" width="1.3" height="3.4" fill="#00c0ff"/>
<rect x="217.4" y="349.0" width="1.3" height="2.4" fill="#00c0ff"/>
<rect x="225.1" y="227.8" width="1.3" height="2.9" fill="#00c0ff"/>
<rect x="215.2" y="120.7" width="1.3" height="3.7" fill="#00c0ff"/>
<rect x="224.9" y="325.1" width="1.3" height="2.4" fill="#00c0ff"/>
<rect x="216.5" y="182.1" width="1.3" height="3.6" fill="#00c0ff"/>
<rect x="225.7" y="226.7" width="1.3" height="1.6" fill="#00c0ff"/>
<rect x="216.6" y="331.5" width="1.3" height="1.9" fill="#00c0ff"/>
<rect x="225.4" y="219.6" width="1.3" height="2.2" fill="#00c0ff"/>
<rect x="215.8" y="219.2" width="1.3" height="1.7" fill="#00c0ff"/>
<rect x="225.2" y="150.4" width="1.3" height="2.8" fill="#00c0ff"/>
<rect x="215.5" y="119.0" width="1.3" height="2.2" fill="#00c0ff"/>
<rect x="226.2" y="234.5" width="1.3" height="2.6" fill="#00c0ff"/>
<rect x="216.5" y="185.3" width="1.3" height="2.4" fill="#00c0ff"/>
<rect x="225.6" y="98.8" width="1.3" height="2.0" fill="#00c0ff"/>
<rect x="215.7" y="65.6" width="1.3" height="2.8" fill="#00c0ff"/>
<rect x="225.0" y="221.6" width="1.3" height="3.2" fill="#00c0ff"/>
<rect x="218.0" y="502.7" width="1.3" height="3.3" fill="#00c0ff"/>
<rect x="223.9" y="104.5" width="1.3" height="3.9" fill="#00c0ff"/>
<rect x="217.9" y="407.4" width="1.3" height="3.2" fill="#00c0ff"/>
<rect x="226.3" y="339.2" width="1.3" height="2.3" fill="#00c0ff"/>
<rect x="216.7" y="433.5" width="1.3" height="2.0" fill="#00c0ff"/>
<rect x="226.1" y="395.9" width="1.3" height="3.8" fill="#00c0ff"/>
<rect x="217.4" y="487.1" width="1.3" height="3.5" fill="#00c0ff"/>
<rect x="226.7" y="482.4" width="1.3" height="2.4" fill="#00c0ff"/>
<rect x="216.5" y="291.9" width="1.3" height="2.4" fill="#00c0ff"/>
<rect x="225.6" y="133.3" width="1.3" height="2.3" fill="#00c0ff"/>
<rect x="217.6" y="427.5" width="1.3" height="3.4" fill="#00c0ff"/>
<rect x="226.2" y="428.8" width="1.3" height="3.9" fill="#00c0ff"/>
<rect x="216.7" y="359.9" width="1.3" height="2.7" fill="#00c0ff"/>
<rect x="225.7" y="433.3" width="1.3" height="2.8" fill="#00c0ff"/>
<rect x="215.1" y="75.0" width="1.3" height="3.2" fill="#00c0ff"/>
<rect x="226.0" y="198.2" width="1.3" height="2.3" fill="#00c0ff"/>
<rect x="216.8" y="250.3" width="1.3" height="3.9" fill="#00c0ff"/>
<rect x="226.9" y="483.6" width="1.3" height="3.3" fill="#00c0ff"/>
<rect x="217.6" y="488.7" width="1.3" height="2.5" fill="#00c0ff"/>
<rect x="226.1" y="241.2" width="1.3" height="2.4" fill="#00c0ff"/>
<rect x="215.2" y="132.2" width="1.3" height="2.3" fill="#00c0ff"/>
<rect x="224.6" y="202.6" width="1.3" height="2.5" fill="#00c0ff"/>
<rect x="217.5" y="409.1" width="1.3" height="1.7" fill="#00c0ff"/>
<rect x="225.2" y="278.8" width="1.3" height="3.7" fill="#00c0ff"/>
<rect x="215.8" y="231.0" width="1.3" height="3.4" fill="#00c0ff"/>
<rect x="227.3" y="503.4" width="1.3" height="3.0" fill="#00c0ff"/>
<rect x="215.4" y="156.9" width="1.3" height="1.8" fill="#00c0ff"/>
<rect x="225.6" y="233.9" width="1.3" height="3.6" fill="#00c0ff"/>
<rect x="217.4" y="302.9" width="1.3" height="3.1" fill="#00c0ff"/>
<rect x="227.4" y="511.6" width="1.3" height="2.7" fill="#00c0ff"/>
<rect x="217.9" y="501.9" width="1.3" height="3.6" fill="#00c0ff"/>
<rect x="224.8" y="90.0" width="1.3" height="2.8" fill="#00c0ff"/>
<rect x="218.1" y="481.3" width="1.3" height="1.7" fill="#00c0ff"/>
<rect x="225.0" y="96.1" width="1.3" height="2.5" fill="#00c0ff"/>
<rect x="216.5" y="419.1" width="1.3" height="2.1" fill="#00c0ff"/>
<rect x="225.9" y="311.1" width="1.3" height="3.6" fill="#00c0ff"/>
<rect x="216.7" y="432.3" width="1.3" height="3.1" fill="#00c0ff"/>
<rect x="227.1" y="424.6" width="1.3" height="2.2" fill="#00c0ff"/>
<rect x="216.2" y="187.7" width="1.3" height="1.8" fill="#00c0ff"/>
<rect x="225.0" y="102.2" width="1.3" height="3.5" fill="#00c0ff"/>
<rect x="217.3" y="515.9" width="1.3" height="3.9" fill="#00c0ff"/>
<rect x="224.1" y="62.6" width="1.3" height="3.9" fill="#00c0ff"/>
<rect x="216.4" y="231.0" width="1.3" height="3.9" fill="#00c0ff"/>
<rect x="225.8" y="234.5" width="1.3" height="2.5" fill="#00c0ff"/>
<rect x="216.6" y="209.5" width="1.3" height="2.4" fill="#00c0ff"/>
<rect x="225.8" y="414.0" width="1.3" height="3.1" fill="#00c0ff"/>
<rect x="215.2" y="123.2" width="1.3" height="3.9" fill="#00c0ff"/>
<rect x="225.7" y="218.2" width="1.3" height="1.7" fill="#00c0ff"/>
<rect x="217.2" y="316.1" width="1.3" height="2.1" fill="#00c0ff"/>
<rect x="225.3" y="393.5" width="1.3" height="2.7" fill="#00c0ff"/>
<polygon points="219.70,61 222.10,61 223.90,540 221.50,540" fill="#ff5900"/>
<polygon points="220.30,61 221.50,61 223.30,540 222.10,540" fill="#d81808"/>
<polygon points="219.75,61 221.65,61 221.91,123 220.01,123" fill="#c40000"/>
<polygon points="221.22,386 223.02,386 223.32,466 221.52,466" fill="#c40000"/>
<polygon points="228.30,61 230.30,61 232.30,540 230.30,540" fill="#ffd000"/>
<polygon points="228.75,61 229.85,61 231.85,540 230.75,540" fill="#ff9a1c"/>
<rect x="150" y="68" width="15" height="1.1" fill="#49ffad"/>
<rect x="151" y="68.3" width="13" height="0.5" fill="#b1ff46" opacity="0.5"/>
<rect x="177.5" y="68" width="54.099999999999994" height="1.1" fill="#49ffad"/>
<rect x="178.5" y="68.3" width="52.099999999999994" height="0.5" fill="#b1ff46" opacity="0.5"/>
<rect x="269.7" y="68" width="70.30000000000001" height="1.1" fill="#49ffad"/>
<rect x="270.7" y="68.3" width="68.30000000000001" height="0.5" fill="#b1ff46" opacity="0.5"/>
<rect x="344" y="68" width="10.5" height="1.1" fill="#49ffad"/>
<rect x="345" y="68.3" width="8.5" height="0.5" fill="#b1ff46" opacity="0.5"/>
<rect x="363.5" y="68" width="28.5" height="1.1" fill="#49ffad"/>
<rect x="364.5" y="68.3" width="26.5" height="0.5" fill="#b1ff46" opacity="0.5"/>
<rect x="413" y="68" width="28" height="1.1" fill="#49ffad"/>
<rect x="414" y="68.3" width="26" height="0.5" fill="#b1ff46" opacity="0.5"/>
<rect x="468.8" y="68" width="19.19999999999999" height="1.1" fill="#49ffad"/>
<rect x="469.8" y="68.3" width="17.19999999999999" height="0.5" fill="#b1ff46" opacity="0.5"/>
<rect x="509.4" y="68" width="36.60000000000002" height="1.1" fill="#49ffad"/>
<rect x="510.4" y="68.3" width="34.60000000000002" height="0.5" fill="#b1ff46" opacity="0.5"/>
<rect x="150" y="506" width="18" height="1.1" fill="#49ffad"/>
<rect x="151" y="506.3" width="16" height="0.5" fill="#b1ff46" opacity="0.5"/>
<rect x="180.5" y="506" width="51.5" height="1.1" fill="#49ffad"/>
<rect x="181.5" y="506.3" width="49.5" height="0.5" fill="#b1ff46" opacity="0.5"/>
<rect x="277" y="506" width="67.80000000000001" height="1.1" fill="#49ffad"/>
<rect x="278" y="506.3" width="65.80000000000001" height="0.5" fill="#b1ff46" opacity="0.5"/>
<rect x="347" y="506" width="8.699999999999989" height="1.1" fill="#49ffad"/>
<rect x="348" y="506.3" width="6.699999999999989" height="0.5" fill="#b1ff46" opacity="0.5"/>
<rect x="363.5" y="506" width="35.30000000000001" height="1.1" fill="#49ffad"/>
<rect x="364.5" y="506.3" width="33.30000000000001" height="0.5" fill="#b1ff46" opacity="0.5"/>
<rect x="414" y="506" width="29" height="1.1" fill="#49ffad"/>
<rect x="415" y="506.3" width="27" height="0.5" fill="#b1ff46" opacity="0.5"/>
<rect x="472" y="506" width="23" height="1.1" fill="#49ffad"/>
<rect x="473" y="506.3" width="21" height="0.5" fill="#b1ff46" opacity="0.5"/>
<rect x="507" y="506" width="39" height="1.1" fill="#49ffad"/>
<rect x="508" y="506.3" width="37" height="0.5" fill="#b1ff46" opacity="0.5"/>
<polygon fill="#49ffad" points="238.4,61.0 238.4,61.5 238.3,62.0 238.2,62.5 237.9,63.0 237.2,63.5 236.0,64.0 230.8,64.5 230.8,65.0 230.8,65.5 230.8,66.0 230.8,66.5 230.8,67.0 230.8,67.5 230.8,68.0 230.8,68.5 230.8,69.0 230.8,69.5 230.8,70.0 230.8,70.5 230.8,71.0 230.9,71.5 230.9,72.0 230.9,72.5 230.9,73.0 230.9,73.5 230.9,74.0 230.9,74.5 236.0,75.0 237.3,75.5 237.9,76.0 238.3,76.5 238.4,77.0 238.5,77.5 238.5,78.0 238.5,78.5 238.4,79.0 238.3,79.5 238.0,80.0 237.5,80.5 236.6,81.0 234.2,81.5 230.9,82.0 230.9,82.5 230.9,83.0 230.9,83.5 230.9,84.0 230.9,84.5 230.9,85.0 230.9,85.5 230.9,86.0 230.9,86.5 230.9,87.0 230.9,87.5 230.9,88.0 230.9,88.5 230.9,89.0 230.9,89.5 230.9,90.0 230.9,90.5 230.9,91.0 230.9,91.5 230.9,92.0 234.2,92.5 236.7,93.0 237.6,93.5 238.1,94.0 238.4,94.5 238.5,95.0 238.6,95.5 238.6,96.0 238.6,96.5 238.5,97.0 238.3,97.5 237.8,98.0 236.8,98.5 233.9,99.0 231.0,99.5 231.0,100.0 231.0,100.5 231.0,101.0 231.0,101.5 231.0,102.0 231.0,102.5 231.0,103.0 231.0,103.5 231.0,104.0 231.0,104.5 231.0,105.0 231.0,105.5 231.0,106.0 231.0,106.5 231.0,107.0 231.0,107.5 231.0,108.0 235.7,108.5 237.4,109.0 238.1,109.5 238.4,110.0 238.6,110.5 238.6,111.0 238.6,111.5 238.6,112.0 238.5,112.5 238.3,113.0 237.8,113.5 237.0,114.0 234.8,114.5 231.1,115.0 231.1,115.5 231.1,116.0 231.1,116.5 231.1,117.0 231.1,117.5 231.1,118.0 231.1,118.5 231.1,119.0 231.1,119.5 231.1,120.0 231.1,120.5 231.1,121.0 231.1,121.5 231.1,122.0 231.1,122.5 231.1,123.0 231.1,123.5 231.1,124.0 231.1,124.5 236.1,125.0 237.5,125.5 238.1,126.0 238.5,126.5 238.6,127.0 238.7,127.5 238.7,128.0 238.7,128.5 238.7,129.0 238.5,129.5 238.2,130.0 237.6,130.5 236.5,131.0 231.1,131.5 231.1,132.0 231.1,132.5 231.1,133.0 231.1,133.5 231.2,134.0 231.2,134.5 231.2,135.0 231.2,135.5 231.2,136.0 231.2,136.5 231.2,137.0 231.2,137.5 231.2,138.0 231.2,138.5 231.2,139.0 231.2,139.5 231.2,140.0 231.2,140.5 231.2,141.0 231.2,141.5 235.1,142.0 237.1,142.5 238.0,143.0 238.4,143.5 238.7,144.0 238.8,144.5 238.8,145.0 238.8,145.5 238.8,146.0 238.6,146.5 238.1,147.0 237.1,147.5 231.2,148.0 231.2,148.5 231.2,149.0 231.2,149.5 231.2,150.0 231.2,150.5 231.2,151.0 231.2,151.5 231.2,152.0 231.2,152.5 231.2,153.0 231.2,153.5 231.2,154.0 231.2,154.5 231.3,155.0 231.3,155.5 231.3,156.0 236.8,156.5 238.0,157.0 238.6,157.5 238.8,158.0 238.9,158.5 238.9,159.0 238.8,159.5 238.7,160.0 238.5,160.5 238.0,161.0 237.0,161.5 233.8,162.0 231.3,162.5 231.3,163.0 231.3,163.5 231.3,164.0 231.3,164.5 231.3,165.0 231.3,165.5 231.3,166.0 231.3,166.5 231.3,167.0 231.3,167.5 231.3,168.0 231.3,168.5 231.3,169.0 231.3,169.5 231.3,170.0 231.3,170.5 231.3,171.0 231.3,171.5 235.8,172.0 237.5,172.5 238.3,173.0 238.7,173.5 238.9,174.0 238.9,174.5 238.9,175.0 238.9,175.5 238.9,176.0 238.6,176.5 238.1,177.0 237.1,177.5 231.4,178.0 231.4,178.5 231.4,179.0 231.4,179.5 231.4,180.0 231.4,180.5 231.4,181.0 231.4,181.5 231.4,182.0 231.4,182.5 231.4,183.0 231.4,183.5 231.4,184.0 231.4,184.5 231.4,185.0 231.4,185.5 231.4,186.0 231.4,186.5 231.4,187.0 237.1,187.5 238.2,188.0 238.7,188.5 238.9,189.0 239.0,189.5 239.0,190.0 239.0,190.5 238.9,191.0 238.5,191.5 237.7,192.0 235.6,192.5 231.4,193.0 231.4,193.5 231.4,194.0 231.4,194.5 231.4,195.0 231.4,195.5 231.4,196.0 231.5,196.5 231.5,197.0 231.5,197.5 231.5,198.0 231.5,198.5 231.5,199.0 231.5,199.5 231.5,200.0 231.5,200.5 236.8,201.0 238.2,201.5 238.8,202.0 239.0,202.5 239.1,203.0 239.1,203.5 239.0,204.0 238.8,204.5 238.2,205.0 236.9,205.5 231.5,206.0 231.5,206.5 231.5,207.0 231.5,207.5 231.5,208.0 231.5,208.5 231.5,209.0 231.5,209.5 231.5,210.0 231.5,210.5 231.5,211.0 231.5,211.5 231.5,212.0 231.5,212.5 231.5,213.0 234.3,213.5 237.6,214.0 238.6,214.5 239.0,215.0 239.1,215.5 239.1,216.0 239.1,216.5 239.0,217.0 238.6,217.5 237.6,218.0 234.3,218.5 231.6,219.0 231.6,219.5 231.6,220.0 231.6,220.5 231.6,221.0 231.6,221.5 231.6,222.0 231.6,222.5 231.6,223.0 231.6,223.5 231.6,224.0 231.6,224.5 231.6,225.0 231.6,225.5 231.6,226.0 237.0,226.5 238.3,227.0 238.9,227.5 239.1,228.0 239.2,228.5 239.2,229.0 239.1,229.5 238.8,230.0 238.1,230.5 236.3,231.0 231.6,231.5 231.6,232.0 231.6,232.5 231.6,233.0 231.6,233.5 231.6,234.0 231.6,234.5 231.6,235.0 231.6,235.5 231.6,236.0 231.6,236.5 231.6,237.0 231.6,237.5 231.6,238.0 231.7,238.5 236.4,239.0 238.2,239.5 238.9,240.0 239.2,240.5 239.3,241.0 239.3,241.5 239.2,242.0 238.9,242.5 238.2,243.0 236.3,243.5 231.7,244.0 231.7,244.5 231.7,245.0 231.7,245.5 231.7,246.0 231.7,246.5 231.7,247.0 231.7,247.5 231.7,248.0 231.7,248.5 231.7,249.0 231.7,249.5 231.7,250.0 231.7,250.5 235.5,251.0 238.0,251.5 238.9,252.0 239.2,252.5 239.3,253.0 239.3,253.5 239.3,254.0 239.0,254.5 238.3,255.0 236.4,255.5 231.7,256.0 231.7,256.5 231.7,257.0 231.7,257.5 231.7,258.0 231.7,258.5 231.8,259.0 231.8,259.5 231.8,260.0 231.8,260.5 231.8,261.0 231.8,261.5 231.8,262.0 231.8,262.5 235.5,263.0 238.1,263.5 238.9,264.0 239.3,264.5 239.4,265.0 239.4,265.5 239.3,266.0 239.0,266.5 238.1,267.0 235.3,267.5 231.8,268.0 231.8,268.5 231.8,269.0 231.8,269.5 231.8,270.0 231.8,270.5 231.8,271.0 231.8,271.5 231.8,272.0 231.8,272.5 231.8,273.0 231.8,273.5 231.8,274.0 235.4,274.5 238.2,275.0 239.0,275.5 239.4,276.0 239.4,276.5 239.4,277.0 239.3,277.5 238.8,278.0 237.4,278.5 231.8,279.0 231.8,279.5 231.9,280.0 231.9,280.5 231.9,281.0 231.9,281.5 231.9,282.0 231.9,282.5 231.9,283.0 231.9,283.5 231.9,284.0 231.9,284.5 231.9,285.0 237.4,285.5 238.8,286.0 239.3,286.5 239.5,287.0 239.5,287.5 239.4,288.0 239.1,288.5 238.3,289.0 235.4,289.5 231.9,290.0 231.9,290.5 231.9,291.0 231.9,291.5 231.9,292.0 231.9,292.5 231.9,293.0 231.9,293.5 231.9,294.0 231.9,294.5 231.9,295.0 231.9,295.5 231.9,296.0 235.5,296.5 238.3,297.0 239.1,297.5 239.5,298.0 239.5,298.5 239.5,299.0 239.4,299.5 238.9,300.0 237.5,300.5 232.0,301.0 232.0,301.5 232.0,302.0 232.0,302.5 232.0,303.0 232.0,303.5 232.0,304.0 232.0,304.5 232.0,305.0 232.0,305.5 232.0,306.0 232.0,306.5 232.0,307.0 237.5,307.5 239.0,308.0 239.4,308.5 239.6,309.0 239.6,309.5 239.5,310.0 239.0,310.5 237.5,311.0 232.0,311.5 232.0,312.0 232.0,312.5 232.0,313.0 232.0,313.5 232.0,314.0 232.0,314.5 232.0,315.0 232.0,315.5 232.0,316.0 232.0,316.5 232.0,317.0 236.9,317.5 238.9,318.0 239.5,318.5 239.6,319.0 239.6,319.5 239.5,320.0 239.1,320.5 237.6,321.0 232.1,321.5 232.1,322.0 232.1,322.5 232.1,323.0 232.1,323.5 232.1,324.0 232.1,324.5 232.1,325.0 232.1,325.5 232.1,326.0 232.1,326.5 232.1,327.0 237.0,327.5 238.9,328.0 239.5,328.5 239.7,329.0 239.7,329.5 239.6,330.0 239.0,330.5 237.0,331.0 232.1,331.5 232.1,332.0 232.1,332.5 232.1,333.0 232.1,333.5 232.1,334.0 232.1,334.5 232.1,335.0 232.1,335.5 232.1,336.0 232.1,336.5 237.0,337.0 239.0,337.5 239.6,338.0 239.7,338.5 239.7,339.0 239.6,339.5 239.1,340.0 237.7,340.5 232.1,341.0 232.1,341.5 232.1,342.0 232.2,342.5 232.2,343.0 232.2,343.5 232.2,344.0 232.2,344.5 232.2,345.0 232.2,345.5 232.2,346.0 232.2,346.5 232.2,347.0 237.7,347.5 239.1,348.0 239.6,348.5 239.8,349.0 239.8,349.5 239.6,350.0 238.8,350.5 235.3,351.0 232.2,351.5 232.2,352.0 232.2,352.5 232.2,353.0 232.2,353.5 232.2,354.0 232.2,354.5 232.2,355.0 232.2,355.5 232.2,356.0 237.6,356.5 239.3,357.0 239.8,357.5 239.8,358.0 239.8,358.5 239.4,359.0 238.2,359.5 232.2,360.0 232.2,360.5 232.2,361.0 232.2,361.5 232.2,362.0 232.2,362.5 232.3,363.0 232.3,363.5 232.3,364.0 232.3,364.5 232.3,365.0 235.7,365.5 238.9,366.0 239.7,366.5 239.9,367.0 239.9,367.5 239.7,368.0 239.2,368.5 237.1,369.0 232.3,369.5 232.3,370.0 232.3,370.5 232.3,371.0 232.3,371.5 232.3,372.0 232.3,372.5 232.3,373.0 232.3,373.5 232.3,374.0 232.3,374.5 237.2,375.0 239.2,375.5 239.8,376.0 239.9,376.5 239.9,377.0 239.7,377.5 238.6,378.0 232.3,378.5 232.3,379.0 232.3,379.5 232.3,380.0 232.3,380.5 232.3,381.0 232.3,381.5 232.3,382.0 232.3,382.5 232.3,383.0 232.3,383.5 238.6,384.0 239.7,384.5 239.9,385.0 240.0,385.5 239.8,386.0 239.0,386.5 235.5,387.0 232.4,387.5 232.4,388.0 232.4,388.5 232.4,389.0 232.4,389.5 232.4,390.0 232.4,390.5 232.4,391.0 232.4,391.5 232.4,392.0 237.8,392.5 239.5,393.0 239.9,393.5 240.0,394.0 239.9,394.5 239.3,395.0 236.7,395.5 232.4,396.0 232.4,396.5 232.4,397.0 232.4,397.5 232.4,398.0 232.4,398.5 232.4,399.0 232.4,399.5 232.4,400.0 236.7,400.5 239.4,401.0 240.0,401.5 240.0,402.0 240.0,402.5 239.4,403.0 236.7,403.5 232.4,404.0 232.4,404.5 232.5,405.0 232.5,405.5 232.5,406.0 232.5,406.5 232.5,407.0 232.5,407.5 232.5,408.0 236.7,408.5 239.4,409.0 240.0,409.5 240.1,410.0 240.0,410.5 239.4,411.0 236.7,411.5 232.5,412.0 232.5,412.5 232.5,413.0 232.5,413.5 232.5,414.0 232.5,414.5 232.5,415.0 232.5,415.5 232.5,416.0 236.8,416.5 239.4,417.0 240.0,417.5 240.1,418.0 240.0,418.5 239.2,419.0 232.5,419.5 232.5,420.0 232.5,420.5 232.5,421.0 232.5,421.5 232.5,422.0 232.5,422.5 232.5,423.0 232.5,423.5 237.6,424.0 239.7,424.5 240.1,425.0 240.1,425.5 239.9,426.0 238.5,426.5 232.6,427.0 232.6,427.5 232.6,428.0 232.6,428.5 232.6,429.0 232.6,429.5 232.6,430.0 232.6,430.5 232.6,431.0 238.5,431.5 239.9,432.0 240.2,432.5 240.2,433.0 239.8,433.5 238.1,434.0 232.6,434.5 232.6,435.0 232.6,435.5 232.6,436.0 232.6,436.5 232.6,437.0 232.6,437.5 232.6,438.0 232.6,438.5 238.1,439.0 239.8,439.5 240.2,440.0 240.2,440.5 239.8,441.0 236.9,441.5 232.6,442.0 232.6,442.5 232.6,443.0 232.6,443.5 232.6,444.0 232.6,444.5 232.6,445.0 236.9,445.5 239.8,446.0 240.2,446.5 240.2,447.0 239.6,447.5 235.4,448.0 232.7,448.5 232.7,449.0 232.7,449.5 232.7,450.0 232.7,450.5 232.7,451.0 232.7,451.5 235.4,452.0 239.7,452.5 240.3,453.0 240.3,453.5 239.9,454.0 237.7,454.5 232.7,455.0 232.7,455.5 232.7,456.0 232.7,456.5 232.7,457.0 232.7,457.5 232.7,458.0 232.7,458.5 239.1,459.0 240.2,459.5 240.3,460.0 240.2,460.5 238.8,461.0 232.7,461.5 232.7,462.0 232.7,462.5 232.7,463.0 232.7,463.5 232.7,464.0 232.7,464.5 232.7,465.0 239.6,465.5 240.3,466.0 240.3,466.5 240.0,467.0 237.7,467.5 232.8,468.0 232.8,468.5 232.8,469.0 232.8,469.5 232.8,470.0 232.8,470.5 232.8,471.0 232.8,471.5 239.1,472.0 240.2,472.5 240.4,473.0 240.2,473.5 238.5,474.0 232.8,474.5 232.8,475.0 232.8,475.5 232.8,476.0 232.8,476.5 232.8,477.0 232.8,477.5 238.5,478.0 240.2,478.5 240.4,479.0 240.2,479.5 238.0,480.0 232.8,480.5 232.8,481.0 232.8,481.5 232.8,482.0 232.8,482.5 232.8,483.0 232.8,483.5 239.8,484.0 240.4,484.5 240.4,485.0 239.4,485.5 232.8,486.0 232.8,486.5 232.8,487.0 232.8,487.5 232.9,488.0 232.9,488.5 232.9,489.0 239.4,489.5 240.4,490.0 240.5,490.5 239.9,491.0 232.9,491.5 232.9,492.0 232.9,492.5 232.9,493.0 232.9,493.5 232.9,494.0 232.9,494.5 232.9,495.0 239.6,495.5 240.4,496.0 240.5,496.5 239.7,497.0 232.9,497.5 232.9,498.0 232.9,498.5 232.9,499.0 232.9,499.5 232.9,500.0 232.9,500.5 239.7,501.0 240.5,501.5 240.5,502.0 239.4,502.5 232.9,503.0 232.9,503.5 232.9,504.0 232.9,504.5 232.9,505.0 232.9,505.5 232.9,506.0 239.8,506.5 240.5,507.0 240.5,507.5 238.9,508.0 232.9,508.5 233.0,509.0 233.0,509.5 233.0,510.0 233.0,510.5 233.0,511.0 239.6,511.5 240.5,512.0 240.5,512.5 239.1,513.0 233.0,513.5 233.0,514.0 233.0,514.5 233.0,515.0 233.0,515.5 233.0,516.0 239.1,516.5 240.5,517.0 240.6,517.5 239.1,518.0 233.0,518.5 233.0,519.0 233.0,519.5 233.0,520.0 233.0,520.5 238.1,521.0 240.5,521.5 240.6,522.0 239.2,522.5 233.0,523.0 233.0,523.5 233.0,524.0 233.0,524.5 233.0,525.0 238.1,525.5 240.5,526.0 240.6,526.5 238.7,527.0 233.0,527.5 233.0,528.0 233.0,528.5 233.0,529.0 233.0,529.5 240.1,530.0 240.7,530.5 240.2,531.0 233.1,531.5 233.1,532.0 233.1,532.5 233.1,533.0 233.1,533.5 233.1,534.0 240.2,534.5 240.7,535.0 240.3,535.5 233.1,536.0 233.1,536.5 233.1,537.0 233.1,537.5 233.1,538.0 233.1,538.5 233.1,539.0 240.4,539.5 240.7,540.0 256.3,540.0 256.3,539.5 258.5,539.0 262.3,538.5 264.5,538.0 265.3,537.5 264.5,537.0 262.3,536.5 258.5,536.0 256.3,535.5 256.3,535.0 256.3,534.5 259.4,534.0 263.2,533.5 265.0,533.0 265.0,532.5 263.2,532.0 259.4,531.5 256.3,531.0 256.3,530.5 256.3,530.0 260.1,529.5 263.7,529.0 265.2,528.5 264.6,528.0 261.8,527.5 256.8,527.0 256.2,526.5 256.2,526.0 257.4,525.5 261.9,525.0 264.5,524.5 265.2,524.0 264.1,523.5 261.1,523.0 256.2,522.5 256.2,522.0 256.2,521.5 257.4,521.0 261.8,520.5 264.4,520.0 265.2,519.5 264.1,519.0 261.1,518.5 256.2,518.0 256.2,517.5 256.2,517.0 256.3,516.5 260.6,516.0 263.5,515.5 265.0,515.0 265.0,514.5 263.5,514.0 260.6,513.5 256.3,513.0 256.2,512.5 256.2,512.0 256.2,511.5 260.0,511.0 263.2,510.5 264.9,510.0 265.0,509.5 263.7,509.0 260.8,508.5 256.4,508.0 256.1,507.5 256.1,507.0 256.1,506.5 259.1,506.0 262.4,505.5 264.4,505.0 265.1,504.5 264.6,504.0 262.9,503.5 259.9,503.0 256.1,502.5 256.1,502.0 256.1,501.5 256.1,501.0 259.3,500.5 262.5,500.0 264.5,499.5 265.1,499.0 264.5,498.5 262.5,498.0 259.3,497.5 256.1,497.0 256.1,496.5 256.1,496.0 256.1,495.5 259.0,495.0 262.1,494.5 264.0,494.0 265.0,493.5 264.9,493.0 263.7,492.5 261.5,492.0 258.3,491.5 256.1,491.0 256.1,490.5 256.1,490.0 256.1,489.5 259.6,489.0 262.6,488.5 264.4,488.0 265.0,487.5 264.4,487.0 262.6,486.5 259.6,486.0 256.0,485.5 256.0,485.0 256.0,484.5 256.0,484.0 258.7,483.5 261.9,483.0 264.0,482.5 265.0,482.0 264.7,481.5 263.3,481.0 260.8,480.5 257.0,480.0 256.0,479.5 256.0,479.0 256.0,478.5 256.6,478.0 260.3,477.5 262.9,477.0 264.5,476.5 265.0,476.0 264.5,475.5 262.9,475.0 260.3,474.5 256.6,474.0 256.0,473.5 256.0,473.0 256.0,472.5 256.0,472.0 259.2,471.5 261.9,471.0 263.7,470.5 264.8,470.0 264.9,469.5 264.2,469.0 262.7,468.5 260.4,468.0 257.2,467.5 255.9,467.0 255.9,466.5 255.9,466.0 255.9,465.5 258.4,465.0 261.5,464.5 263.6,464.0 264.7,463.5 264.9,463.0 264.1,462.5 262.4,462.0 259.7,461.5 256.1,461.0 255.9,460.5 255.9,460.0 255.9,459.5 255.9,459.0 259.1,458.5 261.8,458.0 263.7,457.5 264.7,457.0 264.9,456.5 264.2,456.0 262.7,455.5 260.3,455.0 257.1,454.5 255.9,454.0 255.9,453.5 255.9,453.0 255.9,452.5 257.9,452.0 261.0,451.5 263.1,451.0 264.4,450.5 264.9,450.0 264.4,449.5 263.1,449.0 261.0,448.5 257.9,448.0 255.9,447.5 255.9,447.0 255.9,446.5 255.8,446.0 257.5,445.5 260.7,445.0 263.0,444.5 264.4,444.0 264.8,443.5 264.4,443.0 263.0,442.5 260.7,442.0 257.4,441.5 255.8,441.0 255.8,440.5 255.8,440.0 255.8,439.5 256.6,439.0 259.6,438.5 261.9,438.0 263.5,437.5 264.5,437.0 264.8,436.5 264.5,436.0 263.5,435.5 261.9,435.0 259.6,434.5 256.6,434.0 255.8,433.5 255.8,433.0 255.8,432.5 255.8,432.0 256.1,431.5 259.3,431.0 261.7,430.5 263.4,430.0 264.4,429.5 264.8,429.0 264.4,428.5 263.4,428.0 261.7,427.5 259.2,427.0 256.1,426.5 255.8,426.0 255.8,425.5 255.7,425.0 255.7,424.5 256.9,424.0 259.9,423.5 262.2,423.0 263.7,422.5 264.6,422.0 264.7,421.5 264.1,421.0 262.8,420.5 260.9,420.0 258.2,419.5 255.7,419.0 255.7,418.5 255.7,418.0 255.7,417.5 255.7,417.0 257.3,416.5 260.0,416.0 262.0,415.5 263.5,415.0 264.4,414.5 264.7,414.0 264.4,413.5 263.5,413.0 262.0,412.5 260.0,412.0 257.3,411.5 255.7,411.0 255.7,410.5 255.7,410.0 255.7,409.5 255.7,409.0 257.3,408.5 259.9,408.0 262.0,407.5 263.5,407.0 264.4,406.5 264.7,406.0 264.4,405.5 263.5,405.0 262.0,404.5 259.9,404.0 257.3,403.5 255.6,403.0 255.6,402.5 255.6,402.0 255.6,401.5 255.6,401.0 257.2,400.5 259.9,400.0 262.0,399.5 263.4,399.0 264.3,398.5 264.6,398.0 264.3,397.5 263.4,397.0 262.0,396.5 259.9,396.0 257.2,395.5 255.6,395.0 255.6,394.5 255.6,394.0 255.6,393.5 255.6,393.0 256.5,392.5 259.1,392.0 261.2,391.5 262.8,391.0 263.9,390.5 264.5,390.0 264.6,389.5 264.2,389.0 263.3,388.5 261.9,388.0 259.9,387.5 257.5,387.0 255.6,386.5 255.6,386.0 255.6,385.5 255.6,385.0 255.6,384.5 255.6,384.0 258.2,383.5 260.5,383.0 262.2,382.5 263.5,382.0 264.3,381.5 264.5,381.0 264.3,380.5 263.5,380.0 262.2,379.5 260.4,379.0 258.1,378.5 255.5,378.0 255.5,377.5 255.5,377.0 255.5,376.5 255.5,376.0 255.5,375.5 256.8,375.0 259.2,374.5 261.1,374.0 262.6,373.5 263.6,373.0 264.3,372.5 264.5,372.0 264.3,371.5 263.6,371.0 262.6,370.5 261.1,370.0 259.1,369.5 256.8,369.0 255.5,368.5 255.5,368.0 255.5,367.5 255.5,367.0 255.5,366.5 255.5,366.0 257.4,365.5 259.6,365.0 261.5,364.5 262.9,364.0 263.8,363.5 264.3,363.0 264.4,362.5 264.1,362.0 263.3,361.5 262.1,361.0 260.4,360.5 258.3,360.0 255.8,359.5 255.4,359.0 255.4,358.5 255.4,358.0 255.4,357.5 255.4,357.0 256.3,356.5 258.9,356.0 261.0,355.5 262.6,355.0 263.7,354.5 264.3,354.0 264.4,353.5 264.0,353.0 263.1,352.5 261.7,352.0 259.8,351.5 257.4,351.0 255.4,350.5 255.4,350.0 255.4,349.5 255.4,349.0 255.4,348.5 255.4,348.0 256.1,347.5 258.3,347.0 260.2,346.5 261.7,346.0 262.9,345.5 263.7,345.0 264.2,344.5 264.4,344.0 264.2,343.5 263.7,343.0 262.8,342.5 261.7,342.0 260.1,341.5 258.3,341.0 256.1,340.5 255.3,340.0 255.3,339.5 255.3,339.0 255.3,338.5 255.3,338.0 255.3,337.5 256.6,337.0 259.0,336.5 260.9,336.0 262.4,335.5 263.5,335.0 264.1,334.5 264.3,334.0 264.1,333.5 263.5,333.0 262.4,332.5 260.9,332.0 259.0,331.5 256.6,331.0 255.3,330.5 255.3,330.0 255.3,329.5 255.3,329.0 255.3,328.5 255.3,328.0 256.5,327.5 258.8,327.0 260.6,326.5 262.1,326.0 263.2,325.5 263.9,325.0 264.2,324.5 264.2,324.0 263.8,323.5 263.0,323.0 261.8,322.5 260.3,322.0 258.3,321.5 256.0,321.0 255.2,320.5 255.2,320.0 255.2,319.5 255.2,319.0 255.2,318.5 255.2,318.0 256.5,317.5 258.7,317.0 260.6,316.5 262.0,316.0 263.1,315.5 263.8,315.0 264.2,314.5 264.1,314.0 263.7,313.5 262.9,313.0 261.8,312.5 260.2,312.0 258.3,311.5 256.0,311.0 255.2,310.5 255.2,310.0 255.2,309.5 255.2,309.0 255.2,308.5 255.2,308.0 255.9,307.5 258.1,307.0 260.0,306.5 261.5,306.0 262.7,305.5 263.5,305.0 264.0,304.5 264.2,304.0 264.0,303.5 263.5,303.0 262.6,302.5 261.5,302.0 259.9,301.5 258.1,301.0 255.9,300.5 255.1,300.0 255.1,299.5 255.1,299.0 255.1,298.5 255.1,298.0 255.1,297.5 255.1,297.0 257.0,296.5 258.9,296.0 260.5,295.5 261.8,295.0 262.8,294.5 263.5,294.0 264.0,293.5 264.1,293.0 264.0,292.5 263.5,292.0 262.8,291.5 261.8,291.0 260.5,290.5 258.9,290.0 257.0,289.5 255.1,289.0 255.1,288.5 255.1,288.0 255.1,287.5 255.1,287.0 255.1,286.5 255.1,286.0 255.8,285.5 258.0,285.0 259.9,284.5 261.4,284.0 262.6,283.5 263.4,283.0 263.9,282.5 264.1,282.0 263.9,281.5 263.4,281.0 262.5,280.5 261.4,280.0 259.8,279.5 258.0,279.0 255.8,278.5 255.0,278.0 255.0,277.5 255.0,277.0 255.0,276.5 255.0,276.0 255.0,275.5 255.0,275.0 256.9,274.5 258.8,274.0 260.4,273.5 261.7,273.0 262.7,272.5 263.4,272.0 263.9,271.5 264.0,271.0 263.9,270.5 263.4,270.0 262.7,269.5 261.7,269.0 260.4,268.5 258.8,268.0 256.9,267.5 255.0,267.0 255.0,266.5 255.0,266.0 255.0,265.5 255.0,265.0 255.0,264.5 255.0,264.0 255.0,263.5 256.8,263.0 258.6,262.5 260.1,262.0 261.4,261.5 262.4,261.0 263.2,260.5 263.7,260.0 263.9,259.5 263.9,259.0 263.6,258.5 263.1,258.0 262.2,257.5 261.2,257.0 259.8,256.5 258.2,256.0 256.4,255.5 254.9,255.0 254.9,254.5 254.9,254.0 254.9,253.5 254.9,253.0 254.9,252.5 254.9,252.0 254.9,251.5 256.7,251.0 258.5,250.5 260.1,250.0 261.4,249.5 262.4,249.0 263.1,248.5 263.6,248.0 263.9,247.5 263.8,247.0 263.6,246.5 263.0,246.0 262.2,245.5 261.1,245.0 259.8,244.5 258.2,244.0 256.3,243.5 254.9,243.0 254.9,242.5 254.9,242.0 254.9,241.5 254.9,241.0 254.9,240.5 254.9,240.0 254.9,239.5 256.2,239.0 258.0,238.5 259.6,238.0 260.9,237.5 261.9,237.0 262.8,236.5 263.4,236.0 263.7,235.5 263.8,235.0 263.7,234.5 263.4,234.0 262.8,233.5 261.9,233.0 260.8,232.5 259.5,232.0 258.0,231.5 256.2,231.0 254.8,230.5 254.8,230.0 254.8,229.5 254.8,229.0 254.8,228.5 254.8,228.0 254.8,227.5 254.8,227.0 255.7,226.5 257.5,226.0 259.1,225.5 260.5,225.0 261.6,224.5 262.5,224.0 263.2,223.5 263.6,223.0 263.8,222.5 263.7,222.0 263.4,221.5 262.9,221.0 262.2,220.5 261.2,220.0 260.0,219.5 258.5,219.0 256.8,218.5 254.9,218.0 254.8,217.5 254.7,217.0 254.7,216.5 254.7,216.0 254.7,215.5 254.7,215.0 254.7,214.5 254.9,214.0 256.8,213.5 258.5,213.0 259.9,212.5 261.1,212.0 262.1,211.5 262.9,211.0 263.4,210.5 263.7,210.0 263.7,209.5 263.5,209.0 263.1,208.5 262.4,208.0 261.5,207.5 260.4,207.0 259.0,206.5 257.5,206.0 255.6,205.5 254.7,205.0 254.7,204.5 254.7,204.0 254.7,203.5 254.7,203.0 254.7,202.5 254.7,202.0 254.7,201.5 255.6,201.0 257.3,200.5 258.9,200.0 260.2,199.5 261.3,199.0 262.2,198.5 262.9,198.0 263.3,197.5 263.6,197.0 263.6,196.5 263.5,196.0 263.1,195.5 262.5,195.0 261.7,194.5 260.6,194.0 259.4,193.5 257.9,193.0 256.3,192.5 254.6,192.0 254.6,191.5 254.6,191.0 254.6,190.5 254.6,190.0 254.6,189.5 254.6,189.0 254.6,188.5 254.6,188.0 255.2,187.5 256.8,187.0 258.2,186.5 259.5,186.0 260.6,185.5 261.5,185.0 262.2,184.5 262.8,184.0 263.3,183.5 263.5,183.0 263.6,182.5 263.5,182.0 263.2,181.5 262.8,181.0 262.2,180.5 261.5,180.0 260.5,179.5 259.4,179.0 258.2,178.5 256.8,178.0 255.2,177.5 254.6,177.0 254.6,176.5 254.6,176.0 254.5,175.5 254.5,175.0 254.5,174.5 254.5,174.0 254.5,173.5 254.5,173.0 254.5,172.5 256.0,172.0 257.4,171.5 258.7,171.0 259.8,170.5 260.8,170.0 261.6,169.5 262.2,169.0 262.8,168.5 263.2,168.0 263.4,167.5 263.5,167.0 263.5,166.5 263.3,166.0 262.9,165.5 262.5,165.0 261.8,164.5 261.1,164.0 260.2,163.5 259.1,163.0 257.9,162.5 256.6,162.0 255.1,161.5 254.5,161.0 254.5,160.5 254.5,160.0 254.5,159.5 254.5,159.0 254.5,158.5 254.5,158.0 254.5,157.5 254.5,157.0 255.2,156.5 257.0,156.0 258.5,155.5 259.8,155.0 261.0,154.5 261.9,154.0 262.6,153.5 263.1,153.0 263.4,152.5 263.4,152.0 263.3,151.5 263.0,151.0 262.4,150.5 261.7,150.0 260.7,149.5 259.6,149.0 258.2,148.5 256.6,148.0 254.8,147.5 254.4,147.0 254.4,146.5 254.4,146.0 254.4,145.5 254.4,145.0 254.4,144.5 254.4,144.0 254.4,143.5 254.4,143.0 254.7,142.5 256.2,142.0 257.4,141.5 258.6,141.0 259.6,140.5 260.5,140.0 261.3,139.5 262.0,139.0 262.5,138.5 262.9,138.0 263.2,137.5 263.3,137.0 263.4,136.5 263.3,136.0 263.0,135.5 262.7,135.0 262.2,134.5 261.6,134.0 260.8,133.5 260.0,133.0 259.0,132.5 257.9,132.0 256.6,131.5 255.3,131.0 254.3,130.5 254.3,130.0 254.3,129.5 254.3,129.0 254.3,128.5 254.3,128.0 254.3,127.5 254.3,127.0 254.3,126.5 254.3,126.0 254.3,125.5 255.5,125.0 256.9,124.5 258.2,124.0 259.3,123.5 260.3,123.0 261.1,122.5 261.8,122.0 262.4,121.5 262.8,121.0 263.1,120.5 263.3,120.0 263.3,119.5 263.2,119.0 262.9,118.5 262.5,118.0 262.0,117.5 261.4,117.0 260.6,116.5 259.7,116.0 258.6,115.5 257.4,115.0 256.1,114.5 254.6,114.0 254.3,113.5 254.2,113.0 254.2,112.5 254.2,112.0 254.2,111.5 254.2,111.0 254.2,110.5 254.2,110.0 254.2,109.5 254.2,109.0 255.6,108.5 257.1,108.0 258.4,107.5 259.6,107.0 260.6,106.5 261.4,106.0 262.1,105.5 262.6,105.0 263.0,104.5 263.2,104.0 263.2,103.5 263.1,103.0 262.8,102.5 262.3,102.0 261.7,101.5 260.9,101.0 260.0,100.5 258.9,100.0 257.6,99.5 256.2,99.0 254.6,98.5 254.2,98.0 254.2,97.5 254.2,97.0 254.2,96.5 254.2,96.0 254.2,95.5 254.2,95.0 254.2,94.5 254.2,94.0 254.2,93.5 254.8,93.0 256.1,92.5 257.3,92.0 258.4,91.5 259.4,91.0 260.3,90.5 261.0,90.0 261.7,89.5 262.2,89.0 262.6,88.5 262.9,88.0 263.1,87.5 263.1,87.0 263.1,86.5 262.9,86.0 262.6,85.5 262.2,85.0 261.7,84.5 261.0,84.0 260.2,83.5 259.4,83.0 258.4,82.5 257.3,82.0 256.0,81.5 254.7,81.0 254.1,80.5 254.1,80.0 254.1,79.5 254.1,79.0 254.1,78.5 254.1,78.0 254.1,77.5 254.1,77.0 254.1,76.5 254.1,76.0 254.1,75.5 255.2,75.0 256.5,74.5 257.8,74.0 258.9,73.5 259.9,73.0 260.7,72.5 261.4,72.0 262.0,71.5 262.5,71.0 262.8,70.5 263.0,70.0 263.0,69.5 263.0,69.0 262.8,68.5 262.4,68.0 262.0,67.5 261.4,67.0 260.7,66.5 259.8,66.0 258.8,65.5 257.7,65.0 256.5,64.5 255.1,64.0 254.0,63.5 254.0,63.0 254.0,62.5 254.0,62.0 254.0,61.5 254.0,61.0"/>
<polygon fill="#b1ff46" points="242.4,61.0 242.4,61.5 242.4,62.0 242.4,62.5 242.4,63.0 242.4,63.5 241.4,64.0 240.1,64.5 239.4,65.0 238.9,65.5 238.5,66.0 238.2,66.5 238.0,67.0 237.8,67.5 237.6,68.0 237.5,68.5 237.5,69.0 237.4,69.5 237.5,70.0 237.5,70.5 237.6,71.0 237.8,71.5 238.0,72.0 238.2,72.5 238.6,73.0 239.0,73.5 239.5,74.0 240.2,74.5 241.5,75.0 242.5,75.5 242.5,76.0 242.5,76.5 242.5,77.0 242.5,77.5 242.5,78.0 242.5,78.5 242.5,79.0 242.5,79.5 242.5,80.0 242.5,80.5 242.5,81.0 240.6,81.5 239.8,82.0 239.2,82.5 238.8,83.0 238.5,83.5 238.2,84.0 238.0,84.5 237.8,85.0 237.7,85.5 237.6,86.0 237.5,86.5 237.5,87.0 237.5,87.5 237.6,88.0 237.7,88.5 237.8,89.0 238.0,89.5 238.2,90.0 238.5,90.5 238.8,91.0 239.3,91.5 239.8,92.0 240.7,92.5 242.6,93.0 242.6,93.5 242.6,94.0 242.6,94.5 242.6,95.0 242.6,95.5 242.6,96.0 242.6,96.5 242.6,97.0 242.6,97.5 242.6,98.0 242.6,98.5 240.6,99.0 239.7,99.5 239.1,100.0 238.7,100.5 238.3,101.0 238.1,101.5 237.9,102.0 237.7,102.5 237.6,103.0 237.6,103.5 237.6,104.0 237.7,104.5 237.8,105.0 238.0,105.5 238.2,106.0 238.5,106.5 238.9,107.0 239.4,107.5 240.1,108.0 241.2,108.5 242.6,109.0 242.6,109.5 242.6,110.0 242.6,110.5 242.6,111.0 242.6,111.5 242.6,112.0 242.6,112.5 242.6,113.0 242.7,113.5 242.7,114.0 240.9,114.5 240.0,115.0 239.4,115.5 238.9,116.0 238.6,116.5 238.3,117.0 238.1,117.5 237.9,118.0 237.8,118.5 237.7,119.0 237.7,119.5 237.7,120.0 237.7,120.5 237.8,121.0 238.0,121.5 238.2,122.0 238.4,122.5 238.7,123.0 239.1,123.5 239.6,124.0 240.3,124.5 241.5,125.0 242.7,125.5 242.7,126.0 242.7,126.5 242.7,127.0 242.7,127.5 242.7,128.0 242.7,128.5 242.7,129.0 242.7,129.5 242.7,130.0 242.7,130.5 242.0,131.0 240.6,131.5 239.8,132.0 239.3,132.5 238.9,133.0 238.6,133.5 238.3,134.0 238.1,134.5 238.0,135.0 237.9,135.5 237.8,136.0 237.8,136.5 237.8,137.0 237.8,137.5 237.9,138.0 238.0,138.5 238.2,139.0 238.4,139.5 238.7,140.0 239.1,140.5 239.5,141.0 240.1,141.5 241.0,142.0 242.8,142.5 242.8,143.0 242.8,143.5 242.8,144.0 242.8,144.5 242.8,145.0 242.8,145.5 242.8,146.0 242.8,146.5 242.8,147.0 242.8,147.5 240.7,148.0 239.8,148.5 239.2,149.0 238.7,149.5 238.4,150.0 238.1,150.5 238.0,151.0 237.9,151.5 237.8,152.0 237.9,152.5 238.0,153.0 238.1,153.5 238.4,154.0 238.7,154.5 239.1,155.0 239.7,155.5 240.5,156.0 242.6,156.5 242.9,157.0 242.9,157.5 242.9,158.0 242.9,158.5 242.9,159.0 242.9,159.5 242.9,160.0 242.9,160.5 242.9,161.0 242.9,161.5 240.9,162.0 240.0,162.5 239.5,163.0 239.0,163.5 238.7,164.0 238.4,164.5 238.2,165.0 238.1,165.5 238.0,166.0 237.9,166.5 237.9,167.0 237.9,167.5 238.0,168.0 238.1,168.5 238.3,169.0 238.6,169.5 238.8,170.0 239.2,170.5 239.7,171.0 240.4,171.5 241.4,172.0 242.9,172.5 242.9,173.0 242.9,173.5 242.9,174.0 242.9,174.5 242.9,175.0 242.9,175.5 243.0,176.0 243.0,176.5 243.0,177.0 243.0,177.5 240.9,178.0 240.0,178.5 239.4,179.0 239.0,179.5 238.7,180.0 238.4,180.5 238.2,181.0 238.1,181.5 238.0,182.0 238.0,182.5 238.0,183.0 238.1,183.5 238.2,184.0 238.4,184.5 238.7,185.0 239.0,185.5 239.5,186.0 240.1,186.5 240.9,187.0 243.0,187.5 243.0,188.0 243.0,188.5 243.0,189.0 243.0,189.5 243.0,190.0 243.0,190.5 243.0,191.0 243.0,191.5 243.0,192.0 241.4,192.5 240.3,193.0 239.6,193.5 239.1,194.0 238.7,194.5 238.4,195.0 238.2,195.5 238.1,196.0 238.1,196.5 238.1,197.0 238.2,197.5 238.3,198.0 238.5,198.5 238.8,199.0 239.3,199.5 239.8,200.0 240.7,200.5 242.4,201.0 243.1,201.5 243.1,202.0 243.1,202.5 243.1,203.0 243.1,203.5 243.1,204.0 243.1,204.5 243.1,205.0 242.4,205.5 240.6,206.0 239.8,206.5 239.2,207.0 238.8,207.5 238.5,208.0 238.3,208.5 238.2,209.0 238.1,209.5 238.1,210.0 238.2,210.5 238.4,211.0 238.6,211.5 239.0,212.0 239.5,212.5 240.1,213.0 241.2,213.5 243.1,214.0 243.1,214.5 243.1,215.0 243.1,215.5 243.1,216.0 243.1,216.5 243.1,217.0 243.2,217.5 243.2,218.0 241.2,218.5 240.2,219.0 239.5,219.5 239.0,220.0 238.7,220.5 238.4,221.0 238.3,221.5 238.2,222.0 238.2,222.5 238.2,223.0 238.4,223.5 238.6,224.0 238.9,224.5 239.3,225.0 239.9,225.5 240.7,226.0 242.5,226.5 243.2,227.0 243.2,227.5 243.2,228.0 243.2,228.5 243.2,229.0 243.2,229.5 243.2,230.0 243.2,230.5 241.9,231.0 240.5,231.5 239.8,232.0 239.2,232.5 238.8,233.0 238.6,233.5 238.4,234.0 238.3,234.5 238.2,235.0 238.3,235.5 238.4,236.0 238.6,236.5 238.9,237.0 239.3,237.5 239.8,238.0 240.6,238.5 241.9,239.0 243.3,239.5 243.3,240.0 243.3,240.5 243.3,241.0 243.3,241.5 243.3,242.0 243.3,242.5 243.3,243.0 241.9,243.5 240.5,244.0 239.7,244.5 239.2,245.0 238.8,245.5 238.6,246.0 238.4,246.5 238.3,247.0 238.3,247.5 238.4,248.0 238.5,248.5 238.8,249.0 239.1,249.5 239.6,250.0 240.4,250.5 241.5,251.0 243.3,251.5 243.3,252.0 243.3,252.5 243.3,253.0 243.3,253.5 243.3,254.0 243.3,254.5 243.3,255.0 241.9,255.5 240.6,256.0 239.8,256.5 239.3,257.0 238.9,257.5 238.6,258.0 238.5,258.5 238.4,259.0 238.4,259.5 238.4,260.0 238.6,260.5 238.8,261.0 239.2,261.5 239.7,262.0 240.4,262.5 241.6,263.0 243.4,263.5 243.4,264.0 243.4,264.5 243.4,265.0 243.4,265.5 243.4,266.0 243.4,266.5 243.4,267.0 241.6,267.5 240.4,268.0 239.7,268.5 239.2,269.0 238.8,269.5 238.6,270.0 238.5,270.5 238.4,271.0 238.5,271.5 238.6,272.0 238.8,272.5 239.2,273.0 239.7,273.5 240.4,274.0 241.6,274.5 243.4,275.0 243.4,275.5 243.4,276.0 243.4,276.5 243.4,277.0 243.4,277.5 243.4,278.0 243.4,278.5 240.9,279.0 240.0,279.5 239.3,280.0 238.9,280.5 238.7,281.0 238.5,281.5 238.5,282.0 238.5,282.5 238.7,283.0 239.0,283.5 239.4,284.0 240.0,284.5 240.9,285.0 243.5,285.5 243.5,286.0 243.5,286.5 243.5,287.0 243.5,287.5 243.5,288.0 243.5,288.5 243.5,289.0 241.7,289.5 240.5,290.0 239.8,290.5 239.3,291.0 238.9,291.5 238.7,292.0 238.6,292.5 238.5,293.0 238.6,293.5 238.7,294.0 238.9,294.5 239.3,295.0 239.8,295.5 240.5,296.0 241.7,296.5 243.5,297.0 243.5,297.5 243.5,298.0 243.5,298.5 243.5,299.0 243.5,299.5 243.5,300.0 243.6,300.5 241.0,301.0 240.1,301.5 239.5,302.0 239.0,302.5 238.8,303.0 238.6,303.5 238.6,304.0 238.6,304.5 238.8,305.0 239.1,305.5 239.5,306.0 240.1,306.5 241.0,307.0 243.6,307.5 243.6,308.0 243.6,308.5 243.6,309.0 243.6,309.5 243.6,310.0 243.6,310.5 243.6,311.0 241.0,311.5 240.0,312.0 239.4,312.5 239.0,313.0 238.8,313.5 238.6,314.0 238.6,314.5 238.7,315.0 239.0,315.5 239.3,316.0 239.9,316.5 240.8,317.0 242.4,317.5 243.6,318.0 243.6,318.5 243.6,319.0 243.6,319.5 243.6,320.0 243.6,320.5 243.6,321.0 241.0,321.5 240.1,322.0 239.5,322.5 239.1,323.0 238.8,323.5 238.7,324.0 238.7,324.5 238.8,325.0 239.0,325.5 239.4,326.0 239.9,326.5 240.8,327.0 242.5,327.5 243.7,328.0 243.7,328.5 243.7,329.0 243.7,329.5 243.7,330.0 243.7,330.5 242.4,331.0 240.7,331.5 239.9,332.0 239.3,332.5 239.0,333.0 238.8,333.5 238.7,334.0 238.8,334.5 239.0,335.0 239.3,335.5 239.9,336.0 240.8,336.5 242.5,337.0 243.7,337.5 243.7,338.0 243.7,338.5 243.7,339.0 243.7,339.5 243.7,340.0 243.7,340.5 241.2,341.0 240.2,341.5 239.6,342.0 239.2,342.5 239.0,343.0 238.8,343.5 238.8,344.0 238.8,344.5 239.0,345.0 239.2,345.5 239.7,346.0 240.3,346.5 241.2,347.0 243.8,347.5 243.8,348.0 243.8,348.5 243.8,349.0 243.8,349.5 243.8,350.0 243.8,350.5 241.9,351.0 240.5,351.5 239.7,352.0 239.2,352.5 238.9,353.0 238.8,353.5 238.8,354.0 239.0,354.5 239.4,355.0 240.0,355.5 240.9,356.0 243.2,356.5 243.8,357.0 243.8,357.5 243.8,358.0 243.8,358.5 243.8,359.0 243.8,359.5 241.3,360.0 240.3,360.5 239.6,361.0 239.2,361.5 239.0,362.0 238.9,362.5 238.9,363.0 239.0,363.5 239.4,364.0 239.9,364.5 240.6,365.0 242.0,365.5 243.9,366.0 243.9,366.5 243.9,367.0 243.9,367.5 243.9,368.0 243.9,368.5 242.6,369.0 240.9,369.5 240.1,370.0 239.5,370.5 239.2,371.0 239.0,371.5 238.9,372.0 239.0,372.5 239.2,373.0 239.5,373.5 240.1,374.0 240.9,374.5 242.6,375.0 243.9,375.5 243.9,376.0 243.9,376.5 243.9,377.0 243.9,377.5 243.9,378.0 241.6,378.5 240.4,379.0 239.7,379.5 239.3,380.0 239.0,380.5 238.9,381.0 239.0,381.5 239.3,382.0 239.7,382.5 240.4,383.0 241.6,383.5 244.0,384.0 244.0,384.5 244.0,385.0 244.0,385.5 244.0,386.0 244.0,386.5 242.0,387.0 240.7,387.5 239.9,388.0 239.4,388.5 239.1,389.0 239.0,389.5 239.0,390.0 239.2,390.5 239.6,391.0 240.2,391.5 241.1,392.0 243.4,392.5 244.0,393.0 244.0,393.5 244.0,394.0 244.0,394.5 244.0,395.0 242.4,395.5 240.7,396.0 239.9,396.5 239.4,397.0 239.1,397.5 239.0,398.0 239.1,398.5 239.4,399.0 239.9,399.5 240.8,400.0 242.4,400.5 244.0,401.0 244.0,401.5 244.0,402.0 244.0,402.5 244.0,403.0 242.4,403.5 240.8,404.0 239.9,404.5 239.4,405.0 239.1,405.5 239.1,406.0 239.1,406.5 239.4,407.0 239.9,407.5 240.8,408.0 242.5,408.5 244.1,409.0 244.1,409.5 244.1,410.0 244.1,410.5 244.1,411.0 242.5,411.5 240.8,412.0 240.0,412.5 239.5,413.0 239.2,413.5 239.1,414.0 239.2,414.5 239.5,415.0 240.0,415.5 240.8,416.0 242.5,416.5 244.1,417.0 244.1,417.5 244.1,418.0 244.1,418.5 244.1,419.0 241.9,419.5 240.5,420.0 239.7,420.5 239.3,421.0 239.1,421.5 239.2,422.0 239.5,422.5 240.0,423.0 240.9,423.5 243.0,424.0 244.1,424.5 244.1,425.0 244.2,425.5 244.2,426.0 244.2,426.5 241.3,427.0 240.2,427.5 239.6,428.0 239.3,428.5 239.2,429.0 239.3,429.5 239.6,430.0 240.2,430.5 241.3,431.0 244.2,431.5 244.2,432.0 244.2,432.5 244.2,433.0 244.2,433.5 243.8,434.0 241.2,434.5 240.2,435.0 239.6,435.5 239.3,436.0 239.2,436.5 239.3,437.0 239.6,437.5 240.2,438.0 241.2,438.5 243.8,439.0 244.2,439.5 244.2,440.0 244.2,440.5 244.2,441.0 242.6,441.5 240.7,442.0 239.8,442.5 239.4,443.0 239.2,443.5 239.4,444.0 239.8,444.5 240.7,445.0 242.6,445.5 244.2,446.0 244.3,446.5 244.3,447.0 244.3,447.5 242.3,448.0 240.6,448.5 239.8,449.0 239.4,449.5 239.3,450.0 239.4,450.5 239.8,451.0 240.6,451.5 242.3,452.0 244.3,452.5 244.3,453.0 244.3,453.5 244.3,454.0 243.1,454.5 241.0,455.0 240.0,455.5 239.5,456.0 239.3,456.5 239.4,457.0 239.7,457.5 240.3,458.0 241.6,458.5 244.3,459.0 244.3,459.5 244.3,460.0 244.3,460.5 244.3,461.0 241.3,461.5 240.2,462.0 239.6,462.5 239.3,463.0 239.4,463.5 239.8,464.0 240.5,464.5 242.1,465.0 244.3,465.5 244.3,466.0 244.3,466.5 244.3,467.0 243.2,467.5 241.0,468.0 240.1,468.5 239.6,469.0 239.4,469.5 239.4,470.0 239.8,470.5 240.4,471.0 241.6,471.5 244.4,472.0 244.4,472.5 244.4,473.0 244.4,473.5 244.4,474.0 241.1,474.5 240.1,475.0 239.6,475.5 239.4,476.0 239.6,476.5 240.1,477.0 241.1,477.5 244.4,478.0 244.4,478.5 244.4,479.0 244.4,479.5 243.5,480.0 240.9,480.5 240.0,481.0 239.5,481.5 239.4,482.0 239.7,482.5 240.5,483.0 242.0,483.5 244.4,484.0 244.4,484.5 244.4,485.0 244.4,485.5 241.5,486.0 240.2,486.5 239.6,487.0 239.4,487.5 239.6,488.0 240.2,488.5 241.5,489.0 244.5,489.5 244.5,490.0 244.5,490.5 244.5,491.0 242.4,491.5 240.7,492.0 239.9,492.5 239.5,493.0 239.5,493.5 239.8,494.0 240.5,494.5 241.9,495.0 244.5,495.5 244.5,496.0 244.5,496.5 244.5,497.0 241.8,497.5 240.4,498.0 239.7,498.5 239.5,499.0 239.7,499.5 240.4,500.0 241.8,500.5 244.5,501.0 244.5,501.5 244.5,502.0 244.5,502.5 241.5,503.0 240.3,503.5 239.7,504.0 239.5,504.5 239.8,505.0 240.5,505.5 241.9,506.0 244.5,506.5 244.5,507.0 244.5,507.5 244.5,508.0 241.1,508.5 240.0,509.0 239.6,509.5 239.6,510.0 240.2,510.5 241.5,511.0 244.6,511.5 244.6,512.0 244.6,512.5 244.6,513.0 241.2,513.5 240.1,514.0 239.6,514.5 239.6,515.0 240.1,515.5 241.2,516.0 244.6,516.5 244.6,517.0 244.6,517.5 244.6,518.0 241.1,518.5 240.0,519.0 239.6,519.5 239.8,520.0 240.8,520.5 243.5,521.0 244.6,521.5 244.6,522.0 244.6,522.5 241.1,523.0 240.0,523.5 239.6,524.0 239.9,524.5 240.8,525.0 243.6,525.5 244.6,526.0 244.6,526.5 244.6,527.0 240.8,527.5 239.9,528.0 239.7,528.5 240.1,529.0 241.6,529.5 244.7,530.0 244.7,530.5 244.7,531.0 242.0,531.5 240.3,532.0 239.7,532.5 239.7,533.0 240.4,533.5 242.0,534.0 244.7,534.5 244.7,535.0 244.7,535.5 242.6,536.0 240.7,536.5 239.9,537.0 239.7,537.5 239.9,538.0 240.7,538.5 242.6,539.0 244.7,539.5 244.7,540.0 250.3,540.0 250.3,539.5 253.3,539.0 256.0,538.5 257.2,538.0 257.5,537.5 257.1,537.0 256.0,536.5 253.3,536.0 250.3,535.5 250.3,535.0 250.3,534.5 254.2,534.0 256.5,533.5 257.4,533.0 257.4,532.5 256.5,532.0 254.1,531.5 250.3,531.0 250.3,530.5 250.3,530.0 254.6,529.5 256.7,529.0 257.4,528.5 257.1,528.0 255.7,527.5 250.2,527.0 250.2,526.5 250.2,526.0 251.8,525.5 255.8,525.0 257.1,524.5 257.4,524.0 256.9,523.5 255.3,523.0 250.2,522.5 250.2,522.0 250.2,521.5 251.8,521.0 255.7,520.5 257.1,520.0 257.4,519.5 256.9,519.0 255.3,518.5 250.2,518.0 250.2,517.5 250.2,517.0 250.2,516.5 255.0,516.0 256.6,515.5 257.3,515.0 257.3,514.5 256.6,514.0 255.0,513.5 250.2,513.0 250.2,512.5 250.2,512.0 250.2,511.5 254.6,511.0 256.5,510.5 257.2,510.0 257.3,509.5 256.7,509.0 255.1,508.5 250.1,508.0 250.1,507.5 250.1,507.0 250.1,506.5 253.9,506.0 256.0,505.5 257.0,505.0 257.3,504.5 257.1,504.0 256.3,503.5 254.5,503.0 250.1,502.5 250.1,502.0 250.1,501.5 250.1,501.0 254.0,500.5 256.1,500.0 257.0,499.5 257.3,499.0 257.0,498.5 256.1,498.0 254.0,497.5 250.1,497.0 250.1,496.5 250.1,496.0 250.1,495.5 253.8,495.0 255.8,494.5 256.8,494.0 257.2,493.5 257.2,493.0 256.7,492.5 255.5,492.0 253.1,491.5 250.1,491.0 250.1,490.5 250.1,490.0 250.1,489.5 254.3,489.0 256.1,488.5 257.0,488.0 257.2,487.5 257.0,487.0 256.1,486.5 254.2,486.0 250.0,485.5 250.0,485.0 250.0,484.5 250.0,484.0 253.5,483.5 255.7,483.0 256.8,482.5 257.2,482.0 257.1,481.5 256.4,481.0 255.0,480.5 251.3,480.0 250.0,479.5 250.0,479.0 250.0,478.5 250.0,478.0 254.7,477.5 256.2,477.0 257.0,476.5 257.2,476.0 257.0,475.5 256.2,475.0 254.7,474.5 250.0,474.0 250.0,473.5 250.0,473.0 250.0,472.5 250.0,472.0 253.9,471.5 255.7,471.0 256.6,470.5 257.1,470.0 257.1,469.5 256.8,469.0 256.1,468.5 254.7,468.0 251.6,467.5 249.9,467.0 249.9,466.5 249.9,466.0 249.9,465.5 253.2,465.0 255.4,464.5 256.5,464.0 257.0,463.5 257.1,463.0 256.8,462.5 255.9,462.0 254.3,461.5 249.9,461.0 249.9,460.5 249.9,460.0 249.9,459.5 249.9,459.0 253.9,458.5 255.6,458.0 256.6,457.5 257.0,457.0 257.1,456.5 256.8,456.0 256.0,455.5 254.7,455.0 251.6,454.5 249.9,454.0 249.9,453.5 249.9,453.0 249.9,452.5 252.7,452.0 255.1,451.5 256.3,451.0 256.9,450.5 257.1,450.0 256.9,449.5 256.3,449.0 255.1,448.5 252.7,448.0 249.9,447.5 249.9,447.0 249.9,446.5 249.8,446.0 252.2,445.5 254.9,445.0 256.2,444.5 256.8,444.0 257.0,443.5 256.8,443.0 256.2,442.5 254.9,442.0 252.1,441.5 249.8,441.0 249.8,440.5 249.8,440.0 249.8,439.5 250.4,439.0 254.2,438.5 255.6,438.0 256.4,437.5 256.9,437.0 257.0,436.5 256.9,436.0 256.4,435.5 255.6,435.0 254.1,434.5 250.4,434.0 249.8,433.5 249.8,433.0 249.8,432.5 249.8,432.0 249.8,431.5 253.9,431.0 255.5,430.5 256.3,430.0 256.8,429.5 257.0,429.0 256.8,428.5 256.3,428.0 255.4,427.5 253.9,427.0 249.8,426.5 249.8,426.0 249.8,425.5 249.7,425.0 249.7,424.5 251.3,424.0 254.4,423.5 255.7,423.0 256.5,422.5 256.9,422.0 256.9,421.5 256.7,421.0 256.1,420.5 255.0,420.0 253.0,419.5 249.7,419.0 249.7,418.5 249.7,418.0 249.7,417.5 249.7,417.0 252.0,416.5 254.4,416.0 255.6,415.5 256.4,415.0 256.8,414.5 256.9,414.0 256.8,413.5 256.4,413.0 255.6,412.5 254.4,412.0 252.0,411.5 249.7,411.0 249.7,410.5 249.7,410.0 249.7,409.5 249.7,409.0 252.0,408.5 254.4,408.0 255.6,407.5 256.3,407.0 256.7,406.5 256.9,406.0 256.7,405.5 256.3,405.0 255.6,404.5 254.3,404.0 252.0,403.5 249.6,403.0 249.6,402.5 249.6,402.0 249.6,401.5 249.6,401.0 251.9,400.5 254.3,400.0 255.6,399.5 256.3,399.0 256.7,398.5 256.8,398.0 256.7,397.5 256.3,397.0 255.5,396.5 254.3,396.0 251.9,395.5 249.6,395.0 249.6,394.5 249.6,394.0 249.6,393.5 249.6,393.0 250.5,392.5 253.7,392.0 255.1,391.5 255.9,391.0 256.5,390.5 256.7,390.0 256.8,389.5 256.6,389.0 256.2,388.5 255.5,388.0 254.3,387.5 252.3,387.0 249.6,386.5 249.6,386.0 249.6,385.5 249.6,385.0 249.6,384.5 249.6,384.0 253.0,383.5 254.7,383.0 255.7,382.5 256.3,382.0 256.6,381.5 256.7,381.0 256.6,380.5 256.3,380.0 255.6,379.5 254.6,379.0 252.9,378.5 249.5,378.0 249.5,377.5 249.5,377.0 249.5,376.5 249.5,376.0 249.5,375.5 251.3,375.0 253.8,374.5 255.0,374.0 255.8,373.5 256.3,373.0 256.6,372.5 256.7,372.0 256.6,371.5 256.3,371.0 255.8,370.5 255.0,370.0 253.7,369.5 251.3,369.0 249.5,368.5 249.5,368.0 249.5,367.5 249.5,367.0 249.5,366.5 249.5,366.0 252.1,365.5 254.1,365.0 255.2,364.5 255.9,364.0 256.4,363.5 256.6,363.0 256.6,362.5 256.5,362.0 256.1,361.5 255.5,361.0 254.6,360.5 253.1,360.0 249.4,359.5 249.4,359.0 249.4,358.5 249.4,358.0 249.4,357.5 249.4,357.0 250.3,356.5 253.6,356.0 254.9,355.5 255.8,355.0 256.3,354.5 256.6,354.0 256.6,353.5 256.4,353.0 256.0,352.5 255.3,352.0 254.2,351.5 252.2,351.0 249.4,350.5 249.4,350.0 249.4,349.5 249.4,349.0 249.4,348.5 249.4,348.0 249.4,347.5 253.1,347.0 254.4,346.5 255.3,346.0 255.9,345.5 256.3,345.0 256.5,344.5 256.6,344.0 256.5,343.5 256.3,343.0 255.9,342.5 255.3,342.0 254.4,341.5 253.0,341.0 249.3,340.5 249.3,340.0 249.3,339.5 249.3,339.0 249.3,338.5 249.3,338.0 249.3,337.5 251.2,337.0 253.6,336.5 254.8,336.0 255.6,335.5 256.1,335.0 256.4,334.5 256.5,334.0 256.4,333.5 256.1,333.0 255.6,332.5 254.8,332.0 253.6,331.5 251.1,331.0 249.3,330.5 249.3,330.0 249.3,329.5 249.3,329.0 249.3,328.5 249.3,328.0 251.0,327.5 253.4,327.0 254.6,326.5 255.4,326.0 256.0,325.5 256.3,325.0 256.5,324.5 256.4,324.0 256.2,323.5 255.9,323.0 255.3,322.5 254.4,322.0 253.1,321.5 249.2,321.0 249.2,320.5 249.2,320.0 249.2,319.5 249.2,319.0 249.2,318.5 249.2,318.0 251.0,317.5 253.4,317.0 254.6,316.5 255.4,316.0 255.9,315.5 256.3,315.0 256.4,314.5 256.4,314.0 256.2,313.5 255.8,313.0 255.2,312.5 254.4,312.0 253.0,311.5 249.2,311.0 249.2,310.5 249.2,310.0 249.2,309.5 249.2,309.0 249.2,308.5 249.2,308.0 249.2,307.5 252.9,307.0 254.2,306.5 255.1,306.0 255.7,305.5 256.1,305.0 256.3,304.5 256.4,304.0 256.3,303.5 256.1,303.0 255.7,302.5 255.1,302.0 254.2,301.5 252.9,301.0 249.2,300.5 249.1,300.0 249.1,299.5 249.1,299.0 249.1,298.5 249.1,298.0 249.1,297.5 249.1,297.0 251.8,296.5 253.5,296.0 254.5,295.5 255.2,295.0 255.7,294.5 256.1,294.0 256.3,293.5 256.3,293.0 256.2,292.5 256.1,292.0 255.7,291.5 255.2,291.0 254.5,290.5 253.4,290.0 251.7,289.5 249.1,289.0 249.1,288.5 249.1,288.0 249.1,287.5 249.1,287.0 249.1,286.5 249.1,286.0 249.1,285.5 252.8,285.0 254.1,284.5 255.0,284.0 255.6,283.5 256.0,283.0 256.2,282.5 256.3,282.0 256.2,281.5 256.0,281.0 255.6,280.5 255.0,280.0 254.1,279.5 252.7,279.0 249.0,278.5 249.0,278.0 249.0,277.5 249.0,277.0 249.0,276.5 249.0,276.0 249.0,275.5 249.0,275.0 251.7,274.5 253.4,274.0 254.4,273.5 255.1,273.0 255.6,272.5 256.0,272.0 256.1,271.5 256.2,271.0 256.1,270.5 255.9,270.0 255.6,269.5 255.1,269.0 254.4,268.5 253.3,268.0 251.6,267.5 249.0,267.0 249.0,266.5 249.0,266.0 249.0,265.5 249.0,265.0 249.0,264.5 249.0,264.0 249.0,263.5 251.5,263.0 253.2,262.5 254.2,262.0 254.9,261.5 255.5,261.0 255.8,260.5 256.0,260.0 256.1,259.5 256.1,259.0 256.0,258.5 255.7,258.0 255.4,257.5 254.8,257.0 254.0,256.5 252.9,256.0 251.0,255.5 248.9,255.0 248.9,254.5 248.9,254.0 248.9,253.5 248.9,253.0 248.9,252.5 248.9,252.0 248.9,251.5 251.5,251.0 253.2,250.5 254.2,250.0 254.9,249.5 255.4,249.0 255.8,248.5 256.0,248.0 256.1,247.5 256.1,247.0 255.9,246.5 255.7,246.0 255.3,245.5 254.7,245.0 254.0,244.5 252.9,244.0 250.9,243.5 248.9,243.0 248.9,242.5 248.9,242.0 248.9,241.5 248.9,241.0 248.9,240.5 248.9,240.0 248.9,239.5 250.8,239.0 252.7,238.5 253.8,238.0 254.6,237.5 255.2,237.0 255.6,236.5 255.8,236.0 256.0,235.5 256.0,235.0 256.0,234.5 255.8,234.0 255.5,233.5 255.1,233.0 254.6,232.5 253.8,232.0 252.7,231.5 250.8,231.0 248.8,230.5 248.8,230.0 248.8,229.5 248.8,229.0 248.8,228.5 248.8,228.0 248.8,227.5 248.8,227.0 249.8,226.5 252.3,226.0 253.5,225.5 254.4,225.0 255.0,224.5 255.4,224.0 255.7,223.5 255.9,223.0 256.0,222.5 255.9,222.0 255.8,221.5 255.6,221.0 255.2,220.5 254.7,220.0 254.0,219.5 253.1,219.0 251.6,218.5 248.8,218.0 248.8,217.5 248.7,217.0 248.7,216.5 248.7,216.0 248.7,215.5 248.7,215.0 248.7,214.5 248.7,214.0 251.6,213.5 253.1,213.0 254.0,212.5 254.7,212.0 255.2,211.5 255.5,211.0 255.8,210.5 255.9,210.0 255.9,209.5 255.8,209.0 255.6,208.5 255.3,208.0 254.9,207.5 254.3,207.0 253.4,206.5 252.2,206.0 249.7,205.5 248.7,205.0 248.7,204.5 248.7,204.0 248.7,203.5 248.7,203.0 248.7,202.5 248.7,202.0 248.7,201.5 249.6,201.0 252.1,200.5 253.3,200.0 254.1,199.5 254.7,199.0 255.2,198.5 255.5,198.0 255.7,197.5 255.8,197.0 255.8,196.5 255.8,196.0 255.6,195.5 255.3,195.0 254.9,194.5 254.4,194.0 253.6,193.5 252.6,193.0 251.0,192.5 248.6,192.0 248.6,191.5 248.6,191.0 248.6,190.5 248.6,190.0 248.6,189.5 248.6,189.0 248.6,188.5 248.6,188.0 248.6,187.5 251.6,187.0 252.8,186.5 253.7,186.0 254.3,185.5 254.8,185.0 255.2,184.5 255.5,184.0 255.6,183.5 255.7,183.0 255.8,182.5 255.7,182.0 255.6,181.5 255.4,181.0 255.2,180.5 254.8,180.0 254.3,179.5 253.7,179.0 252.8,178.5 251.6,178.0 248.6,177.5 248.6,177.0 248.6,176.5 248.6,176.0 248.5,175.5 248.5,175.0 248.5,174.5 248.5,174.0 248.5,173.5 248.5,173.0 248.5,172.5 250.7,172.0 252.2,171.5 253.1,171.0 253.8,170.5 254.4,170.0 254.8,169.5 255.1,169.0 255.4,168.5 255.6,168.0 255.7,167.5 255.7,167.0 255.7,166.5 255.6,166.0 255.5,165.5 255.2,165.0 254.9,164.5 254.5,164.0 254.0,163.5 253.4,163.0 252.6,162.5 251.4,162.0 248.5,161.5 248.5,161.0 248.5,160.5 248.5,160.0 248.5,159.5 248.5,159.0 248.5,158.5 248.5,158.0 248.5,157.5 248.5,157.0 248.8,156.5 251.8,156.0 253.0,155.5 253.8,155.0 254.5,154.5 254.9,154.0 255.3,153.5 255.5,153.0 255.6,152.5 255.6,152.0 255.6,151.5 255.4,151.0 255.2,150.5 254.8,150.0 254.3,149.5 253.7,149.0 252.8,148.5 251.4,148.0 248.4,147.5 248.4,147.0 248.4,146.5 248.4,146.0 248.4,145.5 248.4,145.0 248.4,144.5 248.4,144.0 248.4,143.5 248.4,143.0 248.4,142.5 250.9,142.0 252.2,141.5 253.0,141.0 253.7,140.5 254.2,140.0 254.6,139.5 254.9,139.0 255.2,138.5 255.4,138.0 255.5,137.5 255.6,137.0 255.6,136.5 255.5,136.0 255.4,135.5 255.2,135.0 255.0,134.5 254.7,134.0 254.4,133.5 253.9,133.0 253.3,132.5 252.5,132.0 251.4,131.5 249.4,131.0 248.3,130.5 248.3,130.0 248.3,129.5 248.3,129.0 248.3,128.5 248.3,128.0 248.3,127.5 248.3,127.0 248.3,126.5 248.3,126.0 248.3,125.5 250.0,125.0 251.7,124.5 252.7,124.0 253.5,123.5 254.0,123.0 254.5,122.5 254.8,122.0 255.1,121.5 255.3,121.0 255.4,120.5 255.5,120.0 255.5,119.5 255.4,119.0 255.3,118.5 255.1,118.0 254.9,117.5 254.6,117.0 254.2,116.5 253.7,116.0 253.0,115.5 252.1,115.0 250.8,114.5 248.3,114.0 248.3,113.5 248.2,113.0 248.2,112.5 248.2,112.0 248.2,111.5 248.2,111.0 248.2,110.5 248.2,110.0 248.2,109.5 248.2,109.0 250.2,108.5 251.9,108.0 252.9,107.5 253.6,107.0 254.2,106.5 254.6,106.0 254.9,105.5 255.1,105.0 255.3,104.5 255.4,104.0 255.4,103.5 255.3,103.0 255.2,102.5 255.0,102.0 254.7,101.5 254.3,101.0 253.8,100.5 253.2,100.0 252.3,99.5 251.0,99.0 248.2,98.5 248.2,98.0 248.2,97.5 248.2,97.0 248.2,96.5 248.2,96.0 248.2,95.5 248.2,95.0 248.2,94.5 248.2,94.0 248.2,93.5 248.2,93.0 250.9,92.5 252.0,92.0 252.8,91.5 253.5,91.0 254.0,90.5 254.4,90.0 254.7,89.5 254.9,89.0 255.1,88.5 255.2,88.0 255.3,87.5 255.3,87.0 255.3,86.5 255.2,86.0 255.1,85.5 254.9,85.0 254.6,84.5 254.3,84.0 253.9,83.5 253.4,83.0 252.8,82.5 252.0,82.0 250.8,81.5 248.1,81.0 248.1,80.5 248.1,80.0 248.1,79.5 248.1,79.0 248.1,78.5 248.1,78.0 248.1,77.5 248.1,77.0 248.1,76.5 248.1,76.0 248.1,75.5 249.5,75.0 251.3,74.5 252.4,74.0 253.1,73.5 253.7,73.0 254.1,72.5 254.5,72.0 254.8,71.5 255.0,71.0 255.1,70.5 255.2,70.0 255.2,69.5 255.2,69.0 255.1,68.5 255.0,68.0 254.8,67.5 254.5,67.0 254.1,66.5 253.7,66.0 253.1,65.5 252.3,65.0 251.3,64.5 249.4,64.0 248.0,63.5 248.0,63.0 248.0,62.5 248.0,62.0 248.0,61.5 248.0,61.0"/>
<polygon fill="#ffd000" points="243.4,61.0 243.4,61.5 243.4,62.0 243.4,62.5 243.4,63.0 243.4,63.5 243.4,64.0 243.4,64.5 243.4,65.0 242.4,65.5 242.0,66.0 241.7,66.5 241.4,67.0 241.3,67.5 241.2,68.0 241.1,68.5 241.1,69.0 241.0,69.5 241.1,70.0 241.1,70.5 241.2,71.0 241.3,71.5 241.5,72.0 241.7,72.5 242.0,73.0 242.4,73.5 243.5,74.0 243.5,74.5 243.5,75.0 243.5,75.5 243.5,76.0 243.5,76.5 243.5,77.0 243.5,77.5 243.5,78.0 243.5,78.5 243.5,79.0 243.5,79.5 243.5,80.0 243.5,80.5 243.5,81.0 243.5,81.5 243.5,82.0 242.8,82.5 242.3,83.0 241.9,83.5 241.7,84.0 241.5,84.5 241.3,85.0 241.2,85.5 241.2,86.0 241.1,86.5 241.1,87.0 241.1,87.5 241.2,88.0 241.3,88.5 241.4,89.0 241.5,89.5 241.7,90.0 241.9,90.5 242.3,91.0 242.9,91.5 243.5,92.0 243.6,92.5 243.6,93.0 243.6,93.5 243.6,94.0 243.6,94.5 243.6,95.0 243.6,95.5 243.6,96.0 243.6,96.5 243.6,97.0 243.6,97.5 243.6,98.0 243.6,98.5 243.6,99.0 243.6,99.5 242.6,100.0 242.1,100.5 241.8,101.0 241.6,101.5 241.4,102.0 241.3,102.5 241.2,103.0 241.2,103.5 241.2,104.0 241.3,104.5 241.4,105.0 241.5,105.5 241.7,106.0 241.9,106.5 242.3,107.0 243.0,107.5 243.6,108.0 243.6,108.5 243.6,109.0 243.6,109.5 243.6,110.0 243.6,110.5 243.6,111.0 243.6,111.5 243.6,112.0 243.6,112.5 243.6,113.0 243.7,113.5 243.7,114.0 243.7,114.5 243.7,115.0 243.0,115.5 242.4,116.0 242.0,116.5 241.8,117.0 241.6,117.5 241.5,118.0 241.4,118.5 241.3,119.0 241.3,119.5 241.3,120.0 241.3,120.5 241.4,121.0 241.5,121.5 241.7,122.0 241.9,122.5 242.2,123.0 242.6,123.5 243.7,124.0 243.7,124.5 243.7,125.0 243.7,125.5 243.7,126.0 243.7,126.5 243.7,127.0 243.7,127.5 243.7,128.0 243.7,128.5 243.7,129.0 243.7,129.5 243.7,130.0 243.7,130.5 243.7,131.0 243.7,131.5 243.7,132.0 242.8,132.5 242.3,133.0 242.0,133.5 241.8,134.0 241.6,134.5 241.5,135.0 241.4,135.5 241.4,136.0 241.4,136.5 241.4,137.0 241.4,137.5 241.5,138.0 241.6,138.5 241.7,139.0 241.9,139.5 242.2,140.0 242.5,140.5 243.2,141.0 243.8,141.5 243.8,142.0 243.8,142.5 243.8,143.0 243.8,143.5 243.8,144.0 243.8,144.5 243.8,145.0 243.8,145.5 243.8,146.0 243.8,146.5 243.8,147.0 243.8,147.5 243.8,148.0 243.8,148.5 242.6,149.0 242.2,149.5 241.9,150.0 241.7,150.5 241.5,151.0 241.5,151.5 241.4,152.0 241.5,152.5 241.5,153.0 241.7,153.5 241.9,154.0 242.1,154.5 242.6,155.0 243.4,155.5 243.9,156.0 243.9,156.5 243.9,157.0 243.9,157.5 243.9,158.0 243.9,158.5 243.9,159.0 243.9,159.5 243.9,160.0 243.9,160.5 243.9,161.0 243.9,161.5 243.9,162.0 243.9,162.5 243.0,163.0 242.5,163.5 242.2,164.0 241.9,164.5 241.8,165.0 241.6,165.5 241.6,166.0 241.5,166.5 241.5,167.0 241.5,167.5 241.6,168.0 241.7,168.5 241.8,169.0 242.0,169.5 242.3,170.0 242.7,170.5 243.4,171.0 243.9,171.5 243.9,172.0 243.9,172.5 243.9,173.0 243.9,173.5 243.9,174.0 243.9,174.5 243.9,175.0 243.9,175.5 244.0,176.0 244.0,176.5 244.0,177.0 244.0,177.5 244.0,178.0 244.0,178.5 242.9,179.0 242.4,179.5 242.1,180.0 241.9,180.5 241.8,181.0 241.7,181.5 241.6,182.0 241.6,182.5 241.6,183.0 241.7,183.5 241.8,184.0 241.9,184.5 242.2,185.0 242.5,185.5 242.9,186.0 244.0,186.5 244.0,187.0 244.0,187.5 244.0,188.0 244.0,188.5 244.0,189.0 244.0,189.5 244.0,190.0 244.0,190.5 244.0,191.0 244.0,191.5 244.0,192.0 244.0,192.5 244.0,193.0 243.0,193.5 242.5,194.0 242.2,194.5 241.9,195.0 241.8,195.5 241.7,196.0 241.7,196.5 241.7,197.0 241.7,197.5 241.8,198.0 242.0,198.5 242.3,199.0 242.7,199.5 243.5,200.0 244.1,200.5 244.1,201.0 244.1,201.5 244.1,202.0 244.1,202.5 244.1,203.0 244.1,203.5 244.1,204.0 244.1,204.5 244.1,205.0 244.1,205.5 244.1,206.0 243.4,206.5 242.7,207.0 242.3,207.5 242.0,208.0 241.9,208.5 241.8,209.0 241.7,209.5 241.7,210.0 241.8,210.5 241.9,211.0 242.1,211.5 242.4,212.0 242.9,212.5 244.1,213.0 244.1,213.5 244.1,214.0 244.1,214.5 244.1,215.0 244.1,215.5 244.1,216.0 244.1,216.5 244.1,217.0 244.2,217.5 244.2,218.0 244.2,218.5 244.2,219.0 242.9,219.5 242.5,220.0 242.2,220.5 242.0,221.0 241.9,221.5 241.8,222.0 241.8,222.5 241.8,223.0 241.9,223.5 242.1,224.0 242.4,224.5 242.8,225.0 243.5,225.5 244.2,226.0 244.2,226.5 244.2,227.0 244.2,227.5 244.2,228.0 244.2,228.5 244.2,229.0 244.2,229.5 244.2,230.0 244.2,230.5 244.2,231.0 244.2,231.5 243.3,232.0 242.7,232.5 242.3,233.0 242.1,233.5 241.9,234.0 241.9,234.5 241.8,235.0 241.9,235.5 242.0,236.0 242.1,236.5 242.3,237.0 242.7,237.5 243.3,238.0 244.3,238.5 244.3,239.0 244.3,239.5 244.3,240.0 244.3,240.5 244.3,241.0 244.3,241.5 244.3,242.0 244.3,242.5 244.3,243.0 244.3,243.5 244.3,244.0 243.2,244.5 242.7,245.0 242.3,245.5 242.1,246.0 242.0,246.5 241.9,247.0 241.9,247.5 242.0,248.0 242.1,248.5 242.3,249.0 242.6,249.5 243.1,250.0 244.3,250.5 244.3,251.0 244.3,251.5 244.3,252.0 244.3,252.5 244.3,253.0 244.3,253.5 244.3,254.0 244.3,254.5 244.3,255.0 244.3,255.5 244.3,256.0 243.3,256.5 242.7,257.0 242.4,257.5 242.2,258.0 242.0,258.5 242.0,259.0 242.0,259.5 242.0,260.0 242.1,260.5 242.3,261.0 242.7,261.5 243.2,262.0 244.4,262.5 244.4,263.0 244.4,263.5 244.4,264.0 244.4,264.5 244.4,265.0 244.4,265.5 244.4,266.0 244.4,266.5 244.4,267.0 244.4,267.5 244.4,268.0 243.1,268.5 242.6,269.0 242.3,269.5 242.1,270.0 242.0,270.5 242.0,271.0 242.0,271.5 242.2,272.0 242.3,272.5 242.6,273.0 243.1,273.5 244.4,274.0 244.4,274.5 244.4,275.0 244.4,275.5 244.4,276.0 244.4,276.5 244.4,277.0 244.4,277.5 244.4,278.0 244.4,278.5 244.4,279.0 243.4,279.5 242.8,280.0 242.4,280.5 242.2,281.0 242.1,281.5 242.1,282.0 242.1,282.5 242.2,283.0 242.5,283.5 242.8,284.0 243.5,284.5 244.5,285.0 244.5,285.5 244.5,286.0 244.5,286.5 244.5,287.0 244.5,287.5 244.5,288.0 244.5,288.5 244.5,289.0 244.5,289.5 244.5,290.0 243.2,290.5 242.7,291.0 242.4,291.5 242.2,292.0 242.1,292.5 242.1,293.0 242.2,293.5 242.3,294.0 242.5,294.5 242.8,295.0 243.2,295.5 244.5,296.0 244.5,296.5 244.5,297.0 244.5,297.5 244.5,298.0 244.5,298.5 244.5,299.0 244.5,299.5 244.5,300.0 244.6,300.5 244.6,301.0 243.5,301.5 242.9,302.0 242.5,302.5 242.3,303.0 242.2,303.5 242.2,304.0 242.2,304.5 242.3,305.0 242.6,305.5 242.9,306.0 243.6,306.5 244.6,307.0 244.6,307.5 244.6,308.0 244.6,308.5 244.6,309.0 244.6,309.5 244.6,310.0 244.6,310.5 244.6,311.0 244.6,311.5 243.5,312.0 242.9,312.5 242.5,313.0 242.3,313.5 242.2,314.0 242.2,314.5 242.3,315.0 242.5,315.5 242.8,316.0 243.3,316.5 244.6,317.0 244.6,317.5 244.6,318.0 244.6,318.5 244.6,319.0 244.6,319.5 244.6,320.0 244.6,320.5 244.6,321.0 244.7,321.5 243.5,322.0 242.9,322.5 242.6,323.0 242.4,323.5 242.3,324.0 242.3,324.5 242.4,325.0 242.5,325.5 242.9,326.0 243.4,326.5 244.7,327.0 244.7,327.5 244.7,328.0 244.7,328.5 244.7,329.0 244.7,329.5 244.7,330.0 244.7,330.5 244.7,331.0 244.7,331.5 243.3,332.0 242.8,332.5 242.5,333.0 242.4,333.5 242.3,334.0 242.4,334.5 242.5,335.0 242.8,335.5 243.3,336.0 244.7,336.5 244.7,337.0 244.7,337.5 244.7,338.0 244.7,338.5 244.7,339.0 244.7,339.5 244.7,340.0 244.7,340.5 244.7,341.0 243.7,341.5 243.1,342.0 242.7,342.5 242.5,343.0 242.4,343.5 242.4,344.0 242.4,344.5 242.5,345.0 242.8,345.5 243.1,346.0 243.8,346.5 244.8,347.0 244.8,347.5 244.8,348.0 244.8,348.5 244.8,349.0 244.8,349.5 244.8,350.0 244.8,350.5 244.8,351.0 244.0,351.5 243.2,352.0 242.7,352.5 242.5,353.0 242.4,353.5 242.4,354.0 242.6,354.5 242.9,355.0 243.4,355.5 244.8,356.0 244.8,356.5 244.8,357.0 244.8,357.5 244.8,358.0 244.8,358.5 244.8,359.0 244.8,359.5 244.8,360.0 243.7,360.5 243.1,361.0 242.7,361.5 242.5,362.0 242.5,362.5 242.5,363.0 242.6,363.5 242.9,364.0 243.3,364.5 244.3,365.0 244.9,365.5 244.9,366.0 244.9,366.5 244.9,367.0 244.9,367.5 244.9,368.0 244.9,368.5 244.9,369.0 244.9,369.5 243.5,370.0 243.0,370.5 242.7,371.0 242.5,371.5 242.5,372.0 242.5,372.5 242.7,373.0 243.0,373.5 243.5,374.0 244.9,374.5 244.9,375.0 244.9,375.5 244.9,376.0 244.9,376.5 244.9,377.0 244.9,377.5 244.9,378.0 244.9,378.5 243.9,379.0 243.1,379.5 242.8,380.0 242.6,380.5 242.5,381.0 242.6,381.5 242.8,382.0 243.2,382.5 243.9,383.0 244.9,383.5 245.0,384.0 245.0,384.5 245.0,385.0 245.0,385.5 245.0,386.0 245.0,386.5 245.0,387.0 244.2,387.5 243.3,388.0 242.9,388.5 242.7,389.0 242.6,389.5 242.6,390.0 242.8,390.5 243.1,391.0 243.6,391.5 245.0,392.0 245.0,392.5 245.0,393.0 245.0,393.5 245.0,394.0 245.0,394.5 245.0,395.0 245.0,395.5 244.3,396.0 243.3,396.5 242.9,397.0 242.7,397.5 242.6,398.0 242.7,398.5 242.9,399.0 243.4,399.5 244.4,400.0 245.0,400.5 245.0,401.0 245.0,401.5 245.0,402.0 245.0,402.5 245.0,403.0 245.0,403.5 244.4,404.0 243.4,404.5 242.9,405.0 242.7,405.5 242.7,406.0 242.7,406.5 243.0,407.0 243.4,407.5 244.4,408.0 245.1,408.5 245.1,409.0 245.1,409.5 245.1,410.0 245.1,410.5 245.1,411.0 245.1,411.5 244.4,412.0 243.4,412.5 243.0,413.0 242.8,413.5 242.7,414.0 242.8,414.5 243.0,415.0 243.4,415.5 244.4,416.0 245.1,416.5 245.1,417.0 245.1,417.5 245.1,418.0 245.1,418.5 245.1,419.0 245.1,419.5 243.9,420.0 243.2,420.5 242.9,421.0 242.7,421.5 242.8,422.0 243.0,422.5 243.5,423.0 244.6,423.5 245.1,424.0 245.1,424.5 245.1,425.0 245.2,425.5 245.2,426.0 245.2,426.5 245.2,427.0 243.7,427.5 243.1,428.0 242.8,428.5 242.8,429.0 242.9,429.5 243.1,430.0 243.7,430.5 245.2,431.0 245.2,431.5 245.2,432.0 245.2,432.5 245.2,433.0 245.2,433.5 245.2,434.0 245.2,434.5 243.6,435.0 243.1,435.5 242.9,436.0 242.8,436.5 242.9,437.0 243.1,437.5 243.6,438.0 245.2,438.5 245.2,439.0 245.2,439.5 245.2,440.0 245.2,440.5 245.2,441.0 245.2,441.5 244.2,442.0 243.3,442.5 242.9,443.0 242.8,443.5 242.9,444.0 243.3,444.5 244.2,445.0 245.2,445.5 245.2,446.0 245.3,446.5 245.3,447.0 245.3,447.5 245.3,448.0 244.1,448.5 243.3,449.0 243.0,449.5 242.9,450.0 243.0,450.5 243.3,451.0 244.1,451.5 245.3,452.0 245.3,452.5 245.3,453.0 245.3,453.5 245.3,454.0 245.3,454.5 244.5,455.0 243.5,455.5 243.1,456.0 242.9,456.5 243.0,457.0 243.2,457.5 243.8,458.0 245.3,458.5 245.3,459.0 245.3,459.5 245.3,460.0 245.3,460.5 245.3,461.0 245.3,461.5 243.6,462.0 243.1,462.5 242.9,463.0 243.0,463.5 243.3,464.0 244.0,464.5 245.3,465.0 245.3,465.5 245.3,466.0 245.3,466.5 245.3,467.0 245.4,467.5 244.6,468.0 243.6,468.5 243.1,469.0 243.0,469.5 243.0,470.0 243.3,470.5 243.9,471.0 245.4,471.5 245.4,472.0 245.4,472.5 245.4,473.0 245.4,473.5 245.4,474.0 244.7,474.5 243.5,475.0 243.1,475.5 243.0,476.0 243.1,476.5 243.6,477.0 244.7,477.5 245.4,478.0 245.4,478.5 245.4,479.0 245.4,479.5 245.4,480.0 244.4,480.5 243.5,481.0 243.1,481.5 243.0,482.0 243.3,482.5 243.9,483.0 245.4,483.5 245.4,484.0 245.4,484.5 245.4,485.0 245.4,485.5 245.4,486.0 243.7,486.5 243.2,487.0 243.0,487.5 243.2,488.0 243.7,488.5 245.5,489.0 245.5,489.5 245.5,490.0 245.5,490.5 245.5,491.0 245.5,491.5 244.1,492.0 243.4,492.5 243.1,493.0 243.1,493.5 243.3,494.0 243.9,494.5 245.5,495.0 245.5,495.5 245.5,496.0 245.5,496.5 245.5,497.0 245.5,497.5 243.8,498.0 243.3,498.5 243.1,499.0 243.3,499.5 243.8,500.0 245.5,500.5 245.5,501.0 245.5,501.5 245.5,502.0 245.5,502.5 245.5,503.0 243.7,503.5 243.2,504.0 243.1,504.5 243.3,505.0 243.9,505.5 245.5,506.0 245.5,506.5 245.5,507.0 245.5,507.5 245.5,508.0 244.6,508.5 243.5,509.0 243.2,509.5 243.2,510.0 243.7,510.5 245.6,511.0 245.6,511.5 245.6,512.0 245.6,512.5 245.6,513.0 244.8,513.5 243.6,514.0 243.2,514.5 243.2,515.0 243.6,515.5 244.8,516.0 245.6,516.5 245.6,517.0 245.6,517.5 245.6,518.0 244.5,518.5 243.5,519.0 243.2,519.5 243.4,520.0 244.2,520.5 245.6,521.0 245.6,521.5 245.6,522.0 245.6,522.5 244.6,523.0 243.5,523.5 243.2,524.0 243.4,524.5 244.2,525.0 245.6,525.5 245.6,526.0 245.6,526.5 245.6,527.0 244.3,527.5 243.4,528.0 243.3,528.5 243.6,529.0 245.6,529.5 245.7,530.0 245.7,530.5 245.7,531.0 245.7,531.5 243.8,532.0 243.3,532.5 243.3,533.0 243.8,533.5 245.7,534.0 245.7,534.5 245.7,535.0 245.7,535.5 245.7,536.0 244.1,536.5 243.5,537.0 243.3,537.5 243.5,538.0 244.2,538.5 245.7,539.0 245.7,539.5 245.7,540.0 249.6,540.0 249.6,539.5 249.6,539.0 251.3,538.5 252.0,538.0 252.2,537.5 252.0,537.0 251.2,536.5 249.6,536.0 249.6,535.5 249.6,535.0 249.6,534.5 249.6,534.0 251.6,533.5 252.1,533.0 252.1,532.5 251.6,532.0 249.6,531.5 249.6,531.0 249.6,530.5 249.6,530.0 249.5,529.5 251.7,529.0 252.1,528.5 252.0,528.0 251.0,527.5 249.5,527.0 249.5,526.5 249.5,526.0 249.5,525.5 251.0,525.0 251.9,524.5 252.1,524.0 251.8,523.5 250.7,523.0 249.5,522.5 249.5,522.0 249.5,521.5 249.5,521.0 251.0,520.5 251.9,520.0 252.1,519.5 251.8,519.0 250.6,518.5 249.5,518.0 249.5,517.5 249.5,517.0 249.5,516.5 250.4,516.0 251.6,515.5 252.0,515.0 252.0,514.5 251.6,514.0 250.3,513.5 249.5,513.0 249.5,512.5 249.5,512.0 249.5,511.5 249.5,511.0 251.5,510.5 252.0,510.0 252.0,509.5 251.6,509.0 250.4,508.5 249.4,508.0 249.4,507.5 249.4,507.0 249.4,506.5 249.4,506.0 251.2,505.5 251.8,505.0 252.0,504.5 251.9,504.0 251.4,503.5 249.4,503.0 249.4,502.5 249.4,502.0 249.4,501.5 249.4,501.0 249.4,500.5 251.2,500.0 251.8,499.5 252.0,499.0 251.8,498.5 251.2,498.0 249.4,497.5 249.4,497.0 249.4,496.5 249.4,496.0 249.4,495.5 249.4,495.0 251.0,494.5 251.7,494.0 252.0,493.5 251.9,493.0 251.6,492.5 250.8,492.0 249.4,491.5 249.4,491.0 249.4,490.5 249.4,490.0 249.4,489.5 249.4,489.0 251.2,488.5 251.8,488.0 251.9,487.5 251.8,487.0 251.2,486.5 249.3,486.0 249.3,485.5 249.3,485.0 249.3,484.5 249.3,484.0 249.3,483.5 251.0,483.0 251.7,482.5 251.9,482.0 251.8,481.5 251.4,481.0 250.4,480.5 249.3,480.0 249.3,479.5 249.3,479.0 249.3,478.5 249.3,478.0 250.0,477.5 251.3,477.0 251.8,476.5 251.9,476.0 251.8,475.5 251.3,475.0 250.0,474.5 249.3,474.0 249.3,473.5 249.3,473.0 249.3,472.5 249.3,472.0 249.3,471.5 250.9,471.0 251.5,470.5 251.8,470.0 251.9,469.5 251.7,469.0 251.2,468.5 250.1,468.0 249.3,467.5 249.2,467.0 249.2,466.5 249.2,466.0 249.2,465.5 249.2,465.0 250.7,464.5 251.5,464.0 251.8,463.5 251.8,463.0 251.6,462.5 251.1,462.0 249.2,461.5 249.2,461.0 249.2,460.5 249.2,460.0 249.2,459.5 249.2,459.0 249.2,458.5 250.8,458.0 251.5,457.5 251.7,457.0 251.8,456.5 251.6,456.0 251.1,455.5 250.0,455.0 249.2,454.5 249.2,454.0 249.2,453.5 249.2,453.0 249.2,452.5 249.2,452.0 250.4,451.5 251.3,451.0 251.7,450.5 251.8,450.0 251.7,449.5 251.3,449.0 250.4,448.5 249.2,448.0 249.2,447.5 249.2,447.0 249.2,446.5 249.1,446.0 249.1,445.5 250.3,445.0 251.2,444.5 251.6,444.0 251.7,443.5 251.6,443.0 251.2,442.5 250.3,442.0 249.1,441.5 249.1,441.0 249.1,440.5 249.1,440.0 249.1,439.5 249.1,439.0 249.1,438.5 250.8,438.0 251.4,437.5 251.6,437.0 251.7,436.5 251.6,436.0 251.3,435.5 250.8,435.0 249.1,434.5 249.1,434.0 249.1,433.5 249.1,433.0 249.1,432.5 249.1,432.0 249.1,431.5 249.1,431.0 250.7,430.5 251.3,430.0 251.6,429.5 251.7,429.0 251.6,428.5 251.3,428.0 250.7,427.5 249.1,427.0 249.1,426.5 249.1,426.0 249.1,425.5 249.0,425.0 249.0,424.5 249.0,424.0 249.6,423.5 250.9,423.0 251.4,422.5 251.6,422.0 251.6,421.5 251.5,421.0 251.1,420.5 250.3,420.0 249.0,419.5 249.0,419.0 249.0,418.5 249.0,418.0 249.0,417.5 249.0,417.0 249.0,416.5 249.7,416.0 250.8,415.5 251.3,415.0 251.5,414.5 251.6,414.0 251.5,413.5 251.3,413.0 250.8,412.5 249.7,412.0 249.0,411.5 249.0,411.0 249.0,410.5 249.0,410.0 249.0,409.5 249.0,409.0 249.0,408.5 249.7,408.0 250.8,407.5 251.2,407.0 251.5,406.5 251.6,406.0 251.5,405.5 251.2,405.0 250.8,404.5 249.7,404.0 248.9,403.5 248.9,403.0 248.9,402.5 248.9,402.0 248.9,401.5 248.9,401.0 248.9,400.5 249.6,400.0 250.7,399.5 251.2,399.0 251.4,398.5 251.5,398.0 251.4,397.5 251.2,397.0 250.7,396.5 249.6,396.0 248.9,395.5 248.9,395.0 248.9,394.5 248.9,394.0 248.9,393.5 248.9,393.0 248.9,392.5 248.9,392.0 250.4,391.5 251.0,391.0 251.3,390.5 251.4,390.0 251.5,389.5 251.4,389.0 251.1,388.5 250.6,388.0 249.7,387.5 248.9,387.0 248.9,386.5 248.9,386.0 248.9,385.5 248.9,385.0 248.9,384.5 248.9,384.0 248.8,383.5 250.0,383.0 250.8,382.5 251.2,382.0 251.4,381.5 251.4,381.0 251.4,380.5 251.2,380.0 250.8,379.5 250.0,379.0 248.8,378.5 248.8,378.0 248.8,377.5 248.8,377.0 248.8,376.5 248.8,376.0 248.8,375.5 248.8,375.0 248.8,374.5 250.3,374.0 250.9,373.5 251.2,373.0 251.3,372.5 251.4,372.0 251.3,371.5 251.2,371.0 250.8,370.5 250.3,370.0 248.8,369.5 248.8,369.0 248.8,368.5 248.8,368.0 248.8,367.5 248.8,367.0 248.8,366.5 248.8,366.0 248.8,365.5 249.4,365.0 250.4,364.5 250.9,364.0 251.2,363.5 251.3,363.0 251.3,362.5 251.2,362.0 251.0,361.5 250.6,361.0 249.9,360.5 248.7,360.0 248.7,359.5 248.7,359.0 248.7,358.5 248.7,358.0 248.7,357.5 248.7,357.0 248.7,356.5 248.7,356.0 250.2,355.5 250.8,355.0 251.1,354.5 251.3,354.0 251.3,353.5 251.2,353.0 250.9,352.5 250.5,352.0 249.5,351.5 248.7,351.0 248.7,350.5 248.7,350.0 248.7,349.5 248.7,349.0 248.7,348.5 248.7,348.0 248.7,347.5 248.7,347.0 249.8,346.5 250.5,346.0 250.8,345.5 251.1,345.0 251.2,344.5 251.3,344.0 251.2,343.5 251.1,343.0 250.8,342.5 250.4,342.0 249.7,341.5 248.6,341.0 248.6,340.5 248.6,340.0 248.6,339.5 248.6,339.0 248.6,338.5 248.6,338.0 248.6,337.5 248.6,337.0 248.6,336.5 250.1,336.0 250.7,335.5 251.0,335.0 251.2,334.5 251.2,334.0 251.2,333.5 251.0,333.0 250.7,332.5 250.1,332.0 248.6,331.5 248.6,331.0 248.6,330.5 248.6,330.0 248.6,329.5 248.6,329.0 248.6,328.5 248.6,328.0 248.6,327.5 248.6,327.0 250.0,326.5 250.5,326.0 250.9,325.5 251.1,325.0 251.2,324.5 251.1,324.0 251.0,323.5 250.8,323.0 250.4,322.5 249.8,322.0 248.6,321.5 248.5,321.0 248.5,320.5 248.5,320.0 248.5,319.5 248.5,319.0 248.5,318.5 248.5,318.0 248.5,317.5 248.5,317.0 249.9,316.5 250.5,316.0 250.8,315.5 251.0,315.0 251.1,314.5 251.1,314.0 251.0,313.5 250.8,313.0 250.4,312.5 249.7,312.0 248.5,311.5 248.5,311.0 248.5,310.5 248.5,310.0 248.5,309.5 248.5,309.0 248.5,308.5 248.5,308.0 248.5,307.5 248.5,307.0 249.6,306.5 250.3,306.0 250.7,305.5 250.9,305.0 251.0,304.5 251.1,304.0 251.0,303.5 250.9,303.0 250.6,302.5 250.2,302.0 249.5,301.5 248.5,301.0 248.5,300.5 248.4,300.0 248.4,299.5 248.4,299.0 248.4,298.5 248.4,298.0 248.4,297.5 248.4,297.0 248.4,296.5 248.4,296.0 249.8,295.5 250.3,295.0 250.7,294.5 250.9,294.0 251.0,293.5 251.0,293.0 251.0,292.5 250.9,292.0 250.6,291.5 250.3,291.0 249.8,290.5 248.4,290.0 248.4,289.5 248.4,289.0 248.4,288.5 248.4,288.0 248.4,287.5 248.4,287.0 248.4,286.5 248.4,286.0 248.4,285.5 248.4,285.0 249.5,284.5 250.2,284.0 250.5,283.5 250.8,283.0 250.9,282.5 251.0,282.0 250.9,281.5 250.8,281.0 250.5,280.5 250.1,280.0 249.4,279.5 248.3,279.0 248.3,278.5 248.3,278.0 248.3,277.5 248.3,277.0 248.3,276.5 248.3,276.0 248.3,275.5 248.3,275.0 248.3,274.5 248.3,274.0 249.7,273.5 250.2,273.0 250.6,272.5 250.8,272.0 250.9,271.5 250.9,271.0 250.9,270.5 250.8,270.0 250.5,269.5 250.2,269.0 249.7,268.5 248.3,268.0 248.3,267.5 248.3,267.0 248.3,266.5 248.3,266.0 248.3,265.5 248.3,265.0 248.3,264.5 248.3,264.0 248.3,263.5 248.3,263.0 248.3,262.5 249.6,262.0 250.1,261.5 250.4,261.0 250.7,260.5 250.8,260.0 250.8,259.5 250.8,259.0 250.8,258.5 250.6,258.0 250.4,257.5 250.0,257.0 249.4,256.5 248.2,256.0 248.2,255.5 248.2,255.0 248.2,254.5 248.2,254.0 248.2,253.5 248.2,253.0 248.2,252.5 248.2,252.0 248.2,251.5 248.2,251.0 248.2,250.5 249.5,250.0 250.0,249.5 250.4,249.0 250.6,248.5 250.7,248.0 250.8,247.5 250.8,247.0 250.7,246.5 250.6,246.0 250.3,245.5 249.9,245.0 249.3,244.5 248.2,244.0 248.2,243.5 248.2,243.0 248.2,242.5 248.2,242.0 248.2,241.5 248.2,241.0 248.2,240.5 248.2,240.0 248.2,239.5 248.2,239.0 248.2,238.5 249.2,238.0 249.8,237.5 250.2,237.0 250.5,236.5 250.6,236.0 250.7,235.5 250.7,235.0 250.7,234.5 250.6,234.0 250.4,233.5 250.2,233.0 249.8,232.5 249.2,232.0 248.1,231.5 248.1,231.0 248.1,230.5 248.1,230.0 248.1,229.5 248.1,229.0 248.1,228.5 248.1,228.0 248.1,227.5 248.1,227.0 248.1,226.5 248.1,226.0 248.9,225.5 249.6,225.0 250.1,224.5 250.3,224.0 250.5,223.5 250.6,223.0 250.7,222.5 250.7,222.0 250.6,221.5 250.4,221.0 250.2,220.5 249.9,220.0 249.4,219.5 248.1,219.0 248.1,218.5 248.1,218.0 248.1,217.5 248.0,217.0 248.0,216.5 248.0,216.0 248.0,215.5 248.0,215.0 248.0,214.5 248.0,214.0 248.0,213.5 248.0,213.0 249.3,212.5 249.9,212.0 250.2,211.5 250.4,211.0 250.5,210.5 250.6,210.0 250.6,209.5 250.6,209.0 250.4,208.5 250.3,208.0 250.0,207.5 249.6,207.0 248.8,206.5 248.0,206.0 248.0,205.5 248.0,205.0 248.0,204.5 248.0,204.0 248.0,203.5 248.0,203.0 248.0,202.5 248.0,202.0 248.0,201.5 248.0,201.0 248.0,200.5 248.6,200.0 249.4,199.5 249.9,199.0 250.2,198.5 250.4,198.0 250.5,197.5 250.5,197.0 250.5,196.5 250.5,196.0 250.4,195.5 250.2,195.0 250.0,194.5 249.6,194.0 249.0,193.5 247.9,193.0 247.9,192.5 247.9,192.0 247.9,191.5 247.9,191.0 247.9,190.5 247.9,190.0 247.9,189.5 247.9,189.0 247.9,188.5 247.9,188.0 247.9,187.5 247.9,187.0 247.9,186.5 249.0,186.0 249.6,185.5 249.9,185.0 250.1,184.5 250.3,184.0 250.4,183.5 250.5,183.0 250.5,182.5 250.5,182.0 250.4,181.5 250.3,181.0 250.1,180.5 249.9,180.0 249.5,179.5 249.0,179.0 247.9,178.5 247.9,178.0 247.9,177.5 247.9,177.0 247.9,176.5 247.9,176.0 247.8,175.5 247.8,175.0 247.8,174.5 247.8,174.0 247.8,173.5 247.8,173.0 247.8,172.5 247.8,172.0 247.8,171.5 248.4,171.0 249.2,170.5 249.6,170.0 249.9,169.5 250.1,169.0 250.2,168.5 250.3,168.0 250.4,167.5 250.4,167.0 250.4,166.5 250.3,166.0 250.3,165.5 250.1,165.0 249.9,164.5 249.7,164.0 249.3,163.5 248.8,163.0 247.8,162.5 247.8,162.0 247.8,161.5 247.8,161.0 247.8,160.5 247.8,160.0 247.8,159.5 247.8,159.0 247.8,158.5 247.8,158.0 247.8,157.5 247.8,157.0 247.8,156.5 247.8,156.0 248.2,155.5 249.2,155.0 249.6,154.5 249.9,154.0 250.1,153.5 250.2,153.0 250.3,152.5 250.3,152.0 250.3,151.5 250.2,151.0 250.1,150.5 249.8,150.0 249.5,149.5 249.0,149.0 247.7,148.5 247.7,148.0 247.7,147.5 247.7,147.0 247.7,146.5 247.7,146.0 247.7,145.5 247.7,145.0 247.7,144.5 247.7,144.0 247.7,143.5 247.7,143.0 247.7,142.5 247.7,142.0 247.7,141.5 248.3,141.0 249.0,140.5 249.4,140.0 249.7,139.5 249.9,139.0 250.0,138.5 250.1,138.0 250.2,137.5 250.3,137.0 250.3,136.5 250.2,136.0 250.2,135.5 250.1,135.0 249.9,134.5 249.8,134.0 249.5,133.5 249.2,133.0 248.6,132.5 247.6,132.0 247.6,131.5 247.6,131.0 247.6,130.5 247.6,130.0 247.6,129.5 247.6,129.0 247.6,128.5 247.6,128.0 247.6,127.5 247.6,127.0 247.6,126.5 247.6,126.0 247.6,125.5 247.6,125.0 247.6,124.5 247.6,124.0 248.8,123.5 249.3,123.0 249.6,122.5 249.8,122.0 249.9,121.5 250.1,121.0 250.1,120.5 250.2,120.0 250.2,119.5 250.1,119.0 250.1,118.5 250.0,118.0 249.8,117.5 249.6,117.0 249.4,116.5 249.0,116.0 248.3,115.5 247.6,115.0 247.6,114.5 247.6,114.0 247.6,113.5 247.5,113.0 247.5,112.5 247.5,112.0 247.5,111.5 247.5,111.0 247.5,110.5 247.5,110.0 247.5,109.5 247.5,109.0 247.5,108.5 247.5,108.0 248.2,107.5 248.9,107.0 249.3,106.5 249.6,106.0 249.8,105.5 250.0,105.0 250.0,104.5 250.1,104.0 250.1,103.5 250.1,103.0 250.0,102.5 249.9,102.0 249.7,101.5 249.4,101.0 249.1,100.5 248.5,100.0 247.5,99.5 247.5,99.0 247.5,98.5 247.5,98.0 247.5,97.5 247.5,97.0 247.5,96.5 247.5,96.0 247.5,95.5 247.5,95.0 247.5,94.5 247.5,94.0 247.5,93.5 247.5,93.0 247.5,92.5 247.4,92.0 248.2,91.5 248.8,91.0 249.2,90.5 249.4,90.0 249.6,89.5 249.8,89.0 249.9,88.5 250.0,88.0 250.0,87.5 250.0,87.0 250.0,86.5 250.0,86.0 249.9,85.5 249.8,85.0 249.6,84.5 249.4,84.0 249.1,83.5 248.8,83.0 248.1,82.5 247.4,82.0 247.4,81.5 247.4,81.0 247.4,80.5 247.4,80.0 247.4,79.5 247.4,79.0 247.4,78.5 247.4,78.0 247.4,77.5 247.4,77.0 247.4,76.5 247.4,76.0 247.4,75.5 247.4,75.0 247.4,74.5 247.4,74.0 248.5,73.5 248.9,73.0 249.3,72.5 249.5,72.0 249.7,71.5 249.8,71.0 249.9,70.5 249.9,70.0 249.9,69.5 249.9,69.0 249.9,68.5 249.8,68.0 249.6,67.5 249.5,67.0 249.2,66.5 248.9,66.0 248.4,65.5 247.3,65.0 247.3,64.5 247.3,64.0 247.3,63.5 247.3,63.0 247.3,62.5 247.3,62.0 247.3,61.5 247.3,61.0"/>
<polygon fill="#ffffff" points="243.8,61.0 243.8,61.5 243.8,62.0 243.8,62.5 243.8,63.0 243.8,63.5 243.8,64.0 243.8,64.5 243.8,65.0 243.8,65.5 243.8,66.0 243.8,66.5 243.8,67.0 243.8,67.5 243.8,68.0 243.8,68.5 243.8,69.0 243.8,69.5 243.8,70.0 243.8,70.5 243.8,71.0 243.9,71.5 243.9,72.0 243.9,72.5 243.9,73.0 243.9,73.5 243.9,74.0 243.9,74.5 243.9,75.0 243.9,75.5 243.9,76.0 243.9,76.5 243.9,77.0 243.9,77.5 243.9,78.0 243.9,78.5 243.9,79.0 243.9,79.5 243.9,80.0 243.9,80.5 243.9,81.0 243.9,81.5 243.9,82.0 243.9,82.5 243.9,83.0 243.9,83.5 243.9,84.0 243.9,84.5 243.9,85.0 243.9,85.5 243.9,86.0 243.9,86.5 243.9,87.0 243.9,87.5 243.9,88.0 243.9,88.5 243.9,89.0 243.9,89.5 243.9,90.0 243.9,90.5 243.9,91.0 243.9,91.5 243.9,92.0 244.0,92.5 244.0,93.0 244.0,93.5 244.0,94.0 244.0,94.5 244.0,95.0 244.0,95.5 244.0,96.0 244.0,96.5 244.0,97.0 244.0,97.5 244.0,98.0 244.0,98.5 244.0,99.0 244.0,99.5 244.0,100.0 244.0,100.5 244.0,101.0 244.0,101.5 244.0,102.0 244.0,102.5 244.0,103.0 244.0,103.5 244.0,104.0 244.0,104.5 244.0,105.0 244.0,105.5 244.0,106.0 244.0,106.5 244.0,107.0 244.0,107.5 244.0,108.0 244.0,108.5 244.0,109.0 244.0,109.5 244.0,110.0 244.0,110.5 244.0,111.0 244.0,111.5 244.0,112.0 244.0,112.5 244.0,113.0 244.1,113.5 244.1,114.0 244.1,114.5 244.1,115.0 244.1,115.5 244.1,116.0 244.1,116.5 244.1,117.0 244.1,117.5 244.1,118.0 244.1,118.5 244.1,119.0 244.1,119.5 244.1,120.0 244.1,120.5 244.1,121.0 244.1,121.5 244.1,122.0 244.1,122.5 244.1,123.0 244.1,123.5 244.1,124.0 244.1,124.5 244.1,125.0 244.1,125.5 244.1,126.0 244.1,126.5 244.1,127.0 244.1,127.5 244.1,128.0 244.1,128.5 244.1,129.0 244.1,129.5 244.1,130.0 244.1,130.5 244.1,131.0 244.1,131.5 244.1,132.0 244.1,132.5 244.1,133.0 244.1,133.5 244.2,134.0 244.2,134.5 244.2,135.0 244.2,135.5 244.2,136.0 244.2,136.5 244.2,137.0 244.2,137.5 244.2,138.0 244.2,138.5 244.2,139.0 244.2,139.5 244.2,140.0 244.2,140.5 244.2,141.0 244.2,141.5 244.2,142.0 244.2,142.5 244.2,143.0 244.2,143.5 244.2,144.0 244.2,144.5 244.2,145.0 244.2,145.5 244.2,146.0 244.2,146.5 244.2,147.0 244.2,147.5 244.2,148.0 244.2,148.5 244.2,149.0 244.2,149.5 244.2,150.0 244.2,150.5 244.2,151.0 244.2,151.5 244.2,152.0 244.2,152.5 244.2,153.0 244.2,153.5 244.2,154.0 244.2,154.5 244.3,155.0 244.3,155.5 244.3,156.0 244.3,156.5 244.3,157.0 244.3,157.5 244.3,158.0 244.3,158.5 244.3,159.0 244.3,159.5 244.3,160.0 244.3,160.5 244.3,161.0 244.3,161.5 244.3,162.0 244.3,162.5 244.3,163.0 244.3,163.5 244.3,164.0 244.3,164.5 244.3,165.0 244.3,165.5 244.3,166.0 244.3,166.5 244.3,167.0 244.3,167.5 244.3,168.0 244.3,168.5 244.3,169.0 244.3,169.5 244.3,170.0 244.3,170.5 244.3,171.0 244.3,171.5 244.3,172.0 244.3,172.5 244.3,173.0 244.3,173.5 244.3,174.0 244.3,174.5 244.3,175.0 244.3,175.5 244.4,176.0 244.4,176.5 244.4,177.0 244.4,177.5 244.4,178.0 244.4,178.5 244.4,179.0 244.4,179.5 244.4,180.0 244.4,180.5 244.4,181.0 244.4,181.5 244.4,182.0 244.4,182.5 244.4,183.0 244.4,183.5 244.4,184.0 244.4,184.5 244.4,185.0 244.4,185.5 244.4,186.0 244.4,186.5 244.4,187.0 244.4,187.5 244.4,188.0 244.4,188.5 244.4,189.0 244.4,189.5 244.4,190.0 244.4,190.5 244.4,191.0 244.4,191.5 244.4,192.0 244.4,192.5 244.4,193.0 244.4,193.5 244.4,194.0 244.4,194.5 244.4,195.0 244.4,195.5 244.4,196.0 244.5,196.5 244.5,197.0 244.5,197.5 244.5,198.0 244.5,198.5 244.5,199.0 244.5,199.5 244.5,200.0 244.5,200.5 244.5,201.0 244.5,201.5 244.5,202.0 244.5,202.5 244.5,203.0 244.5,203.5 244.5,204.0 244.5,204.5 244.5,205.0 244.5,205.5 244.5,206.0 244.5,206.5 244.5,207.0 244.5,207.5 244.5,208.0 244.5,208.5 244.5,209.0 244.5,209.5 244.5,210.0 244.5,210.5 244.5,211.0 244.5,211.5 244.5,212.0 244.5,212.5 244.5,213.0 244.5,213.5 244.5,214.0 244.5,214.5 244.5,215.0 244.5,215.5 244.5,216.0 244.5,216.5 244.5,217.0 244.6,217.5 244.6,218.0 244.6,218.5 244.6,219.0 244.6,219.5 244.6,220.0 244.6,220.5 244.6,221.0 244.6,221.5 244.6,222.0 244.6,222.5 244.6,223.0 244.6,223.5 244.6,224.0 244.6,224.5 244.6,225.0 244.6,225.5 244.6,226.0 244.6,226.5 244.6,227.0 244.6,227.5 244.6,228.0 244.6,228.5 244.6,229.0 244.6,229.5 244.6,230.0 244.6,230.5 244.6,231.0 244.6,231.5 244.6,232.0 244.6,232.5 244.6,233.0 244.6,233.5 244.6,234.0 244.6,234.5 244.6,235.0 244.6,235.5 244.6,236.0 244.6,236.5 244.6,237.0 244.6,237.5 244.6,238.0 244.7,238.5 244.7,239.0 244.7,239.5 244.7,240.0 244.7,240.5 244.7,241.0 244.7,241.5 244.7,242.0 244.7,242.5 244.7,243.0 244.7,243.5 244.7,244.0 244.7,244.5 244.7,245.0 244.7,245.5 244.7,246.0 244.7,246.5 244.7,247.0 244.7,247.5 244.7,248.0 244.7,248.5 244.7,249.0 244.7,249.5 244.7,250.0 244.7,250.5 244.7,251.0 244.7,251.5 244.7,252.0 244.7,252.5 244.7,253.0 244.7,253.5 244.7,254.0 244.7,254.5 244.7,255.0 244.7,255.5 244.7,256.0 244.7,256.5 244.7,257.0 244.7,257.5 244.7,258.0 244.7,258.5 244.8,259.0 244.8,259.5 244.8,260.0 244.8,260.5 244.8,261.0 244.8,261.5 244.8,262.0 244.8,262.5 244.8,263.0 244.8,263.5 244.8,264.0 244.8,264.5 244.8,265.0 244.8,265.5 244.8,266.0 244.8,266.5 244.8,267.0 244.8,267.5 244.8,268.0 244.8,268.5 244.8,269.0 244.8,269.5 244.8,270.0 244.8,270.5 244.8,271.0 244.8,271.5 244.8,272.0 244.8,272.5 244.8,273.0 244.8,273.5 244.8,274.0 244.8,274.5 244.8,275.0 244.8,275.5 244.8,276.0 244.8,276.5 244.8,277.0 244.8,277.5 244.8,278.0 244.8,278.5 244.8,279.0 244.8,279.5 244.9,280.0 244.9,280.5 244.9,281.0 244.9,281.5 244.9,282.0 244.9,282.5 244.9,283.0 244.9,283.5 244.9,284.0 244.9,284.5 244.9,285.0 244.9,285.5 244.9,286.0 244.9,286.5 244.9,287.0 244.9,287.5 244.9,288.0 244.9,288.5 244.9,289.0 244.9,289.5 244.9,290.0 244.9,290.5 244.9,291.0 244.9,291.5 244.9,292.0 244.9,292.5 244.9,293.0 244.9,293.5 244.9,294.0 244.9,294.5 244.9,295.0 244.9,295.5 244.9,296.0 244.9,296.5 244.9,297.0 244.9,297.5 244.9,298.0 244.9,298.5 244.9,299.0 244.9,299.5 244.9,300.0 245.0,300.5 245.0,301.0 245.0,301.5 245.0,302.0 245.0,302.5 245.0,303.0 245.0,303.5 245.0,304.0 245.0,304.5 245.0,305.0 245.0,305.5 245.0,306.0 245.0,306.5 245.0,307.0 245.0,307.5 245.0,308.0 245.0,308.5 245.0,309.0 245.0,309.5 245.0,310.0 245.0,310.5 245.0,311.0 245.0,311.5 245.0,312.0 245.0,312.5 245.0,313.0 245.0,313.5 245.0,314.0 245.0,314.5 245.0,315.0 245.0,315.5 245.0,316.0 245.0,316.5 245.0,317.0 245.0,317.5 245.0,318.0 245.0,318.5 245.0,319.0 245.0,319.5 245.0,320.0 245.0,320.5 245.0,321.0 245.1,321.5 245.1,322.0 245.1,322.5 245.1,323.0 245.1,323.5 245.1,324.0 245.1,324.5 245.1,325.0 245.1,325.5 245.1,326.0 245.1,326.5 245.1,327.0 245.1,327.5 245.1,328.0 245.1,328.5 245.1,329.0 245.1,329.5 245.1,330.0 245.1,330.5 245.1,331.0 245.1,331.5 245.1,332.0 245.1,332.5 245.1,333.0 245.1,333.5 245.1,334.0 245.1,334.5 245.1,335.0 245.1,335.5 245.1,336.0 245.1,336.5 245.1,337.0 245.1,337.5 245.1,338.0 245.1,338.5 245.1,339.0 245.1,339.5 245.1,340.0 245.1,340.5 245.1,341.0 245.1,341.5 245.1,342.0 245.2,342.5 245.2,343.0 245.2,343.5 245.2,344.0 245.2,344.5 245.2,345.0 245.2,345.5 245.2,346.0 245.2,346.5 245.2,347.0 245.2,347.5 245.2,348.0 245.2,348.5 245.2,349.0 245.2,349.5 245.2,350.0 245.2,350.5 245.2,351.0 245.2,351.5 245.2,352.0 245.2,352.5 245.2,353.0 245.2,353.5 245.2,354.0 245.2,354.5 245.2,355.0 245.2,355.5 245.2,356.0 245.2,356.5 245.2,357.0 245.2,357.5 245.2,358.0 245.2,358.5 245.2,359.0 245.2,359.5 245.2,360.0 245.2,360.5 245.2,361.0 245.2,361.5 245.2,362.0 245.2,362.5 245.3,363.0 245.3,363.5 245.3,364.0 245.3,364.5 245.3,365.0 245.3,365.5 245.3,366.0 245.3,366.5 245.3,367.0 245.3,367.5 245.3,368.0 245.3,368.5 245.3,369.0 245.3,369.5 245.3,370.0 245.3,370.5 245.3,371.0 245.3,371.5 245.3,372.0 245.3,372.5 245.3,373.0 245.3,373.5 245.3,374.0 245.3,374.5 245.3,375.0 245.3,375.5 245.3,376.0 245.3,376.5 245.3,377.0 245.3,377.5 245.3,378.0 245.3,378.5 245.3,379.0 245.3,379.5 245.3,380.0 245.3,380.5 245.3,381.0 245.3,381.5 245.3,382.0 245.3,382.5 245.3,383.0 245.3,383.5 245.4,384.0 245.4,384.5 245.4,385.0 245.4,385.5 245.4,386.0 245.4,386.5 245.4,387.0 245.4,387.5 245.4,388.0 245.4,388.5 245.4,389.0 245.4,389.5 245.4,390.0 245.4,390.5 245.4,391.0 245.4,391.5 245.4,392.0 245.4,392.5 245.4,393.0 245.4,393.5 245.4,394.0 245.4,394.5 245.4,395.0 245.4,395.5 245.4,396.0 245.4,396.5 245.4,397.0 245.4,397.5 245.4,398.0 245.4,398.5 245.4,399.0 245.4,399.5 245.4,400.0 245.4,400.5 245.4,401.0 245.4,401.5 245.4,402.0 245.4,402.5 245.4,403.0 245.4,403.5 245.4,404.0 245.4,404.5 245.5,405.0 245.5,405.5 245.5,406.0 245.5,406.5 245.5,407.0 245.5,407.5 245.5,408.0 245.5,408.5 245.5,409.0 245.5,409.5 245.5,410.0 245.5,410.5 245.5,411.0 245.5,411.5 245.5,412.0 245.5,412.5 245.5,413.0 245.5,413.5 245.5,414.0 245.5,414.5 245.5,415.0 245.5,415.5 245.5,416.0 245.5,416.5 245.5,417.0 245.5,417.5 245.5,418.0 245.5,418.5 245.5,419.0 245.5,419.5 245.5,420.0 245.5,420.5 245.5,421.0 245.5,421.5 245.5,422.0 245.5,422.5 245.5,423.0 245.5,423.5 245.5,424.0 245.5,424.5 245.5,425.0 245.6,425.5 245.6,426.0 245.6,426.5 245.6,427.0 245.6,427.5 245.6,428.0 245.6,428.5 245.6,429.0 245.6,429.5 245.6,430.0 245.6,430.5 245.6,431.0 245.6,431.5 245.6,432.0 245.6,432.5 245.6,433.0 245.6,433.5 245.6,434.0 245.6,434.5 245.6,435.0 245.6,435.5 245.6,436.0 245.6,436.5 245.6,437.0 245.6,437.5 245.6,438.0 245.6,438.5 245.6,439.0 245.6,439.5 245.6,440.0 245.6,440.5 245.6,441.0 245.6,441.5 245.6,442.0 245.6,442.5 245.6,443.0 245.6,443.5 245.6,444.0 245.6,444.5 245.6,445.0 245.6,445.5 245.6,446.0 245.7,446.5 245.7,447.0 245.7,447.5 245.7,448.0 245.7,448.5 245.7,449.0 245.7,449.5 245.7,450.0 245.7,450.5 245.7,451.0 245.7,451.5 245.7,452.0 245.7,452.5 245.7,453.0 245.7,453.5 245.7,454.0 245.7,454.5 245.7,455.0 245.7,455.5 245.7,456.0 245.7,456.5 245.7,457.0 245.7,457.5 245.7,458.0 245.7,458.5 245.7,459.0 245.7,459.5 245.7,460.0 245.7,460.5 245.7,461.0 245.7,461.5 245.7,462.0 245.7,462.5 245.7,463.0 245.7,463.5 245.7,464.0 245.7,464.5 245.7,465.0 245.7,465.5 245.7,466.0 245.7,466.5 245.7,467.0 245.8,467.5 245.8,468.0 245.8,468.5 245.8,469.0 245.8,469.5 245.8,470.0 245.8,470.5 245.8,471.0 245.8,471.5 245.8,472.0 245.8,472.5 245.8,473.0 245.8,473.5 245.8,474.0 245.8,474.5 245.8,475.0 245.8,475.5 245.8,476.0 245.8,476.5 245.8,477.0 245.8,477.5 245.8,478.0 245.8,478.5 245.8,479.0 245.8,479.5 245.8,480.0 245.8,480.5 245.8,481.0 245.8,481.5 245.8,482.0 245.8,482.5 245.8,483.0 245.8,483.5 245.8,484.0 245.8,484.5 245.8,485.0 245.8,485.5 245.8,486.0 245.8,486.5 245.8,487.0 245.8,487.5 245.9,488.0 245.9,488.5 245.9,489.0 245.9,489.5 245.9,490.0 245.9,490.5 245.9,491.0 245.9,491.5 245.9,492.0 245.9,492.5 245.9,493.0 245.9,493.5 245.9,494.0 245.9,494.5 245.9,495.0 245.9,495.5 245.9,496.0 245.9,496.5 245.9,497.0 245.9,497.5 245.9,498.0 245.9,498.5 245.9,499.0 245.9,499.5 245.9,500.0 245.9,500.5 245.9,501.0 245.9,501.5 245.9,502.0 245.9,502.5 245.9,503.0 245.9,503.5 245.9,504.0 245.9,504.5 245.9,505.0 245.9,505.5 245.9,506.0 245.9,506.5 245.9,507.0 245.9,507.5 245.9,508.0 245.9,508.5 246.0,509.0 246.0,509.5 246.0,510.0 246.0,510.5 246.0,511.0 246.0,511.5 246.0,512.0 246.0,512.5 246.0,513.0 246.0,513.5 246.0,514.0 246.0,514.5 246.0,515.0 246.0,515.5 246.0,516.0 246.0,516.5 246.0,517.0 246.0,517.5 246.0,518.0 246.0,518.5 246.0,519.0 246.0,519.5 246.0,520.0 246.0,520.5 246.0,521.0 246.0,521.5 246.0,522.0 246.0,522.5 246.0,523.0 246.0,523.5 246.0,524.0 246.0,524.5 246.0,525.0 246.0,525.5 246.0,526.0 246.0,526.5 246.0,527.0 246.0,527.5 246.0,528.0 246.0,528.5 246.0,529.0 246.0,529.5 246.1,530.0 246.1,530.5 246.1,531.0 246.1,531.5 246.1,532.0 246.1,532.5 246.1,533.0 246.1,533.5 246.1,534.0 246.1,534.5 246.1,535.0 246.1,535.5 246.1,536.0 246.1,536.5 246.1,537.0 246.1,537.5 246.1,538.0 246.1,538.5 246.1,539.0 246.1,539.5 246.1,540.0 249.1,540.0 249.1,539.5 249.1,539.0 249.1,538.5 249.1,538.0 249.1,537.5 249.1,537.0 249.1,536.5 249.1,536.0 249.1,535.5 249.1,535.0 249.1,534.5 249.1,534.0 249.1,533.5 249.1,533.0 249.1,532.5 249.1,532.0 249.1,531.5 249.1,531.0 249.1,530.5 249.1,530.0 249.1,529.5 249.1,529.0 249.1,528.5 249.1,528.0 249.1,527.5 249.1,527.0 249.1,526.5 249.1,526.0 249.1,525.5 249.1,525.0 249.1,524.5 249.1,524.0 249.1,523.5 249.1,523.0 249.1,522.5 249.1,522.0 249.1,521.5 249.1,521.0 249.1,520.5 249.1,520.0 249.1,519.5 249.0,519.0 249.0,518.5 249.0,518.0 249.0,517.5 249.0,517.0 249.0,516.5 249.0,516.0 249.0,515.5 249.0,515.0 249.0,514.5 249.0,514.0 249.0,513.5 249.0,513.0 249.0,512.5 249.0,512.0 249.0,511.5 249.0,511.0 249.0,510.5 249.0,510.0 249.0,509.5 249.0,509.0 249.0,508.5 249.0,508.0 249.0,507.5 249.0,507.0 249.0,506.5 249.0,506.0 249.0,505.5 249.0,505.0 249.0,504.5 249.0,504.0 249.0,503.5 249.0,503.0 249.0,502.5 249.0,502.0 249.0,501.5 249.0,501.0 249.0,500.5 249.0,500.0 249.0,499.5 249.0,499.0 249.0,498.5 248.9,498.0 248.9,497.5 248.9,497.0 248.9,496.5 248.9,496.0 248.9,495.5 248.9,495.0 248.9,494.5 248.9,494.0 248.9,493.5 248.9,493.0 248.9,492.5 248.9,492.0 248.9,491.5 248.9,491.0 248.9,490.5 248.9,490.0 248.9,489.5 248.9,489.0 248.9,488.5 248.9,488.0 248.9,487.5 248.9,487.0 248.9,486.5 248.9,486.0 248.9,485.5 248.9,485.0 248.9,484.5 248.9,484.0 248.9,483.5 248.9,483.0 248.9,482.5 248.9,482.0 248.9,481.5 248.9,481.0 248.9,480.5 248.9,480.0 248.9,479.5 248.9,479.0 248.9,478.5 248.9,478.0 248.8,477.5 248.8,477.0 248.8,476.5 248.8,476.0 248.8,475.5 248.8,475.0 248.8,474.5 248.8,474.0 248.8,473.5 248.8,473.0 248.8,472.5 248.8,472.0 248.8,471.5 248.8,471.0 248.8,470.5 248.8,470.0 248.8,469.5 248.8,469.0 248.8,468.5 248.8,468.0 248.8,467.5 248.8,467.0 248.8,466.5 248.8,466.0 248.8,465.5 248.8,465.0 248.8,464.5 248.8,464.0 248.8,463.5 248.8,463.0 248.8,462.5 248.8,462.0 248.8,461.5 248.8,461.0 248.8,460.5 248.8,460.0 248.8,459.5 248.8,459.0 248.8,458.5 248.8,458.0 248.8,457.5 248.8,457.0 248.7,456.5 248.7,456.0 248.7,455.5 248.7,455.0 248.7,454.5 248.7,454.0 248.7,453.5 248.7,453.0 248.7,452.5 248.7,452.0 248.7,451.5 248.7,451.0 248.7,450.5 248.7,450.0 248.7,449.5 248.7,449.0 248.7,448.5 248.7,448.0 248.7,447.5 248.7,447.0 248.7,446.5 248.7,446.0 248.7,445.5 248.7,445.0 248.7,444.5 248.7,444.0 248.7,443.5 248.7,443.0 248.7,442.5 248.7,442.0 248.7,441.5 248.7,441.0 248.7,440.5 248.7,440.0 248.7,439.5 248.7,439.0 248.7,438.5 248.7,438.0 248.7,437.5 248.7,437.0 248.7,436.5 248.7,436.0 248.6,435.5 248.6,435.0 248.6,434.5 248.6,434.0 248.6,433.5 248.6,433.0 248.6,432.5 248.6,432.0 248.6,431.5 248.6,431.0 248.6,430.5 248.6,430.0 248.6,429.5 248.6,429.0 248.6,428.5 248.6,428.0 248.6,427.5 248.6,427.0 248.6,426.5 248.6,426.0 248.6,425.5 248.6,425.0 248.6,424.5 248.6,424.0 248.6,423.5 248.6,423.0 248.6,422.5 248.6,422.0 248.6,421.5 248.6,421.0 248.6,420.5 248.6,420.0 248.6,419.5 248.6,419.0 248.6,418.5 248.6,418.0 248.6,417.5 248.6,417.0 248.6,416.5 248.6,416.0 248.6,415.5 248.5,415.0 248.5,414.5 248.5,414.0 248.5,413.5 248.5,413.0 248.5,412.5 248.5,412.0 248.5,411.5 248.5,411.0 248.5,410.5 248.5,410.0 248.5,409.5 248.5,409.0 248.5,408.5 248.5,408.0 248.5,407.5 248.5,407.0 248.5,406.5 248.5,406.0 248.5,405.5 248.5,405.0 248.5,404.5 248.5,404.0 248.5,403.5 248.5,403.0 248.5,402.5 248.5,402.0 248.5,401.5 248.5,401.0 248.5,400.5 248.5,400.0 248.5,399.5 248.5,399.0 248.5,398.5 248.5,398.0 248.5,397.5 248.5,397.0 248.5,396.5 248.5,396.0 248.5,395.5 248.5,395.0 248.5,394.5 248.4,394.0 248.4,393.5 248.4,393.0 248.4,392.5 248.4,392.0 248.4,391.5 248.4,391.0 248.4,390.5 248.4,390.0 248.4,389.5 248.4,389.0 248.4,388.5 248.4,388.0 248.4,387.5 248.4,387.0 248.4,386.5 248.4,386.0 248.4,385.5 248.4,385.0 248.4,384.5 248.4,384.0 248.4,383.5 248.4,383.0 248.4,382.5 248.4,382.0 248.4,381.5 248.4,381.0 248.4,380.5 248.4,380.0 248.4,379.5 248.4,379.0 248.4,378.5 248.4,378.0 248.4,377.5 248.4,377.0 248.4,376.5 248.4,376.0 248.4,375.5 248.4,375.0 248.4,374.5 248.4,374.0 248.4,373.5 248.3,373.0 248.3,372.5 248.3,372.0 248.3,371.5 248.3,371.0 248.3,370.5 248.3,370.0 248.3,369.5 248.3,369.0 248.3,368.5 248.3,368.0 248.3,367.5 248.3,367.0 248.3,366.5 248.3,366.0 248.3,365.5 248.3,365.0 248.3,364.5 248.3,364.0 248.3,363.5 248.3,363.0 248.3,362.5 248.3,362.0 248.3,361.5 248.3,361.0 248.3,360.5 248.3,360.0 248.3,359.5 248.3,359.0 248.3,358.5 248.3,358.0 248.3,357.5 248.3,357.0 248.3,356.5 248.3,356.0 248.3,355.5 248.3,355.0 248.3,354.5 248.3,354.0 248.3,353.5 248.3,353.0 248.2,352.5 248.2,352.0 248.2,351.5 248.2,351.0 248.2,350.5 248.2,350.0 248.2,349.5 248.2,349.0 248.2,348.5 248.2,348.0 248.2,347.5 248.2,347.0 248.2,346.5 248.2,346.0 248.2,345.5 248.2,345.0 248.2,344.5 248.2,344.0 248.2,343.5 248.2,343.0 248.2,342.5 248.2,342.0 248.2,341.5 248.2,341.0 248.2,340.5 248.2,340.0 248.2,339.5 248.2,339.0 248.2,338.5 248.2,338.0 248.2,337.5 248.2,337.0 248.2,336.5 248.2,336.0 248.2,335.5 248.2,335.0 248.2,334.5 248.2,334.0 248.2,333.5 248.2,333.0 248.2,332.5 248.2,332.0 248.1,331.5 248.1,331.0 248.1,330.5 248.1,330.0 248.1,329.5 248.1,329.0 248.1,328.5 248.1,328.0 248.1,327.5 248.1,327.0 248.1,326.5 248.1,326.0 248.1,325.5 248.1,325.0 248.1,324.5 248.1,324.0 248.1,323.5 248.1,323.0 248.1,322.5 248.1,322.0 248.1,321.5 248.1,321.0 248.1,320.5 248.1,320.0 248.1,319.5 248.1,319.0 248.1,318.5 248.1,318.0 248.1,317.5 248.1,317.0 248.1,316.5 248.1,316.0 248.1,315.5 248.1,315.0 248.1,314.5 248.1,314.0 248.1,313.5 248.1,313.0 248.1,312.5 248.1,312.0 248.1,311.5 248.1,311.0 248.0,310.5 248.0,310.0 248.0,309.5 248.0,309.0 248.0,308.5 248.0,308.0 248.0,307.5 248.0,307.0 248.0,306.5 248.0,306.0 248.0,305.5 248.0,305.0 248.0,304.5 248.0,304.0 248.0,303.5 248.0,303.0 248.0,302.5 248.0,302.0 248.0,301.5 248.0,301.0 248.0,300.5 248.0,300.0 248.0,299.5 248.0,299.0 248.0,298.5 248.0,298.0 248.0,297.5 248.0,297.0 248.0,296.5 248.0,296.0 248.0,295.5 248.0,295.0 248.0,294.5 248.0,294.0 248.0,293.5 248.0,293.0 248.0,292.5 248.0,292.0 248.0,291.5 248.0,291.0 248.0,290.5 247.9,290.0 247.9,289.5 247.9,289.0 247.9,288.5 247.9,288.0 247.9,287.5 247.9,287.0 247.9,286.5 247.9,286.0 247.9,285.5 247.9,285.0 247.9,284.5 247.9,284.0 247.9,283.5 247.9,283.0 247.9,282.5 247.9,282.0 247.9,281.5 247.9,281.0 247.9,280.5 247.9,280.0 247.9,279.5 247.9,279.0 247.9,278.5 247.9,278.0 247.9,277.5 247.9,277.0 247.9,276.5 247.9,276.0 247.9,275.5 247.9,275.0 247.9,274.5 247.9,274.0 247.9,273.5 247.9,273.0 247.9,272.5 247.9,272.0 247.9,271.5 247.9,271.0 247.9,270.5 247.9,270.0 247.9,269.5 247.8,269.0 247.8,268.5 247.8,268.0 247.8,267.5 247.8,267.0 247.8,266.5 247.8,266.0 247.8,265.5 247.8,265.0 247.8,264.5 247.8,264.0 247.8,263.5 247.8,263.0 247.8,262.5 247.8,262.0 247.8,261.5 247.8,261.0 247.8,260.5 247.8,260.0 247.8,259.5 247.8,259.0 247.8,258.5 247.8,258.0 247.8,257.5 247.8,257.0 247.8,256.5 247.8,256.0 247.8,255.5 247.8,255.0 247.8,254.5 247.8,254.0 247.8,253.5 247.8,253.0 247.8,252.5 247.8,252.0 247.8,251.5 247.8,251.0 247.8,250.5 247.8,250.0 247.8,249.5 247.8,249.0 247.8,248.5 247.7,248.0 247.7,247.5 247.7,247.0 247.7,246.5 247.7,246.0 247.7,245.5 247.7,245.0 247.7,244.5 247.7,244.0 247.7,243.5 247.7,243.0 247.7,242.5 247.7,242.0 247.7,241.5 247.7,241.0 247.7,240.5 247.7,240.0 247.7,239.5 247.7,239.0 247.7,238.5 247.7,238.0 247.7,237.5 247.7,237.0 247.7,236.5 247.7,236.0 247.7,235.5 247.7,235.0 247.7,234.5 247.7,234.0 247.7,233.5 247.7,233.0 247.7,232.5 247.7,232.0 247.7,231.5 247.7,231.0 247.7,230.5 247.7,230.0 247.7,229.5 247.7,229.0 247.7,228.5 247.7,228.0 247.6,227.5 247.6,227.0 247.6,226.5 247.6,226.0 247.6,225.5 247.6,225.0 247.6,224.5 247.6,224.0 247.6,223.5 247.6,223.0 247.6,222.5 247.6,222.0 247.6,221.5 247.6,221.0 247.6,220.5 247.6,220.0 247.6,219.5 247.6,219.0 247.6,218.5 247.6,218.0 247.6,217.5 247.6,217.0 247.6,216.5 247.6,216.0 247.6,215.5 247.6,215.0 247.6,214.5 247.6,214.0 247.6,213.5 247.6,213.0 247.6,212.5 247.6,212.0 247.6,211.5 247.6,211.0 247.6,210.5 247.6,210.0 247.6,209.5 247.6,209.0 247.6,208.5 247.6,208.0 247.6,207.5 247.6,207.0 247.5,206.5 247.5,206.0 247.5,205.5 247.5,205.0 247.5,204.5 247.5,204.0 247.5,203.5 247.5,203.0 247.5,202.5 247.5,202.0 247.5,201.5 247.5,201.0 247.5,200.5 247.5,200.0 247.5,199.5 247.5,199.0 247.5,198.5 247.5,198.0 247.5,197.5 247.5,197.0 247.5,196.5 247.5,196.0 247.5,195.5 247.5,195.0 247.5,194.5 247.5,194.0 247.5,193.5 247.5,193.0 247.5,192.5 247.5,192.0 247.5,191.5 247.5,191.0 247.5,190.5 247.5,190.0 247.5,189.5 247.5,189.0 247.5,188.5 247.5,188.0 247.5,187.5 247.5,187.0 247.5,186.5 247.5,186.0 247.4,185.5 247.4,185.0 247.4,184.5 247.4,184.0 247.4,183.5 247.4,183.0 247.4,182.5 247.4,182.0 247.4,181.5 247.4,181.0 247.4,180.5 247.4,180.0 247.4,179.5 247.4,179.0 247.4,178.5 247.4,178.0 247.4,177.5 247.4,177.0 247.4,176.5 247.4,176.0 247.4,175.5 247.4,175.0 247.4,174.5 247.4,174.0 247.4,173.5 247.4,173.0 247.4,172.5 247.4,172.0 247.4,171.5 247.4,171.0 247.4,170.5 247.4,170.0 247.4,169.5 247.4,169.0 247.4,168.5 247.4,168.0 247.4,167.5 247.4,167.0 247.4,166.5 247.4,166.0 247.4,165.5 247.3,165.0 247.3,164.5 247.3,164.0 247.3,163.5 247.3,163.0 247.3,162.5 247.3,162.0 247.3,161.5 247.3,161.0 247.3,160.5 247.3,160.0 247.3,159.5 247.3,159.0 247.3,158.5 247.3,158.0 247.3,157.5 247.3,157.0 247.3,156.5 247.3,156.0 247.3,155.5 247.3,155.0 247.3,154.5 247.3,154.0 247.3,153.5 247.3,153.0 247.3,152.5 247.3,152.0 247.3,151.5 247.3,151.0 247.3,150.5 247.3,150.0 247.3,149.5 247.3,149.0 247.3,148.5 247.3,148.0 247.3,147.5 247.3,147.0 247.3,146.5 247.3,146.0 247.3,145.5 247.3,145.0 247.3,144.5 247.2,144.0 247.2,143.5 247.2,143.0 247.2,142.5 247.2,142.0 247.2,141.5 247.2,141.0 247.2,140.5 247.2,140.0 247.2,139.5 247.2,139.0 247.2,138.5 247.2,138.0 247.2,137.5 247.2,137.0 247.2,136.5 247.2,136.0 247.2,135.5 247.2,135.0 247.2,134.5 247.2,134.0 247.2,133.5 247.2,133.0 247.2,132.5 247.2,132.0 247.2,131.5 247.2,131.0 247.2,130.5 247.2,130.0 247.2,129.5 247.2,129.0 247.2,128.5 247.2,128.0 247.2,127.5 247.2,127.0 247.2,126.5 247.2,126.0 247.2,125.5 247.2,125.0 247.2,124.5 247.2,124.0 247.2,123.5 247.1,123.0 247.1,122.5 247.1,122.0 247.1,121.5 247.1,121.0 247.1,120.5 247.1,120.0 247.1,119.5 247.1,119.0 247.1,118.5 247.1,118.0 247.1,117.5 247.1,117.0 247.1,116.5 247.1,116.0 247.1,115.5 247.1,115.0 247.1,114.5 247.1,114.0 247.1,113.5 247.1,113.0 247.1,112.5 247.1,112.0 247.1,111.5 247.1,111.0 247.1,110.5 247.1,110.0 247.1,109.5 247.1,109.0 247.1,108.5 247.1,108.0 247.1,107.5 247.1,107.0 247.1,106.5 247.1,106.0 247.1,105.5 247.1,105.0 247.1,104.5 247.1,104.0 247.1,103.5 247.1,103.0 247.0,102.5 247.0,102.0 247.0,101.5 247.0,101.0 247.0,100.5 247.0,100.0 247.0,99.5 247.0,99.0 247.0,98.5 247.0,98.0 247.0,97.5 247.0,97.0 247.0,96.5 247.0,96.0 247.0,95.5 247.0,95.0 247.0,94.5 247.0,94.0 247.0,93.5 247.0,93.0 247.0,92.5 247.0,92.0 247.0,91.5 247.0,91.0 247.0,90.5 247.0,90.0 247.0,89.5 247.0,89.0 247.0,88.5 247.0,88.0 247.0,87.5 247.0,87.0 247.0,86.5 247.0,86.0 247.0,85.5 247.0,85.0 247.0,84.5 247.0,84.0 247.0,83.5 247.0,83.0 247.0,82.5 247.0,82.0 246.9,81.5 246.9,81.0 246.9,80.5 246.9,80.0 246.9,79.5 246.9,79.0 246.9,78.5 246.9,78.0 246.9,77.5 246.9,77.0 246.9,76.5 246.9,76.0 246.9,75.5 246.9,75.0 246.9,74.5 246.9,74.0 246.9,73.5 246.9,73.0 246.9,72.5 246.9,72.0 246.9,71.5 246.9,71.0 246.9,70.5 246.9,70.0 246.9,69.5 246.9,69.0 246.9,68.5 246.9,68.0 246.9,67.5 246.9,67.0 246.9,66.5 246.9,66.0 246.9,65.5 246.9,65.0 246.9,64.5 246.9,64.0 246.9,63.5 246.9,63.0 246.9,62.5 246.9,62.0 246.9,61.5 246.8,61.0"/>
<polyline fill="none" stroke="#d8241a" stroke-width="1.1" points="243.3,61.0 243.4,61.5 243.4,62.0 243.4,62.5 243.4,63.0 243.4,63.5 243.4,64.0 243.3,64.5 243.2,65.0 243.2,65.5 243.1,66.0 243.1,66.5 243.1,67.0 243.1,67.5 243.0,68.0 243.0,68.5 243.0,69.0 243.0,69.5 243.0,70.0 243.1,70.5 243.1,71.0 243.1,71.5 243.1,72.0 243.1,72.5 243.2,73.0 243.2,73.5 243.2,74.0 243.3,74.5 243.4,75.0 243.4,75.5 243.4,76.0 243.4,76.5 243.4,77.0 243.4,77.5 243.4,78.0 243.4,78.5 243.4,79.0 243.4,79.5 243.4,80.0 243.4,80.5 243.4,81.0 243.4,81.5 243.3,82.0 243.3,82.5 243.2,83.0 243.2,83.5 243.2,84.0 243.2,84.5 243.1,85.0 243.1,85.5 243.1,86.0 243.1,86.5 243.1,87.0 243.1,87.5 243.1,88.0 243.1,88.5 243.2,89.0 243.2,89.5 243.2,90.0 243.2,90.5 243.3,91.0 243.3,91.5 243.4,92.0 243.5,92.5 243.5,93.0 243.5,93.5 243.5,94.0 243.5,94.5 243.5,95.0 243.5,95.5 243.5,96.0 243.5,96.5 243.5,97.0 243.5,97.5 243.5,98.0 243.5,98.5 243.5,99.0 243.4,99.5 243.3,100.0 243.3,100.5 243.3,101.0 243.2,101.5 243.2,102.0 243.2,102.5 243.2,103.0 243.2,103.5 243.2,104.0 243.2,104.5 243.2,105.0 243.2,105.5 243.3,106.0 243.3,106.5 243.3,107.0 243.4,107.5 243.5,108.0 243.6,108.5 243.6,109.0 243.6,109.5 243.6,110.0 243.6,110.5 243.6,111.0 243.6,111.5 243.6,112.0 243.6,112.5 243.6,113.0 243.6,113.5 243.6,114.0 243.6,114.5 243.5,115.0 243.4,115.5 243.4,116.0 243.3,116.5 243.3,117.0 243.3,117.5 243.3,118.0 243.3,118.5 243.3,119.0 243.3,119.5 243.3,120.0 243.3,120.5 243.3,121.0 243.3,121.5 243.3,122.0 243.4,122.5 243.4,123.0 243.4,123.5 243.5,124.0 243.6,124.5 243.7,125.0 243.7,125.5 243.7,126.0 243.7,126.5 243.7,127.0 243.7,127.5 243.7,128.0 243.7,128.5 243.7,129.0 243.7,129.5 243.7,130.0 243.7,130.5 243.7,131.0 243.6,131.5 243.5,132.0 243.5,132.5 243.4,133.0 243.4,133.5 243.4,134.0 243.4,134.5 243.4,135.0 243.4,135.5 243.4,136.0 243.4,136.5 243.4,137.0 243.4,137.5 243.4,138.0 243.4,138.5 243.4,139.0 243.4,139.5 243.5,140.0 243.5,140.5 243.5,141.0 243.6,141.5 243.7,142.0 243.7,142.5 243.7,143.0 243.7,143.5 243.7,144.0 243.8,144.5 243.8,145.0 243.8,145.5 243.8,146.0 243.8,146.5 243.8,147.0 243.8,147.5 243.8,148.0 243.6,148.5 243.5,149.0 243.5,149.5 243.5,150.0 243.5,150.5 243.4,151.0 243.4,151.5 243.4,152.0 243.4,152.5 243.5,153.0 243.5,153.5 243.5,154.0 243.5,154.5 243.6,155.0 243.6,155.5 243.7,156.0 243.8,156.5 243.8,157.0 243.8,157.5 243.8,158.0 243.8,158.5 243.8,159.0 243.8,159.5 243.8,160.0 243.8,160.5 243.8,161.0 243.8,161.5 243.8,162.0 243.7,162.5 243.6,163.0 243.6,163.5 243.6,164.0 243.5,164.5 243.5,165.0 243.5,165.5 243.5,166.0 243.5,166.5 243.5,167.0 243.5,167.5 243.5,168.0 243.5,168.5 243.6,169.0 243.6,169.5 243.6,170.0 243.6,170.5 243.7,171.0 243.8,171.5 243.9,172.0 243.9,172.5 243.9,173.0 243.9,173.5 243.9,174.0 243.9,174.5 243.9,175.0 243.9,175.5 243.9,176.0 243.9,176.5 243.9,177.0 243.9,177.5 243.9,178.0 243.8,178.5 243.7,179.0 243.7,179.5 243.6,180.0 243.6,180.5 243.6,181.0 243.6,181.5 243.6,182.0 243.6,182.5 243.6,183.0 243.6,183.5 243.6,184.0 243.6,184.5 243.7,185.0 243.7,185.5 243.7,186.0 243.8,186.5 244.0,187.0 244.0,187.5 244.0,188.0 244.0,188.5 244.0,189.0 244.0,189.5 244.0,190.0 244.0,190.5 244.0,191.0 244.0,191.5 244.0,192.0 244.0,192.5 243.8,193.0 243.8,193.5 243.7,194.0 243.7,194.5 243.7,195.0 243.7,195.5 243.7,196.0 243.7,196.5 243.7,197.0 243.7,197.5 243.7,198.0 243.7,198.5 243.7,199.0 243.8,199.5 243.8,200.0 243.9,200.5 244.0,201.0 244.0,201.5 244.0,202.0 244.0,202.5 244.0,203.0 244.0,203.5 244.0,204.0 244.0,204.5 244.0,205.0 244.0,205.5 243.9,206.0 243.9,206.5 243.8,207.0 243.8,207.5 243.7,208.0 243.7,208.5 243.7,209.0 243.7,209.5 243.7,210.0 243.7,210.5 243.7,211.0 243.8,211.5 243.8,212.0 243.8,212.5 243.9,213.0 244.1,213.5 244.1,214.0 244.1,214.5 244.1,215.0 244.1,215.5 244.1,216.0 244.1,216.5 244.1,217.0 244.1,217.5 244.1,218.0 244.1,218.5 243.9,219.0 243.9,219.5 243.8,220.0 243.8,220.5 243.8,221.0 243.8,221.5 243.8,222.0 243.8,222.5 243.8,223.0 243.8,223.5 243.8,224.0 243.8,224.5 243.9,225.0 243.9,225.5 244.0,226.0 244.1,226.5 244.1,227.0 244.1,227.5 244.2,228.0 244.2,228.5 244.2,229.0 244.2,229.5 244.2,230.0 244.2,230.5 244.2,231.0 244.0,231.5 244.0,232.0 243.9,232.5 243.9,233.0 243.9,233.5 243.8,234.0 243.8,234.5 243.8,235.0 243.8,235.5 243.9,236.0 243.9,236.5 243.9,237.0 243.9,237.5 244.0,238.0 244.1,238.5 244.2,239.0 244.2,239.5 244.2,240.0 244.2,240.5 244.2,241.0 244.2,241.5 244.2,242.0 244.2,242.5 244.2,243.0 244.2,243.5 244.1,244.0 244.0,244.5 244.0,245.0 243.9,245.5 243.9,246.0 243.9,246.5 243.9,247.0 243.9,247.5 243.9,248.0 243.9,248.5 243.9,249.0 244.0,249.5 244.0,250.0 244.1,250.5 244.3,251.0 244.3,251.5 244.3,252.0 244.3,252.5 244.3,253.0 244.3,253.5 244.3,254.0 244.3,254.5 244.3,255.0 244.3,255.5 244.1,256.0 244.1,256.5 244.0,257.0 244.0,257.5 244.0,258.0 244.0,258.5 244.0,259.0 244.0,259.5 244.0,260.0 244.0,260.5 244.0,261.0 244.0,261.5 244.1,262.0 244.2,262.5 244.3,263.0 244.3,263.5 244.3,264.0 244.3,264.5 244.3,265.0 244.3,265.5 244.3,266.0 244.3,266.5 244.3,267.0 244.3,267.5 244.2,268.0 244.1,268.5 244.1,269.0 244.0,269.5 244.0,270.0 244.0,270.5 244.0,271.0 244.0,271.5 244.0,272.0 244.1,272.5 244.1,273.0 244.1,273.5 244.2,274.0 244.4,274.5 244.4,275.0 244.4,275.5 244.4,276.0 244.4,276.5 244.4,277.0 244.4,277.5 244.4,278.0 244.4,278.5 244.3,279.0 244.2,279.5 244.1,280.0 244.1,280.5 244.1,281.0 244.1,281.5 244.1,282.0 244.1,282.5 244.1,283.0 244.1,283.5 244.1,284.0 244.2,284.5 244.3,285.0 244.4,285.5 244.4,286.0 244.4,286.5 244.4,287.0 244.4,287.5 244.4,288.0 244.4,288.5 244.4,289.0 244.4,289.5 244.3,290.0 244.2,290.5 244.2,291.0 244.1,291.5 244.1,292.0 244.1,292.5 244.1,293.0 244.1,293.5 244.1,294.0 244.2,294.5 244.2,295.0 244.2,295.5 244.3,296.0 244.5,296.5 244.5,297.0 244.5,297.5 244.5,298.0 244.5,298.5 244.5,299.0 244.5,299.5 244.5,300.0 244.5,300.5 244.4,301.0 244.3,301.5 244.2,302.0 244.2,302.5 244.2,303.0 244.2,303.5 244.2,304.0 244.2,304.5 244.2,305.0 244.2,305.5 244.3,306.0 244.3,306.5 244.4,307.0 244.5,307.5 244.5,308.0 244.5,308.5 244.5,309.0 244.5,309.5 244.5,310.0 244.5,310.5 244.6,311.0 244.4,311.5 244.3,312.0 244.3,312.5 244.2,313.0 244.2,313.5 244.2,314.0 244.2,314.5 244.2,315.0 244.3,315.5 244.3,316.0 244.3,316.5 244.4,317.0 244.6,317.5 244.6,318.0 244.6,318.5 244.6,319.0 244.6,319.5 244.6,320.0 244.6,320.5 244.6,321.0 244.5,321.5 244.4,322.0 244.3,322.5 244.3,323.0 244.3,323.5 244.3,324.0 244.3,324.5 244.3,325.0 244.3,325.5 244.3,326.0 244.4,326.5 244.5,327.0 244.6,327.5 244.6,328.0 244.6,328.5 244.6,329.0 244.6,329.5 244.6,330.0 244.6,330.5 244.6,331.0 244.5,331.5 244.4,332.0 244.4,332.5 244.3,333.0 244.3,333.5 244.3,334.0 244.3,334.5 244.3,335.0 244.4,335.5 244.4,336.0 244.5,336.5 244.7,337.0 244.7,337.5 244.7,338.0 244.7,338.5 244.7,339.0 244.7,339.5 244.7,340.0 244.7,340.5 244.6,341.0 244.5,341.5 244.4,342.0 244.4,342.5 244.4,343.0 244.4,343.5 244.4,344.0 244.4,344.5 244.4,345.0 244.4,345.5 244.4,346.0 244.5,346.5 244.6,347.0 244.7,347.5 244.7,348.0 244.7,348.5 244.7,349.0 244.7,349.5 244.7,350.0 244.7,350.5 244.7,351.0 244.5,351.5 244.5,352.0 244.4,352.5 244.4,353.0 244.4,353.5 244.4,354.0 244.4,354.5 244.5,355.0 244.5,355.5 244.6,356.0 244.8,356.5 244.8,357.0 244.8,357.5 244.8,358.0 244.8,358.5 244.8,359.0 244.8,359.5 244.7,360.0 244.6,360.5 244.5,361.0 244.5,361.5 244.5,362.0 244.4,362.5 244.5,363.0 244.5,363.5 244.5,364.0 244.5,364.5 244.6,365.0 244.8,365.5 244.8,366.0 244.8,366.5 244.8,367.0 244.8,367.5 244.8,368.0 244.8,368.5 244.8,369.0 244.7,369.5 244.6,370.0 244.5,370.5 244.5,371.0 244.5,371.5 244.5,372.0 244.5,372.5 244.5,373.0 244.6,373.5 244.6,374.0 244.7,374.5 244.9,375.0 244.9,375.5 244.9,376.0 244.9,376.5 244.9,377.0 244.9,377.5 244.9,378.0 244.8,378.5 244.7,379.0 244.6,379.5 244.6,380.0 244.5,380.5 244.5,381.0 244.5,381.5 244.6,382.0 244.6,382.5 244.7,383.0 244.8,383.5 244.9,384.0 244.9,384.5 244.9,385.0 244.9,385.5 244.9,386.0 244.9,386.5 244.9,387.0 244.7,387.5 244.6,388.0 244.6,388.5 244.6,389.0 244.6,389.5 244.6,390.0 244.6,390.5 244.6,391.0 244.7,391.5 244.8,392.0 244.9,392.5 244.9,393.0 244.9,393.5 244.9,394.0 245.0,394.5 245.0,395.0 245.0,395.5 244.8,396.0 244.7,396.5 244.6,397.0 244.6,397.5 244.6,398.0 244.6,398.5 244.7,399.0 244.7,399.5 244.8,400.0 245.0,400.5 245.0,401.0 245.0,401.5 245.0,402.0 245.0,402.5 245.0,403.0 245.0,403.5 244.8,404.0 244.7,404.5 244.7,405.0 244.7,405.5 244.7,406.0 244.7,406.5 244.7,407.0 244.7,407.5 244.8,408.0 245.0,408.5 245.0,409.0 245.0,409.5 245.0,410.0 245.0,410.5 245.0,411.0 245.0,411.5 244.8,412.0 244.8,412.5 244.7,413.0 244.7,413.5 244.7,414.0 244.7,414.5 244.7,415.0 244.8,415.5 244.9,416.0 245.1,416.5 245.1,417.0 245.1,417.5 245.1,418.0 245.1,418.5 245.1,419.0 245.0,419.5 244.8,420.0 244.8,420.5 244.7,421.0 244.7,421.5 244.7,422.0 244.8,422.5 244.8,423.0 244.9,423.5 245.1,424.0 245.1,424.5 245.1,425.0 245.1,425.5 245.1,426.0 245.1,426.5 245.0,427.0 244.9,427.5 244.8,428.0 244.8,428.5 244.8,429.0 244.8,429.5 244.8,430.0 244.9,430.5 245.0,431.0 245.1,431.5 245.1,432.0 245.1,432.5 245.1,433.0 245.1,433.5 245.1,434.0 245.0,434.5 244.9,435.0 244.8,435.5 244.8,436.0 244.8,436.5 244.8,437.0 244.8,437.5 244.9,438.0 245.0,438.5 245.2,439.0 245.2,439.5 245.2,440.0 245.2,440.5 245.2,441.0 245.2,441.5 245.0,442.0 244.9,442.5 244.8,443.0 244.8,443.5 244.9,444.0 244.9,444.5 245.0,445.0 245.2,445.5 245.2,446.0 245.2,446.5 245.2,447.0 245.2,447.5 245.2,448.0 245.0,448.5 244.9,449.0 244.9,449.5 244.9,450.0 244.9,450.5 244.9,451.0 245.0,451.5 245.2,452.0 245.2,452.5 245.2,453.0 245.2,453.5 245.2,454.0 245.2,454.5 245.0,455.0 245.0,455.5 244.9,456.0 244.9,456.5 244.9,457.0 244.9,457.5 245.0,458.0 245.1,458.5 245.3,459.0 245.3,459.5 245.3,460.0 245.3,460.5 245.3,461.0 245.1,461.5 245.0,462.0 244.9,462.5 244.9,463.0 244.9,463.5 245.0,464.0 245.0,464.5 245.2,465.0 245.3,465.5 245.3,466.0 245.3,466.5 245.3,467.0 245.3,467.5 245.1,468.0 245.0,468.5 245.0,469.0 245.0,469.5 245.0,470.0 245.0,470.5 245.1,471.0 245.2,471.5 245.3,472.0 245.3,472.5 245.3,473.0 245.3,473.5 245.3,474.0 245.1,474.5 245.0,475.0 245.0,475.5 245.0,476.0 245.0,476.5 245.1,477.0 245.2,477.5 245.4,478.0 245.4,478.5 245.4,479.0 245.4,479.5 245.4,480.0 245.1,480.5 245.1,481.0 245.0,481.5 245.0,482.0 245.1,482.5 245.1,483.0 245.3,483.5 245.4,484.0 245.4,484.5 245.4,485.0 245.4,485.5 245.2,486.0 245.1,486.5 245.1,487.0 245.0,487.5 245.1,488.0 245.1,488.5 245.2,489.0 245.4,489.5 245.4,490.0 245.4,490.5 245.4,491.0 245.4,491.5 245.2,492.0 245.1,492.5 245.1,493.0 245.1,493.5 245.1,494.0 245.2,494.5 245.3,495.0 245.4,495.5 245.4,496.0 245.4,496.5 245.4,497.0 245.3,497.5 245.2,498.0 245.1,498.5 245.1,499.0 245.1,499.5 245.2,500.0 245.3,500.5 245.5,501.0 245.5,501.5 245.5,502.0 245.5,502.5 245.3,503.0 245.2,503.5 245.1,504.0 245.1,504.5 245.2,505.0 245.2,505.5 245.4,506.0 245.5,506.5 245.5,507.0 245.5,507.5 245.5,508.0 245.3,508.5 245.2,509.0 245.2,509.5 245.2,510.0 245.2,510.5 245.3,511.0 245.5,511.5 245.5,512.0 245.5,512.5 245.5,513.0 245.3,513.5 245.2,514.0 245.2,514.5 245.2,515.0 245.2,515.5 245.3,516.0 245.5,516.5 245.5,517.0 245.5,517.5 245.5,518.0 245.3,518.5 245.2,519.0 245.2,519.5 245.2,520.0 245.3,520.5 245.6,521.0 245.6,521.5 245.6,522.0 245.6,522.5 245.3,523.0 245.3,523.5 245.2,524.0 245.2,524.5 245.3,525.0 245.6,525.5 245.6,526.0 245.6,526.5 245.6,527.0 245.3,527.5 245.3,528.0 245.2,528.5 245.3,529.0 245.4,529.5 245.6,530.0 245.6,530.5 245.6,531.0 245.5,531.5 245.3,532.0 245.3,532.5 245.3,533.0 245.3,533.5 245.5,534.0 245.6,534.5 245.6,535.0 245.6,535.5 245.6,536.0 245.4,536.5 245.3,537.0 245.3,537.5 245.3,538.0 245.4,538.5 245.6,539.0 245.6,539.5 245.6,540.0"/>
<polyline fill="none" stroke="#d8241a" stroke-width="1.1" points="247.0,61.0 247.0,61.5 247.0,62.0 247.0,62.5 247.0,63.0 247.0,63.5 247.0,64.0 247.2,64.5 247.4,65.0 247.6,65.5 247.7,66.0 247.7,66.5 247.8,67.0 247.9,67.5 247.9,68.0 247.9,68.5 247.9,69.0 247.9,69.5 247.9,70.0 247.9,70.5 247.9,71.0 247.9,71.5 247.8,72.0 247.8,72.5 247.7,73.0 247.6,73.5 247.5,74.0 247.2,74.5 247.0,75.0 247.0,75.5 247.0,76.0 247.0,76.5 247.0,77.0 247.0,77.5 247.0,78.0 247.0,78.5 247.0,79.0 247.0,79.5 247.0,80.0 247.0,80.5 247.0,81.0 247.0,81.5 247.4,82.0 247.6,82.5 247.7,83.0 247.8,83.5 247.9,84.0 247.9,84.5 247.9,85.0 248.0,85.5 248.0,86.0 248.0,86.5 248.0,87.0 248.0,87.5 248.0,88.0 248.0,88.5 248.0,89.0 247.9,89.5 247.9,90.0 247.8,90.5 247.7,91.0 247.6,91.5 247.5,92.0 247.1,92.5 247.1,93.0 247.1,93.5 247.1,94.0 247.1,94.5 247.1,95.0 247.1,95.5 247.1,96.0 247.1,96.5 247.1,97.0 247.1,97.5 247.1,98.0 247.1,98.5 247.1,99.0 247.5,99.5 247.7,100.0 247.8,100.5 247.9,101.0 248.0,101.5 248.0,102.0 248.1,102.5 248.1,103.0 248.1,103.5 248.1,104.0 248.1,104.5 248.1,105.0 248.0,105.5 248.0,106.0 247.9,106.5 247.8,107.0 247.7,107.5 247.5,108.0 247.2,108.5 247.2,109.0 247.2,109.5 247.2,110.0 247.2,110.5 247.2,111.0 247.2,111.5 247.2,112.0 247.2,112.5 247.2,113.0 247.2,113.5 247.2,114.0 247.2,114.5 247.6,115.0 247.7,115.5 247.9,116.0 248.0,116.5 248.0,117.0 248.1,117.5 248.1,118.0 248.2,118.5 248.2,119.0 248.2,119.5 248.2,120.0 248.2,120.5 248.2,121.0 248.1,121.5 248.1,122.0 248.0,122.5 248.0,123.0 247.9,123.5 247.7,124.0 247.5,124.5 247.3,125.0 247.3,125.5 247.3,126.0 247.3,126.5 247.3,127.0 247.3,127.5 247.3,128.0 247.3,128.5 247.3,129.0 247.3,129.5 247.3,130.0 247.3,130.5 247.3,131.0 247.4,131.5 247.7,132.0 247.9,132.5 248.0,133.0 248.1,133.5 248.1,134.0 248.2,134.5 248.2,135.0 248.2,135.5 248.3,136.0 248.3,136.5 248.3,137.0 248.3,137.5 248.2,138.0 248.2,138.5 248.2,139.0 248.1,139.5 248.1,140.0 248.0,140.5 247.9,141.0 247.7,141.5 247.3,142.0 247.3,142.5 247.3,143.0 247.3,143.5 247.3,144.0 247.4,144.5 247.4,145.0 247.4,145.5 247.4,146.0 247.4,146.5 247.4,147.0 247.4,147.5 247.4,148.0 247.8,148.5 248.0,149.0 248.1,149.5 248.2,150.0 248.3,150.5 248.3,151.0 248.3,151.5 248.3,152.0 248.3,152.5 248.3,153.0 248.3,153.5 248.2,154.0 248.2,154.5 248.1,155.0 247.9,155.5 247.6,156.0 247.4,156.5 247.4,157.0 247.4,157.5 247.4,158.0 247.4,158.5 247.4,159.0 247.4,159.5 247.4,160.0 247.4,160.5 247.4,161.0 247.4,161.5 247.4,162.0 247.8,162.5 248.0,163.0 248.1,163.5 248.2,164.0 248.3,164.5 248.3,165.0 248.4,165.5 248.4,166.0 248.4,166.5 248.4,167.0 248.4,167.5 248.4,168.0 248.4,168.5 248.3,169.0 248.3,169.5 248.2,170.0 248.1,170.5 248.0,171.0 247.8,171.5 247.5,172.0 247.5,172.5 247.5,173.0 247.5,173.5 247.5,174.0 247.5,174.5 247.5,175.0 247.5,175.5 247.5,176.0 247.5,176.5 247.5,177.0 247.5,177.5 247.5,178.0 247.9,178.5 248.1,179.0 248.2,179.5 248.3,180.0 248.4,180.5 248.4,181.0 248.5,181.5 248.5,182.0 248.5,182.5 248.5,183.0 248.5,183.5 248.4,184.0 248.4,184.5 248.3,185.0 248.3,185.5 248.1,186.0 248.0,186.5 247.6,187.0 247.6,187.5 247.6,188.0 247.6,188.5 247.6,189.0 247.6,189.5 247.6,190.0 247.6,190.5 247.6,191.0 247.6,191.5 247.6,192.0 247.6,192.5 248.0,193.0 248.2,193.5 248.3,194.0 248.4,194.5 248.5,195.0 248.5,195.5 248.5,196.0 248.5,196.5 248.5,197.0 248.5,197.5 248.5,198.0 248.5,198.5 248.4,199.0 248.3,199.5 248.1,200.0 247.9,200.5 247.6,201.0 247.6,201.5 247.6,202.0 247.6,202.5 247.6,203.0 247.6,203.5 247.6,204.0 247.6,204.5 247.6,205.0 247.6,205.5 247.9,206.0 248.2,206.5 248.3,207.0 248.4,207.5 248.5,208.0 248.6,208.5 248.6,209.0 248.6,209.5 248.6,210.0 248.6,210.5 248.6,211.0 248.5,211.5 248.4,212.0 248.3,212.5 248.1,213.0 247.7,213.5 247.7,214.0 247.7,214.5 247.7,215.0 247.7,215.5 247.7,216.0 247.7,216.5 247.7,217.0 247.7,217.5 247.7,218.0 247.7,218.5 248.2,219.0 248.3,219.5 248.5,220.0 248.5,220.5 248.6,221.0 248.6,221.5 248.7,222.0 248.7,222.5 248.7,223.0 248.6,223.5 248.6,224.0 248.5,224.5 248.4,225.0 248.3,225.5 248.0,226.0 247.7,226.5 247.7,227.0 247.7,227.5 247.8,228.0 247.8,228.5 247.8,229.0 247.8,229.5 247.8,230.0 247.8,230.5 247.8,231.0 248.1,231.5 248.3,232.0 248.5,232.5 248.6,233.0 248.7,233.5 248.7,234.0 248.7,234.5 248.7,235.0 248.7,235.5 248.7,236.0 248.7,236.5 248.6,237.0 248.5,237.5 248.4,238.0 248.2,238.5 247.8,239.0 247.8,239.5 247.8,240.0 247.8,240.5 247.8,241.0 247.8,241.5 247.8,242.0 247.8,242.5 247.8,243.0 247.8,243.5 248.2,244.0 248.4,244.5 248.6,245.0 248.7,245.5 248.7,246.0 248.8,246.5 248.8,247.0 248.8,247.5 248.8,248.0 248.7,248.5 248.7,249.0 248.6,249.5 248.5,250.0 248.3,250.5 247.9,251.0 247.9,251.5 247.9,252.0 247.9,252.5 247.9,253.0 247.9,253.5 247.9,254.0 247.9,254.5 247.9,255.0 247.9,255.5 248.3,256.0 248.5,256.5 248.6,257.0 248.7,257.5 248.8,258.0 248.8,258.5 248.8,259.0 248.9,259.5 248.8,260.0 248.8,260.5 248.7,261.0 248.7,261.5 248.5,262.0 248.4,262.5 247.9,263.0 247.9,263.5 247.9,264.0 247.9,264.5 247.9,265.0 247.9,265.5 247.9,266.0 247.9,266.5 247.9,267.0 247.9,267.5 248.4,268.0 248.6,268.5 248.7,269.0 248.8,269.5 248.9,270.0 248.9,270.5 248.9,271.0 248.9,271.5 248.9,272.0 248.8,272.5 248.7,273.0 248.6,273.5 248.4,274.0 248.0,274.5 248.0,275.0 248.0,275.5 248.0,276.0 248.0,276.5 248.0,277.0 248.0,277.5 248.0,278.0 248.0,278.5 248.3,279.0 248.6,279.5 248.7,280.0 248.8,280.5 248.9,281.0 248.9,281.5 249.0,282.0 249.0,282.5 248.9,283.0 248.9,283.5 248.8,284.0 248.6,284.5 248.3,285.0 248.0,285.5 248.0,286.0 248.0,286.5 248.0,287.0 248.0,287.5 248.0,288.0 248.0,288.5 248.0,289.0 248.0,289.5 248.5,290.0 248.7,290.5 248.8,291.0 248.9,291.5 249.0,292.0 249.0,292.5 249.0,293.0 249.0,293.5 249.0,294.0 248.9,294.5 248.8,295.0 248.7,295.5 248.5,296.0 248.1,296.5 248.1,297.0 248.1,297.5 248.1,298.0 248.1,298.5 248.1,299.0 248.1,299.5 248.1,300.0 248.1,300.5 248.4,301.0 248.7,301.5 248.8,302.0 248.9,302.5 249.0,303.0 249.1,303.5 249.1,304.0 249.1,304.5 249.0,305.0 249.0,305.5 248.9,306.0 248.7,306.5 248.4,307.0 248.1,307.5 248.1,308.0 248.1,308.5 248.1,309.0 248.1,309.5 248.1,310.0 248.1,310.5 248.2,311.0 248.5,311.5 248.8,312.0 248.9,312.5 249.0,313.0 249.1,313.5 249.1,314.0 249.1,314.5 249.1,315.0 249.0,315.5 249.0,316.0 248.8,316.5 248.6,317.0 248.2,317.5 248.2,318.0 248.2,318.5 248.2,319.0 248.2,319.5 248.2,320.0 248.2,320.5 248.2,321.0 248.5,321.5 248.8,322.0 249.0,322.5 249.1,323.0 249.1,323.5 249.2,324.0 249.2,324.5 249.1,325.0 249.1,325.5 249.0,326.0 248.9,326.5 248.6,327.0 248.2,327.5 248.2,328.0 248.2,328.5 248.2,329.0 248.2,329.5 248.2,330.0 248.2,330.5 248.2,331.0 248.7,331.5 248.9,332.0 249.1,332.5 249.1,333.0 249.2,333.5 249.2,334.0 249.2,334.5 249.2,335.0 249.1,335.5 248.9,336.0 248.7,336.5 248.3,337.0 248.3,337.5 248.3,338.0 248.3,338.5 248.3,339.0 248.3,339.5 248.3,340.0 248.3,340.5 248.6,341.0 248.9,341.5 249.0,342.0 249.1,342.5 249.2,343.0 249.2,343.5 249.3,344.0 249.2,344.5 249.2,345.0 249.2,345.5 249.1,346.0 248.9,346.5 248.6,347.0 248.3,347.5 248.3,348.0 248.3,348.5 248.3,349.0 248.3,349.5 248.3,350.0 248.3,350.5 248.3,351.0 248.9,351.5 249.1,352.0 249.2,352.5 249.3,353.0 249.3,353.5 249.3,354.0 249.3,354.5 249.2,355.0 249.0,355.5 248.8,356.0 248.4,356.5 248.4,357.0 248.4,357.5 248.4,358.0 248.4,358.5 248.4,359.0 248.4,359.5 248.7,360.0 249.0,360.5 249.2,361.0 249.3,361.5 249.3,362.0 249.3,362.5 249.3,363.0 249.3,363.5 249.2,364.0 249.1,364.5 248.9,365.0 248.4,365.5 248.4,366.0 248.4,366.5 248.4,367.0 248.4,367.5 248.4,368.0 248.4,368.5 248.4,369.0 248.9,369.5 249.1,370.0 249.2,370.5 249.3,371.0 249.4,371.5 249.4,372.0 249.4,372.5 249.3,373.0 249.3,373.5 249.1,374.0 248.9,374.5 248.5,375.0 248.5,375.5 248.5,376.0 248.5,376.5 248.5,377.0 248.5,377.5 248.5,378.0 248.7,378.5 249.1,379.0 249.3,379.5 249.4,380.0 249.4,380.5 249.4,381.0 249.4,381.5 249.4,382.0 249.3,382.5 249.1,383.0 248.7,383.5 248.5,384.0 248.5,384.5 248.5,385.0 248.5,385.5 248.5,386.0 248.5,386.5 248.5,387.0 249.1,387.5 249.3,388.0 249.4,388.5 249.4,389.0 249.5,389.5 249.5,390.0 249.4,390.5 249.3,391.0 249.2,391.5 249.0,392.0 248.5,392.5 248.5,393.0 248.5,393.5 248.5,394.0 248.6,394.5 248.6,395.0 248.6,395.5 249.1,396.0 249.3,396.5 249.4,397.0 249.5,397.5 249.5,398.0 249.5,398.5 249.4,399.0 249.3,399.5 249.1,400.0 248.6,400.5 248.6,401.0 248.6,401.5 248.6,402.0 248.6,402.5 248.6,403.0 248.6,403.5 249.1,404.0 249.3,404.5 249.5,405.0 249.5,405.5 249.6,406.0 249.5,406.5 249.5,407.0 249.4,407.5 249.1,408.0 248.6,408.5 248.6,409.0 248.6,409.5 248.6,410.0 248.6,410.5 248.6,411.0 248.6,411.5 249.2,412.0 249.4,412.5 249.5,413.0 249.6,413.5 249.6,414.0 249.6,414.5 249.5,415.0 249.4,415.5 249.2,416.0 248.7,416.5 248.7,417.0 248.7,417.5 248.7,418.0 248.7,418.5 248.7,419.0 248.9,419.5 249.3,420.0 249.5,420.5 249.6,421.0 249.6,421.5 249.6,422.0 249.6,422.5 249.4,423.0 249.2,423.5 248.7,424.0 248.7,424.5 248.7,425.0 248.7,425.5 248.7,426.0 248.7,426.5 249.1,427.0 249.4,427.5 249.6,428.0 249.6,428.5 249.7,429.0 249.6,429.5 249.6,430.0 249.4,430.5 249.1,431.0 248.7,431.5 248.7,432.0 248.7,432.5 248.7,433.0 248.7,433.5 248.7,434.0 249.2,434.5 249.5,435.0 249.6,435.5 249.7,436.0 249.7,436.5 249.7,437.0 249.6,437.5 249.5,438.0 249.2,438.5 248.8,439.0 248.8,439.5 248.8,440.0 248.8,440.5 248.8,441.0 248.8,441.5 249.4,442.0 249.6,442.5 249.7,443.0 249.7,443.5 249.7,444.0 249.6,444.5 249.4,445.0 248.8,445.5 248.8,446.0 248.8,446.5 248.8,447.0 248.8,447.5 248.8,448.0 249.4,448.5 249.6,449.0 249.7,449.5 249.8,450.0 249.7,450.5 249.6,451.0 249.4,451.5 248.8,452.0 248.8,452.5 248.8,453.0 248.8,453.5 248.8,454.0 248.8,454.5 249.4,455.0 249.6,455.5 249.7,456.0 249.8,456.5 249.8,457.0 249.7,457.5 249.6,458.0 249.2,458.5 248.9,459.0 248.9,459.5 248.9,460.0 248.9,460.5 248.9,461.0 249.3,461.5 249.6,462.0 249.8,462.5 249.8,463.0 249.8,463.5 249.7,464.0 249.6,464.5 249.1,465.0 248.9,465.5 248.9,466.0 248.9,466.5 248.9,467.0 248.9,467.5 249.4,468.0 249.7,468.5 249.8,469.0 249.9,469.5 249.8,470.0 249.8,470.5 249.6,471.0 249.3,471.5 248.9,472.0 248.9,472.5 248.9,473.0 248.9,473.5 248.9,474.0 249.5,474.5 249.7,475.0 249.9,475.5 249.9,476.0 249.9,476.5 249.7,477.0 249.5,477.5 249.0,478.0 249.0,478.5 249.0,479.0 249.0,479.5 249.0,480.0 249.5,480.5 249.8,481.0 249.9,481.5 249.9,482.0 249.9,482.5 249.7,483.0 249.2,483.5 249.0,484.0 249.0,484.5 249.0,485.0 249.0,485.5 249.4,486.0 249.8,486.5 249.9,487.0 249.9,487.5 249.9,488.0 249.8,488.5 249.4,489.0 249.0,489.5 249.0,490.0 249.0,490.5 249.0,491.0 249.0,491.5 249.7,492.0 249.9,492.5 250.0,493.0 250.0,493.5 249.9,494.0 249.7,494.5 249.3,495.0 249.0,495.5 249.0,496.0 249.0,496.5 249.0,497.0 249.4,497.5 249.8,498.0 250.0,498.5 250.0,499.0 250.0,499.5 249.8,500.0 249.4,500.5 249.1,501.0 249.1,501.5 249.1,502.0 249.1,502.5 249.5,503.0 249.9,503.5 250.0,504.0 250.0,504.5 250.0,505.0 249.8,505.5 249.4,506.0 249.1,506.5 249.1,507.0 249.1,507.5 249.1,508.0 249.7,508.5 249.9,509.0 250.0,509.5 250.0,510.0 249.9,510.5 249.6,511.0 249.1,511.5 249.1,512.0 249.1,512.5 249.1,513.0 249.7,513.5 250.0,514.0 250.1,514.5 250.1,515.0 250.0,515.5 249.7,516.0 249.1,516.5 249.1,517.0 249.1,517.5 249.1,518.0 249.7,518.5 250.0,519.0 250.1,519.5 250.0,520.0 249.8,520.5 249.2,521.0 249.2,521.5 249.2,522.0 249.2,522.5 249.8,523.0 250.0,523.5 250.1,524.0 250.1,524.5 249.9,525.0 249.2,525.5 249.2,526.0 249.2,526.5 249.2,527.0 249.9,527.5 250.1,528.0 250.1,528.5 250.0,529.0 249.7,529.5 249.2,530.0 249.2,530.5 249.2,531.0 249.6,531.5 250.0,532.0 250.1,532.5 250.1,533.0 250.0,533.5 249.6,534.0 249.2,534.5 249.2,535.0 249.2,535.5 249.2,536.0 249.9,536.5 250.1,537.0 250.2,537.5 250.1,538.0 250.0,538.5 249.2,539.0 249.2,539.5 249.2,540.0"/>
<polygon points="265.20,61 268.20,61 270.10,540 267.10,540" fill="#49ffad"/>
<polygon points="265.95,61 267.45,61 269.35,540 267.85,540" fill="#b1ff46"/>
<rect x="275.4" y="252.8" width="1" height="2.7" fill="#49ffad" opacity="0.45"/>
<rect x="275.6" y="329.8" width="1" height="2.8" fill="#49ffad" opacity="0.45"/>
<rect x="275.1" y="87.8" width="1" height="5.0" fill="#49ffad" opacity="0.45"/>
<rect x="276.0" y="536.3" width="1" height="4.8" fill="#49ffad" opacity="0.45"/>
<rect x="275.2" y="150.9" width="1" height="3.4" fill="#49ffad" opacity="0.45"/>
<rect x="275.2" y="146.8" width="1" height="2.9" fill="#49ffad" opacity="0.45"/>
<rect x="275.9" y="472.4" width="1" height="3.5" fill="#49ffad" opacity="0.45"/>
<rect x="275.1" y="114.9" width="1" height="3.1" fill="#49ffad" opacity="0.45"/>
<rect x="275.3" y="191.4" width="1" height="3.5" fill="#49ffad" opacity="0.45"/>
<rect x="275.0" y="61.2" width="1" height="4.9" fill="#49ffad" opacity="0.45"/>
<rect x="275.7" y="415.6" width="1" height="4.6" fill="#49ffad" opacity="0.45"/>
<rect x="275.3" y="207.1" width="1" height="4.6" fill="#49ffad" opacity="0.45"/>
<rect x="275.9" y="514.5" width="1" height="4.1" fill="#49ffad" opacity="0.45"/>
<rect x="275.7" y="402.8" width="1" height="3.7" fill="#49ffad" opacity="0.45"/>
<rect x="275.5" y="306.0" width="1" height="4.8" fill="#49ffad" opacity="0.45"/>
<rect x="275.2" y="173.7" width="1" height="2.8" fill="#49ffad" opacity="0.45"/>
<rect x="275.4" y="251.6" width="1" height="3.0" fill="#49ffad" opacity="0.45"/>
<rect x="275.9" y="508.0" width="1" height="3.8" fill="#49ffad" opacity="0.45"/>
<rect x="275.9" y="496.5" width="1" height="3.6" fill="#49ffad" opacity="0.45"/>
<rect x="275.1" y="101.3" width="1" height="3.1" fill="#49ffad" opacity="0.45"/>
<rect x="275.2" y="174.1" width="1" height="3.7" fill="#49ffad" opacity="0.45"/>
<rect x="275.9" y="474.0" width="1" height="4.8" fill="#49ffad" opacity="0.45"/>
<rect x="275.3" y="187.0" width="1" height="5.0" fill="#49ffad" opacity="0.45"/>
<rect x="275.7" y="418.7" width="1" height="4.0" fill="#49ffad" opacity="0.45"/>
<rect x="275.7" y="414.4" width="1" height="4.8" fill="#49ffad" opacity="0.45"/>
<rect x="275.3" y="213.4" width="1" height="2.9" fill="#49ffad" opacity="0.45"/>
<rect x="275.5" y="293.5" width="1" height="2.2" fill="#49ffad" opacity="0.45"/>
<rect x="275.9" y="506.4" width="1" height="4.6" fill="#49ffad" opacity="0.45"/>
<rect x="275.2" y="178.7" width="1" height="3.8" fill="#49ffad" opacity="0.45"/>
<rect x="275.4" y="272.8" width="1" height="4.2" fill="#49ffad" opacity="0.45"/>
<rect x="275.6" y="333.3" width="1" height="4.1" fill="#49ffad" opacity="0.45"/>
<rect x="275.7" y="408.5" width="1" height="3.4" fill="#49ffad" opacity="0.45"/>
<rect x="275.2" y="172.8" width="1" height="3.8" fill="#49ffad" opacity="0.45"/>
<rect x="275.9" y="492.7" width="1" height="2.2" fill="#49ffad" opacity="0.45"/>
<rect x="275.5" y="277.6" width="1" height="3.7" fill="#49ffad" opacity="0.45"/>
<rect x="275.3" y="212.3" width="1" height="3.9" fill="#49ffad" opacity="0.45"/>
<rect x="275.9" y="481.7" width="1" height="3.4" fill="#49ffad" opacity="0.45"/>
<rect x="275.8" y="456.4" width="1" height="4.2" fill="#49ffad" opacity="0.45"/>
<rect x="275.8" y="462.7" width="1" height="4.0" fill="#49ffad" opacity="0.45"/>
<rect x="275.7" y="376.3" width="1" height="4.6" fill="#49ffad" opacity="0.45"/>
<polygon points="296.30,61 299.90,61 301.70,540 298.10,540" fill="#49ffad"/>
<polygon points="296.75,61 299.45,61 301.25,540 298.55,540" fill="#b1ff46"/>
<polygon points="297.20,61 299.00,61 300.80,540 299.00,540" fill="#ff5900"/>
<polygon points="307.10,61 310.10,61 311.50,540 308.50,540" fill="#49ffad"/>
<polygon points="307.80,61 309.40,61 310.80,540 309.20,540" fill="#b1ff46"/>
<polygon points="433.10,61 434.50,61 435.70,540 434.30,540" fill="#49ffad"/>
<polygon points="456.70,61 459.70,61 460.80,482 457.80,482" fill="#49ffad"/>
<polygon points="457.45,61 458.95,61 460.05,482 458.55,482" fill="#b1ff46"/>
<polygon points="457.80,482 460.80,482 462.10,496 459.10,496" fill="#49ffad"/>
<polygon points="458.55,482 460.05,482 461.35,496 459.85,496" fill="#b1ff46"/>
<polygon points="459.10,496 462.10,496 462.40,540 459.40,540" fill="#49ffad"/>
<polygon points="459.85,496 461.35,496 461.65,540 460.15,540" fill="#b1ff46"/>
<rect x="464.1" y="61.5" width="1.6" height="5.3" fill="#49ffad"/>
<rect x="464.1" y="68.2" width="1.6" height="3.8" fill="#49ffad"/>
<rect x="464.1" y="76.6" width="1.6" height="4.5" fill="#49ffad"/>
<rect x="464.1" y="85.5" width="1.6" height="6.4" fill="#49ffad"/>
<rect x="464.2" y="93.7" width="1.6" height="3.6" fill="#49ffad"/>
<rect x="464.2" y="100.7" width="1.6" height="6.6" fill="#49ffad"/>
<rect x="464.2" y="109.8" width="1.6" height="4.6" fill="#49ffad"/>
<rect x="464.2" y="116.5" width="1.6" height="4.6" fill="#49ffad"/>
<rect x="464.2" y="124.5" width="1.6" height="4.4" fill="#49ffad"/>
<rect x="464.2" y="134.0" width="1.6" height="5.1" fill="#49ffad"/>
<rect x="464.2" y="140.1" width="1.6" height="6.1" fill="#49ffad"/>
<rect x="464.2" y="148.6" width="1.6" height="3.2" fill="#49ffad"/>
<rect x="464.3" y="156.1" width="1.6" height="5.1" fill="#49ffad"/>
<rect x="464.3" y="164.0" width="1.6" height="6.7" fill="#49ffad"/>
<rect x="464.3" y="172.4" width="1.6" height="6.5" fill="#49ffad"/>
<rect x="464.3" y="180.2" width="1.6" height="5.5" fill="#49ffad"/>
<rect x="464.3" y="189.5" width="1.6" height="4.1" fill="#49ffad"/>
<rect x="464.3" y="197.3" width="1.6" height="3.0" fill="#49ffad"/>
<rect x="464.3" y="204.7" width="1.6" height="4.6" fill="#49ffad"/>
<rect x="464.4" y="212.3" width="1.6" height="6.9" fill="#49ffad"/>
<rect x="464.4" y="220.8" width="1.6" height="3.3" fill="#49ffad"/>
<rect x="464.4" y="229.3" width="1.6" height="3.7" fill="#49ffad"/>
<rect x="464.4" y="237.0" width="1.6" height="4.0" fill="#49ffad"/>
<rect x="464.4" y="244.3" width="1.6" height="4.4" fill="#49ffad"/>
<rect x="464.4" y="252.8" width="1.6" height="3.5" fill="#49ffad"/>
<rect x="464.4" y="261.0" width="1.6" height="4.2" fill="#49ffad"/>
<rect x="464.4" y="269.1" width="1.6" height="5.5" fill="#49ffad"/>
<rect x="464.5" y="277.6" width="1.6" height="4.6" fill="#49ffad"/>
<rect x="464.5" y="285.5" width="1.6" height="3.5" fill="#49ffad"/>
<rect x="464.5" y="293.0" width="1.6" height="6.0" fill="#49ffad"/>
<rect x="464.5" y="300.6" width="1.6" height="5.4" fill="#49ffad"/>
<rect x="464.5" y="309.1" width="1.6" height="3.1" fill="#49ffad"/>
<rect x="464.5" y="316.6" width="1.6" height="3.6" fill="#49ffad"/>
<rect x="464.5" y="324.5" width="1.6" height="3.6" fill="#49ffad"/>
<rect x="464.6" y="333.9" width="1.6" height="7.0" fill="#49ffad"/>
<rect x="464.6" y="341.4" width="1.6" height="4.6" fill="#49ffad"/>
<rect x="464.6" y="349.2" width="1.6" height="5.7" fill="#49ffad"/>
<rect x="464.6" y="356.2" width="1.6" height="6.8" fill="#49ffad"/>
<rect x="464.6" y="364.1" width="1.6" height="4.1" fill="#49ffad"/>
<rect x="464.6" y="373.6" width="1.6" height="3.1" fill="#49ffad"/>
<rect x="464.6" y="381.0" width="1.6" height="5.8" fill="#49ffad"/>
<rect x="464.6" y="388.0" width="1.6" height="3.5" fill="#49ffad"/>
<rect x="464.7" y="397.7" width="1.6" height="4.9" fill="#49ffad"/>
<rect x="464.7" y="404.9" width="1.6" height="4.4" fill="#49ffad"/>
<rect x="464.7" y="413.1" width="1.6" height="3.5" fill="#49ffad"/>
<rect x="464.7" y="421.2" width="1.6" height="3.2" fill="#49ffad"/>
<rect x="464.7" y="428.9" width="1.6" height="6.5" fill="#49ffad"/>
<rect x="464.7" y="437.2" width="1.6" height="6.5" fill="#49ffad"/>
<rect x="464.7" y="444.9" width="1.6" height="4.7" fill="#49ffad"/>
<rect x="464.8" y="453.7" width="1.6" height="3.5" fill="#49ffad"/>
<rect x="464.8" y="460.1" width="1.6" height="6.9" fill="#49ffad"/>
<rect x="464.8" y="469.5" width="1.6" height="5.7" fill="#49ffad"/>
<rect x="464.8" y="477.9" width="1.6" height="4.8" fill="#49ffad"/>
<rect x="464.8" y="484.5" width="1.6" height="6.2" fill="#49ffad"/>
<rect x="464.8" y="492.4" width="1.6" height="5.8" fill="#49ffad"/>
<rect x="464.8" y="500.7" width="1.6" height="3.0" fill="#49ffad"/>
<rect x="464.8" y="509.5" width="1.6" height="3.1" fill="#49ffad"/>
<rect x="511.6" y="279.5" width="1" height="2.5" fill="#49ffad" opacity="0.4"/>
<rect x="511.6" y="428.1" width="1" height="1.1" fill="#49ffad" opacity="0.4"/>
<rect x="511.6" y="303.6" width="1" height="1.1" fill="#49ffad" opacity="0.4"/>
<rect x="511.6" y="511.9" width="1" height="1.2" fill="#49ffad" opacity="0.4"/>
<rect x="511.6" y="359.3" width="1" height="2.9" fill="#49ffad" opacity="0.4"/>
<rect x="511.6" y="248.6" width="1" height="1.2" fill="#49ffad" opacity="0.4"/>
<rect x="511.6" y="187.7" width="1" height="2.2" fill="#49ffad" opacity="0.4"/>
<rect x="511.6" y="402.2" width="1" height="1.5" fill="#49ffad" opacity="0.4"/>
<rect x="511.6" y="67.1" width="1" height="1.2" fill="#49ffad" opacity="0.4"/>
<rect x="511.6" y="393.6" width="1" height="2.8" fill="#49ffad" opacity="0.4"/>
<rect x="511.6" y="276.5" width="1" height="2.2" fill="#49ffad" opacity="0.4"/>
<rect x="511.6" y="248.5" width="1" height="2.7" fill="#49ffad" opacity="0.4"/>
<rect x="511.6" y="196.0" width="1" height="2.6" fill="#49ffad" opacity="0.4"/>
<rect x="511.6" y="97.3" width="1" height="2.7" fill="#49ffad" opacity="0.4"/>
<rect x="511.6" y="452.8" width="1" height="2.5" fill="#49ffad" opacity="0.4"/>
<rect x="511.6" y="236.2" width="1" height="2.7" fill="#49ffad" opacity="0.4"/>
<rect x="511.6" y="211.1" width="1" height="2.5" fill="#49ffad" opacity="0.4"/>
<rect x="511.6" y="251.2" width="1" height="1.2" fill="#49ffad" opacity="0.4"/>
<rect x="511.6" y="271.9" width="1" height="2.0" fill="#49ffad" opacity="0.4"/>
<rect x="511.6" y="428.5" width="1" height="1.7" fill="#49ffad" opacity="0.4"/>
<rect x="511.6" y="382.1" width="1" height="1.4" fill="#49ffad" opacity="0.4"/>
<rect x="511.6" y="351.7" width="1" height="1.6" fill="#49ffad" opacity="0.4"/>
<rect x="511.6" y="251.4" width="1" height="1.1" fill="#49ffad" opacity="0.4"/>
<rect x="511.6" y="139.9" width="1" height="2.9" fill="#49ffad" opacity="0.4"/>
<rect x="511.6" y="217.4" width="1" height="2.5" fill="#49ffad" opacity="0.4"/>
<rect x="511.6" y="436.3" width="1" height="1.5" fill="#49ffad" opacity="0.4"/>
<rect x="511.6" y="466.3" width="1" height="2.5" fill="#49ffad" opacity="0.4"/>
<rect x="511.6" y="523.3" width="1" height="1.3" fill="#49ffad" opacity="0.4"/>
<rect x="511.6" y="121.0" width="1" height="2.4" fill="#49ffad" opacity="0.4"/>
<rect x="511.6" y="483.5" width="1" height="1.2" fill="#49ffad" opacity="0.4"/>
<rect x="511.6" y="531.9" width="1" height="1.8" fill="#49ffad" opacity="0.4"/>
<rect x="511.6" y="351.5" width="1" height="2.9" fill="#49ffad" opacity="0.4"/>
<rect x="511.6" y="261.5" width="1" height="2.7" fill="#49ffad" opacity="0.4"/>
<rect x="511.6" y="510.1" width="1" height="2.7" fill="#49ffad" opacity="0.4"/>
<rect x="511.6" y="177.6" width="1" height="2.5" fill="#49ffad" opacity="0.4"/>
<rect x="511.6" y="368.2" width="1" height="2.8" fill="#49ffad" opacity="0.4"/>
<rect x="511.6" y="216.2" width="1" height="1.9" fill="#49ffad" opacity="0.4"/>
<rect x="511.6" y="334.5" width="1" height="2.8" fill="#49ffad" opacity="0.4"/>
<rect x="511.6" y="245.2" width="1" height="1.6" fill="#49ffad" opacity="0.4"/>
<rect x="511.6" y="342.0" width="1" height="1.5" fill="#49ffad" opacity="0.4"/>
<rect x="511.6" y="507.3" width="1" height="2.1" fill="#49ffad" opacity="0.4"/>
<rect x="511.6" y="81.4" width="1" height="1.3" fill="#49ffad" opacity="0.4"/>
<rect x="511.6" y="222.1" width="1" height="1.5" fill="#49ffad" opacity="0.4"/>
<rect x="511.6" y="167.0" width="1" height="2.2" fill="#49ffad" opacity="0.4"/>
<rect x="511.6" y="482.7" width="1" height="2.2" fill="#49ffad" opacity="0.4"/>
<rect x="518.4" y="120.3" width="1" height="2.3" fill="#49ffad" opacity="0.4"/>
<rect x="518.4" y="212.7" width="1" height="2.4" fill="#49ffad" opacity="0.4"/>
<rect x="518.4" y="424.5" width="1" height="3.0" fill="#49ffad" opacity="0.4"/>
<rect x="518.4" y="224.5" width="1" height="1.5" fill="#49ffad" opacity="0.4"/>
<rect x="518.4" y="206.5" width="1" height="1.8" fill="#49ffad" opacity="0.4"/>
<rect x="518.4" y="93.5" width="1" height="1.6" fill="#49ffad" opacity="0.4"/>
<rect x="518.4" y="232.1" width="1" height="1.1" fill="#49ffad" opacity="0.4"/>
<rect x="518.4" y="85.4" width="1" height="1.4" fill="#49ffad" opacity="0.4"/>
<rect x="518.4" y="536.8" width="1" height="1.4" fill="#49ffad" opacity="0.4"/>
<rect x="518.4" y="290.0" width="1" height="2.9" fill="#49ffad" opacity="0.4"/>
<rect x="518.4" y="381.7" width="1" height="2.6" fill="#49ffad" opacity="0.4"/>
<rect x="518.4" y="267.2" width="1" height="2.9" fill="#49ffad" opacity="0.4"/>
<rect x="518.4" y="96.8" width="1" height="2.0" fill="#49ffad" opacity="0.4"/>
<rect x="518.4" y="120.8" width="1" height="1.4" fill="#49ffad" opacity="0.4"/>
<rect x="518.4" y="510.5" width="1" height="2.3" fill="#49ffad" opacity="0.4"/>
<rect x="518.4" y="85.7" width="1" height="2.4" fill="#49ffad" opacity="0.4"/>
<rect x="518.4" y="365.6" width="1" height="2.4" fill="#49ffad" opacity="0.4"/>
<rect x="518.4" y="97.2" width="1" height="2.9" fill="#49ffad" opacity="0.4"/>
<rect x="518.4" y="164.7" width="1" height="2.2" fill="#49ffad" opacity="0.4"/>
<rect x="518.4" y="245.5" width="1" height="1.6" fill="#49ffad" opacity="0.4"/>
<rect x="518.4" y="536.7" width="1" height="1.0" fill="#49ffad" opacity="0.4"/>
<rect x="518.4" y="336.2" width="1" height="1.6" fill="#49ffad" opacity="0.4"/>
<rect x="518.4" y="479.3" width="1" height="1.3" fill="#49ffad" opacity="0.4"/>
<rect x="518.4" y="149.4" width="1" height="1.7" fill="#49ffad" opacity="0.4"/>
<rect x="518.4" y="219.3" width="1" height="1.9" fill="#49ffad" opacity="0.4"/>
<rect x="518.4" y="79.8" width="1" height="1.6" fill="#49ffad" opacity="0.4"/>
<rect x="518.4" y="306.7" width="1" height="2.6" fill="#49ffad" opacity="0.4"/>
<rect x="518.4" y="390.8" width="1" height="1.0" fill="#49ffad" opacity="0.4"/>
<rect x="518.4" y="334.4" width="1" height="2.3" fill="#49ffad" opacity="0.4"/>
<rect x="518.4" y="483.5" width="1" height="2.5" fill="#49ffad" opacity="0.4"/>
<rect x="518.4" y="360.3" width="1" height="1.9" fill="#49ffad" opacity="0.4"/>
<rect x="518.4" y="140.2" width="1" height="2.2" fill="#49ffad" opacity="0.4"/>
<rect x="518.4" y="181.9" width="1" height="2.0" fill="#49ffad" opacity="0.4"/>
<rect x="518.4" y="79.6" width="1" height="2.2" fill="#49ffad" opacity="0.4"/>
<rect x="518.4" y="474.3" width="1" height="1.4" fill="#49ffad" opacity="0.4"/>
<rect x="518.4" y="426.6" width="1" height="2.9" fill="#49ffad" opacity="0.4"/>
<rect x="518.4" y="395.3" width="1" height="1.6" fill="#49ffad" opacity="0.4"/>
<rect x="518.4" y="472.1" width="1" height="2.2" fill="#49ffad" opacity="0.4"/>
<rect x="518.4" y="222.6" width="1" height="1.1" fill="#49ffad" opacity="0.4"/>
<rect x="518.4" y="440.7" width="1" height="1.6" fill="#49ffad" opacity="0.4"/>
<rect x="518.4" y="322.1" width="1" height="1.4" fill="#49ffad" opacity="0.4"/>
<rect x="518.4" y="336.0" width="1" height="3.0" fill="#49ffad" opacity="0.4"/>
<rect x="518.4" y="71.1" width="1" height="1.4" fill="#49ffad" opacity="0.4"/>
<rect x="518.4" y="431.8" width="1" height="1.5" fill="#49ffad" opacity="0.4"/>
<rect x="518.4" y="285.9" width="1" height="1.2" fill="#49ffad" opacity="0.4"/>
<rect x="522.5" y="469.9" width="1" height="2.6" fill="#49ffad" opacity="0.4"/>
<rect x="522.5" y="386.8" width="1" height="2.1" fill="#49ffad" opacity="0.4"/>
<rect x="522.5" y="509.2" width="1" height="1.1" fill="#49ffad" opacity="0.4"/>
<rect x="522.5" y="531.9" width="1" height="2.8" fill="#49ffad" opacity="0.4"/>
<rect x="522.5" y="129.5" width="1" height="2.5" fill="#49ffad" opacity="0.4"/>
<rect x="522.5" y="480.1" width="1" height="2.6" fill="#49ffad" opacity="0.4"/>
<rect x="522.5" y="437.4" width="1" height="1.0" fill="#49ffad" opacity="0.4"/>
<rect x="522.5" y="175.7" width="1" height="1.2" fill="#49ffad" opacity="0.4"/>
<rect x="522.5" y="272.3" width="1" height="2.2" fill="#49ffad" opacity="0.4"/>
<rect x="522.5" y="277.6" width="1" height="2.3" fill="#49ffad" opacity="0.4"/>
<rect x="522.5" y="266.2" width="1" height="2.1" fill="#49ffad" opacity="0.4"/>
<rect x="522.5" y="155.8" width="1" height="1.5" fill="#49ffad" opacity="0.4"/>
<rect x="522.5" y="259.2" width="1" height="2.1" fill="#49ffad" opacity="0.4"/>
<rect x="522.5" y="250.9" width="1" height="2.1" fill="#49ffad" opacity="0.4"/>
<rect x="522.5" y="383.3" width="1" height="1.6" fill="#49ffad" opacity="0.4"/>
<rect x="522.5" y="367.3" width="1" height="2.4" fill="#49ffad" opacity="0.4"/>
<rect x="522.5" y="438.8" width="1" height="2.6" fill="#49ffad" opacity="0.4"/>
<rect x="522.5" y="299.5" width="1" height="2.1" fill="#49ffad" opacity="0.4"/>
<rect x="522.5" y="529.8" width="1" height="3.0" fill="#49ffad" opacity="0.4"/>
<rect x="522.5" y="143.8" width="1" height="1.8" fill="#49ffad" opacity="0.4"/>
<rect x="522.5" y="341.4" width="1" height="2.3" fill="#49ffad" opacity="0.4"/>
<rect x="522.5" y="468.6" width="1" height="1.8" fill="#49ffad" opacity="0.4"/>
<rect x="522.5" y="449.2" width="1" height="1.7" fill="#49ffad" opacity="0.4"/>
<rect x="522.5" y="211.0" width="1" height="1.7" fill="#49ffad" opacity="0.4"/>
<rect x="522.5" y="92.7" width="1" height="1.7" fill="#49ffad" opacity="0.4"/>
<rect x="522.5" y="154.2" width="1" height="1.4" fill="#49ffad" opacity="0.4"/>
<rect x="522.5" y="168.4" width="1" height="2.8" fill="#49ffad" opacity="0.4"/>
<rect x="522.5" y="344.0" width="1" height="1.4" fill="#49ffad" opacity="0.4"/>
<rect x="522.5" y="390.2" width="1" height="2.0" fill="#49ffad" opacity="0.4"/>
<rect x="522.5" y="499.3" width="1" height="1.3" fill="#49ffad" opacity="0.4"/>
<rect x="522.5" y="208.8" width="1" height="1.4" fill="#49ffad" opacity="0.4"/>
<rect x="522.5" y="425.7" width="1" height="2.1" fill="#49ffad" opacity="0.4"/>
<rect x="522.5" y="98.2" width="1" height="2.2" fill="#49ffad" opacity="0.4"/>
<rect x="522.5" y="310.4" width="1" height="1.7" fill="#49ffad" opacity="0.4"/>
<rect x="522.5" y="357.7" width="1" height="2.0" fill="#49ffad" opacity="0.4"/>
<rect x="522.5" y="254.4" width="1" height="2.7" fill="#49ffad" opacity="0.4"/>
<rect x="522.5" y="116.1" width="1" height="1.7" fill="#49ffad" opacity="0.4"/>
<rect x="522.5" y="126.3" width="1" height="2.9" fill="#49ffad" opacity="0.4"/>
<rect x="522.5" y="499.2" width="1" height="2.1" fill="#49ffad" opacity="0.4"/>
<rect x="522.5" y="420.5" width="1" height="2.1" fill="#49ffad" opacity="0.4"/>
<rect x="522.5" y="66.7" width="1" height="2.9" fill="#49ffad" opacity="0.4"/>
<rect x="522.5" y="84.0" width="1" height="2.9" fill="#49ffad" opacity="0.4"/>
<rect x="522.5" y="345.9" width="1" height="1.8" fill="#49ffad" opacity="0.4"/>
<rect x="522.5" y="412.3" width="1" height="2.2" fill="#49ffad" opacity="0.4"/>
<rect x="522.5" y="223.8" width="1" height="1.9" fill="#49ffad" opacity="0.4"/>
<polygon points="526.80,61 530.00,61 531.00,540 527.80,540" fill="#49ffad"/>
<polygon points="527.27,61 529.52,61 530.52,540 528.27,540" fill="#b1ff46"/>
<polygon points="527.75,61 529.05,61 530.05,540 528.75,540" fill="#e6e24a"/>
<polyline points="334.0,128.0 335.0,150.0 336.0,168.0 337.2,180.0 340.3,195.0 346.0,225.0 351.0,246.0 354.0,255.0 358.5,270.0 364.5,285.0 370.5,298.5 376.8,315.0 390.0,350.0 399.5,385.0 403.0,400.0 405.5,420.0 407.0,437.5 408.6,455.0" fill="none" stroke="#49ffad" stroke-width="3.2" stroke-linejoin="round"/>
<polyline points="358.5,270.0 364.5,285.0 370.5,298.5 376.8,315.0 390.0,350.0 399.5,385.0 403.0,400.0" fill="none" stroke="#49ffad" stroke-width="3.8" stroke-linejoin="round"/>
<polyline points="407.0,437.5 408.6,455.0 410.3,476.0" fill="none" stroke="#49ffad" stroke-width="2.0" stroke-linejoin="round"/>
<polyline points="334.0,128.0 335.0,150.0 336.0,168.0 337.2,180.0 340.3,195.0 346.0,225.0 351.0,246.0 354.0,255.0" fill="none" stroke="#b1ff46" stroke-width="1.4" stroke-linejoin="round"/>
<polyline points="351.0,246.0 354.0,255.0 358.5,270.0 364.5,285.0 370.5,298.5 376.8,315.0 390.0,350.0 399.5,385.0 403.0,400.0 405.5,420.0" fill="none" stroke="#ffd000" stroke-width="1.9" stroke-linejoin="round"/>
<polyline points="358.5,270.0 364.5,285.0 370.5,298.5 376.8,315.0 390.0,350.0 399.5,385.0 403.0,400.0" fill="none" stroke="#ffd000" stroke-width="2.5" stroke-linejoin="round"/>
<polyline points="358.5,270.0 364.5,285.0 370.5,298.5 376.8,315.0 390.0,350.0 399.5,385.0 403.0,400.0" fill="none" stroke="#ff5900" stroke-width="1.5" stroke-linejoin="round"/>
<polyline points="403.0,400.0 405.5,420.0 407.0,437.5 408.6,455.0" fill="none" stroke="#b1ff46" stroke-width="1.2" stroke-linejoin="round"/>
</g>
<rect x="100.5" y="60.5" width="496" height="480" fill="none" stroke="#000" stroke-width="1"/>
<path d="M100.5 540v-5.7M100.5 61v5.7M162.5 540v-5.7M162.5 61v5.7M224.5 540v-5.7M224.5 61v5.7M286.5 540v-5.7M286.5 61v5.7M348.5 540v-5.7M348.5 61v5.7M410.5 540v-5.7M410.5 61v5.7M472.5 540v-5.7M472.5 61v5.7M534.5 540v-5.7M534.5 61v5.7M596.5 540v-5.7M596.5 61v5.7M101 540.5h5.7M596 540.5h-5.7M101 487.5h5.7M596 487.5h-5.7M101 433.5h5.7M596 433.5h-5.7M101 380.5h5.7M596 380.5h-5.7M101 327.5h5.7M596 327.5h-5.7M101 273.5h5.7M596 273.5h-5.7M101 220.5h5.7M596 220.5h-5.7M101 167.5h5.7M596 167.5h-5.7M101 113.5h5.7M596 113.5h-5.7M101 60.5h5.7M596 60.5h-5.7" stroke="#000" stroke-width="1" fill="none"/>
<rect x="627" y="60" width="25" height="61" fill="#c40000"/>
<rect x="627" y="121" width="25" height="61" fill="#ff5900"/>
<rect x="627" y="181" width="25" height="61" fill="#ffd000"/>
<rect x="627" y="241" width="25" height="61" fill="#b1ff46"/>
<rect x="627" y="301" width="25" height="61" fill="#49ffad"/>
<rect x="627" y="361" width="25" height="61" fill="#00c0ff"/>
<rect x="627" y="421" width="25" height="61" fill="#0040ff"/>
<rect x="627" y="481" width="25" height="59" fill="#0000c8"/>
<rect x="627.5" y="60.5" width="24" height="480" fill="none" stroke="#000" stroke-width="1"/>
<path d="M651 120.5h-5.5M651 180.5h-5.5M651 240.5h-5.5M651 300.5h-5.5M651 360.5h-5.5M651 420.5h-5.5M651 480.5h-5.5" stroke="#000" stroke-width="1"/>
<rect x="67.47" y="550.80" width="10.44" height="1.35" fill="#000"/><text transform="scale(1.04 1)" x="77.07 87.27 97.46 107.66 117.86" y="557.00" font-size="16.67">20000</text>
<rect x="129.47" y="550.80" width="10.44" height="1.35" fill="#000"/><text transform="scale(1.04 1)" x="136.68 146.88 157.08 167.28 177.48" y="557.00" font-size="16.67">15000</text>
<rect x="191.47" y="550.80" width="10.44" height="1.35" fill="#000"/><text transform="scale(1.04 1)" x="196.30 206.50 216.70 226.89 237.09" y="557.00" font-size="16.67">10000</text>
<rect x="258.77" y="550.80" width="10.44" height="1.35" fill="#000"/><text transform="scale(1.04 1)" x="261.01 271.21 281.41 291.61" y="557.00" font-size="16.67">5000</text>
<text transform="scale(1.04 1)" x="329.21" y="557.00" font-size="16.67">0</text>
<text transform="scale(1.04 1)" x="373.53 383.73 393.93 404.12" y="557.00" font-size="16.67">5000</text>
<text transform="scale(1.04 1)" x="428.05 438.24 448.44 458.64 468.84" y="557.00" font-size="16.67">10000</text>
<text transform="scale(1.04 1)" x="487.66 497.86 508.06 518.25 528.45" y="557.00" font-size="16.67">15000</text>
<text transform="scale(1.04 1)" x="547.28 557.47 567.67 577.87 588.07" y="557.00" font-size="16.67">20000</text>
<text transform="scale(1.04 1)" x="80.55" y="545.80" font-size="16.67">0</text>
<text transform="scale(1.04 1)" x="60.16 70.36 80.55" y="492.47" font-size="16.67">100</text>
<text transform="scale(1.04 1)" x="60.16 70.36 80.55" y="439.13" font-size="16.67">200</text>
<text transform="scale(1.04 1)" x="60.16 70.36 80.55" y="385.80" font-size="16.67">300</text>
<text transform="scale(1.04 1)" x="60.16 70.36 80.55" y="332.47" font-size="16.67">400</text>
<text transform="scale(1.04 1)" x="60.16 70.36 80.55" y="279.13" font-size="16.67">500</text>
<text transform="scale(1.04 1)" x="60.16 70.36 80.55" y="225.80" font-size="16.67">600</text>
<text transform="scale(1.04 1)" x="60.16 70.36 80.55" y="172.47" font-size="16.67">700</text>
<text transform="scale(1.04 1)" x="60.16 70.36 80.55" y="119.13" font-size="16.67">800</text>
<text transform="scale(1.04 1)" x="60.16 70.36 80.55" y="65.80" font-size="16.67">900</text>
<text transform="scale(1.04 1)" x="630.46" y="66.00" font-size="16.67">0</text>
<rect x="656.97" y="119.80" width="10.44" height="1.35" fill="#000"/><text transform="scale(1.04 1)" x="643.89" y="126.00" font-size="16.67">5</text>
<rect x="656.97" y="179.80" width="10.44" height="1.35" fill="#000"/><text transform="scale(1.04 1)" x="643.89 654.09" y="186.00" font-size="16.67">10</text>
<rect x="656.97" y="239.80" width="10.44" height="1.35" fill="#000"/><text transform="scale(1.04 1)" x="643.89 654.09" y="246.00" font-size="16.67">15</text>
<rect x="656.97" y="299.80" width="10.44" height="1.35" fill="#000"/><text transform="scale(1.04 1)" x="643.89 654.09" y="306.00" font-size="16.67">20</text>
<rect x="656.97" y="359.80" width="10.44" height="1.35" fill="#000"/><text transform="scale(1.04 1)" x="643.89 654.09" y="366.00" font-size="16.67">25</text>
<rect x="656.97" y="419.80" width="10.44" height="1.35" fill="#000"/><text transform="scale(1.04 1)" x="643.89 654.09" y="426.00" font-size="16.67">30</text>
<rect x="656.97" y="479.80" width="10.44" height="1.35" fill="#000"/><text transform="scale(1.04 1)" x="643.89 654.09" y="486.00" font-size="16.67">35</text>
<rect x="656.97" y="539.80" width="10.44" height="1.35" fill="#000"/><text transform="scale(1.04 1)" x="643.89 654.09" y="546.00" font-size="16.67">40</text>
<text transform="scale(1.04 1)" x="275.86 281.51 287.85 297.51 307.68 317.69 327.70 337.66 346.81 355.98 361.19 367.05 379.16 387.91" y="575.80" font-size="16.9">frequency (Hz)</text>
<g transform="translate(53.6 600) rotate(-90)"><text transform="scale(1.04 1)" x="258.17 264.01 268.88 283.96 293.79 299.00 304.89 313.60" y="0.00" font-size="16.9">time (s)</text></g>
<text transform="scale(1.04 1)" x="63.10 75.33 87.57 99.58 105.27 121.93 136.47 146.84 152.64 163.15 168.52 180.72 192.71 204.68 209.84 214.72 226.62 239.57 254.56 260.81 268.40 280.64 292.87 305.11 317.34 329.58 341.81 354.05 364.97 375.90 388.13 400.37 412.60 424.84 437.07 448.00 458.52 473.09 489.18 501.08 512.98 525.19 537.43 548.35 558.47 569.89 583.58 599.43" y="48.00" font-size="20.4">150 MHz signal PSD (20120302_063615_DMSPF15_TRO)</text>
</svg>
</body></html>
